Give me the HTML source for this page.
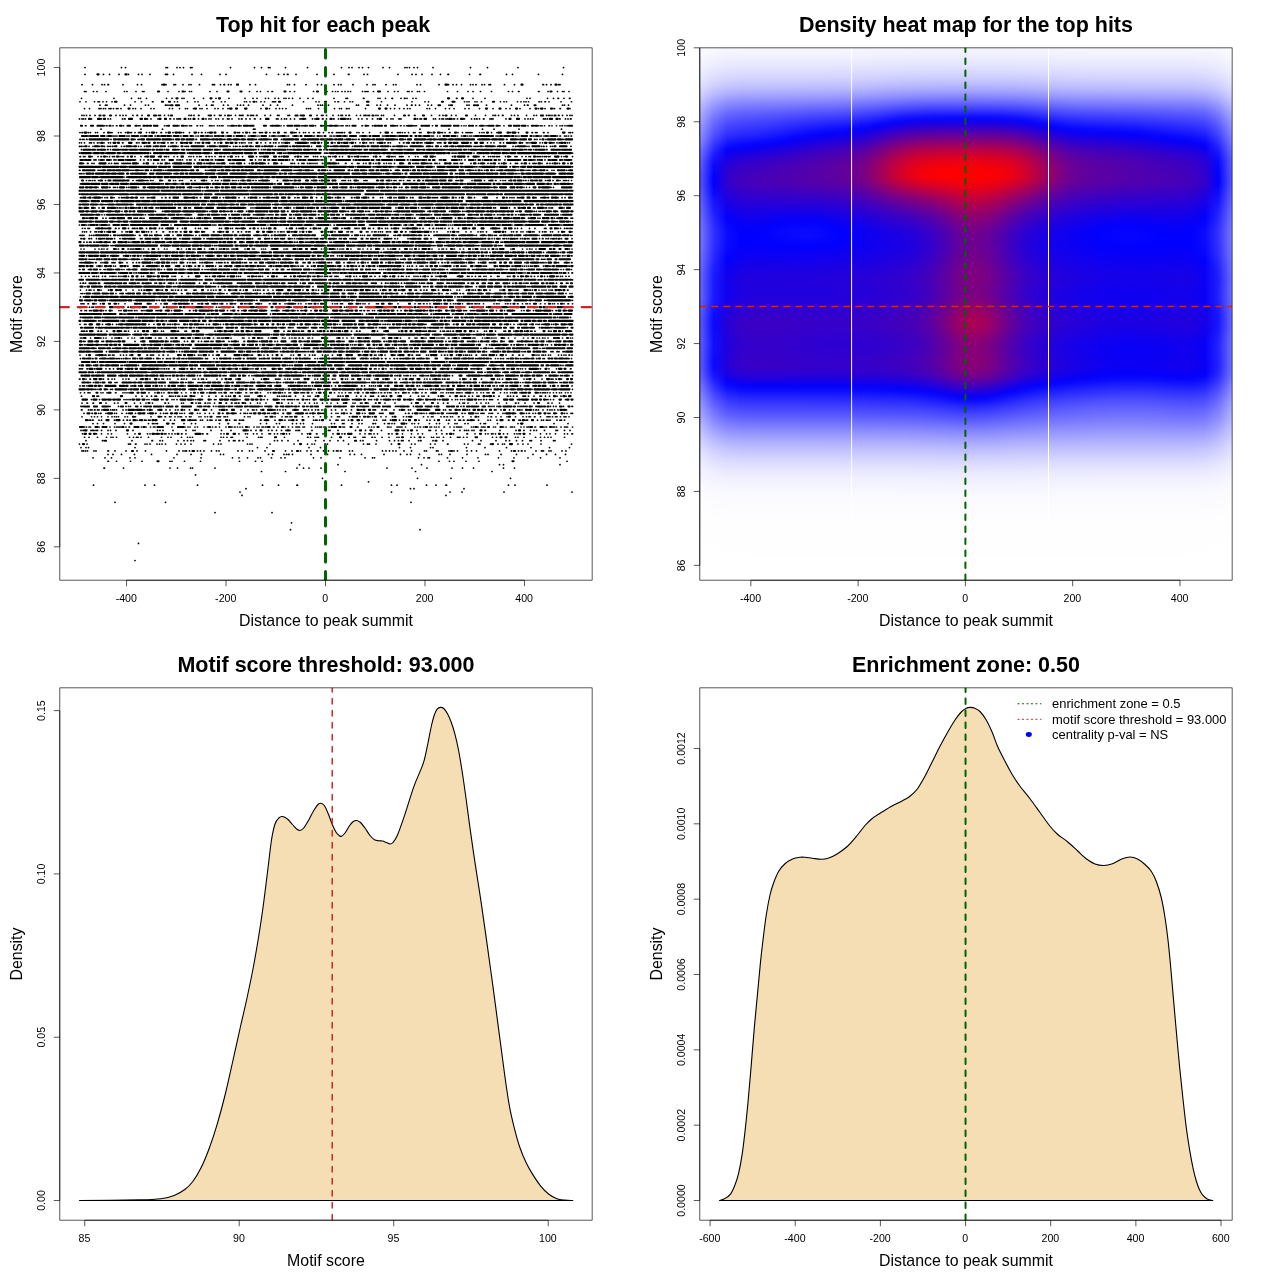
<!DOCTYPE html>
<html><head><meta charset="utf-8"><title>Motif enrichment plots</title>
<style>html,body{margin:0;padding:0;background:#fff}svg{display:block}</style></head>
<body><svg style="will-change:transform" width="1280" height="1280" viewBox="0 0 1280 1280">
<rect width="1280" height="1280" fill="#fff"/>
<clipPath id="c1"><rect x="59.76" y="47.81" width="532.43" height="532.43"/></clipPath>
<g fill="none" stroke="#000" stroke-width="1.7" stroke-linecap="round">
<path d="M239.95 492.05H572.1" stroke-dasharray=".1 151.4 .1 58.4 .1 11.9 .1 41.9 .1 67.9 .1 600"/>
<path d="M245.95 488.63H464.1" stroke-dasharray=".1 164.4 .1 3.4 .1 49.9 .1 600"/>
<path d="M93.45 485.2H547.1" stroke-dasharray=".1 51.4 .1 9.4 .1 42.9 .1 64.9 .1 15.9 .1 18.4 .6 43.9 .1 49.9 .1 5.4 .1 29.4 .1 9.4 .1 9.9 .6 61.9 .1 6.4 .1 31.9 .1 600"/>
<path d="M368.45 481.78H368.6" stroke-dasharray=".1 600"/>
<path d="M322.45 478.36H510.6" stroke-dasharray=".1 94.9 .1 33.4 .1 59.4 .1 600"/>
<path d="M195.45 474.93H195.6" stroke-dasharray=".1 600"/>
<path d="M261.45 471.51H492.1" stroke-dasharray=".1 23.9 .1 59.4 .1 70.4 .1 76.4 .1 600"/>
<path d="M103.95 468.09H514.6" stroke-dasharray=".6 18.9 .1 46.4 .1 7.4 .1 12.9 .1 1.9 .1 22.4 .1 81.9 .1 6.4 .1 5.4 .1 11.9 .1 65.9 .1 24.9 .1 14.9 .1 24.9 .1 10.4 .1 10.9 .1 29.9 .1 10.9 .1 600"/>
<path d="M299.45 464.66H560.1" stroke-dasharray=".1 38.4 .1 83.4 .1 77.9 .1 3.9 .1 56.4 .1 600"/>
<path d="M107.95 461.24H567.1" stroke-dasharray=".6 7.9 .1 13.9 .1 11.4 .1 27.9 .1 1.9 .1 12.4 .1 15.9 .1 38.9 .1 15.9 .1 6.4 .1 176.9 .1 10.4 .1 4.4 .1 11.9 .1 12.9 .1 87.9 .1 600"/>
<path d="M92.95 457.82H560.1" stroke-dasharray=".1 11.9 .1 6.4 .1 18.4 .1 4.9 .1 38.9 .1 26.9 .1 31.4 .1 6.4 .1 8.4 .1 10.4 .1 2.4 .1 10.9 .1 9.4 .1 3.9 .1 28.4 .1 7.4 .1 18.9 .1 24.9 .1 7.4 .1 1.9 .1 43.9 .1 5.4 .1 3.9 .1 1.4 .1 17.9 .1 14.9 .1 15.4 .1 20.4 .1 15.4 .1 13.9 .1 12.4 .1 19.4 .1 600"/>
<path d="M107.95 454.39H565.6" stroke-dasharray=".1 4.9 .1 8.4 .1 12.9 .1 16.9 .1 25.4 .1 13.9 .1 10.4 .1 18.9 .1 2.9 .1 44.9 .1 3.9 .1 11.4 .1 2.4 .1 1.9 .6 3.4 .1 18.4 .1 16.4 .1 22.4 .1 4.4 .1 6.9 .1 22.4 .1 16.4 .1 6.4 .1 3.4 .1 8.9 .1 19.4 .1 2.4 .1 8.4 .1 16.9 .1 18.4 .1 2.4 .1 12.9 .1 15.4 .1 16.4 .1 13.4 .1 8.9 .1 9.9 .1 600"/>
<path d="M81.95 450.97H566.1" stroke-dasharray=".1 1.4 .1 1.9 .1 1.9 .1 6.4 .1 1.9 .1 11.9 .6 6.4 .1 10.9 .1 10.9 .1 8.4 .1 20.9 .1 12.4 .1 3.9 .1 1.9 .1 1.4 .1 2.9 .1 7.9 .1 2.9 .1 3.4 .1 7.4 .1 4.9 .1 2.4 .1 18.9 .1 3.9 .1 7.4 .1 2.9 .1 12.4 .1 20.4 .1 6.4 .1 8.4 .1 6.4 .1 3.9 .1 6.4 .6 5.4 .1 4.9 .1 4.9 .1 2.9 .1 1.4 .1 2.4 .6 8.4 .1 2.9 .1 29.9 .1 3.4 .1 3.4 .1 3.4 .1 2.9 .1 7.9 .1 7.4 .1 12.9 .1 1.9 .1 9.9 .1 1.4 .1 10.9 .1 4.9 .1 3.4 .1 9.4 .1 4.4 .1 4.9 .1 22.9 .1 11.9 .1 6.9 .1 2.9 .6 2.9 .1 10.9 .1 5.4 .6 1.4 .1 5.4 .1 1.9 .1 10.9 .1 3.9 .1 600"/>
<path d="M80.95 447.55H569.6" stroke-dasharray=".1 4.9 .1 2.4 .1 46.4 .1 122.4 .1 9.4 .1 41.9 .1 11.4 .1 78.9 .1 10.9 .1 19.9 .1 2.4 .1 33.4 .1 18.4 .1 21.4 .1 24.4 .1 18.4 .1 19.9 .1 600"/>
<path d="M79.45 444.12H571.6" stroke-dasharray=".1 7.4 .1 41.4 .6 1.4 .1 4.9 .6 8.9 .1 1.9 .1 2.9 .1 6.9 .1 2.4 .1 2.4 .1 3.4 .1 10.9 .1 4.4 .1 3.9 .1 5.9 .1 22.4 .1 4.9 .1 2.4 .1 26.4 .1 2.4 .1 1.9 .1 17.9 .1 23.9 .1 13.4 .1 4.4 .1 2.4 .1 10.4 .6 1.9 .1 20.9 .1 14.9 .1 3.9 .6 1.4 .1 6.4 .1 15.4 .1 19.9 .1 3.4 .1 15.4 .1 4.4 .1 12.4 .6 16.4 .1 3.4 .1 10.4 .1 1.4 .1 10.4 .1 7.4 .1 4.4 .1 1.9 .1 13.4 .1 4.9 .1 4.9 .1 12.9 .1 30.4 .1 600"/>
<path d="M85.95 440.7H555.1" stroke-dasharray=".1 16.4 .6 28.9 .1 19.9 .6 7.4 .1 2.4 .1 15.4 .1 5.9 .1 3.4 .1 3.4 .1 2.4 .1 10.4 .1 1.4 .1 14.4 .1 8.9 .1 4.4 .1 1.4 .1 3.9 .6 3.4 .1 31.4 .1 2.9 .1 4.4 .1 5.9 .1 9.9 .1 17.4 .1 8.4 .1 5.9 .1 7.9 .1 5.4 .1 16.9 .1 2.4 .1 13.4 .1 12.9 .1 4.9 .1 3.9 .1 2.9 .1 1.4 .1 5.9 .1 9.4 .1 1.9 .6 11.9 .1 9.9 .1 29.4 .1 8.4 .1 14.9 .1 9.9 .1 3.4 .1 6.9 .1 5.9 .1 7.4 .1 1.4 .1 9.4 .1 12.4 .1 1.4 .1 600"/>
<path d="M84.45 437.27H564.6" stroke-dasharray=".1 4.4 .1 8.4 .1 8.9 .1 4.4 .1 1.9 .1 3.4 .1 12.9 .1 3.9 .1 2.9 .1 1.4 .1 2.9 .1 7.4 .1 12.9 .1 6.4 .1 2.9 .1 10.4 .1 5.9 .1 2.4 .1 2.4 .1 28.4 .1 2.4 .1 3.4 .1 3.9 .1 1.4 .1 14.4 .1 11.4 .1 1.9 .1 1.4 .1 22.4 .1 22.9 .6 2.4 .1 4.4 .1 1.9 .1 1.4 .1 12.9 .1 17.4 .1 4.9 .1 1.4 .1 7.4 .1 1.4 .6 6.9 .6 2.4 .1 6.9 .1 6.9 .1 7.9 .1 1.9 .1 11.9 .1 3.4 .1 9.4 .1 7.4 .1 1.9 .1 3.4 .1 1.9 .1 4.4 .1 6.9 .1 6.9 .6 1.4 .6 3.4 .1 3.4 .1 25.4 .1 3.9 .1 18.9 .1 2.4 .1 5.9 .1 11.4 .1 4.9 .1 3.9 .1 3.4 .1 2.9 .1 13.4 .1 600"/>
<path d="M82.45 433.85H572.6" stroke-dasharray=".1 13.9 .1 4.9 .1 6.4 .1 3.4 .1 15.9 .1 7.4 .1 12.4 .1 2.4 .1 5.4 .1 3.9 .1 4.9 .1 1.4 .1 2.9 .1 2.9 .1 2.9 .1 6.4 .6 3.9 .1 16.4 .6 3.9 .6 13.4 .1 2.9 .1 14.9 .1 6.4 .1 1.9 .1 5.9 .1 3.4 .1 4.9 .1 6.9 .1 1.4 .1 3.9 .1 2.9 .1 3.4 .1 5.4 .1 2.9 .1 12.4 .1 5.4 .1 8.9 .6 5.9 .1 9.9 .1 8.9 .1 2.4 .6 14.9 .1 4.9 .1 3.9 .6 1.4 .1 2.9 .1 3.4 .1 10.9 .6 2.9 .1 10.4 .1 8.9 .1 6.4 .1 4.4 .1 13.9 .1 5.4 .1 4.4 .6 6.4 .1 13.4 .6 7.4 .1 10.4 .1 2.4 .1 3.4 .1 1.4 .1 2.4 .1 7.9 .1 3.9 .1 6.9 .1 2.4 .1 1.9 .1 1.4 .1 9.4 .1 10.4 .1 5.9 .1 3.4 .1 5.4 .1 8.9 .1 2.9 .1 4.4 .6 600"/>
<path d="M80.95 430.43H570.1" stroke-dasharray=".1 1.9 .6 7.4 .1 1.4 .1 1.4 .1 1.9 .1 1.4 .1 3.9 .1 6.4 .1 2.4 .1 5.4 .1 16.9 .1 24.4 .1 2.4 .1 2.9 .1 9.9 .1 12.9 .1 6.9 .1 1.9 .1 15.9 .1 10.4 .1 9.4 .1 16.9 .1 2.9 .1 4.9 .1 12.4 .1 3.4 .1 4.4 .1 4.9 .1 4.4 .1 3.9 .1 5.9 .1 1.9 .1 1.4 .1 12.4 .1 12.9 .1 3.4 .1 1.4 .1 7.9 .1 17.4 .1 9.9 .1 15.9 .1 20.4 .1 1.4 .6 3.9 .1 8.9 .1 11.9 .1 1.4 .1 5.4 .1 5.4 .1 12.4 .1 5.9 .1 4.4 .1 1.9 .1 1.9 .1 3.4 .1 1.9 .1 10.9 .6 14.4 .1 15.9 .1 7.9 .1 6.4 .1 3.4 .1 2.4 .1 7.9 .1 11.4 .1 1.4 .1 6.9 .1 5.4 .1 600"/>
<path d="M84.45 427H572.6" stroke-dasharray=".1 1.9 .1 2.4 .1 1.4 .1 8.4 .1 10.9 .1 4.4 .1 1.9 .1 1.4 .1 1.4 .1 1.4 .1 4.9 .1 2.9 .6 11.9 .1 4.4 .1 4.4 .1 2.9 .1 1.4 .1 16.9 .1 12.9 .1 2.9 .1 1.9 .1 4.9 .1 2.4 .1 6.4 .1 3.4 .1 4.9 .1 2.9 .6 3.4 .1 6.4 .1 5.4 .6 2.4 .6 2.4 .1 2.4 .1 2.4 .1 6.4 .1 4.9 .1 2.9 .1 1.9 .1 2.9 .1 1.4 .1 1.9 .6 7.4 .6 3.9 .1 6.9 .1 3.4 .1 3.9 .1 3.4 .1 1.4 .6 1.4 .1 3.4 .1 1.4 .1 6.9 .1 3.9 .1 1.9 .1 1.9 .1 1.4 .6 2.4 .1 4.9 .1 13.9 .1 1.4 .1 12.9 .6 10.9 .1 2.4 .1 2.4 .1 13.4 .1 1.4 .1 1.9 .1 5.9 .1 1.4 .1 1.4 .1 1.4 .6 3.4 .1 9.4 .1 2.4 .1 2.4 .6 2.9 .1 6.4 .1 1.4 .1 2.9 .1 1.9 .1 2.4 .1 4.9 .6 5.4 .1 3.9 .1 2.4 .6 1.4 .1 1.4 .1 1.4 .1 9.9 .1 1.9 .1 4.4 .1 3.4 .6 1.4 .1 1.4 .1 8.4 .1 1.9 .1 7.9 .1 2.4 .1 4.4 .1 1.4 .6 1.9 .1 6.4 .1 2.9 .1 2.9 .1 1.4 .6 5.9 .6 8.4 .1 1.9 .6 5.9 .1 1.4 .6 1.9 .1 4.4 .1 3.4 .1 1.4 .1 1.4 .1 4.9 .1 600"/>
<path d="M92.95 423.58H568.1" stroke-dasharray=".1 4.4 .1 5.9 .1 11.4 .1 9.4 .1 23.9 .1 3.9 .1 1.4 .1 1.9 .1 1.4 .1 14.9 .1 1.4 .1 9.9 .1 7.4 .1 3.9 .1 23.9 .1 8.4 .6 10.4 .6 20.9 .1 5.9 .1 9.9 .1 2.9 .1 12.9 .1 3.9 .1 3.9 .1 2.9 .1 8.9 .1 18.9 .1 2.9 .1 7.9 .1 1.4 .1 7.9 .1 6.9 .1 2.9 .1 10.9 .6 1.9 .1 8.9 .1 3.4 .1 1.4 .1 2.4 .1 2.4 .1 11.9 .1 5.4 .1 2.4 .1 3.9 .1 10.9 .1 6.9 .1 2.9 .1 8.9 .1 6.4 .1 1.9 .1 7.9 .1 2.9 .1 12.4 .1 3.4 .1 1.4 .1 11.9 .1 20.4 .1 35.9 .1 13.9 .1 600"/>
<path d="M88.95 420.16H564.6" stroke-dasharray=".1 1.4 .1 1.9 .6 5.9 .1 2.4 .1 12.9 .1 8.9 .1 3.4 .6 2.4 .1 6.9 .1 2.4 .1 4.9 .1 1.4 .1 2.4 .1 1.4 .1 13.9 .1 6.4 .1 3.9 .1 13.4 .1 3.9 .6 1.4 .1 1.4 .6 4.4 .1 1.9 .1 4.9 .1 2.4 .6 1.4 .1 3.9 .1 2.9 .1 1.4 .1 8.9 .1 4.9 .1 1.4 .1 3.4 .6 1.9 .1 1.4 .1 16.9 .6 3.4 .1 3.9 .1 6.4 .1 7.4 .1 2.4 .1 3.9 .1 1.9 .1 5.4 .6 16.4 .1 1.9 .1 1.4 .1 2.4 .1 10.4 .1 5.9 .6 1.4 .1 3.9 .1 1.9 .1 4.4 .1 13.4 .1 11.9 .1 2.4 .1 6.4 .1 1.9 .6 4.9 .1 8.9 .1 3.9 .1 2.4 .1 12.9 .1 7.9 .1 2.9 .1 4.4 .1 11.9 .1 2.4 .6 5.4 .1 3.9 .1 1.4 .1 2.9 .6 3.4 .1 1.4 .1 4.4 .6 4.4 .1 9.4 .1 2.4 .1 6.4 .1 11.4 .6 9.9 .1 1.4 .1 5.4 .1 1.4 .1 9.9 .1 3.9 .1 1.9 .1 2.9 .1 1.4 .1 1.9 .1 6.9 .1 2.9 .1 1.4 .1 2.9 .1 600"/>
<path d="M81.95 416.73H569.1" stroke-dasharray=".1 9.4 .1 2.9 .1 2.9 .1 3.9 .1 6.4 .1 3.9 .1 2.4 .1 1.9 .1 1.9 .1 6.4 .1 2.4 .1 7.9 .1 15.4 .1 10.4 .1 3.4 .6 3.9 .1 1.4 .1 3.9 .1 2.9 .1 1.9 .1 1.4 .1 4.4 .1 3.4 .1 1.4 .1 7.9 .1 1.9 .1 3.9 .1 2.4 .1 9.4 .1 1.4 .1 1.4 .6 3.4 .1 1.4 .1 1.9 .1 16.9 .1 3.4 .1 1.9 .1 15.4 .1 1.4 .1 7.9 .1 6.9 .1 3.4 .6 1.4 .1 2.4 .6 1.4 .1 10.4 .1 5.9 .1 4.9 .1 6.9 .1 10.9 .1 5.9 .6 1.4 .1 9.9 .1 10.4 .1 9.9 .1 2.4 .1 8.4 .1 4.9 .1 6.4 .1 10.9 .1 2.9 .1 1.9 .1 14.9 .1 4.4 .1 3.4 .1 1.4 .1 7.9 .1 2.9 .6 2.4 .6 2.9 .1 1.9 .1 5.9 .6 3.9 .1 7.9 .1 7.4 .1 9.4 .1 2.9 .6 4.4 .1 4.9 .1 5.9 .1 8.4 .1 7.4 .1 3.4 .1 2.4 .1 1.4 .1 3.9 .6 5.4 .1 6.4 .1 1.4 .1 1.4 .1 2.4 .1 2.9 .1 1.4 .1 3.4 .1 3.4 .1 1.4 .6 2.9 .1 600"/>
<path d="M83.95 413.31H572.6" stroke-dasharray=".1 7.9 .6 5.9 .1 1.9 .6 4.9 .1 8.4 .1 1.9 .1 5.4 .1 4.4 .1 1.9 .1 6.9 .1 12.4 .1 7.4 .6 4.4 .1 2.9 .1 1.9 .1 1.4 .6 6.9 .1 5.4 .1 1.9 .1 2.4 .1 4.9 .1 7.9 .1 2.4 .1 4.9 .1 4.4 .1 3.9 .1 8.9 .6 6.9 .1 5.4 .6 4.4 .1 3.4 .1 1.4 .1 1.9 .1 2.4 .1 1.4 .1 10.9 .1 4.9 .1 1.4 .6 2.4 .1 5.9 .1 4.9 .6 11.9 .1 10.4 .1 1.4 .1 2.4 .6 4.4 .1 5.4 .1 1.4 .1 1.4 .6 7.4 .1 4.4 .1 1.9 .1 3.4 .6 4.9 .1 3.4 .6 11.4 .1 2.4 .1 14.4 .1 1.4 .1 1.4 .6 22.4 .1 2.9 .6 3.4 .1 7.4 .1 1.4 .6 1.9 .1 2.4 .1 2.9 .1 5.4 .6 1.9 .1 1.4 .1 7.9 .1 1.9 .1 1.4 .1 1.4 .1 1.4 .6 7.9 .6 2.4 .1 10.9 .1 1.9 .1 2.9 .1 1.4 .1 1.4 .1 4.9 .1 1.9 .1 1.4 .1 5.4 .1 4.9 .1 1.9 .1 10.4 .1 7.9 .6 2.4 .1 2.4 .6 3.4 .1 2.4 .1 12.4 .6 1.4 .1 6.4 .1 7.9 .1 2.4 .1 3.9 .1 1.4 .1 600"/>
<path d="M81.45 409.89H566.6" stroke-dasharray=".6 6.4 .1 1.9 .1 1.4 .1 2.4 .6 2.4 .1 1.4 .1 2.9 .1 8.4 .1 1.9 .6 1.4 .1 1.9 .1 6.4 .1 2.9 .1 9.4 .1 7.4 .1 1.4 .1 2.9 .1 4.4 .1 5.9 .1 7.9 .1 3.9 .1 5.4 .1 2.4 .1 6.4 .1 4.9 .1 8.9 .1 7.4 .6 4.9 .1 7.9 .6 6.4 .6 13.9 .1 6.9 .1 4.4 .1 1.4 .1 2.4 .1 4.4 .1 12.4 .1 1.4 .1 2.4 .1 2.4 .1 2.9 .1 2.4 .1 7.4 .1 4.4 .6 5.9 .6 1.4 .1 2.4 .1 3.4 .1 3.4 .1 2.4 .6 3.4 .1 2.4 .1 1.4 .1 5.4 .1 3.9 .1 6.4 .1 3.9 .1 5.4 .1 8.4 .1 1.4 .1 11.4 .6 1.4 .6 6.4 .6 2.4 .1 1.4 .1 7.4 .1 5.4 .1 4.9 .1 3.9 .1 1.9 .1 18.9 .1 13.9 .1 1.9 .1 3.9 .1 1.4 .1 6.9 .1 1.4 .6 7.4 .1 1.9 .1 15.9 .6 8.4 .1 1.4 .1 4.9 .1 8.4 .1 3.9 .1 3.9 .6 1.4 .6 1.9 .1 6.4 .1 4.9 .1 2.4 .6 1.9 .1 4.4 .1 4.4 .1 2.4 .1 1.9 .1 2.4 .1 3.4 .1 8.4 .1 600"/>
<path d="M80.95 406.46H572.6" stroke-dasharray=".1 1.4 .1 25.9 .1 1.4 .1 8.4 .1 7.4 .1 2.4 .1 1.9 .1 10.4 .1 2.9 .1 4.4 .1 14.9 .1 33.9 .1 6.4 .1 1.4 .6 7.4 .1 2.4 .1 10.4 .1 4.4 .1 1.4 .1 2.4 .1 12.4 .6 11.9 .1 1.9 .1 2.9 .1 1.4 .1 13.9 .1 10.4 .6 1.4 .1 5.4 .6 7.4 .1 1.4 .1 6.4 .1 15.9 .6 14.4 .6 7.9 .1 2.9 .6 1.4 .1 1.4 .6 5.4 .6 1.4 .1 16.9 .1 9.9 .1 1.4 .1 1.4 .6 14.4 .1 11.9 .1 8.9 .1 26.4 .1 2.4 .6 14.4 .1 9.9 .1 1.4 .1 1.9 .1 1.9 .1 2.9 .1 20.9 .1 1.9 .1 1.4 .6 1.4 .6 1.4 .1 1.4 .1 4.9 .1 3.9 .6 13.9 .1 2.9 .1 2.4 .1 7.4 .1 8.4 .6 600"/>
<path d="M81.95 403.04H559.6" stroke-dasharray=".1 4.9 .6 5.4 .6 12.4 .1 8.4 .1 3.4 .1 16.4 .1 5.9 .1 5.4 .1 6.4 .1 12.4 .6 2.9 .1 12.9 .1 1.9 .1 12.4 .1 2.4 .6 1.4 .1 4.4 .6 2.4 .1 1.9 .1 4.4 .1 11.4 .6 4.9 .6 2.9 .1 1.4 .1 1.9 .6 5.9 .6 4.9 .1 6.9 .1 2.4 .1 5.9 .1 15.4 .6 6.4 .1 3.4 .1 7.4 .1 5.4 .1 4.4 .1 4.9 .1 2.4 .1 5.4 .1 4.4 .1 3.9 .1 6.4 .1 5.9 .6 8.9 .1 1.9 .1 5.4 .1 1.4 .1 5.9 .1 7.4 .6 8.9 .1 9.9 .1 16.4 .1 12.4 .1 13.9 .1 5.4 .1 3.9 .6 11.4 .1 3.4 .1 1.4 .1 3.4 .1 8.4 .1 4.4 .1 4.9 .1 2.4 .1 10.4 .1 7.4 .1 8.9 .6 2.4 .1 6.4 .1 8.9 .1 13.9 .6 3.4 .1 7.4 .1 600"/>
<path d="M91.45 399.62H565.6" stroke-dasharray=".1 7.9 .1 12.4 .1 11.9 .1 1.9 .1 1.9 .1 1.9 .6 16.4 .1 1.9 .1 2.9 .1 9.4 .1 1.4 .1 8.9 .1 1.9 .1 2.9 .1 16.4 .1 1.9 .1 1.9 .1 4.9 .1 8.4 .1 3.4 .1 1.4 .1 14.4 .1 6.9 .6 1.9 .1 23.9 .1 3.4 .1 11.4 .1 2.9 .1 1.9 .6 2.9 .1 1.4 .1 1.4 .1 1.4 .6 1.9 .1 2.4 .1 1.4 .1 7.4 .1 1.4 .1 1.9 .1 6.4 .1 32.9 .1 3.4 .1 1.4 .6 6.9 .1 6.9 .6 1.9 .6 2.9 .1 6.4 .1 2.4 .1 6.9 .1 2.4 .6 1.9 .1 11.4 .6 5.4 .1 3.9 .1 5.9 .1 5.9 .1 1.4 .6 1.4 .1 4.9 .1 1.9 .6 11.9 .1 3.4 .1 1.9 .1 2.9 .1 1.9 .1 1.9 .1 13.9 .6 1.9 .1 2.4 .6 2.4 .1 2.9 .1 1.4 .1 1.4 .1 5.4 .1 19.4 .1 28.9 .1 1.4 .1 2.4 .1 2.9 .1 11.9 .1 600"/>
<path d="M81.45 396.19H566.1" stroke-dasharray=".1 15.4 .1 1.4 .1 37.4 .1 5.9 .1 4.9 .1 4.4 .1 3.4 .1 1.4 .1 5.4 .1 7.4 .1 1.4 .1 1.9 .1 2.4 .1 2.4 .1 1.4 .1 2.9 .1 2.4 .1 1.4 .1 6.4 .1 1.4 .1 7.4 .1 6.9 .1 6.9 .1 5.9 .6 3.4 .1 2.4 .1 1.9 .1 8.9 .6 4.9 .1 1.9 .1 1.9 .1 8.9 .1 3.9 .1 2.9 .1 12.4 .1 1.9 .1 2.4 .1 1.9 .6 1.9 .1 2.4 .1 1.4 .1 4.9 .1 7.9 .1 4.4 .1 1.9 .1 5.4 .1 8.9 .1 3.9 .1 9.4 .6 1.9 .1 2.4 .1 13.4 .1 4.4 .1 4.4 .1 4.9 .1 1.4 .1 1.4 .1 4.9 .1 3.4 .1 1.4 .6 2.4 .1 11.4 .1 12.4 .1 7.9 .1 3.4 .1 1.9 .1 4.4 .1 9.9 .1 4.9 .1 6.4 .1 10.4 .1 1.4 .1 2.4 .6 3.9 .1 3.4 .1 4.4 .1 1.4 .6 7.4 .1 1.4 .1 5.4 .6 4.9 .1 8.4 .6 2.4 .1 2.9 .1 3.4 .1 5.9 .6 1.4 .6 2.9 .1 5.4 .1 5.9 .1 1.4 .1 3.9 .1 3.9 .1 7.4 .1 3.9 .1 4.9 .1 600"/>
<path d="M80.45 392.77H571.1" stroke-dasharray=".1 3.9 .1 3.4 .6 1.4 .1 10.9 .1 1.9 .1 3.9 .1 8.4 .6 6.9 .1 1.9 .1 1.9 .1 1.9 .1 19.9 .1 5.9 .1 6.4 .1 2.4 .1 7.4 .6 9.4 .1 4.4 .1 4.9 .1 6.9 .1 8.9 .1 5.4 .1 6.4 .1 1.9 .6 8.9 .1 1.4 .6 2.9 .1 5.4 .1 4.9 .6 3.9 .1 1.4 .6 7.9 .1 7.4 .1 2.4 .1 5.9 .1 5.9 .1 2.4 .1 3.9 .1 1.4 .1 7.9 .1 2.4 .1 1.4 .6 1.4 .1 7.4 .1 4.4 .1 17.9 .1 4.4 .1 2.9 .1 3.4 .1 3.4 .1 1.4 .6 3.9 .1 7.9 .1 7.4 .1 5.4 .1 2.4 .1 2.4 .6 2.9 .6 2.4 .1 1.9 .1 1.4 .1 4.4 .6 2.4 .1 6.9 .6 2.4 .6 3.9 .1 4.9 .1 3.9 .1 3.4 .6 4.9 .1 9.9 .1 1.9 .1 3.4 .1 1.9 .1 1.9 .1 1.4 .1 1.4 .1 2.9 .1 1.4 .1 1.4 .6 1.9 .1 3.4 .1 7.4 .1 3.9 .1 3.9 .1 2.4 .1 3.4 .1 1.4 .6 11.4 .1 3.9 .1 2.4 .1 3.4 .1 1.9 .1 7.4 .1 18.4 .1 1.9 .1 1.9 .1 1.4 .1 1.4 .1 1.9 .1 2.4 .1 3.4 .1 2.9 .1 2.9 .1 1.9 .1 3.9 .1 2.4 .1 2.9 .1 600"/>
<path d="M93.45 389.35H572.6" stroke-dasharray=".6 1.4 .6 1.9 .1 9.4 .1 2.9 .1 1.4 .6 15.9 .6 15.9 .1 27.4 .1 16.4 .1 7.4 .1 7.9 .6 1.9 .1 1.9 .1 4.9 .6 16.4 .1 1.9 .1 19.4 .6 1.4 .1 2.9 .1 14.9 .1 1.4 .1 11.9 .1 27.4 .1 1.4 .1 5.4 .1 1.9 .1 1.9 .1 4.9 .1 37.4 .6 7.4 .6 22.4 .6 6.9 .1 13.4 .6 1.4 .1 1.4 .6 2.4 .1 1.9 .1 5.9 .1 8.4 .1 1.4 .6 46.9 .1 13.4 .1 4.4 .1 6.4 .1 8.4 .1 7.9 .1 18.9 .6 6.4 .6 13.9 .1 600"/>
<path d="M79.95 385.92H572.1" stroke-dasharray=".1 2.4 .1 1.4 .6 2.4 .1 14.9 .1 28.9 .1 1.4 .6 5.4 .6 13.9 .6 5.9 .1 1.9 .6 2.9 .1 12.9 .1 1.4 .1 5.4 .1 13.9 .1 5.9 .1 4.4 .1 13.4 .1 6.4 .1 2.4 .6 1.9 .1 7.4 .1 1.9 .6 4.4 .1 1.4 .1 1.4 .6 3.9 .1 8.9 .1 2.4 .6 6.4 .1 13.4 .6 11.9 .1 1.4 .1 1.9 .6 1.4 .1 1.9 .1 1.4 .1 2.4 .1 18.9 .1 3.9 .1 6.4 .1 1.4 .1 13.4 .1 4.4 .6 2.4 .1 4.9 .1 1.9 .1 1.9 .1 1.9 .1 2.4 .1 6.9 .6 13.9 .1 10.4 .1 6.9 .6 1.9 .1 3.4 .1 8.9 .1 1.9 .1 7.4 .1 1.4 .1 1.9 .1 17.4 .6 1.4 .1 2.9 .1 17.9 .1 1.9 .1 5.4 .1 1.4 .1 2.4 .1 2.9 .1 5.9 .1 1.4 .1 2.4 .6 9.9 .1 3.9 .1 1.4 .1 6.9 .6 16.9 .1 7.4 .1 6.4 .6 6.9 .1 600"/>
<path d="M89.95 382.5H561.6" stroke-dasharray=".6 2.9 .1 6.9 .1 14.4 .1 1.4 .6 15.4 .1 4.4 .1 6.9 .1 34.4 .1 6.9 .6 6.9 .1 4.9 .1 1.4 .1 1.4 .1 4.4 .6 18.4 .1 5.4 .1 15.9 .6 1.4 .6 12.4 .1 1.9 .1 7.4 .1 1.4 .1 1.9 .1 5.9 .6 2.9 .1 11.9 .1 37.9 .1 1.4 .1 31.9 .1 1.9 .6 15.9 .6 14.4 .6 1.4 .1 6.9 .6 61.9 .1 7.4 .1 8.9 .1 9.9 .1 1.4 .1 2.9 .1 1.4 .1 4.4 .1 11.4 .1 2.4 .1 7.9 .1 9.9 .6 13.4 .6 1.4 .1 2.9 .1 1.4 .1 600"/>
<path d="M79.45 379.08H561.6" stroke-dasharray=".6 5.9 .1 3.9 .6 12.4 .6 4.4 .6 3.4 .1 2.4 .1 8.4 .1 2.9 .1 2.4 .6 7.4 .1 3.9 .1 9.4 .1 8.9 .1 2.9 .1 1.4 .1 3.9 .1 2.4 .1 7.9 .1 3.4 .6 1.9 .1 2.4 .1 6.4 .1 1.9 .1 3.4 .1 2.9 .1 1.4 .6 2.9 .1 10.4 .1 4.9 .1 6.4 .1 7.4 .1 17.4 .1 7.9 .1 6.4 .6 6.9 .1 1.4 .1 1.4 .1 1.4 .1 4.9 .1 2.4 .1 1.9 .6 3.9 .1 1.9 .1 1.4 .1 1.4 .1 15.9 .1 2.4 .1 3.4 .1 4.9 .6 1.9 .1 3.9 .6 1.9 .1 10.4 .1 1.9 .1 4.4 .1 1.4 .1 10.9 .1 2.4 .1 1.9 .6 5.4 .1 7.9 .6 5.4 .1 5.9 .1 4.4 .1 3.4 .1 6.4 .1 14.9 .1 2.4 .1 2.9 .1 2.9 .1 4.9 .6 1.4 .1 2.4 .1 1.9 .6 2.4 .1 1.4 .1 10.9 .1 5.9 .1 4.4 .1 10.9 .1 15.9 .1 1.9 .1 2.9 .1 8.9 .1 1.9 .1 1.4 .6 1.4 .1 6.9 .1 2.4 .1 1.4 .1 6.4 .1 7.4 .1 8.9 .6 1.4 .1 2.9 .6 4.9 .1 600"/>
<path d="M118.95 375.65H572.6" stroke-dasharray=".1 24.9 .1 4.9 .1 16.4 .1 1.4 .1 1.9 .1 1.4 .1 8.4 .1 4.9 .6 2.4 .1 10.4 .1 2.4 .6 22.4 .1 1.4 .1 1.4 .1 19.4 .1 3.4 .1 2.9 .1 1.9 .6 10.9 .6 17.9 .6 18.4 .6 1.9 .1 2.9 .1 1.4 .1 2.4 .1 47.4 .1 1.9 .6 1.9 .6 8.4 .1 21.4 .1 1.9 .6 6.4 .1 1.9 .1 1.4 .6 2.4 .1 2.9 .1 1.9 .1 4.4 .6 4.4 .1 1.9 .1 1.4 .1 7.9 .6 5.9 .1 5.9 .6 2.9 .1 14.4 .1 13.9 .6 1.4 .1 1.4 .1 16.4 .1 1.4 .6 12.9 .1 1.4 .6 11.4 .6 11.4 .6 3.9 .1 11.9 .1 2.4 .6 1.4 .1 1.9 .1 4.4 .1 3.4 .1 600"/>
<path d="M95.45 372.23H555.1" stroke-dasharray=".1 27.9 .1 24.4 .6 1.4 .1 26.9 .6 24.4 .1 5.4 .6 20.4 .6 28.9 .6 1.4 .1 17.9 .1 14.9 .1 4.9 .1 1.9 .6 39.4 .1 6.4 .1 14.4 .1 24.4 .1 47.4 .1 41.4 .1 10.4 .1 14.9 .1 2.9 .1 7.9 .6 10.4 .6 1.4 .1 6.9 .6 22.9 .6 600"/>
<path d="M79.45 368.8H571.1" stroke-dasharray=".1 1.4 .1 1.4 .1 4.4 .6 6.9 .6 10.9 .1 3.4 .6 3.4 .1 11.9 .6 33.9 .1 1.9 .1 1.9 .6 1.9 .1 1.9 .6 4.9 .6 4.9 .1 7.4 .6 7.4 .1 3.4 .6 1.4 .1 2.9 .1 16.4 .1 6.9 .1 4.9 .1 1.9 .1 5.9 .1 8.9 .1 1.9 .1 1.9 .1 2.4 .1 5.9 .1 2.4 .1 1.4 .1 10.4 .1 5.9 .1 3.9 .6 4.4 .1 12.4 .1 6.9 .1 2.4 .1 15.4 .1 8.4 .1 5.9 .1 7.4 .1 23.9 .1 1.4 .1 2.9 .1 6.9 .1 4.4 .1 1.4 .1 2.4 .1 4.9 .1 7.4 .1 15.9 .1 1.4 .1 5.4 .1 10.4 .1 3.9 .1 1.4 .1 5.4 .1 2.9 .6 9.4 .1 6.4 .6 1.4 .1 1.4 .1 1.4 .1 4.9 .6 8.9 .1 6.4 .6 1.4 .1 1.9 .1 5.9 .6 1.4 .1 7.9 .1 1.4 .1 1.9 .1 1.9 .1 2.9 .1 12.9 .1 1.9 .1 8.4 .1 7.4 .1 13.9 .6 600"/>
<path d="M79.45 365.38H565.6" stroke-dasharray=".1 11.4 .1 2.4 .6 9.4 .6 6.4 .1 10.4 .1 1.4 .1 1.9 .6 13.4 .1 28.4 .6 59.9 .1 4.4 .1 5.9 .6 1.4 .1 5.4 .1 4.9 .6 14.4 .1 21.9 .1 1.9 .6 1.9 .6 12.9 .6 37.9 .1 4.4 .1 15.4 .1 20.4 .1 21.4 .1 15.4 .6 7.9 .6 12.4 .1 9.9 .1 1.9 .1 15.9 .6 14.4 .1 3.4 .1 5.9 .1 1.4 .1 1.9 .1 19.4 .6 30.9 .1 10.4 .6 1.9 .1 2.4 .1 600"/>
<path d="M97.45 361.96H568.1" stroke-dasharray=".1 29.9 .1 48.9 .1 11.9 .6 22.9 .1 1.4 .6 5.4 .1 63.4 .1 10.9 .1 1.9 .6 31.4 .1 16.4 .1 86.9 .1 14.9 .6 41.4 .1 79.4 .1 600"/>
<path d="M80.45 358.53H571.6" stroke-dasharray=".1 5.4 .6 5.9 .6 6.9 .6 6.4 .1 1.4 .1 7.4 .6 1.4 .1 1.4 .1 1.9 .1 1.9 .1 4.4 .1 1.9 .1 7.4 .1 7.4 .1 8.4 .1 6.4 .1 2.9 .1 3.4 .1 1.4 .1 1.9 .6 6.4 .1 4.9 .1 1.4 .6 1.9 .6 15.9 .1 2.9 .1 1.4 .6 6.4 .1 2.9 .1 16.4 .1 1.9 .1 1.4 .6 5.9 .6 15.4 .6 1.4 .6 3.9 .1 16.9 .6 9.9 .1 8.4 .6 6.9 .6 4.9 .1 2.4 .1 2.4 .6 10.9 .1 12.9 .6 4.4 .1 10.9 .1 7.4 .1 2.9 .6 4.4 .1 5.4 .6 3.4 .6 3.9 .1 3.9 .6 2.4 .6 2.4 .6 1.4 .1 1.4 .6 5.9 .1 6.9 .1 1.4 .1 4.9 .6 4.9 .1 19.9 .1 1.9 .6 10.4 .1 13.4 .6 1.4 .1 12.9 .6 4.4 .1 2.4 .1 2.4 .6 1.9 .6 3.4 .1 1.4 .1 9.4 .6 1.9 .6 1.9 .1 1.4 .1 3.9 .1 1.4 .1 6.4 .6 5.9 .1 1.4 .1 13.4 .1 6.4 .1 3.9 .6 2.4 .1 600"/>
<path d="M79.95 355.11H572.1" stroke-dasharray=".1 6.4 .1 9.4 .1 1.4 .1 6.4 .1 1.4 .6 2.4 .1 1.4 .1 2.4 .1 1.4 .1 6.4 .1 2.9 .1 2.9 .1 3.4 .1 16.9 .6 2.9 .1 1.4 .1 1.4 .1 5.4 .1 3.9 .6 4.4 .1 12.4 .6 13.4 .1 3.9 .6 1.9 .1 7.9 .1 3.9 .1 3.4 .1 8.4 .6 15.9 .1 7.4 .1 1.9 .1 1.4 .1 8.4 .1 2.9 .1 3.4 .6 4.4 .1 8.9 .6 8.9 .1 2.4 .1 11.4 .1 4.4 .1 2.9 .1 1.9 .6 7.4 .1 5.4 .1 4.4 .1 4.9 .6 23.9 .1 12.4 .1 1.4 .1 2.9 .1 5.9 .1 9.4 .6 2.9 .1 13.9 .6 3.9 .1 1.4 .1 1.4 .6 6.4 .1 1.9 .1 12.9 .1 2.9 .6 2.4 .1 8.9 .1 6.9 .1 1.9 .6 1.4 .1 1.9 .1 1.9 .1 4.4 .6 5.4 .1 1.4 .1 1.4 .1 1.4 .1 9.9 .1 9.4 .1 6.4 .6 5.9 .6 3.4 .1 11.9 .1 1.9 .1 1.9 .1 2.9 .1 1.4 .1 1.9 .1 2.9 .1 1.9 .1 7.9 .1 2.9 .1 2.4 .1 1.9 .1 2.9 .6 2.4 .1 600"/>
<path d="M91.95 351.69H565.1" stroke-dasharray=".1 1.4 .1 12.9 .1 13.4 .1 1.9 .6 6.9 .1 4.9 .1 1.4 .1 25.9 .1 4.9 .1 1.4 .1 7.9 .1 2.9 .1 2.4 .6 25.9 .1 8.4 .6 17.9 .1 8.9 .1 7.9 .1 1.4 .1 1.4 .1 19.9 .6 1.4 .1 2.9 .6 4.4 .1 4.4 .1 8.9 .1 1.4 .1 1.4 .6 1.4 .6 1.4 .1 1.9 .6 1.9 .6 20.4 .1 4.9 .1 7.4 .1 15.4 .1 2.9 .1 12.4 .6 2.4 .6 14.9 .1 16.4 .6 1.4 .1 4.4 .1 1.4 .1 23.4 .1 1.4 .6 1.9 .6 18.4 .6 15.4 .1 5.9 .1 4.4 .1 9.4 .1 9.9 .1 1.4 .1 9.9 .1 1.9 .1 1.4 .1 20.4 .1 4.9 .1 1.4 .6 3.9 .6 1.4 .1 3.9 .1 1.4 .6 600"/>
<path d="M90.45 348.26H544.6" stroke-dasharray=".1 4.9 .6 9.9 .1 6.4 .1 1.4 .6 7.9 .1 4.9 .1 36.9 .1 9.9 .1 18.4 .6 1.4 .1 27.4 .1 1.4 .1 1.4 .1 6.4 .1 29.4 .1 8.9 .1 1.4 .1 16.4 .1 12.9 .6 30.9 .1 32.9 .6 5.4 .1 1.9 .6 1.9 .6 7.9 .6 10.9 .1 5.9 .1 29.9 .6 15.4 .1 32.4 .1 2.4 .1 4.9 .6 1.9 .1 1.4 .1 2.9 .1 33.9 .1 10.4 .1 2.4 .1 1.4 .6 600"/>
<path d="M82.45 344.84H568.1" stroke-dasharray=".1 1.9 .1 1.4 .1 8.4 .1 4.9 .1 1.4 .6 1.4 .1 1.4 .1 8.4 .1 28.4 .6 4.9 .6 1.4 .1 3.9 .1 9.4 .1 10.4 .6 2.4 .6 8.9 .6 1.4 .1 42.4 .1 1.4 .6 15.4 .6 11.9 .1 6.4 .1 7.4 .1 6.4 .6 1.4 .6 1.4 .1 6.9 .6 8.9 .1 17.9 .1 1.4 .1 5.4 .1 1.9 .6 16.4 .1 5.4 .1 1.9 .1 1.9 .1 1.4 .1 6.9 .1 13.4 .6 12.4 .1 2.9 .1 5.9 .1 1.4 .1 1.4 .6 4.4 .6 2.4 .6 1.4 .6 24.4 .6 6.4 .1 5.4 .1 10.4 .1 16.9 .1 9.9 .1 2.9 .1 11.9 .1 6.4 .1 2.9 .6 2.4 .6 5.9 .6 1.4 .6 2.4 .1 14.4 .1 5.4 .1 1.9 .1 3.9 .1 9.9 .1 6.4 .1 600"/>
<path d="M83.45 341.42H567.6" stroke-dasharray=".1 1.4 .1 9.9 .1 6.9 .1 1.4 .1 8.9 .1 1.4 .1 1.4 .1 1.4 .1 17.9 .1 5.9 .1 18.4 .1 8.4 .1 2.9 .6 7.4 .1 5.4 .1 2.9 .1 10.9 .1 2.9 .1 2.9 .1 1.4 .6 1.4 .6 2.4 .6 1.4 .1 8.9 .1 1.4 .6 4.9 .1 2.4 .1 1.4 .1 4.9 .1 5.9 .6 10.9 .1 1.4 .1 2.4 .1 15.4 .1 2.4 .1 13.9 .1 10.4 .1 1.9 .6 1.4 .1 14.9 .1 15.4 .1 5.4 .6 1.4 .1 9.4 .1 2.4 .1 6.4 .6 17.4 .1 3.4 .6 1.9 .1 11.9 .6 14.9 .1 10.9 .1 20.9 .1 2.9 .1 1.4 .1 7.4 .1 1.9 .1 7.4 .1 1.4 .6 1.4 .1 4.9 .1 2.4 .1 5.4 .1 1.4 .1 6.4 .1 4.9 .1 6.9 .1 13.4 .6 1.4 .6 3.9 .6 3.9 .6 1.4 .1 1.4 .6 7.4 .1 6.9 .1 4.4 .1 1.9 .1 1.9 .1 11.4 .6 600"/>
<path d="M80.45 337.99H572.6" stroke-dasharray=".1 1.4 .1 8.4 .1 9.9 .6 2.4 .1 2.4 .1 5.9 .1 2.9 .1 1.4 .6 4.4 .1 6.4 .1 3.9 .1 2.4 .1 5.9 .1 4.9 .1 1.4 .1 8.4 .1 3.4 .6 1.4 .1 5.4 .1 4.4 .1 1.4 .6 11.9 .1 2.4 .1 5.4 .1 6.9 .1 2.4 .1 1.9 .6 8.4 .1 3.9 .6 1.4 .1 1.9 .1 1.4 .6 7.4 .1 11.4 .1 1.4 .1 4.9 .1 11.9 .1 1.4 .1 5.9 .1 2.4 .6 10.9 .6 1.9 .1 4.4 .1 2.4 .1 2.4 .1 1.4 .1 2.9 .6 2.9 .6 4.9 .1 1.4 .1 2.9 .1 11.9 .1 2.4 .6 9.4 .1 5.9 .1 3.9 .1 4.4 .1 1.9 .1 7.4 .6 1.9 .1 6.4 .1 12.4 .6 1.4 .1 9.9 .6 5.4 .1 8.4 .6 5.4 .1 1.4 .6 6.9 .1 1.9 .1 10.9 .1 1.9 .1 1.9 .1 1.4 .1 1.4 .1 4.4 .6 3.4 .6 5.9 .1 2.9 .1 10.9 .6 1.4 .1 7.4 .1 2.4 .1 4.4 .1 1.9 .6 1.9 .1 1.9 .1 8.4 .1 3.9 .1 6.4 .1 8.4 .1 4.4 .1 8.9 .1 2.4 .1 2.9 .6 1.9 .1 2.9 .1 14.4 .1 7.9 .1 1.9 .1 600"/>
<path d="M129.45 334.57H568.1" stroke-dasharray=".6 2.9 .1 10.4 .1 4.4 .1 2.4 .1 42.9 .6 11.9 .1 1.4 .1 24.4 .6 19.4 .6 18.9 .1 49.4 .6 29.9 .1 32.9 .6 1.9 .1 34.9 .1 1.4 .1 8.9 .6 7.4 .6 2.4 .1 13.9 .6 12.9 .1 1.9 .6 1.4 .1 20.4 .1 17.4 .6 47.4 .1 6.9 .1 600"/>
<path d="M81.45 331.15H571.6" stroke-dasharray=".1 1.4 .1 1.4 .1 1.9 .6 10.9 .6 2.4 .6 5.4 .1 14.4 .1 2.9 .1 1.4 .1 2.4 .1 6.4 .1 2.9 .1 19.4 .1 3.9 .1 1.9 .1 13.4 .1 1.4 .1 6.4 .1 1.4 .1 28.4 .1 2.4 .6 3.9 .1 5.9 .1 1.4 .1 6.9 .6 1.4 .1 10.9 .1 1.9 .6 31.9 .1 3.9 .6 1.4 .1 5.9 .6 1.9 .6 2.4 .6 1.4 .1 9.4 .6 3.9 .6 9.4 .6 6.4 .1 1.9 .1 5.9 .1 8.9 .1 4.9 .6 2.4 .6 17.4 .1 6.4 .1 14.9 .1 22.9 .1 1.4 .1 1.4 .1 1.4 .1 5.4 .1 1.4 .6 1.4 .1 4.9 .1 2.4 .1 1.4 .1 2.4 .1 1.4 .1 1.9 .1 2.4 .6 20.4 .1 3.4 .1 6.9 .1 1.9 .1 8.9 .1 8.4 .1 1.4 .1 8.4 .1 4.4 .1 5.9 .6 5.4 .1 1.4 .1 2.9 .1 13.4 .6 1.9 .1 11.4 .1 8.9 .1 600"/>
<path d="M95.95 327.72H567.6" stroke-dasharray=".6 6.9 .1 20.9 .6 5.9 .6 6.4 .1 13.4 .1 20.4 .6 5.9 .1 1.9 .1 4.4 .1 1.4 .6 6.9 .1 2.4 .1 6.4 .6 11.9 .1 6.9 .1 23.4 .6 23.4 .1 8.9 .1 5.9 .1 3.4 .6 1.4 .6 1.9 .1 4.4 .1 3.9 .1 6.4 .1 3.4 .1 8.4 .1 1.4 .1 1.4 .6 1.9 .1 1.9 .1 1.4 .1 2.4 .1 18.9 .6 14.9 .1 9.9 .6 2.9 .6 19.4 .6 21.4 .6 5.9 .1 12.9 .1 1.4 .1 38.4 .1 47.9 .1 10.4 .1 10.9 .1 1.4 .1 1.9 .1 11.4 .1 1.9 .1 600"/>
<path d="M79.95 324.3H567.1" stroke-dasharray=".1 4.4 .1 1.4 .1 16.4 .1 3.4 .6 5.9 .1 3.9 .1 1.9 .1 5.4 .6 24.4 .1 4.9 .1 13.4 .1 1.4 .1 1.4 .1 1.9 .1 4.4 .1 1.9 .1 7.9 .6 12.4 .1 1.4 .1 1.4 .6 2.9 .1 2.4 .6 8.9 .1 1.9 .1 2.9 .1 5.4 .1 5.9 .1 1.4 .6 14.9 .1 4.9 .1 23.4 .1 6.4 .1 10.4 .1 12.9 .1 2.4 .1 3.9 .6 1.9 .1 6.4 .1 11.4 .1 2.4 .1 31.9 .1 6.9 .1 1.4 .1 2.4 .1 1.9 .6 1.9 .6 1.9 .1 11.9 .1 1.4 .6 11.9 .1 8.4 .1 1.4 .1 5.4 .1 17.4 .1 4.4 .6 22.9 .6 26.9 .6 5.4 .1 3.4 .1 3.9 .1 4.9 .6 6.4 .1 5.9 .1 1.9 .1 1.4 .1 2.4 .1 1.4 .1 7.9 .1 1.9 .1 4.4 .1 8.4 .6 600"/>
<path d="M82.95 320.88H546.6" stroke-dasharray=".1 12.4 .6 2.4 .6 1.4 .1 20.4 .1 5.9 .1 26.9 .1 5.9 .1 3.9 .1 1.9 .6 2.4 .1 21.4 .6 5.4 .1 16.4 .1 1.4 .1 30.4 .1 1.4 .6 45.4 .1 71.9 .6 15.9 .1 1.4 .1 1.9 .1 1.4 .6 16.9 .1 7.9 .6 1.9 .1 1.9 .6 20.4 .6 10.4 .1 1.4 .1 18.4 .6 12.9 .1 20.4 .6 34.4 .1 9.4 .1 600"/>
<path d="M80.45 317.45H570.6" stroke-dasharray=".6 21.4 .6 14.4 .6 17.9 .6 57.9 .6 1.4 .6 14.4 .1 1.4 .1 18.9 .1 13.4 .6 24.9 .1 28.4 .1 14.9 .6 15.9 .1 1.4 .6 98.4 .1 12.9 .1 7.4 .1 12.4 .1 10.9 .1 22.4 .1 14.9 .6 43.9 .1 12.9 .1 600"/>
<path d="M122.95 314.03H554.1" stroke-dasharray=".1 1.4 .1 1.4 .1 42.4 .1 1.4 .1 1.4 .6 29.9 .1 5.4 .1 1.4 .6 12.9 .1 11.4 .1 3.9 .1 1.4 .1 30.9 .1 16.9 .1 13.4 .1 6.4 .1 19.9 .1 1.4 .1 1.4 .1 11.4 .6 1.4 .1 1.4 .1 1.4 .6 14.9 .1 3.9 .6 11.4 .1 34.4 .6 9.9 .1 1.4 .6 1.4 .6 3.4 .6 1.9 .6 18.4 .1 1.4 .1 11.4 .6 10.9 .6 1.4 .1 1.9 .1 8.4 .6 63.4 .6 600"/>
<path d="M80.95 310.61H566.6" stroke-dasharray=".6 3.4 .1 1.4 .1 2.9 .6 1.4 .1 7.4 .1 3.9 .6 2.4 .1 5.9 .1 6.9 .1 1.9 .1 7.4 .1 1.4 .1 1.4 .6 2.4 .6 1.9 .1 4.4 .1 1.4 .1 1.9 .1 10.9 .1 1.4 .1 1.4 .1 6.4 .1 5.9 .1 10.4 .1 7.4 .6 3.4 .1 19.9 .1 13.9 .1 3.4 .1 6.9 .6 3.4 .1 6.9 .6 16.9 .1 4.9 .1 1.4 .1 1.4 .1 4.4 .1 3.9 .1 1.4 .1 5.4 .1 4.9 .1 2.4 .6 2.9 .6 1.4 .1 7.9 .1 32.9 .1 15.9 .1 1.4 .1 2.4 .6 2.9 .1 1.4 .1 3.4 .1 1.9 .1 3.4 .1 19.4 .1 3.4 .1 6.4 .1 6.4 .1 11.9 .1 1.4 .1 5.4 .6 1.9 .1 1.4 .1 4.4 .1 7.4 .1 7.4 .1 6.9 .1 1.4 .1 1.4 .1 3.9 .1 1.4 .1 1.4 .1 1.4 .1 11.4 .6 9.4 .1 7.9 .1 9.9 .1 6.9 .1 2.4 .1 5.9 .1 3.4 .1 8.9 .1 9.9 .1 3.4 .6 9.9 .1 600"/>
<path d="M83.45 307.18H571.6" stroke-dasharray=".6 1.9 .1 3.4 .1 2.4 .1 1.4 .1 4.9 .6 3.4 .1 12.9 .6 11.9 .6 8.9 .1 8.9 .1 3.4 .6 1.4 .1 11.4 .6 12.9 .1 9.4 .1 2.9 .1 26.9 .1 2.4 .1 1.9 .1 11.9 .6 8.4 .1 1.9 .1 1.4 .1 2.4 .1 1.4 .1 5.4 .1 9.4 .1 1.4 .1 19.9 .6 4.4 .1 17.9 .1 1.4 .6 6.4 .6 1.4 .1 1.4 .1 7.9 .1 3.9 .1 1.4 .1 1.9 .1 7.9 .1 1.9 .1 6.9 .1 1.9 .1 4.4 .1 1.4 .6 3.9 .1 21.4 .1 3.4 .1 14.4 .6 5.4 .6 5.4 .1 3.9 .1 4.4 .6 1.4 .1 4.4 .1 5.4 .1 25.9 .1 5.4 .1 1.9 .1 4.4 .1 10.4 .6 20.9 .1 3.9 .6 1.4 .1 1.4 .1 12.4 .1 1.9 .6 1.9 .1 4.4 .1 11.9 .1 1.9 .6 2.4 .1 1.4 .1 12.4 .1 1.4 .1 1.4 .6 600"/>
<path d="M80.95 303.76H572.6" stroke-dasharray=".1 1.4 .1 1.4 .1 3.9 .6 7.4 .1 4.4 .1 17.9 .1 6.4 .1 25.9 .1 4.9 .1 4.9 .1 11.9 .1 15.9 .1 2.9 .6 5.4 .1 1.4 .1 5.9 .1 6.4 .6 4.4 .6 2.4 .1 6.9 .1 6.9 .1 1.4 .1 8.9 .1 1.4 .1 1.9 .1 3.9 .1 3.9 .6 4.9 .1 7.9 .6 9.4 .6 4.9 .1 1.9 .1 7.9 .6 2.9 .1 2.4 .1 4.9 .1 2.4 .1 1.4 .1 1.4 .1 6.4 .1 6.4 .1 1.4 .1 6.4 .1 2.4 .1 1.9 .6 2.9 .1 1.4 .6 9.9 .1 7.4 .6 2.4 .1 1.9 .1 3.9 .1 7.4 .1 1.4 .6 13.4 .1 5.9 .1 16.9 .1 3.4 .1 1.4 .6 2.9 .6 2.9 .1 2.9 .1 11.4 .1 8.9 .1 2.9 .1 1.9 .6 6.4 .1 8.4 .1 1.4 .1 2.4 .6 1.4 .1 1.9 .6 3.9 .1 10.4 .1 2.4 .6 1.9 .1 6.4 .1 1.9 .6 2.4 .1 6.9 .6 4.4 .1 3.4 .1 1.4 .1 2.4 .1 10.4 .1 4.4 .1 7.4 .1 1.9 .1 3.4 .1 5.9 .1 3.9 .6 3.9 .1 600"/>
<path d="M84.45 300.33H572.6" stroke-dasharray=".1 7.4 .6 14.9 .1 1.9 .1 24.4 .1 22.4 .6 1.9 .6 75.4 .6 18.4 .6 1.9 .6 29.9 .1 5.4 .6 14.4 .1 1.4 .6 11.9 .1 7.9 .1 24.4 .1 59.9 .1 16.9 .6 20.9 .6 44.4 .1 4.9 .6 24.9 .1 4.4 .1 1.4 .1 10.4 .6 1.4 .1 25.4 .6 600"/>
<path d="M80.45 296.91H569.1" stroke-dasharray=".1 2.9 .6 34.9 .1 37.4 .1 1.4 .6 15.4 .1 64.9 .1 64.4 .6 24.4 .1 19.4 .6 7.9 .1 31.9 .6 17.4 .1 13.4 .1 34.9 .1 2.4 .6 1.4 .1 1.9 .1 29.9 .6 9.9 .1 2.4 .1 1.4 .1 1.9 .6 5.4 .6 5.4 .1 13.9 .6 1.9 .1 31.9 .6 600"/>
<path d="M80.95 293.49H572.1" stroke-dasharray=".1 1.4 .1 1.9 .1 7.9 .6 15.4 .1 7.4 .1 3.9 .6 5.4 .6 20.4 .1 24.4 .1 4.4 .6 4.9 .6 7.9 .6 8.9 .1 14.4 .1 1.4 .1 1.9 .1 4.9 .1 1.4 .1 2.9 .1 4.4 .1 9.9 .6 1.4 .1 8.9 .6 1.4 .1 5.4 .6 3.4 .1 2.4 .6 3.9 .1 12.4 .1 12.9 .6 19.9 .1 1.4 .1 2.9 .1 33.9 .1 32.9 .1 4.9 .1 1.4 .1 6.9 .1 3.4 .1 9.9 .1 3.9 .6 1.9 .1 12.4 .1 1.4 .1 5.9 .1 4.4 .1 1.4 .1 3.4 .6 7.9 .6 2.4 .6 10.4 .6 1.4 .1 6.9 .1 7.9 .1 1.9 .1 9.4 .1 11.9 .1 6.4 .1 22.9 .6 10.4 .6 10.4 .1 3.9 .1 1.9 .1 600"/>
<path d="M80.45 290.06H568.1" stroke-dasharray=".1 5.9 .1 2.4 .6 1.4 .1 2.9 .1 6.9 .1 7.4 .1 9.9 .1 7.4 .1 6.9 .1 5.9 .1 2.4 .1 2.4 .6 6.9 .6 7.9 .1 1.9 .6 8.9 .1 1.4 .1 2.4 .1 2.4 .6 2.9 .1 3.4 .1 1.4 .1 7.4 .6 1.4 .1 11.9 .1 2.9 .1 2.4 .1 2.4 .1 8.9 .1 6.9 .1 1.9 .1 5.9 .6 2.9 .1 9.9 .1 1.9 .1 1.9 .6 1.9 .1 3.4 .6 3.9 .1 4.9 .1 3.4 .1 14.4 .1 11.9 .1 12.9 .1 2.4 .1 3.4 .1 3.4 .6 18.4 .1 2.4 .1 1.4 .1 1.4 .1 1.4 .6 5.9 .1 11.4 .6 2.9 .6 2.4 .6 3.9 .1 4.9 .6 12.4 .1 1.4 .1 14.9 .1 1.4 .1 3.9 .6 2.9 .1 2.4 .6 8.4 .1 2.9 .1 6.9 .1 4.9 .1 6.4 .1 2.4 .1 6.9 .1 5.4 .1 1.4 .1 1.9 .1 5.4 .1 5.4 .1 3.4 .1 9.9 .1 1.9 .1 9.9 .1 1.9 .1 1.9 .1 1.4 .6 10.9 .1 1.4 .1 1.9 .1 6.4 .1 2.9 .1 1.9 .1 1.9 .1 2.9 .1 1.9 .1 1.4 .1 8.9 .1 5.9 .6 600"/>
<path d="M84.95 286.64H530.1" stroke-dasharray=".1 16.9 .1 9.9 .6 4.4 .1 25.9 .1 21.4 .1 6.9 .1 1.9 .6 1.4 .6 35.9 .1 1.4 .6 1.4 .1 2.9 .1 2.9 .6 4.9 .6 11.4 .6 29.4 .6 17.9 .1 4.9 .1 11.9 .6 7.9 .1 21.9 .6 51.9 .1 13.9 .1 1.4 .1 20.4 .6 1.4 .1 1.9 .6 7.4 .1 26.9 .6 6.4 .6 1.4 .6 4.4 .1 33.9 .6 16.4 .6 1.4 .6 600"/>
<path d="M80.45 283.22H568.1" stroke-dasharray=".1 2.4 .6 1.9 .1 18.9 .1 24.9 .1 7.9 .1 1.4 .1 11.4 .6 3.9 .1 1.4 .1 7.4 .6 3.9 .1 4.9 .1 2.9 .1 5.9 .1 1.4 .1 15.4 .1 11.4 .1 2.4 .6 1.9 .1 21.4 .6 1.4 .1 21.4 .1 12.4 .1 5.9 .1 8.9 .1 1.4 .1 1.4 .1 1.4 .1 7.4 .1 11.9 .6 2.4 .1 11.4 .1 14.9 .6 15.4 .1 4.9 .1 8.4 .1 1.4 .6 7.9 .1 3.9 .6 1.9 .1 10.4 .1 2.9 .1 2.9 .1 9.9 .1 1.9 .1 2.9 .1 1.9 .1 1.4 .1 1.4 .1 18.4 .1 3.9 .6 1.4 .6 1.9 .1 1.9 .1 14.4 .6 19.9 .1 10.4 .1 10.4 .1 3.4 .1 10.9 .1 1.9 .6 1.4 .1 28.4 .1 9.9 .1 1.4 .1 600"/>
<path d="M99.95 279.79H572.6" stroke-dasharray=".1 10.4 .1 44.9 .6 7.9 .6 14.4 .1 18.9 .1 1.4 .6 1.4 .6 10.4 .1 7.9 .1 41.4 .1 42.9 .1 23.9 .1 12.9 .1 9.9 .6 8.4 .6 13.4 .6 34.4 .1 27.9 .6 50.4 .1 20.9 .6 27.4 .6 1.4 .1 1.4 .6 4.9 .1 25.4 .1 600"/>
<path d="M81.45 276.37H569.1" stroke-dasharray=".1 3.9 .1 3.4 .1 3.9 .1 1.4 .1 1.9 .1 1.9 .1 3.9 .1 2.4 .6 4.4 .1 1.9 .6 1.4 .1 1.9 .1 2.4 .6 1.9 .1 1.9 .6 4.9 .1 12.9 .1 1.9 .1 9.4 .6 1.4 .1 9.4 .6 6.9 .1 1.9 .1 1.4 .1 6.4 .1 6.4 .1 16.9 .1 1.4 .1 2.4 .1 2.9 .1 4.9 .6 3.9 .6 1.4 .6 2.9 .6 8.4 .1 1.9 .1 1.9 .1 7.4 .1 1.4 .1 5.4 .1 1.4 .1 1.9 .1 1.4 .6 1.9 .1 5.4 .1 8.4 .6 7.4 .1 1.4 .1 4.4 .6 6.4 .6 3.9 .1 1.4 .6 1.4 .1 4.4 .6 2.4 .1 1.4 .6 4.9 .1 1.9 .1 2.4 .1 1.4 .1 1.4 .1 2.4 .1 1.4 .1 3.4 .1 1.4 .1 1.4 .1 7.9 .1 1.4 .1 6.4 .1 2.4 .1 3.4 .1 9.9 .1 1.4 .1 3.4 .1 4.4 .1 3.4 .1 3.9 .1 2.9 .6 7.9 .1 2.9 .1 1.4 .1 3.4 .1 2.4 .1 4.9 .1 1.9 .1 1.9 .1 2.4 .1 2.4 .1 4.9 .1 3.4 .6 3.9 .1 1.9 .1 4.9 .1 14.4 .1 9.9 .1 1.4 .1 2.9 .1 3.4 .1 3.4 .1 1.4 .1 3.4 .1 1.9 .1 4.9 .1 6.4 .1 1.4 .1 8.4 .6 1.9 .1 7.9 .1 5.4 .1 4.9 .1 2.4 .6 2.9 .1 3.4 .1 6.4 .1 2.9 .1 8.9 .1 1.4 .1 2.4 .1 1.9 .1 3.4 .1 2.9 .1 600"/>
<path d="M97.95 272.95H572.6" stroke-dasharray=".1 17.9 .1 2.4 .6 14.9 .1 1.9 .6 1.9 .6 14.9 .1 4.4 .1 27.4 .1 25.4 .1 26.9 .1 9.9 .1 3.9 .1 7.9 .6 1.4 .6 6.9 .6 35.9 .1 2.4 .1 1.4 .1 1.4 .1 1.4 .6 18.9 .6 1.4 .6 1.4 .1 1.4 .1 9.4 .1 18.4 .1 20.4 .1 11.4 .1 4.4 .6 1.4 .1 9.9 .1 1.4 .1 1.4 .1 14.4 .6 1.9 .6 11.9 .1 10.9 .6 8.4 .1 48.9 .6 5.9 .1 1.9 .1 27.9 .1 1.4 .1 4.9 .6 1.4 .1 6.9 .1 3.4 .6 600"/>
<path d="M79.45 269.52H571.6" stroke-dasharray=".6 8.4 .1 11.4 .6 3.4 .1 1.4 .1 7.4 .6 1.9 .1 5.9 .6 1.9 .1 2.9 .1 3.9 .1 17.4 .6 12.4 .1 2.9 .1 13.4 .1 6.9 .1 2.4 .6 13.9 .6 2.4 .1 1.9 .1 1.4 .6 22.4 .6 14.4 .6 7.4 .6 1.4 .6 15.9 .1 14.4 .1 1.4 .6 21.9 .1 1.9 .6 1.4 .1 11.4 .1 14.9 .1 4.4 .6 1.4 .6 23.4 .1 1.4 .1 1.4 .1 3.9 .1 1.9 .1 1.9 .1 1.9 .1 14.9 .1 11.9 .1 1.9 .6 4.9 .1 1.9 .1 14.9 .6 6.9 .1 2.4 .6 3.4 .1 21.4 .6 1.4 .6 12.4 .6 15.4 .6 1.9 .1 1.4 .1 10.9 .1 5.9 .1 1.9 .6 14.4 .6 16.4 .1 2.4 .1 2.4 .1 7.9 .1 600"/>
<path d="M88.95 266.1H570.1" stroke-dasharray=".1 7.9 .1 4.9 .1 5.9 .6 4.9 .1 1.9 .1 11.9 .6 11.4 .1 3.4 .6 2.9 .1 12.4 .1 16.4 .1 7.9 .6 2.4 .1 4.9 .1 3.4 .6 7.4 .1 12.4 .1 3.9 .1 1.4 .6 2.9 .1 3.9 .1 6.4 .1 6.9 .6 1.4 .1 4.9 .1 6.4 .1 4.4 .6 1.4 .1 1.4 .1 1.4 .1 3.9 .1 4.4 .6 8.9 .1 11.4 .1 1.4 .1 1.9 .6 2.4 .1 1.4 .6 4.4 .6 3.4 .6 22.9 .6 1.9 .1 6.9 .1 10.4 .1 1.4 .1 2.4 .6 6.9 .1 5.4 .1 5.4 .1 25.9 .1 3.9 .1 1.9 .1 2.4 .6 3.9 .1 3.4 .1 1.4 .1 1.4 .1 2.9 .1 1.4 .1 12.4 .1 1.9 .1 1.4 .1 10.4 .1 6.9 .6 1.4 .1 1.4 .1 1.4 .1 8.9 .1 7.9 .1 1.4 .1 1.4 .6 10.4 .6 11.9 .1 2.4 .6 1.4 .1 8.4 .1 1.9 .1 1.9 .1 1.9 .1 1.9 .6 1.4 .1 5.4 .6 4.9 .1 5.9 .1 1.4 .1 16.9 .1 1.4 .6 600"/>
<path d="M79.95 262.68H572.1" stroke-dasharray=".1 1.4 .6 1.4 .1 7.9 .1 1.4 .1 2.4 .6 4.9 .1 1.9 .1 8.9 .1 1.4 .1 1.4 .1 6.9 .6 4.4 .1 5.9 .1 3.4 .1 2.4 .6 12.9 .1 2.4 .1 14.4 .1 2.4 .1 1.9 .6 1.9 .1 6.9 .1 3.9 .1 2.4 .1 2.4 .1 1.4 .1 1.4 .1 4.4 .1 1.9 .6 1.9 .1 4.4 .6 1.4 .1 1.4 .1 3.9 .1 1.9 .1 1.4 .1 1.4 .6 2.4 .6 2.4 .6 6.9 .1 7.4 .1 1.9 .1 1.4 .6 3.4 .1 1.4 .1 3.4 .1 1.4 .1 9.4 .1 10.4 .1 1.9 .1 8.9 .1 4.9 .6 9.9 .6 1.4 .1 8.4 .6 2.4 .6 10.9 .1 1.4 .1 1.9 .1 12.4 .1 3.4 .1 4.4 .1 1.9 .6 3.4 .6 6.9 .1 2.4 .1 17.9 .1 6.4 .6 8.9 .1 1.4 .1 2.4 .1 7.9 .1 1.4 .1 11.4 .6 10.9 .1 3.4 .6 2.4 .1 6.4 .1 1.4 .1 11.4 .1 1.9 .1 7.4 .1 4.4 .1 1.9 .6 8.4 .6 1.4 .6 32.9 .1 5.4 .1 9.4 .6 1.4 .6 1.4 .1 1.9 .1 11.9 .6 5.9 .1 3.9 .6 2.4 .6 600"/>
<path d="M88.95 259.25H545.1" stroke-dasharray=".6 1.4 .1 1.4 .1 1.4 .6 32.9 .6 1.9 .1 9.4 .1 2.4 .1 14.9 .6 22.9 .1 4.4 .6 1.9 .1 9.9 .1 44.9 .1 2.4 .6 16.9 .1 6.4 .1 5.4 .1 1.4 .1 6.4 .1 7.9 .1 1.4 .1 16.4 .1 51.4 .1 37.4 .6 2.4 .1 1.4 .6 9.9 .6 25.4 .6 5.4 .1 18.9 .1 1.9 .1 10.4 .1 13.9 .6 3.9 .1 17.9 .6 28.4 .1 1.4 .1 1.4 .6 600"/>
<path d="M79.45 255.83H572.1" stroke-dasharray=".1 6.9 .1 20.9 .6 2.4 .1 7.9 .1 4.9 .6 6.4 .1 1.9 .1 7.9 .6 2.4 .1 1.4 .1 17.9 .1 6.4 .1 14.4 .1 4.9 .6 10.4 .6 2.4 .1 2.9 .1 7.9 .1 6.9 .6 6.9 .1 6.4 .1 21.9 .1 1.9 .6 20.4 .1 5.9 .1 6.4 .1 1.4 .1 20.9 .1 5.4 .6 9.4 .1 1.4 .1 1.4 .1 3.9 .1 1.9 .1 24.4 .6 1.4 .6 5.4 .6 1.9 .1 1.4 .6 8.4 .6 1.4 .6 8.4 .1 1.4 .1 1.4 .1 1.4 .1 1.4 .1 8.9 .1 5.9 .1 12.4 .6 1.9 .1 7.4 .1 18.9 .1 6.4 .1 1.4 .1 4.9 .1 6.9 .6 6.9 .6 1.9 .1 24.9 .1 11.4 .1 4.4 .1 7.4 .6 4.4 .1 1.4 .1 16.4 .1 2.4 .6 1.9 .1 6.4 .6 600"/>
<path d="M127.45 252.41H568.1" stroke-dasharray=".1 21.9 .1 6.9 .1 38.4 .1 12.4 .1 40.9 .1 9.9 .6 7.4 .1 1.4 .1 43.9 .1 15.4 .6 1.4 .6 50.9 .6 1.9 .1 16.4 .1 12.4 .1 46.4 .6 6.4 .1 1.4 .1 16.9 .1 5.4 .1 20.4 .6 15.4 .1 16.9 .1 3.4 .1 10.9 .6 1.9 .1 6.9 .6 600"/>
<path d="M80.95 248.98H572.1" stroke-dasharray=".1 2.9 .1 10.9 .1 3.9 .1 2.4 .6 1.9 .1 2.9 .6 8.9 .1 1.9 .1 9.4 .6 1.9 .1 1.4 .1 1.4 .6 6.9 .1 2.4 .1 4.9 .1 9.9 .1 5.9 .1 2.4 .1 14.4 .1 4.9 .1 6.4 .6 1.4 .1 2.4 .1 6.9 .1 4.9 .1 6.9 .1 2.9 .1 1.4 .6 4.9 .1 1.4 .6 3.4 .1 1.4 .1 1.4 .1 9.9 .1 7.4 .6 1.4 .1 6.9 .1 1.9 .1 1.9 .1 5.9 .1 12.4 .1 1.9 .1 1.4 .1 9.9 .1 23.9 .1 5.4 .1 7.9 .1 2.4 .1 2.4 .1 1.9 .1 1.4 .1 7.4 .1 6.9 .6 1.4 .1 2.9 .1 4.4 .1 3.4 .1 8.4 .1 3.9 .1 4.4 .1 2.4 .6 8.4 .1 10.4 .1 1.9 .1 6.9 .1 12.9 .1 6.9 .1 2.9 .1 1.4 .1 2.9 .1 7.4 .6 5.4 .1 3.4 .1 9.4 .1 7.9 .1 1.9 .1 1.9 .6 2.9 .6 6.9 .1 1.4 .1 13.4 .1 11.4 .1 4.4 .1 2.4 .6 1.9 .1 3.9 .1 32.9 .6 2.4 .1 600"/>
<path d="M84.95 245.56H562.1" stroke-dasharray=".6 14.4 .6 7.9 .1 2.4 .1 1.4 .1 1.4 .1 56.4 .1 32.4 .1 9.4 .1 1.9 .6 1.4 .6 21.9 .1 14.9 .6 57.9 .6 11.9 .1 30.9 .6 16.9 .6 57.9 .1 1.4 .1 1.4 .1 9.4 .1 1.4 .6 17.4 .6 10.9 .1 1.4 .1 1.4 .6 19.4 .1 1.4 .6 1.4 .1 49.4 .6 8.4 .1 1.4 .1 600"/>
<path d="M83.95 242.14H566.6" stroke-dasharray=".1 2.9 .1 2.4 .1 1.4 .1 2.9 .6 1.9 .6 1.4 .1 4.4 .1 4.9 .1 1.4 .6 13.4 .1 4.9 .6 1.9 .1 14.4 .1 7.4 .6 13.4 .1 1.4 .1 20.4 .1 1.4 .6 1.4 .1 29.4 .1 21.9 .1 37.4 .1 1.4 .1 4.9 .1 4.4 .1 1.9 .6 1.9 .6 5.9 .1 1.9 .6 1.4 .6 1.4 .1 5.4 .1 11.9 .1 2.9 .1 1.4 .1 1.9 .1 16.9 .1 1.9 .6 1.4 .1 1.4 .1 1.4 .1 21.9 .6 16.4 .6 13.4 .1 16.9 .1 5.4 .6 8.4 .6 1.4 .6 5.4 .6 5.9 .1 3.9 .6 5.9 .6 11.4 .1 1.9 .1 11.9 .6 7.4 .1 1.4 .1 50.9 .1 12.4 .6 600"/>
<path d="M80.95 238.71H572.1" stroke-dasharray=".6 7.4 .6 1.9 .1 4.9 .1 5.9 .1 1.4 .6 9.9 .1 5.4 .1 2.4 .1 4.4 .6 12.9 .1 1.4 .1 10.4 .1 9.4 .1 17.9 .1 12.4 .6 10.9 .1 2.9 .1 1.4 .1 5.9 .1 9.9 .6 10.9 .1 3.9 .1 1.4 .1 10.9 .1 14.9 .1 1.4 .6 2.4 .1 5.4 .6 2.4 .1 3.9 .1 7.4 .1 2.4 .1 2.4 .1 6.9 .1 1.9 .1 1.4 .6 1.9 .1 1.4 .6 1.9 .6 5.9 .1 5.9 .1 9.4 .1 3.4 .6 1.4 .1 8.4 .1 1.4 .1 1.4 .6 12.9 .1 1.4 .1 6.9 .1 1.4 .1 2.4 .6 9.9 .1 1.4 .6 3.4 .1 2.4 .1 10.4 .1 1.9 .6 6.4 .1 13.9 .1 11.4 .6 1.4 .6 1.9 .1 1.9 .1 2.9 .1 1.4 .1 8.9 .1 1.4 .1 4.4 .6 14.9 .1 1.4 .1 6.4 .1 2.4 .1 5.4 .1 2.9 .1 1.4 .1 1.9 .1 1.9 .1 7.4 .1 1.4 .1 2.9 .1 1.9 .1 4.9 .1 1.4 .1 10.4 .1 2.9 .6 2.9 .1 1.9 .6 2.4 .1 4.9 .6 4.9 .1 10.4 .1 600"/>
<path d="M79.95 235.29H572.1" stroke-dasharray=".6 1.4 .6 1.4 .1 5.4 .1 1.9 .1 1.9 .6 16.4 .1 6.9 .6 1.4 .6 14.9 .1 4.4 .6 9.4 .6 1.4 .6 6.9 .1 1.4 .6 3.9 .1 7.9 .1 18.4 .1 1.4 .1 2.9 .1 3.4 .1 21.4 .1 18.4 .1 1.4 .1 12.9 .6 4.9 .6 1.9 .1 6.4 .1 2.9 .6 4.9 .6 11.4 .1 8.4 .6 12.9 .1 10.9 .1 7.4 .1 22.4 .1 8.4 .1 1.9 .1 1.9 .1 2.9 .6 1.4 .6 17.4 .6 5.9 .1 1.4 .1 1.9 .1 18.9 .6 4.4 .1 2.9 .1 1.4 .1 2.4 .6 4.9 .6 21.4 .1 2.9 .6 14.4 .1 1.9 .6 3.9 .1 5.4 .1 5.9 .6 1.9 .6 1.4 .1 3.4 .1 1.4 .1 5.4 .6 6.9 .6 8.9 .1 14.9 .1 2.9 .6 19.9 .1 7.9 .1 1.4 .1 600"/>
<path d="M82.45 231.86H572.1" stroke-dasharray=".1 1.9 .1 1.9 .1 3.9 .1 4.4 .1 1.4 .1 1.9 .6 5.4 .1 2.4 .1 14.9 .1 3.9 .1 1.4 .1 11.4 .1 7.4 .1 1.9 .1 2.9 .1 4.9 .1 6.4 .6 5.9 .6 2.4 .6 2.4 .1 1.4 .1 3.4 .6 17.9 .1 5.4 .1 8.9 .6 3.9 .1 4.9 .6 9.4 .1 4.9 .6 2.9 .1 4.4 .6 1.9 .1 1.4 .1 16.9 .1 5.4 .1 2.4 .1 2.9 .1 2.4 .1 1.4 .1 1.9 .1 7.4 .1 1.4 .1 6.9 .1 6.4 .1 4.9 .1 13.4 .1 2.9 .6 6.4 .1 11.9 .1 1.4 .1 2.4 .1 1.4 .1 13.9 .1 1.4 .1 3.9 .1 2.4 .1 1.4 .1 2.4 .1 1.9 .1 1.9 .1 3.9 .1 1.4 .1 1.9 .6 14.9 .6 3.9 .1 12.4 .6 7.9 .1 2.9 .1 2.9 .1 10.9 .1 2.4 .1 6.4 .1 1.4 .1 7.4 .1 4.9 .1 6.9 .1 2.4 .6 1.9 .1 3.4 .1 7.4 .1 11.4 .1 5.9 .1 1.9 .1 2.9 .6 3.9 .1 1.9 .1 3.9 .1 5.4 .1 1.4 .1 5.4 .1 2.9 .1 1.9 .1 1.4 .1 4.4 .1 1.9 .1 5.9 .1 5.9 .1 7.4 .1 600"/>
<path d="M82.45 228.44H572.1" stroke-dasharray=".1 2.4 .1 2.9 .1 1.4 .1 6.4 .6 7.4 .6 1.4 .1 1.4 .1 7.9 .6 2.9 .1 9.4 .1 3.9 .6 1.4 .6 1.9 .6 4.9 .1 3.9 .1 6.4 .1 6.4 .1 2.4 .6 3.4 .1 11.4 .1 4.9 .1 12.9 .1 2.9 .1 1.9 .1 4.4 .6 1.4 .6 11.9 .1 1.9 .1 8.9 .1 1.9 .1 3.4 .6 1.4 .1 1.9 .1 4.9 .1 4.9 .6 7.4 .1 3.4 .1 2.4 .1 2.4 .1 19.9 .1 2.9 .1 6.9 .1 2.4 .1 1.4 .1 5.4 .1 4.4 .1 5.9 .1 1.9 .1 1.4 .6 12.9 .1 8.4 .1 2.4 .6 1.4 .1 8.4 .1 1.4 .6 1.9 .1 9.4 .1 1.4 .1 3.4 .1 8.4 .1 3.4 .1 1.9 .1 3.9 .1 1.9 .1 4.4 .6 4.4 .1 1.9 .1 4.4 .1 1.4 .1 6.4 .1 2.4 .1 2.9 .1 6.4 .1 3.4 .6 2.9 .1 1.9 .1 1.9 .1 1.4 .6 2.4 .1 3.9 .1 3.4 .1 5.9 .1 10.4 .6 21.4 .1 6.4 .1 1.4 .6 15.4 .1 2.4 .1 3.9 .1 7.9 .1 5.4 .1 9.4 .1 1.4 .1 11.4 .6 2.4 .1 3.9 .1 1.9 .1 1.4 .1 1.9 .6 1.4 .1 600"/>
<path d="M79.45 225.02H562.1" stroke-dasharray=".1 6.4 .6 1.9 .6 10.4 .6 7.4 .1 1.4 .6 18.9 .1 42.4 .1 28.9 .1 12.4 .1 1.4 .6 1.4 .1 5.9 .6 23.9 .1 21.4 .1 34.9 .1 9.9 .6 2.9 .1 13.9 .1 3.4 .6 34.9 .1 23.4 .1 7.9 .1 2.9 .1 4.9 .1 15.4 .1 7.4 .6 13.9 .1 1.9 .1 1.9 .1 1.9 .1 22.4 .6 24.9 .1 11.4 .1 2.4 .1 9.4 .1 20.9 .6 14.9 .1 1.4 .1 600"/>
<path d="M92.95 221.59H572.6" stroke-dasharray=".6 20.9 .6 1.4 .1 4.9 .6 7.9 .1 99.9 .6 1.9 .6 6.9 .6 16.9 .1 20.9 .6 85.4 .1 53.9 .1 13.9 .6 93.4 .6 22.4 .1 5.9 .6 1.4 .1 12.4 .6 1.9 .1 600"/>
<path d="M85.95 218.17H572.6" stroke-dasharray=".6 1.4 .1 14.9 .1 2.9 .1 3.4 .1 1.4 .6 3.9 .1 18.4 .1 1.4 .1 1.4 .6 2.4 .6 1.4 .1 1.9 .1 18.4 .6 4.9 .1 3.4 .6 12.4 .6 1.9 .1 1.4 .1 1.9 .1 1.4 .1 2.4 .1 2.4 .6 4.9 .1 5.9 .6 1.4 .1 21.9 .6 8.4 .1 2.9 .6 2.4 .1 1.4 .1 3.9 .6 1.4 .6 1.4 .6 1.9 .1 4.4 .1 1.9 .1 11.4 .1 1.4 .1 10.4 .1 1.4 .6 2.4 .6 9.4 .6 1.9 .1 5.9 .1 3.4 .1 11.9 .1 1.4 .1 2.4 .1 6.9 .6 1.9 .6 8.9 .6 2.4 .1 7.4 .1 8.9 .1 1.4 .6 1.4 .1 11.4 .1 1.9 .6 6.9 .1 3.9 .1 13.4 .1 1.9 .6 4.4 .6 6.9 .1 1.4 .6 1.4 .1 6.4 .1 2.4 .1 1.9 .1 13.9 .1 6.4 .1 2.4 .6 8.9 .6 1.4 .1 1.9 .1 1.9 .6 7.4 .1 6.9 .6 1.4 .1 13.9 .6 12.9 .1 3.9 .6 8.9 .1 1.9 .1 14.4 .1 2.4 .6 9.9 .1 3.4 .1 1.4 .1 600"/>
<path d="M94.45 214.75H561.1" stroke-dasharray=".6 6.9 .1 2.4 .1 26.9 .1 11.9 .1 1.9 .1 2.9 .1 6.4 .1 11.9 .1 12.9 .6 1.4 .1 1.9 .6 6.9 .1 13.4 .6 13.9 .1 1.9 .6 1.4 .1 5.4 .1 12.4 .1 11.9 .6 1.4 .1 10.4 .1 1.9 .1 1.4 .6 1.4 .1 1.4 .1 5.4 .1 14.9 .1 14.4 .6 9.9 .6 2.9 .1 1.9 .1 18.4 .6 23.9 .1 25.4 .6 7.9 .1 1.9 .6 9.4 .1 3.4 .6 1.4 .6 11.9 .6 18.4 .6 1.4 .6 20.4 .1 1.4 .6 9.4 .1 9.4 .6 2.9 .6 1.9 .1 1.4 .1 4.4 .1 9.4 .6 2.4 .1 7.4 .1 1.4 .6 12.4 .1 20.4 .1 600"/>
<path d="M84.95 211.32H570.1" stroke-dasharray=".1 4.9 .1 7.9 .1 6.9 .1 1.4 .1 5.9 .1 1.4 .1 7.9 .1 9.9 .1 23.4 .1 6.9 .6 18.9 .1 24.9 .6 2.4 .1 15.9 .1 1.4 .1 1.4 .1 5.9 .1 2.4 .1 8.9 .1 40.9 .6 10.9 .1 14.4 .1 1.4 .6 29.9 .6 1.9 .6 2.9 .1 5.9 .1 7.9 .6 1.9 .1 1.4 .1 3.9 .1 4.9 .6 4.4 .1 5.4 .6 1.4 .6 2.4 .1 1.4 .1 28.9 .1 3.4 .1 4.4 .1 6.9 .1 9.9 .1 10.4 .1 2.4 .6 1.9 .1 20.9 .1 29.9 .1 1.4 .1 16.4 .6 1.9 .1 2.4 .1 1.4 .1 1.9 .1 1.4 .6 6.9 .1 5.9 .1 12.4 .1 600"/>
<path d="M81.95 207.9H564.1" stroke-dasharray=".1 6.4 .1 6.4 .1 3.9 .1 17.9 .6 1.9 .1 1.4 .1 1.9 .1 5.4 .1 6.4 .1 1.4 .6 5.4 .1 6.4 .6 6.4 .6 1.4 .6 19.9 .6 1.4 .1 7.9 .1 1.4 .6 12.4 .1 1.9 .1 21.9 .1 1.4 .1 16.9 .1 5.4 .1 1.9 .1 1.9 .1 18.4 .1 4.9 .1 1.4 .1 1.4 .1 2.9 .6 5.4 .1 3.4 .1 11.4 .1 8.4 .6 6.9 .6 5.4 .1 1.9 .6 8.4 .1 16.9 .1 4.4 .1 35.9 .1 12.4 .1 9.9 .1 2.9 .1 1.4 .1 1.4 .1 7.9 .1 1.9 .1 1.9 .1 12.4 .6 16.9 .1 1.4 .1 5.9 .1 1.4 .1 5.4 .1 3.9 .6 7.9 .1 1.4 .6 13.9 .1 4.9 .6 5.9 .6 11.9 .1 1.4 .1 9.9 .1 1.4 .1 2.4 .1 1.9 .1 1.4 .1 11.4 .1 600"/>
<path d="M98.95 204.48H544.6" stroke-dasharray=".1 4.4 .1 1.4 .6 1.4 .6 7.4 .1 17.9 .1 82.9 .6 11.9 .6 5.4 .6 11.4 .1 8.4 .1 17.4 .6 6.9 .6 30.4 .1 26.4 .1 13.4 .1 1.9 .1 30.9 .6 2.4 .1 12.4 .1 11.4 .1 1.9 .1 20.9 .1 34.4 .6 12.4 .1 46.9 .1 15.9 .1 600"/>
<path d="M79.45 201.05H417.6" stroke-dasharray=".1 8.9 .6 25.4 .6 4.4 .1 31.4 .6 56.4 .6 70.9 .1 8.9 .1 54.9 .1 1.9 .1 71.4 .6 600"/>
<path d="M80.45 197.63H572.1" stroke-dasharray=".1 1.4 .1 5.9 .1 4.9 .1 8.9 .1 2.9 .1 1.9 .6 6.4 .1 4.9 .1 2.4 .1 1.4 .1 1.4 .6 4.9 .1 3.9 .1 6.9 .1 1.9 .6 3.9 .1 1.4 .1 1.9 .6 10.4 .1 3.4 .6 3.4 .6 18.4 .1 1.4 .1 1.4 .1 4.9 .6 3.4 .1 11.4 .1 7.9 .1 3.4 .1 6.9 .1 8.4 .1 5.4 .1 3.9 .1 4.9 .1 6.4 .1 3.4 .1 1.4 .1 5.9 .1 1.4 .6 1.4 .6 19.9 .1 2.4 .1 1.4 .1 7.9 .6 8.9 .1 4.9 .1 3.4 .1 7.4 .1 2.9 .1 4.4 .6 2.9 .6 7.4 .6 2.4 .1 7.4 .1 6.4 .1 4.4 .6 6.9 .1 1.9 .1 5.4 .1 5.9 .1 1.9 .1 10.9 .1 3.4 .1 1.9 .6 10.4 .1 1.4 .6 4.9 .1 1.9 .1 1.4 .1 1.4 .1 1.4 .6 3.4 .6 7.4 .1 6.9 .1 3.4 .1 11.9 .1 2.9 .1 8.4 .1 13.9 .1 9.4 .6 2.9 .1 1.9 .1 1.9 .1 3.4 .1 1.4 .1 1.4 .1 14.9 .6 4.9 .1 1.4 .1 4.4 .1 1.4 .1 9.4 .1 3.9 .1 2.9 .1 6.9 .1 600"/>
<path d="M79.45 194.21H564.1" stroke-dasharray=".6 18.4 .1 1.4 .6 14.9 .6 1.4 .6 11.9 .1 1.4 .6 1.4 .6 17.4 .1 15.9 .1 82.9 .1 32.9 .1 10.9 .6 18.9 .6 15.9 .6 218.9 .1 13.9 .1 600"/>
<path d="M202.45 190.78H396.6" stroke-dasharray=".6 1.9 .6 43.4 .1 1.4 .1 64.4 .1 80.9 .6 600"/>
<path d="M93.45 187.36H553.6" stroke-dasharray=".1 4.4 .1 11.4 .6 3.4 .6 1.4 .1 1.9 .1 8.9 .1 1.9 .6 9.4 .1 8.9 .1 39.9 .1 6.4 .1 1.9 .6 1.4 .1 4.4 .1 1.9 .1 6.4 .1 1.4 .1 6.4 .6 9.9 .1 8.4 .6 4.9 .1 1.4 .6 24.9 .1 25.4 .1 2.4 .1 4.9 .1 10.9 .6 14.9 .1 9.9 .1 13.4 .1 1.9 .1 20.9 .6 7.4 .1 5.4 .1 1.4 .1 4.9 .1 2.9 .1 1.9 .6 6.4 .1 10.9 .1 7.9 .1 1.4 .1 33.9 .6 26.9 .1 1.4 .1 4.4 .6 26.9 .1 2.4 .1 2.9 .1 20.9 .6 2.4 .1 600"/>
<path d="M80.45 183.94H572.6" stroke-dasharray=".1 28.9 .1 18.9 .1 32.4 .6 1.4 .6 5.9 .1 1.4 .1 1.4 .1 5.4 .1 1.9 .1 30.4 .1 27.4 .1 9.9 .6 25.9 .6 2.4 .1 13.4 .1 87.4 .1 6.4 .1 4.4 .1 1.4 .1 27.9 .1 7.4 .6 23.9 .6 7.4 .1 4.9 .1 1.4 .1 11.9 .1 18.9 .1 4.4 .1 22.4 .1 1.4 .6 20.4 .1 3.9 .1 1.4 .1 5.4 .6 1.4 .1 11.4 .1 1.4 .6 600"/>
<path d="M86.45 180.51H571.6" stroke-dasharray=".1 2.4 .1 1.4 .1 1.9 .1 1.9 .6 3.4 .6 6.4 .1 27.4 .1 3.4 .6 7.4 .1 1.4 .1 1.4 .6 2.4 .6 1.9 .1 9.4 .1 10.9 .1 1.9 .1 3.9 .6 1.9 .6 8.4 .6 3.4 .1 6.4 .1 4.9 .1 5.4 .1 3.4 .1 1.9 .6 3.4 .1 10.9 .1 1.4 .1 1.9 .1 2.4 .1 2.4 .1 3.9 .1 7.9 .6 2.4 .1 2.9 .1 1.4 .1 8.4 .1 8.4 .1 12.4 .6 1.4 .1 4.9 .1 14.4 .6 7.4 .1 22.4 .1 1.4 .1 1.4 .6 2.9 .1 1.9 .1 7.4 .1 5.9 .1 1.4 .1 1.4 .1 13.4 .1 5.9 .1 4.9 .1 2.4 .6 1.4 .1 3.4 .1 1.4 .1 2.4 .1 3.9 .6 1.4 .6 3.9 .6 8.4 .6 32.4 .6 1.4 .6 13.4 .1 12.4 .1 4.4 .6 5.9 .6 4.4 .1 2.4 .1 1.9 .6 3.4 .1 14.4 .1 1.9 .6 2.4 .1 5.4 .6 10.9 .1 1.9 .1 5.4 .1 6.9 .1 3.4 .1 1.4 .1 1.4 .1 1.9 .1 2.9 .1 600"/>
<path d="M98.95 177.09H521.6" stroke-dasharray=".6 24.4 .1 2.4 .1 82.9 .1 11.9 .1 24.9 .1 17.9 .1 6.4 .1 45.4 .1 25.9 .1 63.9 .6 23.4 .1 23.9 .1 66.4 .6 600"/>
<path d="M79.45 173.67H555.6" stroke-dasharray=".6 1.4 .6 1.9 .1 26.4 .1 6.4 .6 12.9 .1 15.9 .1 24.9 .1 2.4 .6 3.9 .1 24.9 .1 13.4 .1 30.9 .1 13.9 .1 14.9 .1 4.9 .6 5.9 .6 3.9 .6 1.4 .6 22.4 .1 7.9 .1 34.9 .1 7.4 .6 11.9 .6 1.9 .1 1.9 .1 5.4 .1 11.4 .1 52.9 .6 1.4 .1 9.4 .6 39.9 .1 7.4 .6 1.4 .1 1.9 .1 5.9 .1 19.9 .1 10.4 .1 600"/>
<path d="M79.45 170.24H568.6" stroke-dasharray=".6 17.9 .6 1.4 .1 1.4 .1 28.4 .6 1.4 .1 1.4 .6 5.4 .1 1.4 .1 1.4 .6 7.9 .6 11.9 .1 1.9 .6 21.4 .1 1.4 .1 16.4 .6 1.9 .1 1.4 .1 8.4 .1 1.4 .1 11.4 .1 4.9 .1 24.9 .1 1.4 .1 18.9 .1 12.4 .1 1.4 .1 1.4 .6 5.9 .6 6.9 .1 1.4 .6 14.4 .1 2.4 .6 21.4 .6 13.4 .6 23.9 .6 4.4 .1 3.9 .1 10.9 .1 16.9 .1 1.4 .1 1.4 .1 1.9 .6 1.9 .6 9.4 .1 1.4 .1 1.4 .1 17.9 .1 5.9 .1 1.4 .1 1.9 .6 5.4 .6 2.4 .1 9.4 .6 2.4 .1 1.4 .1 5.9 .1 12.4 .1 1.4 .1 6.4 .1 1.9 .1 1.4 .1 1.4 .1 2.4 .1 4.4 .1 1.9 .1 7.9 .6 4.4 .1 1.9 .1 12.4 .1 1.9 .1 600"/>
<path d="M127.45 166.82H572.6" stroke-dasharray=".6 95.4 .1 102.9 .6 20.4 .1 7.9 .1 17.4 .6 1.4 .6 16.9 .1 1.4 .1 1.9 .1 17.4 .6 10.9 .1 8.9 .1 11.9 .1 17.4 .1 10.9 .6 1.4 .6 1.9 .1 1.4 .1 15.4 .1 1.4 .1 12.4 .6 5.9 .6 1.4 .1 1.9 .1 51.4 .6 600"/>
<path d="M83.45 163.39H568.1" stroke-dasharray=".1 3.9 .6 3.9 .1 1.9 .1 14.9 .1 2.4 .1 2.9 .6 1.4 .1 1.4 .1 3.9 .1 1.4 .6 1.4 .1 1.4 .6 1.4 .1 1.4 .1 7.4 .1 5.4 .6 9.4 .1 4.4 .1 2.4 .1 1.4 .1 6.9 .6 3.4 .1 10.4 .1 1.4 .1 8.9 .1 9.9 .6 1.9 .1 1.4 .6 3.9 .1 1.4 .6 2.4 .1 1.4 .1 1.4 .1 9.9 .1 1.9 .1 1.4 .6 2.4 .1 7.9 .1 4.9 .1 8.4 .1 6.4 .6 3.4 .1 8.9 .1 3.9 .1 9.4 .1 1.4 .1 1.9 .1 3.9 .1 3.4 .1 1.4 .6 3.4 .1 1.9 .1 1.4 .1 1.9 .1 1.9 .1 1.9 .1 5.4 .1 1.9 .1 11.9 .1 1.9 .1 6.9 .6 5.9 .1 5.4 .1 1.4 .1 4.4 .1 2.4 .1 7.4 .1 2.4 .1 7.9 .1 2.4 .1 2.4 .1 1.9 .1 3.4 .1 8.9 .1 9.4 .1 1.9 .1 1.4 .6 1.4 .1 7.9 .1 1.4 .1 1.9 .1 1.4 .1 3.4 .6 1.4 .1 2.4 .1 7.9 .6 5.9 .6 1.4 .1 1.4 .1 2.9 .6 1.4 .1 8.4 .1 7.4 .1 1.9 .1 3.9 .1 3.4 .1 2.4 .1 1.4 .1 6.9 .1 2.4 .1 4.4 .1 4.4 .1 4.9 .6 1.4 .1 3.9 .6 7.4 .1 3.4 .1 1.4 .1 1.4 .1 5.9 .1 4.9 .6 2.4 .1 2.4 .1 4.4 .6 1.9 .1 8.4 .1 600"/>
<path d="M93.95 159.97H571.6" stroke-dasharray=".1 1.4 .6 2.9 .1 4.9 .1 6.9 .1 2.9 .6 1.4 .1 9.4 .6 9.4 .1 4.9 .1 3.4 .1 3.9 .6 2.4 .1 10.9 .6 1.9 .1 12.4 .1 1.9 .1 1.4 .1 1.9 .1 4.4 .1 2.4 .1 1.4 .1 3.9 .1 4.4 .1 5.9 .1 5.4 .1 1.4 .1 2.9 .6 16.4 .1 22.9 .1 3.4 .1 1.9 .1 6.9 .1 1.4 .1 19.9 .1 2.9 .6 3.9 .6 19.9 .1 1.4 .1 1.9 .1 1.4 .1 8.4 .1 22.4 .1 22.9 .1 17.9 .1 12.9 .6 2.4 .1 9.9 .6 4.9 .6 12.9 .1 1.4 .6 17.4 .6 1.9 .1 3.4 .1 10.4 .1 6.9 .1 15.9 .1 1.4 .1 4.9 .1 15.4 .1 12.9 .1 1.4 .1 2.4 .1 1.4 .6 5.4 .1 17.4 .1 1.9 .1 6.9 .1 600"/>
<path d="M79.95 156.55H572.6" stroke-dasharray=".6 2.9 .1 1.4 .1 6.9 .1 5.9 .1 2.9 .6 5.4 .1 2.4 .1 2.9 .1 1.4 .6 5.4 .1 1.9 .1 1.4 .1 3.9 .6 6.9 .1 5.9 .1 3.9 .6 12.9 .1 5.9 .1 1.4 .6 1.9 .1 5.4 .1 3.4 .1 11.4 .1 1.9 .1 2.4 .1 3.4 .1 2.4 .1 1.4 .1 4.9 .6 2.4 .6 2.4 .1 2.9 .1 4.4 .6 1.4 .1 2.4 .6 3.4 .1 7.9 .1 2.4 .1 3.9 .1 13.9 .1 3.4 .1 1.9 .1 16.9 .6 1.9 .1 13.4 .6 4.9 .6 3.9 .1 1.4 .1 1.4 .1 5.4 .1 1.9 .1 1.9 .1 3.4 .1 2.4 .1 4.9 .6 1.4 .1 2.4 .1 6.4 .1 2.9 .1 9.4 .1 2.4 .1 1.4 .1 4.9 .1 1.9 .1 1.4 .1 1.4 .1 1.9 .1 5.4 .1 6.4 .6 6.4 .1 4.4 .1 1.4 .1 1.9 .1 4.4 .1 1.4 .6 1.4 .1 5.9 .1 6.4 .1 2.4 .1 5.9 .1 10.9 .1 17.4 .1 15.4 .6 9.9 .6 4.4 .6 4.4 .1 1.9 .1 1.9 .1 1.4 .6 1.9 .1 1.4 .1 1.4 .1 5.9 .1 4.9 .1 4.4 .1 1.4 .6 4.9 .1 3.9 .1 2.9 .1 1.4 .1 6.4 .6 1.4 .1 1.4 .1 1.9 .1 1.9 .1 1.4 .6 1.9 .1 1.4 .1 11.4 .1 2.4 .1 8.4 .1 600"/>
<path d="M79.45 153.12H572.6" stroke-dasharray=".6 11.9 .1 12.9 .6 16.4 .6 27.9 .1 36.9 .6 13.9 .6 8.4 .6 19.4 .1 46.4 .1 5.9 .1 1.4 .6 1.4 .1 37.4 .1 1.4 .6 1.4 .1 53.4 .1 64.9 .1 5.4 .6 1.4 .1 1.4 .1 1.4 .1 16.9 .1 15.9 .1 18.4 .6 63.4 .1 600"/>
<path d="M81.45 149.7H547.1" stroke-dasharray=".1 25.9 .6 2.4 .1 9.9 .6 7.9 .1 8.9 .1 12.4 .1 13.9 .1 12.9 .1 1.4 .1 2.4 .1 4.9 .1 3.9 .6 21.4 .1 7.4 .1 17.4 .1 4.9 .6 12.4 .6 2.4 .1 2.9 .1 1.9 .6 1.4 .1 6.9 .1 14.9 .6 1.9 .6 1.4 .1 18.4 .6 1.4 .6 10.9 .1 5.4 .1 19.4 .6 7.4 .6 3.9 .1 5.9 .1 19.4 .1 6.9 .1 1.9 .1 1.4 .1 6.4 .6 1.4 .1 7.4 .1 6.9 .1 1.4 .1 22.4 .1 1.4 .1 1.4 .1 18.9 .1 1.9 .6 8.4 .1 1.4 .6 14.4 .6 6.9 .1 15.9 .1 6.4 .6 1.4 .6 1.9 .1 4.9 .1 12.9 .6 600"/>
<path d="M79.45 146.28H571.1" stroke-dasharray=".6 1.4 .6 1.9 .1 4.9 .1 3.9 .1 6.4 .1 4.4 .6 2.9 .1 1.4 .1 1.4 .1 1.9 .6 8.4 .1 2.4 .6 8.4 .1 5.4 .1 2.4 .1 3.4 .1 8.9 .6 14.4 .1 1.9 .6 6.9 .1 6.9 .1 1.4 .6 1.4 .1 18.9 .1 9.4 .1 12.9 .1 3.4 .1 1.9 .1 1.4 .1 2.4 .6 2.4 .1 1.4 .1 8.9 .1 8.9 .6 4.9 .1 7.9 .1 2.9 .1 1.4 .6 9.4 .6 20.9 .1 18.9 .1 1.4 .1 6.9 .1 13.4 .1 12.9 .1 24.9 .1 2.4 .6 1.4 .1 9.4 .6 1.9 .1 15.4 .6 3.4 .1 5.4 .6 8.4 .1 2.9 .1 5.9 .1 5.4 .6 15.4 .1 2.4 .1 1.4 .6 1.4 .1 1.4 .1 3.9 .1 11.9 .1 2.4 .1 15.4 .1 2.4 .6 10.9 .1 1.9 .1 12.4 .1 1.9 .6 2.4 .1 3.9 .1 1.9 .1 18.4 .1 600"/>
<path d="M79.45 142.85H569.6" stroke-dasharray=".1 1.9 .1 2.9 .1 4.9 .1 1.4 .6 2.4 .1 3.4 .6 1.9 .1 3.9 .1 4.4 .1 1.9 .1 11.9 .6 13.4 .6 1.9 .1 7.4 .1 10.9 .1 1.4 .1 1.9 .6 6.4 .1 2.9 .6 1.4 .1 3.4 .1 7.4 .6 10.9 .1 1.9 .1 1.4 .6 6.4 .6 7.9 .6 2.9 .1 10.4 .1 10.9 .1 1.9 .1 1.4 .1 1.9 .1 3.9 .1 1.9 .6 9.4 .1 4.4 .1 4.4 .6 2.9 .1 1.9 .6 2.9 .1 2.9 .1 1.9 .1 4.9 .6 5.9 .6 11.9 .1 2.9 .1 1.4 .1 8.9 .1 13.4 .1 6.4 .6 7.9 .1 5.4 .1 4.4 .1 5.9 .6 3.4 .1 1.4 .1 1.9 .1 3.9 .6 6.4 .6 2.9 .6 1.9 .1 8.9 .1 3.9 .6 2.4 .1 5.4 .1 7.9 .6 1.4 .1 2.9 .1 7.4 .6 4.4 .1 1.4 .1 1.4 .6 29.4 .6 16.4 .1 3.4 .1 2.9 .1 5.9 .6 2.9 .1 12.9 .1 5.4 .6 3.9 .1 1.4 .1 1.9 .1 9.9 .1 2.4 .1 9.9 .1 1.4 .1 2.9 .1 1.9 .6 7.9 .1 1.9 .1 600"/>
<path d="M79.95 139.43H564.1" stroke-dasharray=".6 1.9 .1 1.4 .1 2.4 .6 23.9 .1 23.4 .6 2.9 .1 1.4 .6 32.9 .6 22.4 .6 12.9 .6 1.4 .1 11.4 .1 1.4 .6 6.9 .1 7.4 .6 5.4 .1 8.9 .6 1.4 .1 2.4 .1 9.9 .6 1.4 .1 10.4 .1 19.9 .1 32.4 .1 10.9 .1 7.4 .1 1.4 .1 1.9 .1 2.4 .6 11.4 .6 24.4 .6 1.4 .1 7.4 .6 21.4 .1 1.4 .1 7.9 .1 1.4 .6 9.4 .1 29.9 .1 12.9 .1 15.4 .6 10.4 .1 1.4 .1 15.4 .6 1.9 .1 2.9 .1 5.9 .1 16.4 .1 1.4 .1 600"/>
<path d="M88.45 136.01H571.6" stroke-dasharray=".1 18.4 .1 5.4 .1 1.4 .1 1.4 .1 1.4 .1 9.4 .1 1.4 .1 1.4 .1 10.9 .6 1.4 .6 5.4 .1 6.4 .6 4.4 .1 11.4 .1 8.9 .6 12.4 .1 2.4 .1 1.9 .6 6.9 .1 3.9 .1 1.4 .1 1.4 .1 7.9 .1 5.4 .1 7.4 .6 10.4 .6 3.4 .1 1.4 .1 6.9 .1 1.9 .1 10.4 .1 1.9 .1 3.9 .6 1.9 .6 1.4 .6 5.4 .1 1.9 .6 4.4 .1 4.9 .1 14.9 .1 1.4 .1 5.4 .6 1.4 .1 7.9 .1 1.4 .1 1.9 .1 1.4 .1 6.9 .6 4.4 .1 12.9 .6 6.4 .1 15.4 .1 1.4 .6 11.9 .1 1.4 .1 23.9 .1 9.4 .6 1.4 .1 3.9 .1 2.4 .1 17.4 .1 3.9 .6 5.4 .1 1.9 .1 1.4 .6 1.9 .6 21.9 .1 1.4 .1 1.4 .1 3.9 .1 7.4 .1 4.9 .1 1.4 .1 1.9 .1 14.4 .1 1.4 .1 4.4 .1 1.4 .6 2.4 .6 3.9 .6 7.9 .6 2.4 .6 3.9 .1 1.4 .6 1.9 .1 2.4 .6 600"/>
<path d="M79.95 132.58H572.6" stroke-dasharray=".1 1.9 .6 5.9 .1 1.9 .1 4.9 .1 1.9 .1 6.4 .1 6.4 .1 1.4 .1 6.4 .1 2.4 .1 4.4 .1 4.4 .1 1.4 .1 3.4 .1 3.4 .1 7.9 .1 2.9 .1 6.9 .1 4.4 .6 4.4 .1 6.9 .1 8.4 .1 1.9 .1 5.9 .1 8.9 .1 2.9 .6 3.4 .1 2.4 .1 18.9 .6 9.9 .1 1.4 .6 3.4 .1 6.4 .1 3.9 .1 1.4 .6 3.9 .1 1.4 .1 1.4 .1 7.4 .1 3.4 .1 1.4 .1 9.4 .1 1.4 .1 7.9 .6 1.4 .1 3.4 .1 3.9 .1 1.9 .1 3.4 .1 4.4 .6 3.9 .1 1.4 .1 3.9 .1 5.4 .1 2.9 .6 3.9 .1 1.4 .1 1.4 .1 1.4 .1 1.4 .1 1.9 .1 12.4 .1 1.9 .1 3.9 .1 6.4 .1 10.9 .1 11.4 .1 5.4 .1 1.4 .1 1.4 .1 1.9 .1 2.4 .1 3.4 .1 4.9 .1 1.4 .1 4.4 .1 1.4 .1 9.9 .1 9.9 .1 1.4 .1 2.4 .1 4.4 .6 7.9 .1 4.4 .1 3.4 .1 1.4 .1 1.4 .1 1.4 .1 1.4 .1 7.4 .1 2.4 .1 1.9 .1 7.4 .1 5.4 .1 13.4 .1 7.9 .1 13.4 .6 2.9 .1 1.4 .1 6.4 .6 3.9 .1 20.9 .1 1.4 .1 1.9 .1 600"/>
<path d="M100.95 129.16H561.6" stroke-dasharray=".1 39.9 .1 21.4 .1 90.9 .1 1.4 .1 41.9 .1 122.9 .1 28.9 .1 33.4 .1 11.4 .1 24.9 .1 42.4 .1 600"/>
<path d="M85.45 125.74H567.6" stroke-dasharray=".6 18.4 .1 1.9 .6 5.9 .1 3.4 .6 6.4 .1 14.4 .1 1.4 .6 24.4 .1 1.9 .1 12.4 .1 5.9 .6 1.4 .1 2.4 .1 1.4 .6 5.4 .6 2.9 .1 1.9 .1 6.9 .6 1.4 .6 1.9 .1 3.4 .1 1.9 .1 1.9 .1 1.4 .1 4.9 .1 1.9 .1 4.9 .1 1.4 .1 4.4 .1 29.4 .1 10.4 .1 2.9 .1 17.4 .1 1.4 .6 3.9 .1 7.9 .1 7.9 .1 3.9 .6 5.4 .1 5.4 .1 1.9 .1 1.4 .6 2.9 .1 1.4 .1 1.9 .1 12.4 .6 5.9 .1 3.9 .1 22.9 .6 1.4 .1 2.9 .6 2.9 .1 2.4 .1 6.9 .1 1.4 .1 1.4 .1 15.9 .1 28.9 .1 2.4 .1 1.9 .1 9.9 .6 2.9 .1 5.4 .1 1.9 .6 11.9 .6 3.9 .1 23.9 .1 10.4 .1 1.9 .1 1.4 .1 2.4 .1 4.4 .6 2.4 .1 4.4 .1 3.4 .1 1.9 .6 2.4 .1 1.9 .6 600"/>
<path d="M79.45 118.89H571.1" stroke-dasharray=".1 2.4 .1 1.4 .1 1.9 .1 5.9 .1 9.9 .1 6.4 .1 2.4 .1 11.9 .1 1.9 .6 22.4 .1 3.4 .1 6.9 .1 11.9 .6 3.4 .1 2.9 .1 1.4 .6 1.4 .1 7.9 .1 1.9 .1 7.9 .1 7.4 .1 2.9 .1 1.9 .1 4.9 .1 2.4 .1 4.4 .1 4.4 .1 1.4 .1 2.9 .1 6.9 .1 2.4 .6 3.9 .1 3.9 .1 4.4 .6 5.4 .1 15.9 .1 1.4 .1 3.4 .1 2.9 .1 1.9 .1 3.9 .1 3.9 .1 5.4 .1 1.4 .1 3.9 .1 6.9 .1 2.4 .1 7.4 .6 3.4 .1 6.9 .6 4.4 .1 8.4 .1 1.4 .1 1.9 .1 7.9 .1 3.4 .1 4.9 .1 5.4 .1 4.9 .1 9.4 .1 3.9 .1 1.9 .1 5.9 .6 1.4 .1 16.4 .1 2.4 .1 1.4 .1 11.9 .1 1.9 .1 3.9 .1 2.4 .1 1.4 .1 2.4 .1 1.4 .6 4.9 .1 1.4 .1 2.9 .1 6.9 .1 6.9 .1 2.9 .1 1.9 .6 2.4 .1 3.9 .6 5.9 .1 1.4 .1 1.4 .1 12.9 .1 18.9 .1 2.9 .1 2.4 .1 2.4 .1 10.4 .1 1.4 .6 1.9 .1 11.9 .6 5.4 .1 2.4 .1 2.4 .6 600"/>
<path d="M81.95 115.47H572.1" stroke-dasharray=".1 1.9 .1 2.4 .1 3.4 .1 4.9 .1 20.9 .1 3.9 .1 2.9 .1 2.9 .1 6.9 .1 3.9 .6 4.4 .1 16.4 .1 1.4 .6 3.9 .1 3.9 .1 20.4 .1 1.9 .6 2.4 .1 4.4 .6 9.4 .1 5.9 .1 4.9 .1 1.4 .1 3.9 .1 5.9 .1 4.4 .1 3.9 .1 1.4 .1 1.4 .6 4.4 .6 2.4 .1 1.4 .1 1.4 .1 2.9 .6 7.9 .1 5.4 .1 6.9 .1 1.4 .1 8.9 .1 1.4 .1 10.9 .1 16.4 .1 4.4 .1 1.4 .1 3.4 .1 6.4 .1 5.4 .1 2.4 .1 1.4 .1 3.4 .1 2.9 .6 6.9 .1 3.9 .1 3.4 .1 1.4 .6 1.9 .1 1.4 .1 6.4 .1 1.9 .1 3.4 .1 1.9 .1 10.9 .1 13.9 .6 5.4 .6 16.4 .1 7.9 .1 3.4 .1 8.4 .1 4.4 .1 19.4 .1 9.9 .1 7.4 .1 1.9 .6 2.9 .1 3.9 .6 8.4 .1 2.9 .1 3.4 .1 8.4 .1 7.4 .1 2.4 .1 9.9 .1 1.9 .1 1.4 .1 1.9 .1 6.4 .6 3.4 .1 4.4 .1 2.9 .1 1.9 .1 600"/>
<path d="M84.45 108.62H570.1" stroke-dasharray=".1 4.9 .1 9.4 .6 1.4 .1 2.4 .1 1.9 .1 3.4 .1 1.4 .6 2.4 .1 2.9 .1 1.4 .1 2.9 .1 11.9 .1 2.4 .1 5.4 .1 9.9 .1 2.9 .1 15.4 .1 2.9 .1 6.9 .1 5.9 .1 1.9 .1 5.9 .1 6.4 .1 1.9 .1 4.9 .1 7.9 .1 2.9 .1 4.9 .1 4.9 .1 32.9 .1 8.4 .1 6.4 .1 3.4 .1 2.9 .1 3.4 .1 20.4 .1 1.9 .1 1.9 .1 7.9 .1 5.9 .1 9.9 .1 4.9 .1 1.9 .1 4.9 .6 1.9 .1 16.4 .1 24.9 .1 3.9 .1 4.9 .1 4.4 .1 3.4 .1 2.4 .1 16.9 .1 2.4 .1 5.9 .1 9.9 .1 3.9 .1 4.4 .1 10.9 .1 3.9 .1 10.4 .1 13.4 .1 12.9 .1 3.9 .1 9.9 .1 9.9 .1 8.4 .1 6.4 .1 8.9 .6 5.4 .6 9.4 .1 600"/>
<path d="M99.95 105.2H568.6" stroke-dasharray=".1 5.4 .1 1.4 .1 17.4 .1 5.9 .1 14.9 .1 2.9 .1 16.9 .1 1.4 .1 1.9 .1 29.9 .1 7.4 .1 4.9 .1 1.4 .1 10.4 .1 4.4 .1 9.4 .1 2.9 .1 2.9 .1 4.9 .1 14.4 .1 7.4 .1 6.9 .1 14.9 .1 25.4 .1 2.4 .1 1.9 .1 5.9 .1 27.9 .1 1.9 .1 8.4 .1 1.4 .1 8.4 .1 3.4 .1 6.9 .1 7.4 .1 11.9 .1 4.4 .6 3.4 .1 3.9 .1 8.4 .1 3.4 .1 17.4 .1 17.9 .1 1.9 .1 17.4 .1 24.9 .1 12.9 .1 2.9 .6 34.4 .1 1.9 .1 3.9 .1 600"/>
<path d="M79.95 101.77H571.6" stroke-dasharray=".1 5.9 .1 8.4 .1 3.4 .1 1.4 .1 3.4 .1 3.4 .1 5.4 .1 22.9 .1 6.4 .1 10.9 .6 21.4 .1 2.9 .1 9.9 .1 7.4 .1 2.9 .1 14.9 .6 7.9 .1 3.4 .1 19.4 .1 1.9 .1 3.4 .1 6.4 .1 4.4 .1 3.4 .1 7.9 .1 1.4 .1 1.4 .1 27.9 .1 12.4 .1 2.9 .1 15.9 .1 2.9 .6 5.9 .1 5.4 .1 2.4 .1 28.9 .1 30.4 .1 12.9 .1 3.4 .1 35.9 .1 2.4 .1 1.9 .1 5.9 .1 1.9 .1 4.4 .1 18.9 .1 3.4 .1 2.4 .1 10.9 .1 3.4 .1 2.9 .1 1.9 .1 2.4 .1 10.4 .6 1.9 .1 3.4 .6 3.4 .1 11.9 .1 10.4 .1 600"/>
<path d="M81.45 98.35H570.1" stroke-dasharray=".1 32.4 .1 17.4 .1 6.9 .1 1.9 .1 5.9 .1 19.9 .1 5.4 .1 9.9 .1 1.9 .1 9.9 .1 9.4 .1 12.4 .1 12.9 .1 15.9 .1 7.9 .1 3.9 .1 8.4 .1 2.9 .1 6.4 .1 3.4 .1 5.4 .1 1.9 .1 2.9 .1 3.4 .1 7.4 .1 7.9 .1 4.9 .1 20.9 .1 11.9 .1 1.4 .1 15.9 .6 13.9 .1 1.9 .1 5.4 .1 6.4 .6 8.4 .1 3.4 .6 1.9 .1 5.9 .1 2.9 .1 40.4 .6 15.9 .1 11.9 .1 41.9 .1 2.9 .1 17.4 .1 5.9 .1 4.4 .6 5.4 .1 5.4 .6 600"/>
<path d="M84.45 91.5H569.1" stroke-dasharray=".1 1.4 .1 7.4 .1 3.4 .1 8.9 .1 18.4 .1 2.4 .1 8.9 .1 6.4 .1 1.4 .1 23.9 .1 10.9 .1 5.9 .1 4.4 .1 1.9 .1 18.4 .1 6.9 .1 32.4 .1 7.4 .1 3.4 .1 7.4 .1 3.9 .6 17.4 .1 4.4 .1 18.9 .1 13.4 .1 5.4 .1 2.9 .1 2.4 .1 3.9 .1 2.9 .1 2.9 .1 2.4 .1 11.9 .1 2.4 .1 1.4 .1 1.4 .1 5.4 .1 14.4 .1 6.4 .1 3.4 .1 9.4 .1 1.4 .1 2.9 .1 5.4 .1 1.9 .1 4.9 .1 22.9 .1 9.9 .1 10.4 .1 4.9 .1 7.4 .1 10.9 .1 16.9 .1 3.9 .1 5.9 .6 19.4 .6 8.9 .1 9.4 .1 4.9 .1 1.4 .1 4.9 .1 600"/>
<path d="M81.95 84.65H560.1" stroke-dasharray=".1 10.4 .1 9.4 .1 2.4 .1 3.4 .6 14.4 .1 14.4 .1 3.9 .1 20.4 .1 3.9 .1 7.9 .1 1.4 .1 7.4 .1 5.9 .1 1.9 .1 8.4 .1 12.9 .1 1.4 .6 5.9 .1 3.4 .6 3.9 .1 2.4 .1 18.9 .1 5.4 .1 31.9 .1 1.9 .1 4.9 .1 11.4 .1 11.4 .1 3.9 .1 12.4 .1 4.4 .1 2.4 .1 11.9 .1 13.9 .1 5.9 .1 1.9 .1 10.9 .1 7.4 .1 2.4 .1 20.9 .1 3.4 .1 18.4 .1 9.4 .1 4.4 .1 3.4 .1 4.9 .1 8.9 .1 2.4 .1 2.9 .1 5.9 .1 2.4 .1 4.4 .1 1.4 .1 13.9 .1 9.9 .1 28.4 .6 2.9 .1 4.4 .1 7.4 .1 1.4 .1 600"/>
<path d="M84.95 74.38H562.6" stroke-dasharray=".1 18.4 .1 5.9 .1 9.4 .1 9.4 .1 9.9 .1 3.4 .1 7.9 .1 15.4 .6 1.4 .1 5.9 .1 18.4 .1 9.4 .1 18.4 .1 5.9 .1 40.4 .1 11.9 .1 5.4 .1 3.4 .6 7.9 .1 20.9 .1 16.9 .1 14.4 .6 14.9 .1 3.4 .1 30.4 .1 13.9 .1 3.9 .1 5.9 .1 9.9 .1 8.4 .1 7.4 .6 20.9 .1 10.4 .6 25.9 .1 5.9 .1 25.9 .1 23.9 .1 600"/>
<path d="M84.95 67.54H563.6" stroke-dasharray=".1 36.4 .1 3.9 .1 40.4 .1 1.4 .1 9.4 .1 2.9 .1 3.4 .1 6.9 .1 1.4 .1 38.4 .1 23.9 .1 6.9 .1 6.9 .1 1.4 .1 15.4 .1 21.9 .1 33.9 .1 7.4 .1 2.9 .1 6.9 .1 3.4 .1 5.9 .1 14.4 .1 6.4 .1 15.4 .1 1.9 .1 2.4 .1 4.4 .1 3.4 .1 15.4 .1 37.4 .1 16.9 .1 30.4 .1 45.4 .1 600"/>
<path d="M134.95 560.52H135.1" stroke-dasharray=".1 600"/>
<path d="M138.45 543.4H138.6" stroke-dasharray=".1 600"/>
<path d="M290.45 529.71H420.1" stroke-dasharray=".1 129.4 .1 600"/>
<path d="M291.45 522.86H291.6" stroke-dasharray=".1 600"/>
<path d="M214.95 512.59H272.1" stroke-dasharray=".1 56.9 .1 600"/>
<path d="M114.95 502.32H411.1" stroke-dasharray=".1 50.4 .1 245.4 .1 600"/>
<path d="M241.95 495.47H446.1" stroke-dasharray=".1 203.9 .1 600"/>
</g>
<g fill="none" stroke="#000" stroke-width="2.15" stroke-linecap="round">
<path d="M157.45 461.24H513.6" stroke-dasharray="1.1 353.9 1.1 600"/>
<path d="M131.95 450.97H515.1" stroke-dasharray="1.1 59.4 1.6 78.9 1.1 22.9 1.1 152.9 1.1 61.9 1.1 600"/>
<path d="M82.95 444.12H512.1" stroke-dasharray="1.1 215.9 1.1 97.4 1.1 92.4 1.1 16.9 2.1 600"/>
<path d="M104.95 440.7H436.6" stroke-dasharray="1.1 248.9 1.1 79.4 1.1 600"/>
<path d="M274.95 437.27H506.6" stroke-dasharray="1.1 63.9 1.1 60.9 1.1 16.4 1.1 54.9 1.6 23.4 1.1 3.9 1.1 600"/>
<path d="M84.45 433.85H524.6" stroke-dasharray="1.6 3.4 1.1 3.4 1.1 43.9 1.1 12.4 1.6 2.9 1.1 3.4 1.1 14.9 1.1 16.9 5.1 26.4 1.1 5.4 1.6 47.9 1.1 25.4 1.1 26.9 1.6 8.9 1.1 1.4 1.1 44.9 1.1 52.4 1.6 28.4 1.1 17.9 1.1 23.4 1.1 600"/>
<path d="M84.95 430.43H520.1" stroke-dasharray="1.6 40.4 1.1 115.4 3.1 13.9 1.1 25.9 1.1 71.4 1.1 9.4 1.1 23.9 3.1 12.4 1.1 68.4 1.1 37.4 1.1 600"/>
<path d="M79.95 427H551.1" stroke-dasharray="3.1 12.4 2.1 4.9 1.1 1.4 1.6 15.9 1.1 10.9 1.1 1.4 1.6 4.9 1.1 12.9 2.6 1.4 1.6 14.9 1.1 1.4 3.1 25.4 1.1 18.9 1.1 15.9 1.1 20.9 1.6 12.4 1.1 48.4 1.1 1.9 1.6 3.4 1.1 9.9 1.1 25.9 1.1 46.9 1.6 48.4 1.1 11.4 1.1 11.4 1.6 28.4 1.6 8.4 2.1 7.4 1.1 600"/>
<path d="M130.45 423.58H522.6" stroke-dasharray="1.1 35.4 1.6 232.9 3.1 116.4 1.6 600"/>
<path d="M85.95 420.16H533.1" stroke-dasharray="1.1 19.4 2.1 7.9 3.1 13.9 1.6 5.9 1.1 10.4 1.1 1.9 1.1 25.4 2.6 4.9 1.1 35.4 1.1 38.9 1.1 12.4 1.6 11.4 1.1 8.9 1.1 18.4 1.1 28.4 1.1 4.9 1.6 33.4 3.6 12.9 1.1 4.9 1.1 21.9 1.1 31.9 1.1 28.4 2.1 10.4 1.1 8.9 1.1 7.9 1.1 600"/>
<path d="M132.95 416.73H510.1" stroke-dasharray="1.1 24.4 1.6 50.4 1.1 58.9 2.1 22.4 1.6 28.9 1.1 25.9 1.6 1.9 1.1 6.9 1.1 2.4 1.1 6.4 1.1 18.4 1.1 14.4 1.6 63.9 1.1 32.4 1.1 600"/>
<path d="M87.45 413.31H562.6" stroke-dasharray="2.1 5.4 1.1 11.9 4.1 17.9 2.1 6.4 2.6 1.9 1.6 5.4 3.1 17.9 1.1 3.9 1.1 13.9 1.6 25.9 1.1 7.4 1.1 3.9 2.1 19.9 1.6 2.9 2.1 3.4 1.1 8.9 1.6 11.9 3.1 6.4 1.6 1.4 3.1 9.4 1.1 4.4 1.1 24.4 1.1 12.4 2.6 9.9 1.6 1.4 1.6 15.9 1.1 1.4 1.1 21.4 2.6 13.4 2.6 7.9 1.6 12.4 1.6 11.9 4.6 32.9 4.1 1.9 1.6 6.4 1.6 16.4 2.1 3.9 1.1 8.4 1.1 6.4 1.1 600"/>
<path d="M103.95 409.89H565.1" stroke-dasharray="1.6 1.4 1.1 20.4 1.1 1.4 3.1 2.9 4.6 7.9 1.1 8.9 2.1 19.9 1.1 12.4 1.6 6.9 1.1 17.4 2.6 7.4 2.1 28.4 1.1 4.4 4.1 22.4 1.6 61.4 1.1 4.9 1.1 4.4 1.1 31.4 1.6 14.4 4.1 1.9 4.6 7.9 3.6 15.9 1.1 6.4 2.6 7.9 1.6 2.9 1.1 2.4 1.1 7.4 1.1 12.9 1.1 20.9 1.1 2.9 1.1 29.4 1.6 1.9 1.1 600"/>
<path d="M83.95 406.46H569.6" stroke-dasharray="2.1 1.4 1.6 4.9 3.1 5.4 4.6 13.9 2.1 12.9 1.6 7.9 1.6 2.9 1.1 2.9 4.1 1.4 2.1 4.9 3.6 1.4 1.1 3.4 1.6 4.4 1.6 1.4 2.1 1.4 2.6 7.9 2.6 6.4 1.6 8.9 2.6 1.4 2.1 3.9 1.1 6.9 1.1 1.4 3.1 2.9 1.1 3.9 3.1 1.4 1.1 1.4 1.6 9.4 3.6 4.4 1.6 4.4 1.6 2.4 3.6 5.4 1.6 6.4 1.1 6.4 2.1 3.4 2.1 7.9 3.1 4.9 2.1 1.9 3.1 1.9 1.1 7.4 1.1 9.9 2.6 7.4 2.6 1.9 2.6 3.4 1.1 2.9 3.1 10.4 4.6 1.9 1.6 7.4 2.1 1.4 2.6 4.9 2.1 1.4 1.1 4.9 2.1 8.4 2.6 1.9 2.6 2.9 1.1 8.9 2.6 1.9 3.1 1.4 1.1 5.4 2.6 13.9 1.6 2.9 8.1 2.4 1.1 14.4 1.1 7.4 1.6 1.4 1.1 1.9 1.1 2.4 1.1 11.4 1.6 6.9 1.1 600"/>
<path d="M99.95 403.04H539.1" stroke-dasharray="1.1 24.4 1.1 21.9 1.1 41.9 1.1 26.9 1.6 21.4 1.1 33.4 2.1 66.4 1.1 18.9 1.1 12.4 1.1 35.9 2.1 13.9 1.1 104.9 1.1 600"/>
<path d="M82.45 399.62H572.6" stroke-dasharray="4.6 6.4 3.1 5.9 3.6 1.9 2.6 2.9 1.6 1.9 3.1 12.4 1.6 2.4 3.1 2.9 2.1 9.4 1.1 1.4 1.6 8.4 1.1 12.9 2.6 1.4 1.1 2.4 1.1 1.4 1.6 6.9 2.1 7.4 1.1 10.4 2.6 1.9 3.6 3.9 1.1 1.4 1.6 9.4 3.1 2.9 2.1 2.4 1.6 2.9 1.1 11.9 1.6 1.4 1.1 24.9 1.1 9.9 1.1 5.9 2.6 1.9 3.6 2.9 2.6 1.4 1.1 1.4 1.1 2.9 1.1 1.4 3.1 8.4 1.6 1.4 1.1 3.9 1.1 11.4 1.1 7.4 1.6 1.4 1.1 8.9 2.1 3.9 1.1 3.9 2.1 7.4 2.6 4.9 1.6 6.4 1.1 7.4 2.1 1.4 2.1 19.4 2.6 1.4 1.1 2.4 1.1 27.9 3.6 2.4 3.1 5.9 1.1 1.9 2.1 1.4 2.6 3.9 1.1 1.9 2.1 2.9 1.1 2.9 1.1 14.4 1.6 5.9 1.6 2.9 1.1 600"/>
<path d="M92.95 396.19H570.6" stroke-dasharray="1.1 26.9 1.1 68.4 1.1 42.4 1.1 24.4 1.1 56.9 1.1 27.4 2.1 42.4 1.1 7.9 1.6 39.9 1.1 13.4 1.6 26.4 1.1 4.9 1.6 62.9 1.1 8.4 1.1 4.4 1.6 600"/>
<path d="M96.45 392.77H537.1" stroke-dasharray="1.1 10.9 2.1 19.9 2.6 4.4 1.1 2.9 1.1 1.4 1.1 12.4 1.6 9.4 1.1 4.9 3.1 16.4 1.1 5.9 2.6 5.9 1.6 2.9 1.6 8.9 1.6 11.4 2.1 15.9 2.1 15.9 1.6 3.4 2.1 13.9 2.6 10.4 1.1 10.4 1.6 3.4 1.1 4.9 1.1 26.4 1.1 7.9 1.6 3.9 2.1 28.9 1.1 11.4 1.1 15.9 3.6 30.9 3.6 22.4 1.1 20.4 2.1 4.9 1.6 1.9 1.1 2.4 1.6 5.4 1.6 600"/>
<path d="M79.45 389.35H569.6" stroke-dasharray="5.6 1.9 2.1 1.9 1.1 7.9 1.1 3.4 1.6 9.4 2.1 1.4 5.1 1.4 1.1 3.9 1.1 1.9 4.6 2.9 2.1 3.4 9.1 1.4 1.6 1.9 1.1 1.4 2.6 1.4 1.1 1.9 1.1 2.9 3.6 1.9 1.1 1.9 2.6 5.4 4.6 3.9 3.1 8.9 1.1 3.9 1.1 1.4 4.1 2.4 4.1 5.9 1.1 3.4 3.6 2.4 1.1 3.4 1.1 7.9 3.6 1.9 4.1 1.4 1.1 4.4 2.1 1.9 1.1 1.4 1.6 4.9 1.1 2.4 3.6 1.9 3.1 1.9 2.6 1.4 5.1 6.4 1.1 6.9 2.1 4.4 4.6 1.9 1.6 1.9 3.6 1.4 6.6 2.4 2.1 1.9 1.1 2.9 1.1 3.4 1.6 1.4 1.6 6.4 8.1 2.9 5.6 3.4 4.1 3.9 3.1 2.4 2.1 14.9 1.1 3.9 1.1 1.9 1.6 6.4 6.6 3.9 4.1 1.9 1.6 1.4 1.1 1.9 2.6 2.9 2.6 1.4 10.1 5.9 1.6 1.4 1.1 1.9 1.1 4.4 1.1 3.9 3.1 3.4 5.1 2.9 1.6 1.9 1.6 3.9 1.6 1.4 3.6 1.4 2.1 1.4 3.1 3.9 3.6 3.4 9.6 600"/>
<path d="M88.95 385.92H568.1" stroke-dasharray="3.6 2.4 1.1 2.4 1.6 5.4 3.1 1.4 1.1 1.4 3.1 4.4 1.1 1.4 2.1 1.9 1.1 6.9 1.1 4.9 1.6 3.4 2.1 1.4 1.1 5.4 1.6 11.4 1.1 2.4 3.1 5.9 2.1 5.4 2.6 1.4 1.1 1.9 2.1 3.4 1.1 4.9 1.1 3.9 5.1 1.4 3.1 3.9 2.6 7.9 3.6 6.4 1.1 10.9 6.1 5.9 1.1 5.4 1.1 1.4 1.6 9.9 1.1 1.9 1.6 1.9 2.6 15.4 6.1 2.9 2.6 1.4 1.1 9.9 1.1 4.9 4.6 1.9 4.1 23.9 1.6 6.4 1.1 6.4 2.6 3.4 1.6 3.9 1.6 3.4 2.1 11.4 5.6 4.9 2.6 9.4 1.1 4.4 1.1 3.9 3.1 9.4 1.1 2.9 4.6 2.9 1.1 5.9 1.1 11.9 1.1 8.9 5.6 9.9 1.1 6.4 1.1 2.4 1.6 2.4 3.1 7.4 1.6 6.9 1.6 3.4 1.6 600"/>
<path d="M82.45 382.5H572.6" stroke-dasharray="2.6 1.9 1.6 6.9 3.1 3.9 2.1 4.4 2.1 11.4 4.6 1.4 2.6 2.9 1.6 2.9 3.1 3.9 5.1 1.4 2.1 1.4 1.1 2.4 6.1 4.9 4.6 1.4 1.1 3.9 2.1 5.4 3.1 11.4 1.1 3.9 2.6 2.4 2.6 1.9 2.6 6.4 2.1 3.4 1.1 3.9 7.6 5.9 4.1 2.9 2.1 5.4 4.1 7.4 1.6 7.4 2.6 1.9 3.1 4.9 3.1 1.9 3.1 5.9 1.1 2.4 3.6 1.9 3.6 1.4 1.1 1.4 1.6 6.4 1.6 3.9 3.1 1.4 3.6 1.9 1.1 1.9 3.6 1.4 5.6 6.4 3.1 2.4 1.1 1.9 3.6 3.9 1.6 1.4 1.1 2.9 1.6 7.4 1.1 1.4 1.1 4.9 1.6 2.4 1.6 1.9 1.1 2.4 2.1 1.9 4.1 1.4 8.6 4.9 1.1 1.4 1.1 1.9 2.1 1.9 1.1 2.4 1.1 2.9 1.1 1.4 4.6 2.9 2.6 6.4 4.6 2.9 2.6 2.9 1.1 9.4 1.1 3.4 1.6 2.4 3.6 7.4 1.6 1.4 1.1 3.4 3.1 1.4 2.1 3.9 2.1 2.9 1.1 1.4 2.6 9.9 1.1 1.4 1.1 2.4 3.1 600"/>
<path d="M82.95 379.08H572.1" stroke-dasharray="1.1 9.9 2.6 2.9 1.6 40.9 1.1 2.4 2.1 7.4 1.6 68.9 1.1 3.4 1.1 6.9 2.1 23.9 2.6 37.9 1.1 1.9 1.1 14.4 1.1 17.4 1.1 15.4 2.6 16.4 1.1 7.4 2.1 17.9 1.1 4.4 2.1 4.4 2.1 15.4 1.6 26.4 1.6 9.4 2.1 15.4 2.6 12.4 3.6 19.4 1.1 16.4 2.1 9.9 1.1 6.9 1.1 2.9 1.1 600"/>
<path d="M81.45 375.65H567.6" stroke-dasharray="1.1 1.9 5.1 2.4 2.1 1.9 4.1 1.9 1.6 4.4 3.1 1.4 3.1 4.9 2.6 1.9 2.1 2.9 5.1 1.9 2.6 1.4 1.6 3.4 1.6 2.9 4.1 1.9 1.1 2.9 3.1 9.4 1.1 2.4 1.1 3.4 1.1 6.4 1.6 1.4 3.1 9.9 2.6 1.4 1.1 1.9 5.6 2.4 1.1 9.9 5.1 3.4 1.1 2.9 1.1 11.9 2.6 1.4 1.1 1.4 1.6 3.4 8.1 3.9 2.1 4.4 3.6 1.9 1.1 1.4 7.6 12.9 5.6 3.4 3.1 1.4 1.1 4.4 2.1 4.4 3.6 1.9 2.6 3.9 1.1 1.9 3.6 8.4 3.6 4.9 12.6 2.4 1.6 7.4 1.1 21.4 1.1 7.9 4.1 3.4 2.1 3.9 2.6 12.4 2.1 6.9 1.6 1.9 4.6 1.4 1.6 6.4 2.1 1.9 2.1 3.4 4.1 6.4 8.6 6.4 1.6 2.4 3.1 4.4 2.1 2.4 3.1 9.4 1.6 1.9 3.6 9.4 1.6 600"/>
<path d="M79.45 372.23H572.6" stroke-dasharray="2.1 1.4 3.1 2.4 1.6 1.9 1.1 4.4 2.1 1.9 8.1 1.4 1.1 1.4 8.6 2.9 8.6 1.9 11.1 5.4 11.1 1.4 11.1 3.4 1.6 1.4 3.1 1.4 4.6 1.4 8.1 3.4 2.1 3.9 3.1 1.9 6.6 1.9 3.1 4.4 16.6 1.9 2.1 1.4 1.1 1.4 1.1 5.4 1.6 1.4 11.6 2.9 3.6 1.9 3.6 1.9 1.1 2.9 2.1 6.4 2.6 1.9 7.6 1.9 7.1 1.4 6.1 1.4 4.6 3.9 3.6 2.9 7.6 1.9 1.6 3.4 4.6 2.9 5.1 1.9 1.6 1.9 3.6 2.9 8.1 1.4 7.6 1.4 3.1 1.9 1.6 1.4 3.6 1.4 4.1 1.4 3.1 1.4 3.1 3.9 1.1 1.9 17.6 1.4 15.6 4.9 1.1 1.9 1.1 5.4 4.1 1.9 5.1 5.9 3.6 4.9 3.1 1.4 2.1 6.4 3.6 4.4 2.1 1.4 3.1 1.4 4.1 1.4 1.6 2.9 1.1 5.4 1.1 1.9 11.1 600"/>
<path d="M89.45 368.8H565.6" stroke-dasharray="3.1 4.4 4.6 15.9 1.1 1.9 1.6 5.4 2.1 1.9 1.1 2.9 1.6 3.4 5.6 1.9 3.1 1.4 2.1 1.9 1.6 22.9 3.6 6.4 1.6 14.9 9.6 5.4 2.1 3.9 2.1 5.4 1.1 5.4 5.1 9.4 1.1 14.4 2.1 3.9 2.1 7.4 1.6 3.4 3.1 1.9 4.1 2.9 1.6 1.4 1.1 5.4 1.6 1.9 3.1 1.9 3.1 4.9 2.6 4.9 3.1 4.4 3.1 3.4 1.1 1.9 3.1 1.9 2.6 1.9 1.6 3.4 1.1 11.4 1.1 12.9 1.6 2.9 1.1 1.4 2.1 4.9 2.6 2.9 2.1 1.4 1.6 5.9 1.1 4.9 2.6 6.4 1.1 4.4 1.1 7.9 3.6 1.4 1.1 3.4 1.1 10.4 1.6 8.4 1.6 3.9 2.6 7.4 1.1 7.4 2.6 15.4 1.6 1.4 4.6 8.4 1.1 12.4 2.6 2.9 1.1 600"/>
<path d="M81.45 365.38H572.6" stroke-dasharray="1.6 3.4 3.1 5.9 2.1 2.9 1.6 3.9 3.1 2.9 6.1 8.4 10.1 5.9 4.6 1.9 3.6 1.4 7.1 1.4 3.1 3.9 4.1 1.4 2.1 1.9 8.1 2.4 3.1 1.9 2.6 3.9 5.6 1.4 3.1 1.4 1.6 2.9 2.1 1.9 1.1 1.4 2.6 2.9 1.1 3.4 2.6 5.9 1.6 4.4 1.1 3.4 3.6 1.4 4.1 1.4 1.1 2.9 12.6 2.9 3.1 9.4 1.1 1.4 4.6 5.9 2.6 1.4 3.1 1.9 2.6 2.4 3.1 2.4 4.1 3.4 5.1 1.4 1.1 7.4 4.1 1.4 2.1 1.4 2.6 3.9 2.1 3.4 2.6 1.9 1.1 2.4 4.1 2.9 2.6 2.4 1.6 1.9 9.6 3.9 4.6 1.4 2.1 1.9 1.6 4.9 4.1 3.4 3.6 1.9 2.6 4.4 1.6 1.4 2.6 7.9 10.6 4.4 3.6 1.4 6.1 6.9 3.1 6.9 2.1 3.9 7.1 1.4 1.6 3.4 6.1 1.4 10.1 3.4 1.6 3.4 1.6 3.4 7.1 8.4 5.6 600"/>
<path d="M81.95 361.96H572.6" stroke-dasharray="7.6 2.4 3.6 4.4 4.1 1.9 11.6 1.4 6.6 3.9 6.6 1.4 5.6 1.4 11.1 2.4 4.1 2.4 4.6 1.4 4.1 3.9 1.6 1.9 1.1 1.4 2.6 3.9 4.6 1.9 1.1 1.9 6.6 1.9 1.6 5.4 2.1 3.4 13.6 1.4 1.1 1.4 5.1 1.4 1.1 1.4 4.6 1.4 8.6 1.4 17.6 2.9 2.6 1.4 1.6 1.4 1.1 5.9 4.6 1.4 8.6 1.4 1.1 2.9 8.1 2.9 6.6 1.4 5.6 3.4 2.6 1.4 9.6 1.4 6.6 1.4 2.6 1.4 11.1 2.9 17.1 1.4 1.1 1.4 7.6 1.4 5.6 1.4 4.6 3.9 4.6 1.4 5.6 4.9 1.6 1.4 4.1 1.4 25.1 1.4 2.6 3.9 2.1 1.9 6.6 1.9 3.1 1.4 2.1 1.9 1.6 2.4 5.1 2.4 6.6 1.4 2.1 1.9 5.1 1.4 3.6 1.4 10.1 1.9 5.1 1.4 1.1 3.4 2.6 600"/>
<path d="M82.95 358.53H567.1" stroke-dasharray="1.6 3.4 2.6 4.9 1.1 5.4 3.6 4.4 1.1 1.4 1.6 11.4 1.1 6.4 2.6 4.4 2.6 3.9 4.6 5.9 1.1 15.4 1.1 3.9 1.1 8.9 1.6 1.4 2.6 1.4 1.6 1.4 2.6 18.9 1.6 1.9 3.6 1.9 1.6 8.4 1.6 6.9 1.1 1.9 1.6 1.4 2.1 7.9 1.1 3.4 1.1 3.4 1.1 1.9 1.6 1.9 1.1 4.9 2.6 1.9 1.1 5.4 1.1 2.4 1.1 3.4 1.1 1.4 1.6 13.9 1.1 4.9 1.6 3.4 1.1 1.4 1.6 1.9 3.6 4.4 1.1 3.4 3.6 6.9 1.6 1.9 1.1 6.9 1.1 2.9 1.1 26.9 3.1 3.9 1.6 5.9 2.1 4.4 1.1 7.9 1.6 8.4 2.1 6.4 2.6 1.4 1.6 3.9 3.1 1.9 1.6 1.9 1.1 5.9 2.6 1.9 1.1 1.9 2.1 21.9 2.6 2.4 1.1 9.4 1.1 4.9 1.6 5.4 1.1 8.4 1.1 1.9 1.1 2.4 1.6 2.9 3.6 2.9 1.1 600"/>
<path d="M88.95 355.11H533.6" stroke-dasharray="1.1 8.9 1.1 1.4 1.1 28.9 1.1 5.9 1.6 37.9 1.1 4.9 1.1 2.9 4.6 10.9 2.6 11.9 1.1 15.4 5.1 3.9 1.1 1.4 1.6 10.9 1.1 16.9 1.1 20.9 1.6 39.4 1.6 5.4 2.6 1.9 1.1 6.4 1.6 3.9 3.6 2.9 1.1 9.4 1.1 9.4 1.6 6.4 1.6 1.4 1.1 4.9 1.1 21.4 1.1 1.4 3.1 13.9 1.6 6.4 2.6 28.4 1.6 1.4 1.6 6.4 2.6 29.4 1.1 600"/>
<path d="M79.45 351.69H572.1" stroke-dasharray="2.6 1.4 1.1 1.9 3.6 4.9 2.1 1.4 3.6 7.4 9.1 5.4 3.6 3.4 2.1 4.4 2.6 1.9 9.1 1.9 1.6 1.9 1.1 1.4 1.1 3.4 1.1 5.4 4.1 10.4 4.1 1.9 3.1 1.4 1.6 2.9 1.1 1.4 2.1 1.9 1.1 2.9 3.1 8.4 3.1 1.4 8.1 4.9 3.6 4.4 3.6 6.9 1.6 2.4 1.1 1.9 3.1 1.9 4.6 8.9 1.1 2.9 1.6 2.9 1.6 2.4 2.1 14.9 1.1 3.9 3.6 2.4 2.6 1.4 2.6 3.4 1.6 3.9 3.6 3.9 1.1 1.9 5.1 1.9 1.6 6.9 1.1 1.4 1.1 2.9 2.1 6.9 3.6 1.4 1.6 3.4 1.6 2.9 1.6 2.4 2.1 3.4 3.6 5.4 1.1 6.4 4.6 4.4 1.1 1.9 3.1 2.9 1.1 8.4 1.1 1.4 1.6 2.9 1.6 2.4 3.1 5.9 1.1 1.4 4.6 2.4 1.1 3.9 1.6 8.4 1.6 1.4 2.6 4.4 2.1 2.4 1.6 4.4 3.6 1.4 1.1 8.4 2.1 3.4 1.1 1.9 4.1 2.4 1.6 21.9 2.1 1.4 2.1 600"/>
<path d="M79.95 348.26H572.1" stroke-dasharray="9.1 2.9 2.1 4.9 2.1 1.4 2.1 2.9 2.6 5.9 2.1 1.4 1.1 3.4 2.1 3.4 2.1 1.4 3.1 1.9 1.1 1.4 1.6 2.4 1.6 2.4 3.6 1.4 4.6 3.4 1.1 3.4 3.6 1.4 2.1 2.9 5.6 1.4 6.1 7.4 1.6 1.4 1.1 1.4 3.6 1.4 1.6 1.4 1.6 2.4 6.6 6.9 3.1 3.9 6.6 1.4 1.1 1.4 6.6 1.4 2.6 1.9 1.1 4.4 5.6 5.4 6.1 2.9 1.1 1.4 1.1 3.4 4.1 1.9 3.1 4.9 1.1 1.4 3.1 3.9 1.6 1.4 1.6 2.4 2.6 1.4 1.1 1.4 4.1 3.9 9.1 2.4 2.1 2.9 7.1 1.4 4.1 4.9 1.6 7.9 1.1 1.4 2.1 4.4 1.1 1.4 4.1 5.9 1.1 2.9 3.6 2.9 1.6 2.9 3.1 3.4 1.6 1.9 6.1 3.4 12.1 4.9 1.1 2.9 6.6 1.4 2.6 1.4 5.6 1.4 3.6 6.9 1.6 10.4 3.1 1.4 2.6 2.4 3.6 2.9 1.6 1.9 7.1 1.4 3.1 5.4 1.1 1.4 1.6 8.9 14.1 1.4 2.6 2.9 4.6 600"/>
<path d="M79.95 344.84H572.6" stroke-dasharray="1.1 6.4 1.6 1.4 2.6 2.9 2.1 7.9 1.6 2.4 1.6 2.9 2.1 2.4 1.1 3.9 1.1 1.4 6.1 1.4 4.6 4.9 1.6 5.4 1.1 2.9 6.1 3.9 6.6 6.9 1.6 2.4 1.6 5.4 2.1 4.4 3.1 1.4 8.1 1.9 11.6 2.4 3.6 5.9 2.1 1.4 2.1 3.4 2.1 4.9 1.1 1.4 1.1 2.9 1.1 5.4 2.1 3.4 4.1 4.4 2.6 6.9 4.1 3.4 3.6 7.4 4.1 1.4 5.1 1.4 1.1 4.9 1.1 7.4 1.1 1.9 1.1 1.9 2.6 1.9 2.1 2.9 1.6 10.4 2.6 6.4 2.1 3.9 1.1 4.9 2.1 3.9 2.6 6.4 2.1 7.4 1.1 8.4 2.1 1.9 2.6 2.4 10.6 6.9 2.1 3.9 1.6 3.9 1.1 1.9 2.1 4.4 13.1 4.4 1.6 11.4 3.6 1.4 3.6 2.9 3.6 10.4 2.1 9.4 1.6 1.9 2.6 1.4 2.1 3.4 1.6 11.9 1.6 1.9 1.6 2.9 2.6 5.4 1.6 600"/>
<path d="M79.95 341.42H572.1" stroke-dasharray="1.6 6.9 4.1 3.9 1.6 8.4 1.6 1.9 1.1 7.4 1.6 2.4 2.1 17.9 2.1 5.4 5.1 1.4 1.6 2.9 2.1 2.4 1.1 6.9 1.1 1.4 1.6 14.4 1.6 22.9 3.6 14.4 1.6 11.9 2.1 1.9 2.1 7.4 3.1 1.4 1.6 2.4 1.6 9.9 4.1 7.4 3.1 3.4 1.1 6.9 1.6 2.9 7.6 4.9 1.1 1.4 1.1 1.9 4.1 3.9 2.1 9.4 2.6 6.4 2.6 3.4 1.1 1.9 1.6 3.4 2.1 1.4 3.1 9.4 2.6 2.4 3.1 4.4 4.1 5.9 1.6 2.9 4.6 1.9 1.6 4.9 4.1 1.9 1.6 1.4 1.6 1.9 1.6 10.4 3.6 4.9 1.6 9.4 1.6 6.9 1.1 4.9 1.6 4.9 1.6 5.9 1.1 7.4 3.1 8.9 1.1 3.4 1.1 8.4 2.1 3.9 2.1 5.4 1.1 6.9 1.1 1.4 1.1 3.4 1.6 3.4 3.1 600"/>
<path d="M83.95 337.99H568.1" stroke-dasharray="1.6 9.4 1.1 1.4 1.6 19.4 1.1 22.4 1.1 5.4 2.6 24.4 1.1 4.9 2.1 5.4 1.1 5.4 3.1 8.9 2.1 15.9 3.1 24.4 1.6 3.4 1.1 13.9 3.6 45.4 1.1 15.4 1.1 18.4 1.6 5.9 2.6 20.9 2.6 4.9 1.1 23.9 1.1 7.9 4.1 19.9 2.1 6.9 3.1 1.4 2.6 16.4 1.1 13.4 1.6 29.4 1.1 20.4 1.1 1.9 2.1 7.9 1.1 600"/>
<path d="M79.95 334.57H572.6" stroke-dasharray="2.1 1.4 8.6 1.4 1.6 1.9 4.6 1.4 3.6 2.9 1.6 1.9 3.6 1.4 10.1 6.4 4.1 1.4 1.6 3.4 1.6 5.4 9.6 1.4 15.6 1.4 4.1 1.4 6.1 3.9 8.1 5.4 4.1 1.9 1.1 1.4 13.1 3.4 7.1 1.4 2.6 1.9 3.6 3.4 7.1 1.4 7.1 3.9 5.1 2.4 3.1 2.4 3.1 1.9 4.6 1.4 3.6 1.4 8.1 1.9 1.6 1.4 4.1 3.4 6.6 1.4 16.6 1.4 1.1 4.4 5.6 1.4 3.1 1.4 3.1 1.9 1.1 1.4 1.1 1.4 7.1 5.4 8.1 1.4 3.1 1.4 1.6 1.4 1.6 1.4 2.6 1.4 2.6 1.9 1.1 1.4 1.1 4.4 4.1 5.4 2.1 1.4 1.1 5.9 6.6 1.4 3.1 3.9 4.6 1.9 3.1 6.9 1.1 1.4 2.6 1.9 1.1 2.4 1.1 1.4 1.1 1.4 2.1 4.4 4.6 1.4 7.1 3.4 7.1 1.9 4.6 1.9 2.1 1.4 8.1 1.4 1.1 1.4 5.1 1.4 7.1 2.9 4.1 3.4 2.6 600"/>
<path d="M89.95 331.15H570.1" stroke-dasharray="2.6 20.9 1.1 2.9 2.6 22.9 1.6 2.4 1.1 5.9 1.6 15.9 3.6 17.4 1.6 2.4 2.1 20.9 1.1 3.9 1.6 4.9 1.6 8.9 1.6 3.4 1.6 7.4 1.6 1.9 1.6 13.9 4.1 14.4 1.1 14.4 1.6 9.9 1.1 2.4 1.1 6.4 1.6 5.9 1.6 4.9 2.6 24.9 2.1 10.9 2.6 13.4 1.1 2.9 1.1 3.9 1.1 4.4 1.6 1.9 1.1 8.4 1.1 26.4 1.6 1.4 1.6 3.4 1.1 4.4 1.6 18.4 2.1 16.9 1.1 5.9 1.1 3.4 1.6 4.9 1.1 15.4 1.1 9.4 2.1 2.9 1.1 5.9 1.1 1.9 1.1 600"/>
<path d="M80.95 327.72H572.6" stroke-dasharray="1.1 2.4 8.6 5.4 1.1 1.4 1.1 2.9 2.6 1.4 3.6 1.4 5.1 1.9 2.1 3.4 2.6 4.4 3.1 2.9 2.6 1.4 3.6 1.4 1.6 2.9 2.6 2.4 1.1 1.4 1.1 1.9 7.1 3.4 2.1 5.9 1.1 6.4 2.1 6.9 3.1 3.4 2.1 1.9 4.6 3.4 4.1 5.4 2.6 1.9 2.1 2.4 1.6 4.4 2.1 4.4 1.1 1.9 2.1 1.9 3.1 1.4 1.1 1.4 3.6 1.9 1.1 2.9 1.6 1.9 1.6 4.4 2.6 15.4 1.1 2.9 3.1 6.9 3.6 16.9 3.1 1.9 2.1 1.4 3.1 2.4 1.6 3.9 4.1 3.4 4.1 3.4 5.6 8.4 1.1 1.4 1.1 3.9 5.6 1.9 1.1 4.4 2.1 1.4 3.1 1.9 5.6 1.9 1.6 3.9 1.6 4.4 1.1 1.9 1.1 1.4 3.1 6.9 9.6 1.9 1.6 1.9 1.1 1.4 3.6 1.4 1.6 1.4 8.6 2.9 6.1 2.4 1.6 1.9 3.1 1.4 2.1 2.9 2.1 4.4 3.1 4.4 1.1 2.9 5.6 2.9 3.6 7.4 1.6 1.9 4.1 6.4 5.1 1.4 2.1 7.4 1.1 600"/>
<path d="M89.45 324.3H572.1" stroke-dasharray="2.6 4.9 2.6 8.4 2.1 9.9 2.6 3.4 7.6 1.4 2.6 1.4 1.1 1.9 3.6 11.9 2.6 2.9 1.6 9.9 1.1 8.4 1.1 4.9 2.1 2.4 1.1 1.4 1.1 15.4 3.6 8.9 1.6 3.4 2.6 4.9 1.1 1.9 4.6 1.4 3.1 3.9 1.1 5.4 2.1 3.9 1.1 4.4 1.1 3.9 1.1 4.4 1.1 5.4 5.1 5.9 1.6 3.4 3.6 5.4 1.1 7.4 1.6 2.9 1.1 1.4 1.1 2.4 2.1 7.9 1.6 1.4 2.6 1.4 1.6 2.4 1.6 2.9 1.1 1.4 2.1 4.9 1.6 3.4 4.1 15.4 1.1 2.4 1.1 1.4 1.6 4.9 1.1 2.4 1.6 2.4 1.6 3.4 5.1 9.9 10.1 2.4 2.1 8.9 1.6 3.9 1.1 3.9 1.1 1.4 1.1 2.4 1.6 4.4 2.1 1.4 1.6 1.4 1.1 1.4 1.1 3.9 2.1 4.9 1.6 4.9 1.6 11.9 1.1 3.9 1.6 5.4 1.1 11.9 4.1 6.4 1.1 4.9 1.1 1.4 1.1 3.9 3.1 600"/>
<path d="M79.45 320.88H572.6" stroke-dasharray="1.1 3.9 4.1 1.4 1.1 1.4 1.6 8.4 3.1 1.4 11.6 3.9 2.1 3.9 4.6 1.4 5.6 2.4 5.1 1.9 3.1 3.9 1.6 3.4 1.1 7.9 2.6 1.4 2.1 3.4 8.6 4.4 2.1 3.4 1.1 3.4 2.6 3.9 1.6 4.9 1.1 1.9 1.1 1.4 5.6 1.9 1.6 1.4 1.1 1.4 1.6 1.4 5.6 5.4 3.1 2.4 2.6 2.4 1.1 1.4 1.6 1.4 2.6 1.9 1.1 2.4 12.1 1.4 4.6 3.4 1.1 1.4 5.1 1.9 1.6 1.4 3.6 1.4 5.1 1.4 1.6 2.4 9.1 1.9 2.6 1.4 1.6 3.9 4.1 1.4 1.1 1.4 1.1 1.4 1.6 4.9 3.6 3.4 2.6 1.9 7.6 9.4 3.6 1.4 6.1 1.4 1.1 3.9 4.6 8.4 2.1 1.4 7.1 1.4 4.6 5.4 1.6 2.4 1.6 6.4 4.6 1.4 1.6 1.9 3.6 4.9 1.6 2.9 5.1 2.9 4.1 1.4 1.1 1.9 2.6 1.9 4.6 3.4 2.6 1.9 1.6 1.4 1.6 1.9 2.6 3.9 1.1 2.4 1.1 1.4 3.1 2.4 2.1 3.4 3.1 2.4 1.1 3.9 11.1 1.4 11.1 600"/>
<path d="M82.95 317.45H568.1" stroke-dasharray="3.6 1.4 4.1 2.4 6.1 4.4 5.6 1.4 1.6 1.4 1.1 3.4 4.1 1.4 1.6 1.4 2.1 1.4 2.1 4.9 6.1 1.4 3.1 1.4 4.1 2.4 1.6 1.4 10.6 1.4 4.6 1.4 1.6 1.4 12.1 5.4 4.6 2.4 1.6 1.4 1.6 4.9 2.1 1.9 3.6 1.4 6.1 3.9 2.6 1.4 6.1 3.4 7.1 1.4 4.6 1.4 3.6 1.4 2.1 3.4 3.1 1.4 2.1 1.9 2.6 1.4 3.6 1.9 3.6 1.4 2.1 3.4 4.6 1.4 6.1 3.9 7.1 1.9 2.1 6.4 6.1 1.4 7.6 1.4 18.6 1.4 2.1 2.9 1.1 1.4 8.6 1.4 1.6 1.4 6.6 1.4 4.1 1.4 9.6 1.9 3.1 1.9 8.6 3.4 1.1 1.9 2.6 2.4 1.1 4.4 3.1 4.9 3.1 3.4 1.1 3.4 1.6 1.9 4.1 3.4 3.6 1.4 14.6 2.9 3.6 2.4 6.1 3.4 6.6 1.4 11.6 1.4 4.1 1.4 1.1 1.4 7.6 2.4 1.6 3.9 8.6 600"/>
<path d="M79.95 314.03H571.6" stroke-dasharray="7.6 1.4 1.1 1.4 9.6 2.4 2.6 1.4 5.1 1.4 1.6 4.4 1.6 6.4 14.6 1.9 5.1 1.9 2.6 1.4 7.1 1.4 2.6 6.9 2.1 1.4 5.6 2.9 1.6 1.4 4.6 1.4 6.1 2.9 1.1 6.9 2.6 1.9 2.1 5.9 8.1 3.4 1.1 4.9 9.6 1.4 14.1 6.4 2.6 1.9 8.6 2.9 8.1 1.4 1.1 2.9 3.1 3.4 5.1 1.9 10.1 5.9 1.1 1.4 5.6 9.4 1.6 1.9 7.6 8.4 3.1 1.4 3.1 3.4 2.6 1.4 1.6 1.9 1.6 1.4 4.6 2.4 4.1 1.4 2.6 2.4 1.1 1.4 1.1 3.4 2.1 1.9 3.1 13.4 13.6 6.9 4.1 1.4 1.6 4.9 1.6 1.4 1.6 1.9 1.1 6.9 2.1 1.4 1.6 3.9 1.1 1.4 2.1 1.4 5.1 2.4 2.1 5.4 4.6 1.4 2.1 1.4 5.1 1.4 5.1 1.4 12.6 2.4 1.1 4.4 3.6 1.4 1.1 2.9 7.1 600"/>
<path d="M93.45 310.61H572.1" stroke-dasharray="4.1 2.9 1.1 7.9 1.1 13.4 2.6 20.4 5.1 8.4 1.1 5.4 2.1 5.4 5.6 15.4 1.1 2.9 4.6 1.4 1.1 1.4 1.1 1.9 1.1 3.4 2.1 2.4 1.6 1.4 1.1 8.9 1.6 9.4 2.1 4.9 1.1 1.9 3.1 2.4 3.1 1.4 1.1 10.9 1.6 8.4 2.6 3.4 1.6 11.4 1.6 8.4 2.1 2.9 1.6 2.4 3.1 5.9 2.1 1.4 1.1 2.4 2.1 3.9 3.1 1.9 1.6 2.9 1.6 22.4 2.1 2.4 1.1 1.9 2.1 2.4 2.1 11.4 1.1 3.4 2.6 3.9 2.6 1.4 1.6 1.9 1.1 5.4 1.6 6.9 1.6 5.9 1.1 4.4 3.1 3.4 3.1 15.9 2.6 1.4 3.6 5.4 3.1 7.4 1.6 5.4 3.1 1.4 1.1 13.9 1.6 7.4 2.6 1.4 1.1 2.9 3.6 1.4 1.6 7.9 2.1 2.9 1.6 3.4 3.6 600"/>
<path d="M79.45 307.18H566.1" stroke-dasharray="1.6 28.9 3.1 4.4 2.1 2.9 1.1 7.4 3.6 4.4 1.1 2.4 2.6 9.4 2.1 9.9 8.1 5.4 1.1 2.4 1.6 6.9 2.6 1.4 1.1 1.4 3.1 1.4 1.1 4.4 1.6 12.4 2.6 2.9 1.1 9.4 1.1 11.4 2.6 3.4 1.6 1.4 3.1 8.4 1.1 3.9 3.6 2.9 1.1 3.9 1.6 5.9 2.6 1.9 2.1 2.9 1.6 5.9 3.6 7.4 3.6 3.4 1.1 8.4 1.1 7.9 2.6 16.4 3.6 1.9 5.6 1.4 5.6 7.4 2.6 2.9 1.6 8.4 1.1 4.4 1.1 3.4 1.1 9.4 1.1 4.9 1.1 3.4 2.1 1.4 1.6 4.9 3.1 2.9 5.1 11.9 1.6 5.4 3.1 5.4 4.6 2.9 1.6 1.4 2.6 1.4 3.6 10.4 1.1 2.4 1.1 1.4 1.6 9.4 1.1 4.4 1.6 2.4 4.1 9.9 1.1 1.4 2.1 1.9 2.1 600"/>
<path d="M92.95 303.76H562.1" stroke-dasharray="1.1 8.9 1.1 4.9 1.1 4.4 1.6 18.9 2.6 1.9 1.6 6.4 2.1 14.9 2.6 7.9 1.1 2.4 3.1 1.9 1.6 1.4 1.1 13.9 1.1 4.4 1.1 5.9 1.1 6.4 1.1 7.9 1.6 8.9 1.1 7.4 1.1 7.4 1.6 13.9 2.6 12.4 5.1 20.9 1.1 5.4 2.1 25.9 2.1 5.4 1.6 23.9 1.6 5.4 1.6 18.4 1.1 23.9 5.6 4.9 2.6 10.9 2.1 7.4 1.6 44.4 1.1 19.4 2.1 12.9 1.1 10.9 1.1 600"/>
<path d="M79.95 300.33H570.1" stroke-dasharray="2.1 3.9 2.1 1.4 1.1 3.9 2.1 2.4 6.6 5.4 1.1 1.4 7.1 1.4 4.6 1.9 3.1 4.4 10.1 1.4 2.6 1.4 3.1 7.4 1.1 1.4 1.1 2.4 4.1 1.9 1.1 1.4 1.6 1.9 5.6 1.4 1.1 2.4 5.1 1.4 10.6 1.9 16.6 1.4 5.6 4.4 7.1 1.4 3.1 1.4 2.1 7.9 8.6 1.9 6.1 1.4 7.1 3.4 1.1 4.4 11.6 5.4 5.1 1.4 2.1 3.4 4.6 2.9 1.1 1.4 7.6 1.9 3.6 1.4 1.6 1.9 1.1 3.9 4.1 1.4 1.1 1.4 16.1 1.4 11.1 1.4 3.1 1.9 1.1 1.4 3.1 1.4 6.1 2.9 1.1 1.4 3.6 1.4 6.6 3.4 1.6 1.9 4.6 2.9 1.1 2.4 3.6 6.4 6.1 1.4 5.6 1.4 1.1 1.4 7.1 1.4 4.6 1.4 2.1 1.4 3.1 3.4 2.1 3.4 6.1 3.9 9.6 1.4 1.1 3.4 1.1 4.4 2.6 1.4 1.6 6.9 1.6 1.4 12.1 1.4 5.6 600"/>
<path d="M85.45 296.91H572.6" stroke-dasharray="3.6 2.4 1.6 1.4 3.1 1.4 5.1 1.9 2.1 1.9 3.1 1.4 3.1 3.4 7.6 1.9 16.6 1.4 6.6 4.9 1.1 1.9 1.6 1.4 1.1 2.4 3.1 3.4 16.1 1.9 11.1 2.4 1.6 1.4 3.1 2.9 1.6 1.4 1.1 1.4 1.6 1.4 5.1 1.4 5.6 3.9 2.1 2.4 8.6 1.4 1.6 1.4 2.1 1.4 3.6 1.4 4.1 2.9 1.1 1.4 3.6 1.9 1.6 1.9 7.6 1.4 1.1 1.4 5.1 3.4 2.1 1.4 1.6 1.4 15.1 3.4 6.1 1.4 1.1 2.4 4.1 4.9 1.1 1.4 2.1 4.4 1.6 1.4 2.6 1.4 3.1 1.4 3.1 1.9 5.1 2.4 3.1 4.4 2.6 1.4 3.1 1.4 5.6 2.9 6.1 1.9 2.1 3.4 10.1 1.4 2.1 1.4 7.1 1.9 6.6 11.4 7.1 1.9 1.1 1.4 4.1 2.4 1.1 1.4 1.6 1.4 2.6 3.9 7.1 9.4 2.6 4.4 1.6 3.9 1.6 1.4 3.1 1.4 1.1 6.9 6.1 1.9 13.6 1.4 1.1 1.4 1.6 5.4 2.1 600"/>
<path d="M86.45 293.49H563.1" stroke-dasharray="3.6 4.4 5.1 2.9 2.1 1.4 1.1 3.4 2.6 8.9 1.1 4.9 2.6 1.9 1.6 2.9 3.1 3.4 1.6 3.9 1.6 2.9 2.1 1.9 5.1 1.4 1.1 1.9 3.1 2.9 1.6 12.4 1.6 4.4 1.6 1.4 2.1 2.9 3.6 1.4 6.6 6.4 2.1 11.9 2.1 1.9 2.6 5.4 3.1 1.4 1.6 4.9 1.6 10.9 1.1 3.4 1.1 2.9 3.6 4.4 3.6 2.4 4.1 3.4 7.6 1.9 1.1 2.4 4.1 7.4 5.6 2.4 4.1 1.4 2.1 3.9 2.1 3.9 1.1 1.4 2.1 6.9 5.1 1.4 1.6 1.4 4.1 1.4 3.6 3.4 1.1 2.4 1.6 2.9 2.1 4.4 1.1 10.4 2.6 1.4 1.1 3.9 1.1 5.4 5.6 1.4 2.1 5.9 1.1 14.4 3.1 10.9 4.6 5.4 3.6 4.9 3.1 5.4 6.1 2.9 1.6 2.9 1.6 1.4 1.1 3.4 2.6 3.9 3.6 2.4 1.6 1.4 1.6 3.4 1.1 1.4 3.1 3.9 7.6 4.9 1.1 1.4 2.1 600"/>
<path d="M97.95 290.06H564.6" stroke-dasharray="1.1 11.4 1.6 3.9 1.1 2.9 1.1 25.4 3.6 6.4 1.6 7.9 1.1 34.9 1.1 16.4 1.1 8.4 1.1 5.4 1.1 9.4 1.1 30.9 2.1 1.4 1.1 5.4 1.6 5.4 1.1 1.9 2.1 6.9 1.1 4.4 1.1 13.9 1.1 5.4 1.6 1.9 1.6 1.4 1.1 12.4 2.6 3.9 2.6 2.9 2.1 14.9 1.1 5.4 1.1 3.9 1.6 5.9 2.6 4.9 1.6 20.9 2.1 8.9 1.1 2.9 1.1 20.4 1.1 8.9 1.1 4.4 1.1 18.4 1.1 4.4 1.6 13.9 2.6 7.9 1.1 19.4 1.1 1.9 1.6 3.4 1.1 600"/>
<path d="M80.45 286.64H572.6" stroke-dasharray="2.1 4.9 1.6 2.9 5.1 1.9 1.6 4.4 1.6 1.9 2.1 3.4 1.1 3.4 2.6 1.4 7.6 1.4 1.6 1.9 6.1 3.4 11.1 1.4 2.6 1.4 2.1 3.4 3.6 7.9 2.6 1.9 3.1 1.4 1.6 1.4 1.6 1.4 1.1 1.9 7.1 2.4 1.6 1.4 2.1 12.9 1.6 3.9 4.6 1.9 1.6 3.9 2.1 1.4 6.1 1.4 2.1 2.4 2.1 1.4 1.1 1.4 5.1 3.4 10.1 1.4 3.6 2.9 2.1 2.9 9.1 3.4 3.1 8.4 2.1 1.4 1.6 1.4 1.1 1.4 3.1 2.4 1.1 3.4 11.6 1.4 9.6 1.4 2.1 1.9 1.1 1.9 1.6 1.4 4.1 1.9 5.1 2.4 1.6 2.9 1.6 1.4 2.6 1.4 1.1 1.4 1.1 6.4 7.1 1.4 2.6 1.9 1.1 10.9 1.6 4.4 2.1 1.4 2.1 2.4 1.6 2.4 1.1 1.4 5.1 1.4 3.1 4.4 2.6 11.4 5.6 2.9 4.6 2.4 6.1 3.4 1.1 2.4 1.1 3.4 1.1 1.9 10.1 6.4 5.1 1.4 1.1 1.4 2.1 1.4 1.1 2.4 2.1 2.4 1.1 1.4 1.6 3.9 2.6 1.4 1.6 3.4 3.1 600"/>
<path d="M89.45 283.22H572.1" stroke-dasharray="2.6 1.4 2.6 2.4 1.1 6.4 7.6 1.9 2.6 1.4 2.1 2.4 2.1 4.9 4.6 6.9 1.1 1.9 3.6 10.4 2.1 8.4 1.6 7.9 1.1 4.9 1.6 1.4 2.6 1.4 2.1 9.4 2.6 11.4 1.6 1.4 3.1 1.9 2.1 1.4 2.1 9.4 1.6 1.4 2.1 1.9 3.6 4.4 3.1 4.4 1.1 2.4 2.1 1.4 1.1 3.4 2.6 4.4 2.6 10.4 1.1 6.9 2.1 3.9 2.1 5.9 1.1 1.4 1.1 1.4 3.1 4.4 1.1 2.9 1.1 1.9 2.1 7.9 4.1 2.4 3.1 3.4 1.6 3.9 2.1 7.9 1.1 14.4 3.1 1.9 1.1 9.9 2.1 1.4 3.1 14.4 1.1 1.9 1.6 5.4 1.6 1.4 1.1 13.4 1.6 1.9 5.6 7.4 2.1 3.4 1.1 4.4 2.6 4.9 2.1 3.9 1.6 5.9 1.1 1.4 1.6 7.9 1.1 2.9 2.1 9.4 1.1 1.9 4.1 3.9 1.6 2.9 1.1 2.4 3.6 7.4 1.1 8.9 1.1 600"/>
<path d="M79.45 279.79H571.1" stroke-dasharray="3.6 3.4 12.1 3.4 1.6 1.4 1.6 1.4 1.1 2.9 1.6 1.4 2.1 1.9 2.1 1.4 3.1 1.4 1.1 2.9 2.6 2.4 11.6 2.4 4.1 3.9 4.6 3.9 1.1 1.9 3.6 1.4 1.6 4.9 1.6 1.4 2.6 1.4 2.6 1.4 4.6 8.9 5.6 4.4 3.6 2.9 12.6 1.4 1.1 1.4 1.1 1.4 4.6 2.4 5.1 1.4 2.6 1.4 2.1 3.4 24.6 1.4 8.6 2.4 2.6 2.9 2.6 3.4 4.1 1.4 8.1 4.4 2.6 1.4 2.6 1.4 2.1 2.9 7.1 3.9 1.6 1.4 2.1 3.4 7.6 1.9 1.1 3.4 9.6 1.4 6.6 1.4 3.1 1.4 1.6 1.4 4.6 3.9 4.1 1.4 2.1 1.4 6.1 3.4 5.6 4.4 4.1 1.9 1.1 1.4 11.1 1.9 9.1 1.9 2.1 1.4 3.1 1.9 1.1 1.4 2.6 3.9 1.1 1.4 2.6 1.9 6.1 1.4 3.6 3.4 6.6 1.4 2.1 2.4 1.6 1.9 2.1 1.4 4.1 8.9 1.1 2.9 5.1 1.9 2.1 1.9 8.6 1.9 1.1 600"/>
<path d="M124.95 276.37H554.1" stroke-dasharray="1.1 5.9 1.1 3.4 1.1 9.9 1.1 1.4 1.1 6.4 1.6 2.9 1.1 3.4 1.6 27.9 3.6 14.4 1.1 4.4 1.1 9.9 1.1 1.4 1.1 17.9 1.1 18.9 2.1 19.9 1.1 4.4 1.1 6.9 1.1 8.9 1.1 30.9 1.1 12.4 1.6 1.4 1.1 17.4 1.1 7.4 1.6 29.9 1.1 14.4 1.1 3.4 1.6 12.9 1.1 1.4 1.1 50.9 1.1 6.4 1.1 3.9 1.1 13.9 1.1 7.9 4.1 600"/>
<path d="M79.45 272.95H565.6" stroke-dasharray="2.1 1.4 1.6 1.4 3.6 2.4 2.1 1.4 1.1 3.9 2.1 1.9 1.6 1.4 1.6 1.4 4.1 5.9 7.1 2.4 1.6 8.9 1.1 1.4 5.1 2.4 1.6 8.4 6.1 1.4 2.6 1.4 4.6 2.4 5.1 3.9 1.1 1.4 1.6 2.4 3.6 2.4 4.1 1.4 4.1 2.9 5.6 1.4 1.1 2.4 2.1 1.9 9.1 3.4 1.6 2.9 2.6 2.9 1.1 2.9 1.1 1.4 2.1 5.9 1.1 1.4 1.6 3.9 2.1 1.4 3.6 1.4 1.1 1.4 10.1 1.4 1.1 1.9 1.1 2.4 3.6 10.9 12.1 1.4 1.1 9.9 1.6 1.9 2.1 3.4 2.1 1.9 1.1 1.4 4.1 1.4 3.6 3.4 1.6 1.9 1.6 1.9 4.6 3.9 1.6 2.9 1.6 1.4 1.1 1.4 3.1 2.9 1.6 5.4 6.6 5.9 3.1 1.4 2.1 1.4 3.1 6.9 1.1 2.4 1.1 1.4 2.1 3.9 3.1 1.4 3.1 4.4 1.1 1.4 1.6 3.4 2.1 1.4 1.1 1.9 3.6 1.4 2.6 1.4 1.1 1.9 4.6 1.9 2.1 1.4 2.1 2.4 4.1 1.9 1.6 1.4 1.1 1.4 1.1 3.9 3.1 5.9 2.1 2.4 2.6 1.4 2.6 2.4 10.6 4.4 1.6 5.9 2.1 600"/>
<path d="M82.95 269.52H569.6" stroke-dasharray="1.1 5.9 1.1 2.4 1.1 1.4 1.1 10.4 4.1 5.4 2.6 8.9 1.1 3.4 3.6 4.9 5.6 3.4 1.6 1.9 1.1 2.4 2.1 7.9 4.6 2.9 1.6 2.9 4.1 5.9 2.1 1.9 2.6 1.4 1.6 11.9 3.1 1.4 1.1 2.4 3.1 1.4 2.1 1.4 2.1 4.9 1.1 1.4 1.1 2.9 4.1 3.9 2.1 1.4 1.1 5.9 1.1 1.4 1.6 2.9 2.6 7.9 1.1 3.9 2.1 8.4 6.1 1.4 1.6 2.9 5.6 7.4 4.6 1.4 1.6 5.4 5.6 1.9 2.6 3.4 1.1 6.4 2.6 2.4 1.1 3.9 1.6 3.4 1.1 1.9 1.1 17.4 3.1 2.4 6.1 2.9 1.6 3.4 1.1 1.9 1.1 5.4 1.1 5.9 2.1 1.4 2.1 2.9 3.6 3.4 1.6 1.4 1.1 9.4 2.6 1.4 5.6 1.4 2.1 2.4 1.1 7.4 2.6 1.9 5.1 3.4 1.1 1.4 2.1 2.4 1.6 1.9 2.1 8.4 6.1 3.9 2.1 5.9 1.1 1.4 3.1 2.9 3.1 3.9 2.6 1.4 2.6 1.9 1.1 1.4 2.1 9.4 3.1 600"/>
<path d="M79.45 266.1H572.6" stroke-dasharray="2.1 1.4 1.1 2.4 1.1 2.9 2.1 6.4 1.1 4.9 1.6 3.4 1.1 9.4 2.1 1.9 1.1 7.9 1.6 1.4 1.6 9.9 1.6 1.4 3.6 1.4 1.1 4.9 1.1 2.9 3.6 7.4 2.6 8.9 1.6 8.4 1.1 6.9 1.1 1.4 1.1 1.9 1.1 12.9 1.1 2.9 1.6 4.9 3.6 5.9 1.6 2.9 3.6 3.4 1.1 11.9 1.1 4.4 1.1 1.4 2.6 3.4 1.6 1.4 1.1 2.4 2.1 20.9 1.1 2.9 1.1 1.9 2.1 3.4 2.1 1.4 1.1 1.4 1.1 5.4 1.6 6.9 1.1 2.4 2.1 9.4 1.1 4.9 1.6 3.4 1.1 4.9 7.1 1.4 1.1 1.9 1.1 1.9 1.1 1.9 3.6 29.9 1.6 2.9 2.1 7.9 2.6 1.9 1.1 5.9 1.6 12.9 1.6 3.9 4.6 13.4 1.1 4.4 1.6 1.4 1.1 1.9 2.1 7.4 2.1 1.4 1.6 13.9 2.1 8.9 2.6 4.9 1.1 2.4 6.6 1.4 2.1 4.9 1.1 600"/>
<path d="M84.95 262.68H567.1" stroke-dasharray="5.1 14.9 2.6 11.9 1.1 21.9 5.6 1.4 1.1 6.4 2.6 2.4 2.6 2.4 1.1 12.4 1.6 23.9 1.6 24.4 1.6 2.9 1.1 1.9 1.1 19.4 3.1 4.9 3.1 1.9 1.6 6.4 2.1 1.9 1.1 2.9 2.1 4.9 1.6 10.9 1.6 8.9 6.6 10.9 3.1 9.4 1.1 11.4 2.1 8.4 1.1 1.4 3.6 2.9 1.1 6.4 2.1 4.9 1.6 1.4 1.6 7.4 1.1 1.4 1.1 6.4 3.6 1.4 2.6 5.4 5.1 11.9 1.1 5.9 4.1 1.9 2.6 5.9 3.1 10.4 3.1 8.4 1.6 4.4 1.1 3.4 1.6 3.9 1.6 3.4 3.6 1.4 1.1 5.9 1.1 3.9 2.6 1.4 2.1 10.4 2.6 3.4 1.6 9.9 1.1 600"/>
<path d="M79.45 259.25H570.1" stroke-dasharray="4.1 1.9 1.1 9.9 1.1 1.4 2.6 2.9 5.1 2.4 4.6 2.4 2.1 1.9 3.1 5.9 3.1 1.9 1.1 6.4 1.1 1.4 2.1 1.9 4.1 5.9 3.6 1.9 5.1 1.9 4.6 3.9 1.6 5.4 2.1 1.9 2.6 3.9 6.1 1.9 5.1 1.4 1.1 1.4 1.6 1.9 5.1 1.9 2.6 1.4 1.1 1.4 2.1 2.4 3.1 7.4 3.6 1.4 2.1 1.4 3.1 4.4 3.1 3.9 1.6 4.4 2.6 3.9 5.1 6.4 3.1 1.9 2.6 2.9 1.1 3.4 5.6 1.9 1.1 1.9 2.6 2.9 1.1 1.4 1.1 1.4 6.6 1.4 7.6 2.9 8.1 3.4 6.1 1.4 2.1 2.9 3.6 2.9 1.6 1.4 3.6 1.4 2.1 1.4 3.6 8.4 1.1 3.4 2.1 4.4 4.6 1.9 3.1 2.4 5.1 2.4 2.6 3.4 2.1 3.4 15.6 5.4 4.6 1.9 1.1 3.9 4.6 1.4 1.6 1.4 1.1 3.4 1.1 3.4 7.6 1.9 2.6 5.9 2.1 1.4 6.6 1.4 7.6 2.9 2.1 8.9 3.6 4.4 1.1 2.9 10.6 600"/>
<path d="M80.95 255.83H569.6" stroke-dasharray="3.1 4.9 3.6 1.4 4.1 2.4 5.1 6.4 2.6 1.4 1.1 8.4 3.1 5.4 1.1 2.4 1.1 7.9 2.1 1.4 7.6 1.9 1.1 4.9 2.1 4.4 1.6 1.4 3.1 1.9 2.6 3.9 1.1 3.9 3.6 1.9 1.6 8.9 5.1 4.9 2.1 4.9 2.1 4.4 2.6 3.9 1.6 1.9 1.1 1.9 4.1 1.9 5.1 5.9 8.1 1.4 1.1 2.4 4.1 3.4 1.6 4.4 3.1 4.9 2.1 1.4 5.6 1.4 3.6 2.9 1.1 4.4 1.1 4.4 4.6 13.4 1.1 2.9 3.6 1.9 1.1 1.4 1.1 1.9 2.6 1.9 1.6 5.9 2.1 7.9 1.1 1.9 1.6 5.9 2.1 1.4 2.1 10.4 4.1 4.4 1.1 4.4 2.6 1.4 2.1 1.9 1.1 5.4 3.1 4.9 1.1 4.4 2.6 1.4 5.1 3.9 3.1 5.4 1.6 3.4 2.6 5.4 2.1 6.9 4.6 1.9 1.1 1.9 2.1 3.4 2.1 1.4 3.1 2.9 1.1 2.9 4.6 2.9 1.1 3.9 3.1 4.4 1.1 5.4 2.6 2.9 4.6 1.4 1.6 8.9 2.1 600"/>
<path d="M79.45 252.41H572.1" stroke-dasharray="5.1 1.9 1.1 1.4 6.6 1.4 1.6 2.4 2.6 1.4 3.6 1.4 9.1 1.9 2.1 1.9 1.1 2.9 1.1 1.4 11.1 1.4 4.1 3.4 3.6 2.9 6.1 1.4 5.1 1.9 2.1 1.9 1.1 2.4 4.1 2.4 4.1 1.4 1.6 4.4 8.1 2.9 3.6 1.9 10.1 1.4 3.1 1.4 4.1 1.9 7.1 1.4 2.1 2.9 1.6 1.4 4.1 4.9 3.1 4.4 1.6 2.9 4.6 1.4 1.6 1.4 1.6 1.4 13.1 1.4 10.1 3.4 7.6 1.4 2.6 6.4 1.1 1.4 2.1 1.4 8.1 1.4 2.1 1.4 1.1 1.4 5.6 2.4 10.6 1.4 2.1 1.4 1.6 6.4 7.6 1.9 4.1 2.9 1.1 1.4 3.1 1.4 2.6 2.9 10.6 2.4 2.6 1.4 5.1 1.9 15.6 1.4 2.1 4.9 2.1 4.9 1.6 1.4 2.6 1.9 2.6 2.4 1.1 3.4 1.1 5.9 3.1 1.9 5.6 1.9 3.1 4.4 2.6 1.9 2.1 1.9 2.1 5.4 2.6 1.9 7.6 7.4 1.1 1.4 5.1 6.4 2.1 4.9 2.6 600"/>
<path d="M113.95 248.98H567.6" stroke-dasharray="1.1 7.4 1.1 12.4 1.1 1.4 1.1 12.9 1.6 23.4 1.1 10.4 1.1 8.9 2.1 10.4 2.1 9.9 1.1 11.9 1.1 9.9 1.6 23.9 1.6 1.4 1.6 15.9 2.1 3.9 2.1 4.4 1.1 4.4 2.6 1.4 1.1 7.9 1.1 3.9 1.6 1.4 1.1 13.4 1.1 27.9 2.1 14.9 2.6 9.4 2.1 7.9 1.1 6.4 3.6 2.4 1.1 21.4 1.1 16.9 1.1 5.4 2.1 14.9 1.1 6.4 1.1 1.4 1.1 9.4 1.1 25.4 5.6 4.9 1.1 2.4 1.1 4.9 1.1 4.9 2.1 600"/>
<path d="M79.95 245.56H571.6" stroke-dasharray="3.6 3.4 1.1 1.9 1.6 1.4 5.6 3.4 2.6 1.4 1.1 8.4 18.6 1.4 9.6 1.4 10.6 3.9 1.1 1.9 5.1 3.4 6.1 1.9 9.6 2.4 6.1 1.9 1.1 2.9 2.6 1.4 2.1 8.4 4.6 1.4 3.1 1.4 3.1 2.9 2.1 2.9 1.1 1.4 4.1 2.4 2.6 3.9 2.6 1.4 7.6 2.9 15.6 1.4 1.1 1.4 2.1 1.4 1.6 1.9 14.1 3.4 5.1 1.4 2.6 3.9 2.6 1.4 6.6 1.4 4.6 2.9 5.1 1.4 1.1 3.4 1.1 1.4 5.1 2.4 3.6 3.9 4.1 1.4 2.6 1.4 6.1 1.4 15.6 1.4 3.6 2.4 1.1 1.9 2.1 1.4 3.6 1.4 3.6 6.9 4.6 5.9 4.1 1.4 1.1 1.9 6.1 3.4 4.6 1.4 2.1 7.4 4.1 1.4 5.1 2.4 2.1 8.9 1.6 1.4 9.1 1.9 3.1 1.4 10.6 1.4 2.1 1.4 10.6 3.4 5.6 4.9 7.6 600"/>
<path d="M79.45 242.14H572.6" stroke-dasharray="1.1 19.4 1.6 3.4 1.6 6.9 1.6 3.4 3.6 2.9 1.6 6.4 2.6 1.4 2.1 2.4 2.1 3.4 3.6 4.9 2.1 1.4 1.1 1.9 2.6 5.4 1.6 2.4 2.6 1.4 1.1 1.9 2.6 1.4 2.1 6.9 4.1 1.9 1.1 1.4 1.1 1.4 2.6 1.4 8.1 2.4 1.1 2.9 2.1 2.4 1.1 1.4 1.6 2.4 1.1 4.4 2.6 4.4 6.6 2.4 2.1 2.4 2.1 1.9 5.6 1.4 8.6 4.4 2.1 2.9 1.6 8.9 2.1 8.9 2.6 2.9 2.6 1.4 5.1 9.4 4.1 1.4 4.1 1.9 2.1 10.4 1.1 1.4 9.1 1.9 5.6 4.9 6.6 2.9 2.1 3.9 1.6 2.4 3.1 1.4 1.6 3.4 1.6 2.4 10.1 2.9 2.6 4.9 4.1 5.9 2.1 3.4 3.1 2.9 1.1 4.4 2.1 3.4 8.6 4.9 9.1 4.4 2.1 6.4 4.6 1.4 3.1 1.4 5.1 1.9 2.6 2.4 2.6 1.4 7.6 3.4 6.1 1.4 2.6 2.9 9.6 3.9 4.1 600"/>
<path d="M83.45 238.71H567.6" stroke-dasharray="1.1 14.4 2.1 5.4 2.1 1.9 1.6 11.9 1.6 3.4 2.6 1.4 1.6 10.9 5.1 3.4 4.6 6.9 2.6 1.4 1.6 2.4 2.1 6.9 1.1 1.4 4.6 4.9 6.1 9.4 3.1 2.9 6.6 4.4 1.6 2.4 1.1 5.4 1.1 4.4 1.1 2.4 4.1 7.9 1.6 4.9 1.1 8.9 1.1 5.9 1.1 5.4 1.6 8.9 3.6 13.4 1.6 4.4 1.1 5.9 2.1 1.9 1.6 9.4 2.1 8.9 1.1 5.4 1.1 8.4 2.1 11.4 3.6 23.9 3.6 2.9 2.1 3.9 3.1 11.4 2.1 14.9 1.1 2.4 1.1 4.9 1.6 3.4 2.6 1.4 1.6 1.4 1.1 1.4 2.6 5.9 1.1 7.4 1.6 11.9 1.1 1.4 1.6 9.9 1.1 6.9 4.1 16.4 1.1 4.4 1.1 5.9 2.1 600"/>
<path d="M95.95 235.29H568.6" stroke-dasharray="4.1 1.4 2.6 1.4 2.6 5.9 1.6 5.9 1.1 1.4 3.6 1.4 4.1 11.4 2.6 7.9 2.6 9.4 2.1 8.4 3.6 2.9 3.6 1.4 1.1 11.9 6.6 2.9 7.6 4.4 6.1 1.4 1.1 2.4 2.1 5.9 2.1 1.9 3.6 5.9 2.1 5.9 2.6 7.9 1.1 3.4 2.1 1.4 3.1 7.4 3.1 3.4 3.1 1.9 2.1 1.4 1.6 2.9 2.6 8.9 3.6 4.4 6.1 1.4 1.1 1.4 2.1 1.4 3.1 6.4 3.1 15.4 7.1 1.4 3.6 13.4 1.6 2.9 1.6 1.9 2.1 1.9 4.1 3.9 1.1 15.9 5.6 1.4 2.6 1.4 2.6 2.4 2.1 6.9 4.6 1.9 5.1 9.4 2.6 3.9 2.1 12.9 2.1 3.4 3.6 3.9 4.1 4.9 1.6 1.9 8.1 6.9 7.6 2.4 6.6 3.4 1.6 1.9 1.1 600"/>
<path d="M100.95 231.86H570.6" stroke-dasharray="1.1 6.4 2.1 2.4 2.1 14.4 2.6 4.4 1.1 4.4 2.6 39.9 2.1 3.4 1.6 3.9 2.1 4.4 1.1 16.4 1.6 5.4 1.6 28.9 1.6 4.4 1.1 4.4 2.6 16.4 2.1 4.9 2.1 5.9 1.1 5.4 1.1 11.4 1.1 7.9 2.1 6.4 3.1 18.4 1.1 32.9 2.6 3.9 1.1 9.9 1.1 1.4 1.1 1.9 3.6 3.4 4.1 24.4 1.6 40.9 1.1 1.9 1.6 2.4 1.1 25.4 1.6 31.4 1.1 6.4 1.1 600"/>
<path d="M97.95 228.44H556.1" stroke-dasharray="1.6 1.9 1.1 6.4 1.6 12.4 2.6 14.4 1.1 8.9 1.1 3.4 1.1 11.9 1.1 1.4 3.1 11.9 1.1 39.4 2.6 13.9 1.6 9.9 1.1 14.4 1.6 3.9 1.1 15.4 1.1 9.9 1.6 9.9 1.6 10.9 1.1 7.9 2.6 10.4 1.6 12.9 2.6 13.4 1.1 15.4 1.1 10.9 1.1 4.4 3.6 46.9 3.6 6.4 2.1 6.4 2.1 8.9 3.6 8.4 1.6 2.9 2.6 38.9 1.1 3.4 1.1 600"/>
<path d="M81.95 225.02H572.6" stroke-dasharray="2.6 5.9 4.1 1.9 1.1 3.9 4.6 7.4 2.1 1.4 2.1 2.4 5.6 3.9 5.1 1.4 10.6 1.4 1.6 1.9 4.6 3.9 6.6 6.9 3.6 1.4 1.1 1.9 3.1 1.9 1.1 1.9 2.6 1.4 3.6 2.9 1.1 1.4 6.6 8.4 1.6 3.4 3.6 1.4 1.6 1.4 2.6 1.4 1.1 1.4 1.1 1.9 3.1 3.4 10.6 1.9 5.1 4.9 2.6 1.4 1.1 1.4 1.1 1.9 1.6 1.9 2.6 1.4 1.1 2.4 2.1 1.4 1.1 1.9 4.1 3.4 6.6 6.4 1.1 1.4 1.1 1.4 5.6 8.4 9.6 1.4 3.1 1.4 4.1 2.4 5.1 6.9 16.6 2.9 1.1 2.9 2.1 1.4 1.6 5.9 1.1 4.4 2.1 4.4 4.1 4.4 3.6 5.9 2.6 1.9 5.1 9.4 3.1 1.4 1.6 1.9 3.1 1.9 4.6 5.9 5.6 1.9 6.6 1.4 1.1 2.4 2.1 3.4 1.1 1.4 1.6 1.4 2.6 5.4 6.1 3.9 1.1 1.4 1.6 1.4 4.1 1.4 6.1 5.9 10.1 4.9 3.1 1.4 1.6 1.4 1.1 600"/>
<path d="M79.45 221.59H568.6" stroke-dasharray="1.6 1.4 1.6 1.4 1.6 1.9 2.6 3.9 1.6 1.4 9.1 2.4 3.1 4.9 2.1 3.4 4.1 3.9 1.1 1.4 6.6 1.9 4.6 1.4 4.6 1.4 4.6 1.9 15.6 3.9 7.6 2.4 3.1 1.4 13.1 1.9 4.1 1.4 8.1 1.9 3.1 5.9 1.6 1.4 1.1 3.4 9.1 1.4 1.6 4.9 3.1 1.4 7.1 1.4 2.1 1.4 1.1 3.9 5.1 2.4 3.6 1.9 10.6 2.4 37.1 1.4 5.6 1.4 3.6 2.9 4.6 3.9 9.6 2.4 7.1 1.4 8.1 1.4 11.1 1.4 1.1 1.4 5.1 2.9 2.1 1.9 2.6 1.9 2.6 3.4 3.6 2.4 1.1 1.4 3.6 1.4 1.1 1.4 1.1 2.4 4.1 1.4 6.1 1.9 2.6 1.9 2.6 1.4 1.6 1.9 7.6 1.4 18.1 1.4 1.1 1.9 1.1 1.9 5.1 1.4 4.6 3.9 5.1 1.4 3.6 2.9 6.1 3.4 2.6 5.9 4.6 1.9 2.1 600"/>
<path d="M82.95 218.17H566.1" stroke-dasharray="1.1 5.9 3.1 2.4 1.6 15.9 1.1 3.4 1.1 1.4 1.6 1.4 1.1 4.4 2.6 18.9 1.1 1.4 1.1 1.4 2.1 1.4 2.6 3.9 1.1 7.4 5.1 1.4 3.1 15.9 1.6 3.9 2.6 6.9 2.6 1.4 1.6 1.4 4.1 4.4 1.1 3.9 1.6 1.9 2.1 10.4 1.1 9.9 1.1 4.9 1.1 2.4 1.6 2.4 1.1 4.9 1.1 1.9 1.1 12.9 3.6 7.9 1.6 7.4 2.1 1.4 1.1 1.9 1.6 7.4 3.1 6.4 1.6 10.4 4.1 3.4 1.1 1.9 1.6 8.4 1.1 1.9 4.6 8.4 1.6 2.9 1.1 3.4 3.6 2.4 3.6 10.9 3.1 7.4 2.1 8.9 6.1 1.4 1.1 6.9 1.6 7.4 5.1 9.4 1.1 2.4 1.1 2.9 3.1 6.4 1.6 3.4 2.6 1.4 1.1 4.4 2.6 1.4 2.1 2.4 1.1 7.9 4.1 7.9 1.6 1.9 2.1 2.9 1.1 6.4 3.6 2.4 1.1 600"/>
<path d="M80.95 214.75H571.6" stroke-dasharray="6.6 1.4 4.1 3.4 3.1 7.4 1.1 1.4 1.1 1.4 2.1 1.4 3.1 1.4 3.6 1.9 2.1 1.4 1.1 2.9 6.1 1.4 1.6 7.9 3.6 2.9 8.6 3.4 6.1 2.4 1.6 7.4 4.1 8.4 4.6 4.4 2.1 2.4 6.1 6.9 1.1 5.9 1.1 1.4 4.6 4.4 2.1 1.9 2.1 7.4 7.1 11.9 1.1 4.4 4.6 3.9 1.1 4.4 5.1 2.9 3.1 3.4 5.6 10.4 2.6 2.4 3.6 2.4 2.1 6.9 2.6 1.9 8.1 1.4 1.6 1.9 1.1 4.4 5.6 2.4 2.6 1.9 1.1 1.4 6.6 4.4 3.6 6.9 2.1 1.4 2.1 9.4 2.6 1.4 2.1 1.4 1.1 5.9 3.1 1.4 1.1 2.4 2.1 1.4 2.1 5.4 4.1 1.4 1.1 1.9 1.6 4.4 3.1 4.9 1.6 2.9 1.1 3.9 5.6 11.4 1.1 3.9 1.1 2.4 1.1 7.9 4.1 5.4 1.1 2.4 5.6 5.9 2.1 1.4 5.6 1.4 2.6 4.9 5.6 1.4 1.6 600"/>
<path d="M79.45 211.32H572.6" stroke-dasharray="4.1 2.9 1.6 3.4 2.6 1.4 1.1 3.4 3.6 4.4 3.1 4.4 1.1 1.4 1.6 5.4 2.1 2.4 1.1 2.9 1.1 3.4 5.1 1.4 1.1 1.4 6.6 11.4 4.6 1.9 2.1 1.4 1.1 1.4 2.6 3.4 5.6 1.4 1.1 1.4 1.1 1.9 2.1 1.4 1.1 1.4 3.1 6.9 2.1 1.4 1.6 2.9 1.6 1.9 1.1 6.4 1.1 6.9 3.6 5.9 4.6 2.4 6.6 1.4 1.1 1.4 1.6 2.4 2.6 1.9 4.1 2.9 3.1 7.4 2.6 1.9 1.1 3.4 7.6 1.4 1.6 6.9 3.6 1.9 6.1 1.9 5.1 2.9 4.1 8.9 1.6 4.4 4.1 12.4 1.6 3.9 1.1 3.4 2.1 9.4 3.1 1.4 3.6 1.4 3.1 2.4 5.6 1.4 4.1 6.4 1.1 3.4 4.1 2.9 1.1 1.4 1.6 6.4 4.6 1.4 1.1 8.4 3.1 1.9 1.6 1.9 8.6 3.4 1.1 1.9 3.1 1.9 1.6 1.9 1.1 1.4 3.6 1.9 2.1 1.9 2.1 6.4 1.6 4.4 6.6 14.4 3.6 3.9 2.1 5.4 1.1 1.4 4.6 2.9 1.1 600"/>
<path d="M79.45 207.9H570.1" stroke-dasharray="1.1 3.9 2.6 4.9 1.6 8.9 1.6 3.9 1.1 1.9 4.1 10.4 1.1 3.9 3.1 5.4 1.1 4.9 1.6 4.4 1.6 7.9 1.6 1.4 3.1 1.9 1.6 1.4 1.1 1.4 1.1 9.4 1.6 8.9 4.1 1.4 1.1 4.9 1.6 1.4 3.6 4.4 2.1 1.9 4.1 4.4 1.6 1.9 2.1 1.4 3.6 1.4 2.1 12.4 3.1 1.4 6.1 1.4 1.6 4.9 1.1 10.4 2.1 7.9 4.6 1.4 1.1 3.9 1.1 1.9 2.1 4.4 1.1 5.9 1.6 5.9 5.6 5.4 1.6 2.4 7.6 3.4 1.1 3.4 5.1 2.4 1.6 1.4 1.1 1.4 1.1 1.4 1.6 2.4 3.1 1.9 4.1 7.9 4.6 2.9 1.1 3.4 3.1 1.4 1.1 9.9 1.1 1.4 1.6 7.9 3.1 1.9 1.1 2.4 1.1 3.9 2.6 1.4 1.6 2.4 4.1 6.4 2.6 4.9 1.6 3.4 1.1 3.4 1.1 1.9 1.1 9.9 2.6 1.4 2.1 11.4 1.1 3.4 2.1 2.9 2.1 7.9 5.1 16.4 2.6 4.9 3.1 600"/>
<path d="M79.45 204.48H572.6" stroke-dasharray="1.1 1.9 6.1 2.4 3.1 1.4 1.6 3.9 1.1 6.9 1.6 1.4 1.6 2.9 4.1 1.4 6.1 1.9 1.6 5.4 1.1 1.4 7.1 1.4 1.1 1.9 1.1 1.4 2.6 1.4 1.1 1.4 2.6 1.4 1.1 1.4 3.6 1.4 1.1 2.4 1.1 1.9 12.6 1.4 4.1 1.4 1.6 2.9 3.1 2.9 2.1 1.4 2.6 4.4 4.6 1.4 2.6 3.4 2.6 3.9 1.1 2.9 4.1 3.4 5.1 2.9 4.1 1.4 8.1 4.9 3.1 3.9 4.6 1.4 4.6 1.4 2.1 1.4 1.6 1.9 1.6 1.4 5.6 3.4 3.6 1.4 1.1 1.4 4.1 1.9 4.6 1.4 3.1 3.4 2.6 1.4 1.1 1.4 1.6 1.4 1.1 4.9 9.6 1.4 2.1 1.4 7.1 1.4 5.1 5.9 2.6 1.4 1.1 1.4 2.6 3.4 5.6 1.4 1.1 5.4 2.1 2.4 1.1 1.4 11.1 3.4 7.1 1.9 13.6 2.4 5.6 4.4 2.6 1.4 1.1 1.4 2.6 3.4 1.6 1.4 4.6 1.4 3.6 1.9 4.1 1.4 3.1 1.4 1.1 1.4 13.1 1.9 1.6 2.9 3.1 3.9 1.6 2.4 2.1 2.9 7.1 1.4 3.1 1.9 1.6 2.4 5.6 1.4 2.1 600"/>
<path d="M80.95 201.05H572.6" stroke-dasharray="6.1 4.4 4.6 1.4 1.6 2.9 2.1 1.4 7.1 3.9 1.6 2.9 13.1 1.9 4.1 1.9 7.6 3.4 2.6 1.9 7.1 1.4 1.1 1.4 1.6 1.4 4.1 1.4 2.6 1.4 2.1 1.4 6.6 1.4 3.6 1.4 2.6 1.4 5.1 3.9 4.6 1.4 5.6 1.9 2.6 1.4 7.6 1.9 12.1 1.4 2.1 1.4 3.1 1.4 2.6 1.4 9.6 1.4 3.6 3.4 6.1 2.9 23.6 2.4 6.1 1.9 1.1 1.4 2.6 1.4 11.1 5.4 1.1 1.4 6.6 1.4 9.1 1.4 12.6 1.9 5.1 1.4 2.6 1.9 11.6 1.4 9.1 3.4 10.6 1.4 4.6 1.9 15.6 1.4 1.6 1.9 4.1 4.4 1.1 1.4 4.6 1.4 4.6 1.4 10.1 1.9 13.6 1.4 2.6 1.9 8.1 3.9 3.6 1.4 17.6 1.4 4.1 1.4 3.6 1.4 8.6 1.4 3.6 600"/>
<path d="M83.45 197.63H570.6" stroke-dasharray="2.1 3.9 1.1 3.9 5.6 10.9 1.1 14.4 1.6 3.4 1.1 3.4 1.1 15.9 1.6 18.9 2.1 1.4 1.1 6.4 2.6 5.9 1.6 10.4 1.6 1.4 1.1 4.4 3.6 8.9 3.1 2.9 3.6 14.9 1.6 2.9 1.6 10.4 2.1 7.4 1.6 3.9 3.1 3.4 1.1 13.4 2.6 5.4 1.1 15.9 2.6 6.9 1.1 17.9 2.6 4.4 3.1 23.4 1.1 7.9 1.1 1.4 3.1 14.9 2.1 5.9 1.6 13.9 1.1 1.4 1.6 5.4 1.1 8.4 1.1 5.4 1.6 14.4 2.6 15.9 1.1 17.9 1.6 3.9 2.1 3.4 1.1 9.9 1.1 6.9 1.1 1.9 1.6 12.4 1.6 600"/>
<path d="M81.45 194.21H572.1" stroke-dasharray="3.1 1.4 2.1 1.9 7.1 4.9 3.1 1.4 1.1 1.4 5.1 5.4 8.6 7.4 14.6 2.9 8.6 1.4 3.1 2.9 7.6 1.9 2.1 2.4 9.1 1.9 5.1 1.4 1.6 2.4 2.1 1.4 3.6 3.9 4.1 1.4 7.6 1.4 4.1 1.9 7.6 1.4 3.6 3.4 20.1 2.4 2.6 2.4 2.6 3.4 1.1 1.9 4.6 3.4 2.6 1.9 11.1 4.4 3.6 1.9 7.1 3.9 4.1 1.4 6.6 1.4 13.6 5.4 9.6 1.4 3.6 1.4 1.6 2.4 11.1 1.4 6.6 1.4 3.6 1.4 2.6 1.4 8.6 1.9 1.1 1.4 4.1 1.4 3.6 1.4 25.6 2.9 2.6 1.4 3.6 1.9 9.1 2.4 6.6 1.9 2.1 1.9 1.6 2.9 12.1 1.4 6.6 1.9 6.1 1.9 9.1 1.4 3.1 2.9 7.1 1.4 2.6 2.9 6.6 600"/>
<path d="M79.45 190.78H572.6" stroke-dasharray="1.6 1.4 9.1 1.4 2.1 1.4 7.1 1.4 6.6 1.4 11.6 1.9 21.6 1.4 6.6 1.4 1.6 2.4 9.6 1.9 16.6 1.4 9.6 6.4 11.6 2.4 3.1 1.4 7.6 1.4 10.1 1.4 1.1 4.9 18.6 1.4 23.1 1.4 17.1 2.9 11.6 1.9 2.6 1.4 12.1 1.4 15.6 3.9 8.6 1.4 1.6 2.4 2.1 1.4 1.6 1.4 3.6 1.9 1.6 3.9 5.6 1.4 3.1 1.4 15.1 1.4 17.1 1.4 11.1 1.4 13.6 1.4 1.1 1.4 17.6 1.4 4.1 1.9 13.1 1.4 2.6 1.4 2.6 1.4 17.1 1.4 27.1 1.9 2.6 600"/>
<path d="M79.95 187.36H571.6" stroke-dasharray="1.1 1.4 1.1 2.4 1.6 1.9 2.6 2.9 1.6 5.4 2.6 1.4 1.6 12.4 4.1 6.9 5.6 6.9 1.6 3.9 6.1 1.9 2.6 1.4 4.1 1.9 1.1 2.4 3.6 2.4 1.1 1.9 1.6 1.9 1.1 4.9 2.6 7.9 1.1 5.9 1.6 7.4 2.1 4.4 1.1 2.4 2.6 3.9 3.6 4.4 1.1 6.4 1.6 2.9 1.1 1.9 2.1 1.4 1.1 1.4 2.1 1.4 4.1 4.9 6.6 1.4 1.6 1.4 3.6 1.4 4.1 7.4 1.1 3.9 6.1 5.4 1.6 1.9 5.1 6.9 1.6 1.4 1.6 3.9 2.1 1.4 1.6 3.9 1.1 5.9 2.6 1.9 1.6 1.4 1.1 1.9 3.1 1.4 1.1 5.4 1.1 1.4 1.6 3.9 1.1 5.9 1.1 10.9 1.1 4.4 1.6 1.4 3.1 3.4 4.6 7.4 1.1 1.4 4.1 2.9 1.6 1.4 1.1 1.4 5.6 1.4 2.1 1.4 1.6 4.9 4.1 1.4 1.1 1.9 8.6 1.4 2.1 1.4 2.1 4.9 1.1 4.9 6.1 4.4 4.1 2.4 1.1 1.9 2.1 11.4 2.1 3.4 1.1 1.9 7.1 12.9 2.6 1.4 1.1 1.4 3.1 600"/>
<path d="M81.95 183.94H569.1" stroke-dasharray="7.6 1.9 1.1 1.4 3.1 1.4 1.1 2.4 1.1 1.4 3.1 3.4 2.6 1.9 3.1 2.4 3.1 1.4 1.6 3.4 2.1 1.4 4.6 1.4 5.1 1.4 3.1 1.9 8.1 6.4 2.1 5.9 2.1 5.9 1.6 2.4 3.1 2.4 8.1 1.4 8.1 3.9 1.1 1.9 4.6 2.4 2.6 1.4 1.1 2.4 6.1 2.9 1.6 1.9 3.6 3.4 2.1 1.9 3.1 1.4 5.6 1.4 4.1 1.4 1.6 6.4 2.1 3.9 1.6 1.4 1.1 3.9 2.6 1.4 3.6 1.9 6.1 1.4 2.1 1.4 4.6 1.4 4.1 2.4 7.1 1.9 2.1 2.9 3.1 1.4 4.1 1.4 2.1 1.9 1.1 1.4 5.1 1.4 1.6 1.4 5.1 1.4 2.1 1.4 1.1 2.9 3.6 2.9 1.6 4.4 2.1 1.9 3.1 3.9 3.6 1.9 4.1 1.4 3.1 2.9 4.1 3.9 5.6 1.4 2.6 2.4 2.1 1.9 5.1 3.4 4.6 2.9 2.1 4.9 8.1 3.4 4.1 1.4 6.1 2.9 1.1 3.4 1.6 3.4 1.1 1.4 4.1 1.4 1.6 2.4 7.1 4.9 4.1 1.4 1.6 3.4 6.6 3.4 1.1 5.9 1.1 5.4 4.6 1.9 1.6 600"/>
<path d="M81.95 180.51H558.1" stroke-dasharray="1.1 17.4 1.6 6.4 2.1 2.9 4.6 1.4 1.6 1.4 2.6 1.9 1.6 9.9 1.1 1.4 2.1 16.9 1.1 7.9 1.1 32.9 1.6 19.4 5.6 12.9 1.1 3.9 3.1 11.4 1.6 1.4 2.6 15.9 4.6 6.4 1.1 3.4 1.1 5.9 2.1 5.4 3.1 4.9 1.1 1.9 1.6 1.4 1.6 3.4 3.1 18.9 2.1 20.4 1.1 3.9 1.1 4.9 1.6 28.4 1.6 6.4 2.1 1.4 1.1 1.4 1.1 1.9 2.6 2.4 5.6 3.4 2.6 8.9 2.1 11.9 1.1 1.4 4.1 9.9 1.6 17.9 1.1 2.4 1.6 2.4 3.6 9.4 1.6 3.4 1.1 2.4 2.1 7.4 1.1 6.9 1.1 600"/>
<path d="M79.95 177.09H572.6" stroke-dasharray="10.1 1.9 5.6 3.4 21.6 5.4 9.6 1.4 2.6 1.4 4.1 1.4 2.6 1.9 2.6 1.9 4.6 2.4 4.1 1.9 5.1 1.4 3.6 1.4 8.1 1.4 4.1 1.4 10.6 3.4 5.1 2.9 1.1 2.9 2.6 1.4 6.6 1.4 10.1 2.9 10.1 1.9 3.1 2.9 3.1 3.4 2.1 1.9 11.1 1.4 2.1 1.4 9.1 1.4 4.6 1.4 2.1 1.4 2.6 3.4 7.1 1.4 9.6 1.4 3.1 2.9 7.1 1.4 5.1 1.4 18.6 1.4 19.6 1.4 5.1 3.4 10.6 1.4 4.1 1.4 3.1 2.9 5.6 1.4 8.1 1.4 4.6 2.9 1.6 1.9 2.1 1.4 22.6 1.4 16.6 1.4 7.6 1.9 1.1 1.4 2.6 3.9 2.6 1.9 3.6 1.9 6.6 1.4 1.1 1.4 6.6 2.4 14.1 1.4 4.1 600"/>
<path d="M86.45 173.67H572.6" stroke-dasharray="4.1 1.9 1.1 2.4 8.1 1.9 3.1 2.9 3.6 3.4 4.6 3.4 1.1 3.9 1.1 1.9 4.1 1.4 2.1 1.4 1.1 4.9 1.1 1.4 1.1 2.9 2.1 1.4 1.1 1.4 2.1 1.4 1.6 1.4 1.1 5.9 1.1 3.4 3.1 2.4 1.6 2.4 2.1 1.4 3.6 1.4 3.6 3.4 9.1 3.9 8.6 3.4 7.6 1.4 6.6 3.9 3.6 1.4 2.1 1.9 1.6 2.9 1.6 1.4 9.1 3.9 1.1 3.9 1.6 4.4 1.1 5.4 4.6 1.4 2.6 1.4 9.6 2.9 5.1 2.9 3.6 1.4 11.6 1.4 3.6 3.4 1.1 1.4 1.1 1.4 2.1 2.9 4.1 3.9 1.6 1.4 3.6 1.4 1.1 7.4 2.1 3.9 7.6 4.9 1.1 3.9 4.1 1.4 5.1 2.4 5.1 1.9 1.1 1.4 5.1 1.4 7.6 3.4 1.6 7.4 5.1 4.9 11.1 1.4 2.6 1.9 3.6 1.4 1.6 1.9 2.6 2.9 1.1 1.4 2.6 3.4 1.1 1.4 1.6 8.4 2.1 2.9 4.1 1.9 1.1 1.4 8.1 3.4 7.6 5.4 6.1 1.9 2.6 1.4 1.1 600"/>
<path d="M82.95 170.24H572.1" stroke-dasharray="1.6 1.4 2.1 1.4 1.1 1.4 2.6 8.4 2.1 2.4 3.6 1.9 1.6 1.9 4.1 1.9 6.1 7.4 2.1 7.4 2.6 5.9 1.1 1.9 4.6 6.4 3.6 1.4 6.6 1.9 1.6 1.9 1.1 4.9 2.6 3.4 1.1 12.9 1.1 1.4 2.1 5.9 2.1 2.4 3.6 3.4 1.6 2.9 1.6 2.4 2.1 1.9 1.6 1.4 1.6 1.4 1.6 4.9 1.6 4.9 1.1 1.4 11.6 4.4 1.1 1.4 3.6 1.4 1.1 7.4 2.6 3.9 3.6 9.4 1.1 2.4 3.6 8.9 6.6 1.4 1.6 4.4 1.1 5.4 3.6 2.4 1.1 1.4 1.1 4.9 1.6 1.4 1.1 2.9 2.1 2.4 7.1 8.9 1.1 4.9 1.1 1.9 2.6 4.4 2.1 2.9 1.6 2.4 1.1 1.9 1.1 11.9 5.6 6.4 3.1 1.4 1.1 3.9 1.1 1.4 1.1 4.9 2.6 7.9 1.1 6.9 1.6 2.9 1.1 7.9 2.6 3.4 4.1 1.4 3.6 5.4 2.6 10.9 1.6 4.9 1.1 1.9 1.1 13.4 1.1 1.9 1.1 1.4 1.1 5.4 2.1 600"/>
<path d="M79.45 166.82H570.6" stroke-dasharray="14.1 1.4 5.6 1.9 6.1 1.4 1.1 1.4 6.1 1.9 5.6 3.4 13.6 1.4 12.1 2.4 3.1 1.4 3.1 1.9 1.6 3.4 17.6 3.4 4.1 1.9 1.1 1.4 3.1 1.9 3.1 1.9 9.1 2.9 5.1 1.9 4.6 1.4 5.1 1.9 7.6 1.4 4.1 1.9 1.1 1.4 1.1 1.4 2.1 1.4 17.6 1.4 1.1 1.9 1.6 1.9 2.6 1.4 1.6 1.9 23.6 3.9 2.1 1.4 5.1 1.4 1.6 1.4 4.1 2.9 1.1 1.4 2.1 3.9 7.6 1.4 1.1 1.4 1.6 6.4 4.1 1.9 4.1 1.9 2.1 6.9 10.6 1.9 1.6 4.9 6.6 2.9 5.6 5.4 4.6 1.4 1.1 2.9 11.1 2.4 1.1 2.9 8.1 8.9 5.6 1.4 5.6 4.9 7.1 6.4 2.1 6.9 3.1 2.4 4.1 1.9 2.6 1.4 7.6 1.4 9.1 1.4 13.6 600"/>
<path d="M79.95 163.39H572.1" stroke-dasharray="2.1 17.4 2.1 1.4 2.6 27.4 3.6 9.9 1.6 17.4 1.6 7.4 3.6 1.4 2.1 5.4 1.1 1.4 1.6 6.4 1.6 1.4 1.1 8.4 1.1 10.9 2.6 13.4 3.1 10.9 1.1 2.4 1.1 2.9 3.6 10.9 2.1 49.9 1.1 1.4 2.1 1.4 3.1 34.4 1.1 7.9 1.1 20.4 2.1 6.9 1.1 11.4 3.6 19.9 1.1 3.4 1.1 23.4 1.6 6.4 1.1 10.9 1.1 8.4 1.1 19.9 1.6 12.4 1.6 14.4 1.1 7.4 1.6 6.4 1.1 600"/>
<path d="M80.45 159.97H570.1" stroke-dasharray="2.6 1.9 2.1 1.4 2.1 10.4 1.6 4.4 2.6 8.9 5.1 3.9 3.6 1.9 1.1 19.9 2.1 1.4 1.1 10.9 3.6 28.9 1.6 3.4 1.6 9.4 5.6 4.9 2.1 3.4 1.6 1.4 3.6 1.9 2.1 5.9 1.6 11.9 1.1 7.4 1.1 1.4 1.1 2.4 5.1 1.9 2.1 11.9 1.6 1.9 2.6 2.9 4.6 1.4 1.6 8.4 1.6 10.4 1.1 1.4 6.1 1.4 3.6 5.4 1.1 1.9 2.1 1.9 2.1 1.4 3.1 2.4 2.1 4.4 1.6 2.4 10.1 4.4 8.1 7.9 6.6 3.4 2.1 4.4 1.1 2.9 1.6 8.9 2.1 6.4 5.1 11.9 4.6 4.9 1.6 4.4 4.1 1.9 1.1 2.9 1.6 11.9 1.6 1.4 1.6 1.4 5.1 4.9 2.6 2.4 3.1 8.9 1.1 6.4 1.6 1.9 4.6 3.4 1.1 4.9 1.1 1.4 1.6 600"/>
<path d="M88.95 156.55H567.1" stroke-dasharray="1.6 13.4 1.1 11.9 1.1 12.9 1.1 14.9 1.1 2.4 3.6 5.9 1.1 20.4 1.6 47.4 1.6 16.9 4.1 10.9 1.6 1.4 1.1 5.9 2.1 7.4 1.6 1.4 1.6 9.4 1.1 36.4 1.1 12.4 1.1 7.9 1.1 16.9 1.1 11.9 1.1 35.9 1.6 3.4 2.6 21.4 1.1 2.4 4.1 1.4 1.1 8.9 3.6 30.9 1.1 24.9 1.1 19.9 1.1 1.4 1.1 7.4 1.1 600"/>
<path d="M81.45 153.12H571.1" stroke-dasharray="9.1 3.4 5.1 1.9 2.6 3.4 8.1 2.4 2.6 3.9 2.1 1.4 15.6 1.4 1.1 1.4 1.6 5.4 1.6 1.4 1.1 1.4 4.6 1.4 7.1 1.4 4.1 1.9 4.6 4.9 4.6 1.4 5.1 3.4 5.1 5.9 2.6 1.9 3.1 1.4 3.1 1.4 1.1 2.9 7.1 1.4 1.6 2.4 7.1 2.4 1.6 3.4 4.1 1.9 2.1 1.4 1.6 1.9 1.6 4.9 2.6 6.9 3.1 1.4 2.6 1.4 1.6 1.9 20.1 9.4 4.1 1.9 11.6 1.4 8.1 1.4 4.1 1.4 2.1 1.4 4.1 1.9 6.6 2.9 2.1 1.4 4.6 1.9 9.6 1.9 4.1 1.4 8.1 1.4 4.1 1.4 9.6 1.9 5.1 1.4 2.1 2.9 1.6 9.4 1.1 1.4 3.6 1.4 5.1 5.9 4.1 1.4 1.1 1.4 3.1 2.9 1.1 1.4 6.1 2.4 2.1 1.4 1.1 3.4 5.1 2.4 12.1 1.4 4.6 1.4 2.1 1.4 4.6 1.4 3.1 1.4 5.1 2.4 12.1 600"/>
<path d="M83.45 149.7H571.1" stroke-dasharray="7.1 1.9 2.6 2.4 1.1 1.9 4.6 7.9 3.1 1.4 1.6 3.4 1.1 1.9 1.6 3.4 6.1 3.4 9.1 3.4 1.6 2.4 1.1 1.9 3.1 3.9 2.1 4.4 3.1 6.9 1.1 3.9 1.1 3.4 8.1 2.9 3.1 1.4 3.1 3.9 3.1 5.4 7.6 1.4 3.6 2.9 2.1 3.4 1.6 1.4 6.6 13.4 3.1 3.4 1.6 1.9 5.1 1.4 1.6 7.9 2.1 1.4 4.6 2.4 2.1 1.4 1.6 5.9 1.1 3.4 1.6 5.4 1.1 3.4 8.1 1.9 2.6 1.9 2.1 3.4 4.6 3.4 1.1 4.4 1.6 3.9 5.1 1.4 2.6 1.9 4.6 5.9 1.1 6.4 3.1 5.4 4.6 4.9 2.1 4.4 1.1 2.4 4.1 1.9 4.6 1.4 4.1 5.9 2.6 1.4 1.1 1.4 1.1 1.9 3.1 2.4 1.1 5.9 5.1 4.9 1.6 1.4 5.1 1.4 2.1 3.4 4.1 2.9 1.6 1.4 1.1 1.4 1.1 2.4 4.1 2.9 3.6 7.4 1.1 4.4 1.1 1.9 6.1 6.9 3.6 1.4 3.6 1.9 5.6 1.4 2.1 600"/>
<path d="M85.45 146.28H566.6" stroke-dasharray="1.1 8.4 3.1 3.4 1.1 12.4 1.6 9.9 4.6 3.4 1.6 10.4 1.1 1.4 1.6 4.9 2.6 2.4 1.6 1.9 1.1 7.4 1.1 1.4 1.1 5.4 1.1 8.9 7.6 1.4 3.1 5.9 5.6 4.4 2.1 1.4 4.6 18.4 1.6 2.4 1.1 4.9 3.6 4.9 1.6 2.9 1.1 1.4 1.1 9.4 1.6 1.4 2.6 5.4 1.6 1.9 1.6 1.4 1.6 1.9 2.1 1.9 2.1 7.9 1.1 1.4 1.1 3.9 4.1 4.9 4.1 2.9 5.1 1.4 1.6 5.9 5.1 1.9 2.6 3.4 1.1 2.9 4.1 1.4 1.6 2.4 2.1 1.4 1.1 1.4 1.6 8.4 5.6 7.9 6.1 1.4 3.1 6.9 2.1 5.9 2.1 7.4 2.1 3.9 2.1 4.4 2.6 1.4 1.6 1.9 4.6 10.4 1.1 3.9 5.6 1.4 1.1 5.4 2.1 1.9 2.6 12.4 1.1 1.4 1.1 1.4 2.1 7.4 3.1 1.4 2.6 14.9 1.1 4.4 6.6 600"/>
<path d="M101.45 142.85H565.6" stroke-dasharray="1.1 10.9 2.1 2.4 1.1 9.9 2.6 10.9 2.6 3.4 1.1 4.4 1.1 7.9 1.6 16.4 1.6 3.4 1.6 2.4 1.6 10.9 1.1 4.4 1.6 10.9 1.1 4.4 1.1 3.4 2.1 2.9 1.1 19.9 1.1 27.9 2.1 9.9 9.1 7.4 1.6 2.4 1.1 7.9 1.1 3.4 1.1 5.4 1.6 4.4 1.1 1.4 1.1 3.9 1.6 9.9 1.1 15.4 3.1 25.4 1.1 4.4 1.1 2.4 1.1 8.4 1.1 1.4 2.1 13.4 1.1 3.4 2.1 2.4 1.6 1.4 1.1 4.4 2.6 1.4 2.1 6.9 2.1 3.4 2.6 23.9 1.1 1.4 1.6 1.9 2.1 4.4 1.1 11.4 4.1 8.9 1.6 2.9 1.6 9.9 1.6 1.9 1.1 600"/>
<path d="M89.45 139.43H572.1" stroke-dasharray="2.1 1.4 2.6 1.4 8.1 1.4 2.1 5.4 2.1 1.9 10.6 2.9 1.6 8.4 2.6 2.9 2.6 1.4 2.1 1.4 5.6 2.4 1.6 1.4 5.6 4.9 3.1 2.4 2.6 2.4 1.6 1.4 4.1 7.4 1.1 1.4 4.6 4.9 1.1 1.9 1.6 1.9 2.1 5.9 3.1 3.4 4.1 3.9 2.1 3.9 2.1 1.4 1.6 7.4 1.6 1.4 4.1 6.4 3.1 6.4 1.1 1.4 7.6 1.9 2.6 4.9 2.6 1.9 11.1 2.4 2.6 3.4 1.1 1.4 2.6 3.4 1.1 1.9 4.1 4.4 3.6 11.4 3.1 1.9 2.1 3.9 1.1 2.4 1.6 1.4 1.1 1.4 1.6 2.4 8.1 5.9 3.1 4.9 3.1 3.9 4.6 1.4 4.1 4.9 1.6 1.9 1.6 4.9 6.1 3.4 3.6 1.9 15.1 1.4 2.6 5.4 9.6 3.4 4.6 1.9 4.6 7.4 5.1 4.4 1.1 1.4 3.1 2.9 2.1 11.4 1.1 4.4 1.1 1.4 2.6 1.4 1.1 2.4 3.1 4.9 6.1 600"/>
<path d="M81.95 136.01H555.6" stroke-dasharray="1.6 1.4 2.1 2.9 1.1 1.4 2.1 1.4 2.1 2.9 3.6 3.9 2.6 8.4 5.1 7.4 2.6 1.4 2.1 6.4 2.1 3.4 2.1 5.4 1.1 2.9 4.1 1.9 2.6 3.9 2.1 1.4 1.1 4.9 4.1 2.9 1.6 8.9 2.6 3.4 1.1 6.9 1.1 1.9 1.1 2.9 1.6 4.4 3.1 5.4 6.1 8.9 3.6 6.4 1.6 1.4 1.6 6.9 1.1 7.9 2.6 9.9 2.1 3.9 1.1 3.4 2.6 1.4 2.6 5.9 1.1 5.9 1.1 11.4 3.6 3.4 1.6 4.4 3.6 1.4 1.1 5.9 3.6 3.9 1.1 2.4 3.1 1.4 1.6 6.9 2.6 1.9 2.1 1.4 1.1 4.4 5.1 1.4 1.6 2.9 1.1 3.9 1.1 2.4 1.6 3.4 1.6 1.4 2.6 13.9 1.1 1.9 2.6 2.4 4.1 8.4 1.6 9.9 3.1 1.9 5.6 1.4 2.1 1.4 2.1 7.4 1.1 2.9 4.6 2.9 1.6 7.9 2.1 1.4 2.1 3.4 1.1 4.9 1.6 7.9 1.1 3.9 4.6 600"/>
<path d="M84.45 132.58H564.6" stroke-dasharray="2.1 21.4 1.1 18.4 1.1 11.4 1.1 10.9 2.1 14.4 1.6 5.4 1.6 1.9 1.1 14.4 1.6 13.9 2.1 2.4 1.1 6.4 1.1 11.4 1.1 10.4 1.1 18.4 1.1 11.4 1.1 11.9 1.6 56.9 1.1 34.9 2.6 39.9 1.1 4.4 1.1 3.4 1.6 15.4 1.1 30.9 1.1 10.4 2.6 6.4 1.6 3.4 3.1 10.9 1.1 35.4 1.6 600"/>
<path d="M80.95 125.74H572.1" stroke-dasharray="1.1 8.9 2.1 4.4 5.6 6.4 1.1 9.4 1.6 5.9 2.6 5.4 1.1 6.9 1.1 1.9 1.6 1.9 1.1 2.9 1.1 1.4 1.1 10.4 1.1 4.4 1.6 1.4 1.1 4.4 1.6 47.9 2.1 4.9 1.1 4.4 4.1 1.9 3.6 10.4 2.1 5.9 1.1 1.9 4.1 8.4 1.1 1.4 2.1 2.4 5.1 5.4 1.1 3.9 3.6 7.4 1.1 7.4 2.6 2.9 2.1 15.4 3.1 9.9 1.6 7.4 1.6 1.9 1.6 1.4 1.1 2.9 1.1 4.9 3.1 13.9 1.1 1.4 1.6 9.4 1.6 1.9 1.6 1.4 1.1 6.9 1.1 4.4 1.6 1.4 1.6 1.4 3.1 3.4 1.1 1.9 1.6 10.4 1.1 1.9 1.1 7.9 2.1 5.9 1.1 1.4 2.1 2.9 1.6 10.9 2.1 2.9 1.1 1.4 3.1 2.4 3.6 6.4 1.6 1.9 1.6 31.9 3.1 600"/>
<path d="M88.95 118.89H557.6" stroke-dasharray="1.1 7.9 2.1 3.9 1.1 23.9 3.1 8.4 1.6 2.9 1.1 13.4 1.1 4.4 1.1 18.4 1.1 7.9 1.1 7.9 1.1 62.4 2.6 34.4 1.1 12.4 2.1 11.9 1.1 9.4 4.1 34.4 1.6 33.4 1.1 8.9 1.6 23.4 1.6 9.9 2.1 46.4 1.1 6.4 2.1 30.9 2.1 4.4 1.1 600"/>
<path d="M99.45 115.47H555.6" stroke-dasharray="1.1 2.9 1.1 5.4 1.1 36.9 1.1 4.9 2.1 14.9 1.1 37.9 1.1 16.9 1.1 66.4 2.1 4.4 2.1 5.9 1.1 61.4 1.1 30.4 1.1 17.9 1.1 21.4 1.1 19.4 1.1 73.9 2.1 11.4 1.1 600"/>
<path d="M128.45 108.62H568.6" stroke-dasharray="1.1 65.4 1.1 33.9 1.6 4.4 1.1 7.9 1.6 19.4 1.1 111.9 1.1 5.4 1.1 99.4 1.1 12.4 1.1 15.4 1.1 18.4 1.1 4.4 1.6 8.4 1.1 15.4 1.1 600"/>
<path d="M170.95 105.2H535.6" stroke-dasharray="1.6 3.4 3.1 259.4 1.6 10.9 1.1 21.9 1.1 1.9 1.1 56.4 1.1 600"/>
<path d="M114.95 101.77H494.1" stroke-dasharray="1.6 45.4 1.1 5.9 1.1 83.4 1.1 24.4 1.1 44.9 1.1 40.9 1.6 73.4 1.1 9.4 2.1 38.4 1.1 600"/>
<path d="M176.45 98.35H463.1" stroke-dasharray="1.1 32.9 1.1 7.4 1.1 227.9 1.1 12.9 1.1 600"/>
<path d="M157.95 91.5H551.6" stroke-dasharray="1.1 23.4 1.1 43.9 1.1 11.9 1.1 42.9 1.1 31.4 1.1 59.9 2.1 170.4 1.1 600"/>
<path d="M163.45 84.65H556.6" stroke-dasharray="1.1 72.4 1.1 207.4 1.6 74.4 1.1 32.9 1.1 600"/>
<path d="M97.45 74.38H126.6" stroke-dasharray="1.1 26.9 1.1 600"/>
</g>
<path d="M325.5 580.24L325.5 47.81" stroke="#006400" stroke-width="3" stroke-dasharray="8.6 9.4" stroke-dashoffset="-.2" stroke-linecap="round" fill="none" clip-path="url(#c1)"/>
<path d="M59.76 307.18L592.19 307.18" stroke="#cd2626" stroke-width="2.25" stroke-dasharray="9 9" stroke-dashoffset="-0" stroke-linecap="round" fill="none" clip-path="url(#c1)"/>
<rect x="59.76" y="47.81" width="532.43" height="532.43" fill="none" stroke="#000" stroke-width=".66" stroke-linejoin="round"/>
<path d="M126.54 580.24H524.46M126.54 580.24v6M226.02 580.24v6M325.5 580.24v6M424.98 580.24v6M524.46 580.24v6M59.76 67.54V546.83M59.76 546.83h-6M59.76 478.36h-6M59.76 409.89h-6M59.76 341.42h-6M59.76 272.95h-6M59.76 204.48h-6M59.76 136.01h-6M59.76 67.54h-6" fill="none" stroke="#000" stroke-width=".66"/>
<g font-family="'Liberation Sans',sans-serif" font-size="10.6" text-anchor="middle" fill="#000">
<text x="126.24" y="601.94">-400</text>
<text x="225.72" y="601.94">-200</text>
<text x="325.2" y="601.94">0</text>
<text x="424.68" y="601.94">200</text>
<text x="524.16" y="601.94">400</text>
<text transform="translate(44.86 546.83) rotate(-90)">86</text>
<text transform="translate(44.86 478.36) rotate(-90)">88</text>
<text transform="translate(44.86 409.89) rotate(-90)">90</text>
<text transform="translate(44.86 341.42) rotate(-90)">92</text>
<text transform="translate(44.86 272.95) rotate(-90)">94</text>
<text transform="translate(44.86 204.48) rotate(-90)">96</text>
<text transform="translate(44.86 136.01) rotate(-90)">98</text>
<text transform="translate(44.86 67.54) rotate(-90)">100</text>
</g>
<text x="323.08" y="31.8" font-family="'Liberation Sans',sans-serif" font-size="21.47" font-weight="bold" text-anchor="middle">Top hit for each peak</text>
<text x="325.98" y="625.94" font-family="'Liberation Sans',sans-serif" font-size="15.9" text-anchor="middle">Distance to peak summit</text>
<text transform="translate(21.86 314.02) rotate(-90)" font-family="'Liberation Sans',sans-serif" font-size="15.9" text-anchor="middle">Motif score</text>
<clipPath id="c2"><rect x="699.76" y="47.81" width="532.43" height="532.43"/></clipPath>
<defs><linearGradient id="h0"><stop offset="0" stop-color="#fafaff"/><stop offset=".026" stop-color="#f8f8ff"/><stop offset=".051" stop-color="#f6f6ff"/><stop offset=".282" stop-color="#f6f6ff"/><stop offset=".308" stop-color="#f5f5ff"/><stop offset=".667" stop-color="#f5f5ff"/><stop offset=".692" stop-color="#f6f6ff"/><stop offset=".949" stop-color="#f6f6ff"/><stop offset=".974" stop-color="#f8f8ff"/><stop offset="1" stop-color="#fafaff"/></linearGradient><linearGradient id="h1"><stop offset="0" stop-color="#fafaff"/><stop offset=".026" stop-color="#f8f8ff"/><stop offset=".051" stop-color="#f6f6ff"/><stop offset=".282" stop-color="#f6f6ff"/><stop offset=".308" stop-color="#f5f5ff"/><stop offset=".667" stop-color="#f5f5ff"/><stop offset=".692" stop-color="#f6f6ff"/><stop offset=".949" stop-color="#f6f6ff"/><stop offset=".974" stop-color="#f8f8ff"/><stop offset="1" stop-color="#fafaff"/></linearGradient><linearGradient id="h2"><stop offset="0" stop-color="#fafaff"/><stop offset=".026" stop-color="#f8f8ff"/><stop offset=".051" stop-color="#f6f6ff"/><stop offset=".282" stop-color="#f6f6ff"/><stop offset=".308" stop-color="#f5f5ff"/><stop offset=".667" stop-color="#f5f5ff"/><stop offset=".692" stop-color="#f6f6ff"/><stop offset=".949" stop-color="#f6f6ff"/><stop offset=".974" stop-color="#f8f8ff"/><stop offset="1" stop-color="#fafaff"/></linearGradient><linearGradient id="h3"><stop offset="0" stop-color="#f9f9ff"/><stop offset=".026" stop-color="#f5f5ff"/><stop offset=".051" stop-color="#f3f3ff"/><stop offset=".256" stop-color="#f3f3ff"/><stop offset=".282" stop-color="#f2f2ff"/><stop offset=".385" stop-color="#f2f2ff"/><stop offset=".41" stop-color="#f1f1ff"/><stop offset=".59" stop-color="#f1f1ff"/><stop offset=".615" stop-color="#f2f2ff"/><stop offset=".718" stop-color="#f2f2ff"/><stop offset=".744" stop-color="#f3f3ff"/><stop offset=".949" stop-color="#f3f3ff"/><stop offset=".974" stop-color="#f5f5ff"/><stop offset="1" stop-color="#f9f9ff"/></linearGradient><linearGradient id="h4"><stop offset="0" stop-color="#f7f7ff"/><stop offset=".026" stop-color="#f2f2ff"/><stop offset=".051" stop-color="#f0f0ff"/><stop offset=".077" stop-color="#efefff"/><stop offset=".308" stop-color="#efefff"/><stop offset=".333" stop-color="#eeeeff"/><stop offset=".359" stop-color="#eeeeff"/><stop offset=".385" stop-color="#ededff"/><stop offset=".59" stop-color="#ededff"/><stop offset=".615" stop-color="#eeeeff"/><stop offset=".667" stop-color="#eeeeff"/><stop offset=".692" stop-color="#efefff"/><stop offset=".923" stop-color="#efefff"/><stop offset=".949" stop-color="#f0f0ff"/><stop offset=".974" stop-color="#f2f2ff"/><stop offset="1" stop-color="#f7f7ff"/></linearGradient><linearGradient id="h5"><stop offset="0" stop-color="#f5f5ff"/><stop offset=".026" stop-color="#efefff"/><stop offset=".051" stop-color="#ececff"/><stop offset=".077" stop-color="#ebebff"/><stop offset=".282" stop-color="#ebebff"/><stop offset=".308" stop-color="#eaeaff"/><stop offset=".333" stop-color="#eaeaff"/><stop offset=".359" stop-color="#e9e9ff"/><stop offset=".385" stop-color="#e9e9ff"/><stop offset=".41" stop-color="#e8e8ff"/><stop offset=".564" stop-color="#e8e8ff"/><stop offset=".59" stop-color="#e9e9ff"/><stop offset=".641" stop-color="#e9e9ff"/><stop offset=".667" stop-color="#eaeaff"/><stop offset=".692" stop-color="#eaeaff"/><stop offset=".718" stop-color="#ebebff"/><stop offset=".923" stop-color="#ebebff"/><stop offset=".949" stop-color="#ececff"/><stop offset=".974" stop-color="#efefff"/><stop offset="1" stop-color="#f5f5ff"/></linearGradient><linearGradient id="h6"><stop offset="0" stop-color="#f2f2ff"/><stop offset=".026" stop-color="#ebebff"/><stop offset=".051" stop-color="#e8e8ff"/><stop offset=".077" stop-color="#e7e7ff"/><stop offset=".103" stop-color="#e6e6ff"/><stop offset=".282" stop-color="#e6e6ff"/><stop offset=".308" stop-color="#e5e5ff"/><stop offset=".333" stop-color="#e5e5ff"/><stop offset=".359" stop-color="#e4e4ff"/><stop offset=".385" stop-color="#e3e3ff"/><stop offset=".59" stop-color="#e3e3ff"/><stop offset=".615" stop-color="#e4e4ff"/><stop offset=".641" stop-color="#e4e4ff"/><stop offset=".667" stop-color="#e5e5ff"/><stop offset=".692" stop-color="#e6e6ff"/><stop offset=".897" stop-color="#e6e6ff"/><stop offset=".923" stop-color="#e7e7ff"/><stop offset=".949" stop-color="#e8e8ff"/><stop offset=".974" stop-color="#ebebff"/><stop offset="1" stop-color="#f2f2ff"/></linearGradient><linearGradient id="h7"><stop offset="0" stop-color="#efefff"/><stop offset=".026" stop-color="#e7e7ff"/><stop offset=".051" stop-color="#e3e3ff"/><stop offset=".077" stop-color="#e1e1ff"/><stop offset=".231" stop-color="#e1e1ff"/><stop offset=".256" stop-color="#e0e0ff"/><stop offset=".308" stop-color="#e0e0ff"/><stop offset=".333" stop-color="#dfdfff"/><stop offset=".359" stop-color="#dedeff"/><stop offset=".385" stop-color="#ddddff"/><stop offset=".436" stop-color="#ddddff"/><stop offset=".462" stop-color="#dcdcff"/><stop offset=".513" stop-color="#dcdcff"/><stop offset=".538" stop-color="#ddddff"/><stop offset=".59" stop-color="#ddddff"/><stop offset=".615" stop-color="#dedeff"/><stop offset=".641" stop-color="#dfdfff"/><stop offset=".667" stop-color="#dfdfff"/><stop offset=".692" stop-color="#e0e0ff"/><stop offset=".718" stop-color="#e0e0ff"/><stop offset=".744" stop-color="#e1e1ff"/><stop offset=".923" stop-color="#e1e1ff"/><stop offset=".949" stop-color="#e3e3ff"/><stop offset=".974" stop-color="#e7e7ff"/><stop offset="1" stop-color="#f0f0ff"/></linearGradient><linearGradient id="h8"><stop offset="0" stop-color="#ececff"/><stop offset=".026" stop-color="#e2e2ff"/><stop offset=".051" stop-color="#ddddff"/><stop offset=".077" stop-color="#dbdbff"/><stop offset=".205" stop-color="#dbdbff"/><stop offset=".231" stop-color="#dadaff"/><stop offset=".282" stop-color="#dadaff"/><stop offset=".308" stop-color="#d9d9ff"/><stop offset=".333" stop-color="#d8d8ff"/><stop offset=".359" stop-color="#d7d7ff"/><stop offset=".385" stop-color="#d6d6ff"/><stop offset=".41" stop-color="#d6d6ff"/><stop offset=".436" stop-color="#d5d5ff"/><stop offset=".564" stop-color="#d5d5ff"/><stop offset=".59" stop-color="#d6d6ff"/><stop offset=".615" stop-color="#d7d7ff"/><stop offset=".641" stop-color="#d8d8ff"/><stop offset=".667" stop-color="#d9d9ff"/><stop offset=".692" stop-color="#dadaff"/><stop offset=".769" stop-color="#dadaff"/><stop offset=".795" stop-color="#dbdbff"/><stop offset=".923" stop-color="#dbdbff"/><stop offset=".949" stop-color="#ddddff"/><stop offset=".974" stop-color="#e3e3ff"/><stop offset="1" stop-color="#ececff"/></linearGradient><linearGradient id="h9"><stop offset="0" stop-color="#e9e9ff"/><stop offset=".026" stop-color="#ddddff"/><stop offset=".051" stop-color="#d6d6ff"/><stop offset=".077" stop-color="#d4d4ff"/><stop offset=".179" stop-color="#d4d4ff"/><stop offset=".205" stop-color="#d3d3ff"/><stop offset=".282" stop-color="#d3d3ff"/><stop offset=".308" stop-color="#d2d2ff"/><stop offset=".333" stop-color="#d1d1ff"/><stop offset=".359" stop-color="#cfcfff"/><stop offset=".385" stop-color="#ceceff"/><stop offset=".41" stop-color="#cdcdff"/><stop offset=".59" stop-color="#cdcdff"/><stop offset=".615" stop-color="#ceceff"/><stop offset=".641" stop-color="#d0d0ff"/><stop offset=".667" stop-color="#d1d1ff"/><stop offset=".692" stop-color="#d2d2ff"/><stop offset=".718" stop-color="#d3d3ff"/><stop offset=".795" stop-color="#d3d3ff"/><stop offset=".821" stop-color="#d4d4ff"/><stop offset=".923" stop-color="#d4d4ff"/><stop offset=".949" stop-color="#d6d6ff"/><stop offset=".974" stop-color="#ddddff"/><stop offset="1" stop-color="#e9e9ff"/></linearGradient><linearGradient id="h10"><stop offset="0" stop-color="#e4e4ff"/><stop offset=".026" stop-color="#d6d6ff"/><stop offset=".051" stop-color="#cfcfff"/><stop offset=".077" stop-color="#ccccff"/><stop offset=".128" stop-color="#ccccff"/><stop offset=".154" stop-color="#cbcbff"/><stop offset=".231" stop-color="#cbcbff"/><stop offset=".256" stop-color="#cacaff"/><stop offset=".282" stop-color="#cacaff"/><stop offset=".308" stop-color="#c9c9ff"/><stop offset=".333" stop-color="#c7c7ff"/><stop offset=".359" stop-color="#c6c6ff"/><stop offset=".385" stop-color="#c4c4ff"/><stop offset=".41" stop-color="#c3c3ff"/><stop offset=".436" stop-color="#c3c3ff"/><stop offset=".462" stop-color="#c2c2ff"/><stop offset=".538" stop-color="#c2c2ff"/><stop offset=".564" stop-color="#c3c3ff"/><stop offset=".59" stop-color="#c3c3ff"/><stop offset=".615" stop-color="#c5c5ff"/><stop offset=".641" stop-color="#c6c6ff"/><stop offset=".667" stop-color="#c8c8ff"/><stop offset=".692" stop-color="#cacaff"/><stop offset=".718" stop-color="#cacaff"/><stop offset=".744" stop-color="#cbcbff"/><stop offset=".846" stop-color="#cbcbff"/><stop offset=".872" stop-color="#ccccff"/><stop offset=".923" stop-color="#ccccff"/><stop offset=".949" stop-color="#cfcfff"/><stop offset=".974" stop-color="#d6d6ff"/><stop offset="1" stop-color="#e4e4ff"/></linearGradient><linearGradient id="h11"><stop offset="0" stop-color="#dfdfff"/><stop offset=".026" stop-color="#cfcfff"/><stop offset=".051" stop-color="#c6c6ff"/><stop offset=".077" stop-color="#c3c3ff"/><stop offset=".103" stop-color="#c2c2ff"/><stop offset=".154" stop-color="#c2c2ff"/><stop offset=".179" stop-color="#c1c1ff"/><stop offset=".231" stop-color="#c1c1ff"/><stop offset=".256" stop-color="#c0c0ff"/><stop offset=".282" stop-color="#c0c0ff"/><stop offset=".308" stop-color="#bebeff"/><stop offset=".333" stop-color="#bcbcff"/><stop offset=".359" stop-color="#babaff"/><stop offset=".385" stop-color="#b8b8ff"/><stop offset=".41" stop-color="#b7b7ff"/><stop offset=".436" stop-color="#b6b6ff"/><stop offset=".538" stop-color="#b6b6ff"/><stop offset=".564" stop-color="#b7b7ff"/><stop offset=".59" stop-color="#b7b7ff"/><stop offset=".615" stop-color="#b9b9ff"/><stop offset=".641" stop-color="#bbbbff"/><stop offset=".667" stop-color="#bebeff"/><stop offset=".692" stop-color="#bfbfff"/><stop offset=".718" stop-color="#c0c0ff"/><stop offset=".744" stop-color="#c0c0ff"/><stop offset=".769" stop-color="#c1c1ff"/><stop offset=".846" stop-color="#c1c1ff"/><stop offset=".872" stop-color="#c2c2ff"/><stop offset=".897" stop-color="#c2c2ff"/><stop offset=".923" stop-color="#c3c3ff"/><stop offset=".949" stop-color="#c5c5ff"/><stop offset=".974" stop-color="#cfcfff"/><stop offset="1" stop-color="#dfdfff"/></linearGradient><linearGradient id="h12"><stop offset="0" stop-color="#dadaff"/><stop offset=".026" stop-color="#c6c6ff"/><stop offset=".051" stop-color="#bbbbff"/><stop offset=".077" stop-color="#b7b7ff"/><stop offset=".103" stop-color="#b7b7ff"/><stop offset=".128" stop-color="#b6b6ff"/><stop offset=".154" stop-color="#b6b6ff"/><stop offset=".179" stop-color="#b5b5ff"/><stop offset=".231" stop-color="#b5b5ff"/><stop offset=".256" stop-color="#b4b4ff"/><stop offset=".282" stop-color="#b3b3ff"/><stop offset=".308" stop-color="#b2b2ff"/><stop offset=".333" stop-color="#afafff"/><stop offset=".359" stop-color="#acacff"/><stop offset=".385" stop-color="#aaaaff"/><stop offset=".41" stop-color="#a8a8ff"/><stop offset=".436" stop-color="#a8a8ff"/><stop offset=".462" stop-color="#a7a7ff"/><stop offset=".538" stop-color="#a7a7ff"/><stop offset=".564" stop-color="#a8a8ff"/><stop offset=".59" stop-color="#a9a9ff"/><stop offset=".615" stop-color="#ababff"/><stop offset=".641" stop-color="#aeaeff"/><stop offset=".667" stop-color="#b1b1ff"/><stop offset=".692" stop-color="#b3b3ff"/><stop offset=".718" stop-color="#b4b4ff"/><stop offset=".744" stop-color="#b4b4ff"/><stop offset=".769" stop-color="#b5b5ff"/><stop offset=".821" stop-color="#b5b5ff"/><stop offset=".846" stop-color="#b6b6ff"/><stop offset=".897" stop-color="#b6b6ff"/><stop offset=".923" stop-color="#b7b7ff"/><stop offset=".949" stop-color="#bbbbff"/><stop offset=".974" stop-color="#c6c6ff"/><stop offset="1" stop-color="#d9d9ff"/></linearGradient><linearGradient id="h13"><stop offset="0" stop-color="#d3d3ff"/><stop offset=".026" stop-color="#bbbbff"/><stop offset=".051" stop-color="#afafff"/><stop offset=".077" stop-color="#aaaaff"/><stop offset=".103" stop-color="#aaaaff"/><stop offset=".128" stop-color="#a9a9ff"/><stop offset=".154" stop-color="#a8a8ff"/><stop offset=".179" stop-color="#a8a8ff"/><stop offset=".205" stop-color="#a7a7ff"/><stop offset=".231" stop-color="#a7a7ff"/><stop offset=".256" stop-color="#a6a6ff"/><stop offset=".282" stop-color="#a5a5ff"/><stop offset=".308" stop-color="#a3a3ff"/><stop offset=".333" stop-color="#a0a0ff"/><stop offset=".359" stop-color="#9c9cff"/><stop offset=".385" stop-color="#9999ff"/><stop offset=".41" stop-color="#9797ff"/><stop offset=".436" stop-color="#9696ff"/><stop offset=".538" stop-color="#9696ff"/><stop offset=".564" stop-color="#9797ff"/><stop offset=".59" stop-color="#9898ff"/><stop offset=".615" stop-color="#9a9aff"/><stop offset=".641" stop-color="#9e9eff"/><stop offset=".667" stop-color="#a2a2ff"/><stop offset=".692" stop-color="#a4a4ff"/><stop offset=".718" stop-color="#a5a5ff"/><stop offset=".744" stop-color="#a6a6ff"/><stop offset=".769" stop-color="#a6a6ff"/><stop offset=".795" stop-color="#a7a7ff"/><stop offset=".821" stop-color="#a7a7ff"/><stop offset=".846" stop-color="#a8a8ff"/><stop offset=".872" stop-color="#a8a8ff"/><stop offset=".897" stop-color="#a9a9ff"/><stop offset=".923" stop-color="#aaaaff"/><stop offset=".949" stop-color="#aeaeff"/><stop offset=".974" stop-color="#bbbbff"/><stop offset="1" stop-color="#d2d2ff"/></linearGradient><linearGradient id="h14"><stop offset="0" stop-color="#cbcbff"/><stop offset=".026" stop-color="#b0b0ff"/><stop offset=".051" stop-color="#a1a1ff"/><stop offset=".077" stop-color="#9c9cff"/><stop offset=".103" stop-color="#9b9bff"/><stop offset=".128" stop-color="#9a9aff"/><stop offset=".154" stop-color="#9999ff"/><stop offset=".179" stop-color="#9898ff"/><stop offset=".205" stop-color="#9797ff"/><stop offset=".231" stop-color="#9797ff"/><stop offset=".256" stop-color="#9696ff"/><stop offset=".282" stop-color="#9494ff"/><stop offset=".308" stop-color="#9292ff"/><stop offset=".333" stop-color="#8e8eff"/><stop offset=".359" stop-color="#8a8aff"/><stop offset=".385" stop-color="#8686ff"/><stop offset=".41" stop-color="#8383ff"/><stop offset=".436" stop-color="#8282ff"/><stop offset=".538" stop-color="#8282ff"/><stop offset=".564" stop-color="#8383ff"/><stop offset=".59" stop-color="#8484ff"/><stop offset=".615" stop-color="#8787ff"/><stop offset=".641" stop-color="#8c8cff"/><stop offset=".667" stop-color="#9090ff"/><stop offset=".692" stop-color="#9393ff"/><stop offset=".718" stop-color="#9595ff"/><stop offset=".744" stop-color="#9696ff"/><stop offset=".769" stop-color="#9696ff"/><stop offset=".795" stop-color="#9797ff"/><stop offset=".821" stop-color="#9797ff"/><stop offset=".846" stop-color="#9898ff"/><stop offset=".872" stop-color="#9999ff"/><stop offset=".897" stop-color="#9999ff"/><stop offset=".923" stop-color="#9b9bff"/><stop offset=".949" stop-color="#a0a0ff"/><stop offset=".974" stop-color="#afafff"/><stop offset="1" stop-color="#cbcbff"/></linearGradient><linearGradient id="h15"><stop offset="0" stop-color="#c3c3ff"/><stop offset=".026" stop-color="#a3a3ff"/><stop offset=".051" stop-color="#9292ff"/><stop offset=".077" stop-color="#8c8cff"/><stop offset=".103" stop-color="#8b8bff"/><stop offset=".128" stop-color="#8a8aff"/><stop offset=".154" stop-color="#8989ff"/><stop offset=".179" stop-color="#8787ff"/><stop offset=".205" stop-color="#8686ff"/><stop offset=".231" stop-color="#8585ff"/><stop offset=".256" stop-color="#8484ff"/><stop offset=".282" stop-color="#8282ff"/><stop offset=".308" stop-color="#7f7fff"/><stop offset=".333" stop-color="#7a7aff"/><stop offset=".359" stop-color="#7575ff"/><stop offset=".385" stop-color="#7070ff"/><stop offset=".41" stop-color="#6d6dff"/><stop offset=".436" stop-color="#6c6cff"/><stop offset=".462" stop-color="#6b6bff"/><stop offset=".538" stop-color="#6b6bff"/><stop offset=".564" stop-color="#6c6cff"/><stop offset=".59" stop-color="#6e6eff"/><stop offset=".615" stop-color="#7272ff"/><stop offset=".641" stop-color="#7777ff"/><stop offset=".667" stop-color="#7d7dff"/><stop offset=".692" stop-color="#8181ff"/><stop offset=".718" stop-color="#8383ff"/><stop offset=".744" stop-color="#8484ff"/><stop offset=".769" stop-color="#8484ff"/><stop offset=".795" stop-color="#8585ff"/><stop offset=".821" stop-color="#8686ff"/><stop offset=".846" stop-color="#8787ff"/><stop offset=".872" stop-color="#8888ff"/><stop offset=".897" stop-color="#8989ff"/><stop offset=".923" stop-color="#8a8aff"/><stop offset=".949" stop-color="#9090ff"/><stop offset=".974" stop-color="#a2a2ff"/><stop offset="1" stop-color="#c2c2ff"/></linearGradient><linearGradient id="h16"><stop offset="0" stop-color="#bbbbff"/><stop offset=".026" stop-color="#9797ff"/><stop offset=".051" stop-color="#8383ff"/><stop offset=".077" stop-color="#7d7dff"/><stop offset=".103" stop-color="#7b7bff"/><stop offset=".128" stop-color="#7a7aff"/><stop offset=".154" stop-color="#7878ff"/><stop offset=".179" stop-color="#7676ff"/><stop offset=".205" stop-color="#7474ff"/><stop offset=".231" stop-color="#7373ff"/><stop offset=".256" stop-color="#7171ff"/><stop offset=".282" stop-color="#6f6fff"/><stop offset=".308" stop-color="#6b6bff"/><stop offset=".333" stop-color="#6565ff"/><stop offset=".359" stop-color="#5f5fff"/><stop offset=".385" stop-color="#5959ff"/><stop offset=".41" stop-color="#5555ff"/><stop offset=".436" stop-color="#5353ff"/><stop offset=".538" stop-color="#5353ff"/><stop offset=".564" stop-color="#5454ff"/><stop offset=".59" stop-color="#5757ff"/><stop offset=".615" stop-color="#5b5bff"/><stop offset=".641" stop-color="#6262ff"/><stop offset=".667" stop-color="#6868ff"/><stop offset=".692" stop-color="#6d6dff"/><stop offset=".718" stop-color="#7070ff"/><stop offset=".744" stop-color="#7171ff"/><stop offset=".769" stop-color="#7272ff"/><stop offset=".795" stop-color="#7272ff"/><stop offset=".821" stop-color="#7474ff"/><stop offset=".846" stop-color="#7575ff"/><stop offset=".872" stop-color="#7676ff"/><stop offset=".897" stop-color="#7878ff"/><stop offset=".923" stop-color="#7979ff"/><stop offset=".949" stop-color="#8080ff"/><stop offset=".974" stop-color="#9494ff"/><stop offset="1" stop-color="#b9b9ff"/></linearGradient><linearGradient id="h17"><stop offset="0" stop-color="#b4b4ff"/><stop offset=".026" stop-color="#8b8bff"/><stop offset=".051" stop-color="#7575ff"/><stop offset=".077" stop-color="#6e6eff"/><stop offset=".103" stop-color="#6c6cff"/><stop offset=".128" stop-color="#6a6aff"/><stop offset=".154" stop-color="#6868ff"/><stop offset=".179" stop-color="#6565ff"/><stop offset=".205" stop-color="#6262ff"/><stop offset=".231" stop-color="#6060ff"/><stop offset=".256" stop-color="#5e5eff"/><stop offset=".282" stop-color="#5c5cff"/><stop offset=".308" stop-color="#5757ff"/><stop offset=".333" stop-color="#5050ff"/><stop offset=".359" stop-color="#4848ff"/><stop offset=".385" stop-color="#4141ff"/><stop offset=".41" stop-color="#3d3dff"/><stop offset=".436" stop-color="#3a3aff"/><stop offset=".538" stop-color="#3a3aff"/><stop offset=".564" stop-color="#3b3bff"/><stop offset=".59" stop-color="#3e3eff"/><stop offset=".615" stop-color="#4444ff"/><stop offset=".641" stop-color="#4c4cff"/><stop offset=".667" stop-color="#5454ff"/><stop offset=".692" stop-color="#5959ff"/><stop offset=".718" stop-color="#5c5cff"/><stop offset=".744" stop-color="#5e5eff"/><stop offset=".769" stop-color="#5f5fff"/><stop offset=".795" stop-color="#6060ff"/><stop offset=".821" stop-color="#6161ff"/><stop offset=".846" stop-color="#6363ff"/><stop offset=".872" stop-color="#6565ff"/><stop offset=".897" stop-color="#6767ff"/><stop offset=".923" stop-color="#6969ff"/><stop offset=".949" stop-color="#7070ff"/><stop offset=".974" stop-color="#8787ff"/><stop offset="1" stop-color="#b0b0ff"/></linearGradient><linearGradient id="h18"><stop offset="0" stop-color="#adadff"/><stop offset=".026" stop-color="#8080ff"/><stop offset=".051" stop-color="#6868ff"/><stop offset=".077" stop-color="#6060ff"/><stop offset=".103" stop-color="#5e5eff"/><stop offset=".128" stop-color="#5c5cff"/><stop offset=".154" stop-color="#5858ff"/><stop offset=".179" stop-color="#5555ff"/><stop offset=".205" stop-color="#5151ff"/><stop offset=".231" stop-color="#4e4eff"/><stop offset=".256" stop-color="#4c4cff"/><stop offset=".282" stop-color="#4949ff"/><stop offset=".308" stop-color="#4343ff"/><stop offset=".333" stop-color="#3b3bff"/><stop offset=".359" stop-color="#3131ff"/><stop offset=".385" stop-color="#2929ff"/><stop offset=".41" stop-color="#2424ff"/><stop offset=".436" stop-color="#2121ff"/><stop offset=".462" stop-color="#2020ff"/><stop offset=".538" stop-color="#2020ff"/><stop offset=".564" stop-color="#2222ff"/><stop offset=".59" stop-color="#2626ff"/><stop offset=".615" stop-color="#2c2cff"/><stop offset=".641" stop-color="#3636ff"/><stop offset=".667" stop-color="#3f3fff"/><stop offset=".692" stop-color="#4646ff"/><stop offset=".718" stop-color="#4949ff"/><stop offset=".744" stop-color="#4b4bff"/><stop offset=".769" stop-color="#4c4cff"/><stop offset=".795" stop-color="#4e4eff"/><stop offset=".821" stop-color="#4f4fff"/><stop offset=".846" stop-color="#5252ff"/><stop offset=".872" stop-color="#5454ff"/><stop offset=".897" stop-color="#5757ff"/><stop offset=".923" stop-color="#5959ff"/><stop offset=".949" stop-color="#6161ff"/><stop offset=".974" stop-color="#7a7aff"/><stop offset="1" stop-color="#a8a8ff"/></linearGradient><linearGradient id="h19"><stop offset="0" stop-color="#a7a7ff"/><stop offset=".026" stop-color="#7676ff"/><stop offset=".051" stop-color="#5c5cff"/><stop offset=".077" stop-color="#5454ff"/><stop offset=".103" stop-color="#5151ff"/><stop offset=".128" stop-color="#4e4eff"/><stop offset=".154" stop-color="#4a4aff"/><stop offset=".179" stop-color="#4545ff"/><stop offset=".205" stop-color="#4141ff"/><stop offset=".231" stop-color="#3d3dff"/><stop offset=".256" stop-color="#3a3aff"/><stop offset=".282" stop-color="#3636ff"/><stop offset=".308" stop-color="#3030ff"/><stop offset=".333" stop-color="#2626ff"/><stop offset=".359" stop-color="#1a1aff"/><stop offset=".385" stop-color="#1111ff"/><stop offset=".41" stop-color="#0b0bff"/><stop offset=".436" stop-color="#0808ff"/><stop offset=".462" stop-color="#0707ff"/><stop offset=".538" stop-color="#0707ff"/><stop offset=".564" stop-color="#0909ff"/><stop offset=".59" stop-color="#0d0dff"/><stop offset=".615" stop-color="#1515ff"/><stop offset=".641" stop-color="#2020ff"/><stop offset=".667" stop-color="#2b2bff"/><stop offset=".692" stop-color="#3333ff"/><stop offset=".718" stop-color="#3737ff"/><stop offset=".744" stop-color="#3939ff"/><stop offset=".769" stop-color="#3a3aff"/><stop offset=".795" stop-color="#3c3cff"/><stop offset=".821" stop-color="#3e3eff"/><stop offset=".846" stop-color="#4141ff"/><stop offset=".872" stop-color="#4545ff"/><stop offset=".897" stop-color="#4848ff"/><stop offset=".923" stop-color="#4b4bff"/><stop offset=".949" stop-color="#5353ff"/><stop offset=".974" stop-color="#6e6eff"/><stop offset="1" stop-color="#a0a0ff"/></linearGradient><linearGradient id="h20"><stop offset="0" stop-color="#a1a1ff"/><stop offset=".026" stop-color="#6d6dff"/><stop offset=".051" stop-color="#5151ff"/><stop offset=".077" stop-color="#4949ff"/><stop offset=".103" stop-color="#4646ff"/><stop offset=".128" stop-color="#4242ff"/><stop offset=".154" stop-color="#3d3dff"/><stop offset=".179" stop-color="#3737ff"/><stop offset=".205" stop-color="#3131ff"/><stop offset=".231" stop-color="#2d2dff"/><stop offset=".256" stop-color="#2929ff"/><stop offset=".282" stop-color="#2424ff"/><stop offset=".308" stop-color="#1d1dff"/><stop offset=".333" stop-color="#1212ff"/><stop offset=".359" stop-color="#0404ff"/><stop offset=".385" stop-color="#0700f8"/><stop offset=".41" stop-color="#0e00f1"/><stop offset=".436" stop-color="#1100ee"/><stop offset=".462" stop-color="#1200ed"/><stop offset=".538" stop-color="#1200ed"/><stop offset=".564" stop-color="#1000ef"/><stop offset=".59" stop-color="#0b00f4"/><stop offset=".615" stop-color="#0200fd"/><stop offset=".641" stop-color="#0b0bff"/><stop offset=".667" stop-color="#1717ff"/><stop offset=".692" stop-color="#2020ff"/><stop offset=".718" stop-color="#2525ff"/><stop offset=".744" stop-color="#2727ff"/><stop offset=".769" stop-color="#2929ff"/><stop offset=".795" stop-color="#2b2bff"/><stop offset=".821" stop-color="#2e2eff"/><stop offset=".846" stop-color="#3232ff"/><stop offset=".872" stop-color="#3636ff"/><stop offset=".897" stop-color="#3939ff"/><stop offset=".923" stop-color="#3d3dff"/><stop offset=".949" stop-color="#4646ff"/><stop offset=".974" stop-color="#6363ff"/><stop offset="1" stop-color="#9999ff"/></linearGradient><linearGradient id="h21"><stop offset="0" stop-color="#9c9cff"/><stop offset=".026" stop-color="#6464ff"/><stop offset=".051" stop-color="#4747ff"/><stop offset=".077" stop-color="#3e3eff"/><stop offset=".103" stop-color="#3b3bff"/><stop offset=".128" stop-color="#3737ff"/><stop offset=".154" stop-color="#3030ff"/><stop offset=".179" stop-color="#2929ff"/><stop offset=".205" stop-color="#2323ff"/><stop offset=".231" stop-color="#1d1dff"/><stop offset=".256" stop-color="#1919ff"/><stop offset=".282" stop-color="#1313ff"/><stop offset=".308" stop-color="#0b0bff"/><stop offset=".333" stop-color="#0200fd"/><stop offset=".359" stop-color="#1100ee"/><stop offset=".385" stop-color="#1e00e1"/><stop offset=".41" stop-color="#2600d9"/><stop offset=".436" stop-color="#2900d6"/><stop offset=".462" stop-color="#2b00d4"/><stop offset=".513" stop-color="#2b00d4"/><stop offset=".538" stop-color="#2a00d5"/><stop offset=".564" stop-color="#2800d7"/><stop offset=".59" stop-color="#2200dd"/><stop offset=".615" stop-color="#1800e7"/><stop offset=".641" stop-color="#0a00f5"/><stop offset=".667" stop-color="#0404ff"/><stop offset=".692" stop-color="#0f0fff"/><stop offset=".718" stop-color="#1414ff"/><stop offset=".744" stop-color="#1717ff"/><stop offset=".769" stop-color="#1919ff"/><stop offset=".795" stop-color="#1b1bff"/><stop offset=".821" stop-color="#1e1eff"/><stop offset=".846" stop-color="#2323ff"/><stop offset=".872" stop-color="#2828ff"/><stop offset=".897" stop-color="#2c2cff"/><stop offset=".923" stop-color="#3030ff"/><stop offset=".949" stop-color="#3a3aff"/><stop offset=".974" stop-color="#5858ff"/><stop offset="1" stop-color="#9292ff"/></linearGradient><linearGradient id="h22"><stop offset="0" stop-color="#9797ff"/><stop offset=".026" stop-color="#5c5cff"/><stop offset=".051" stop-color="#3d3dff"/><stop offset=".077" stop-color="#3434ff"/><stop offset=".103" stop-color="#3131ff"/><stop offset=".128" stop-color="#2c2cff"/><stop offset=".154" stop-color="#2424ff"/><stop offset=".179" stop-color="#1c1cff"/><stop offset=".205" stop-color="#1515ff"/><stop offset=".231" stop-color="#0e0eff"/><stop offset=".256" stop-color="#0909ff"/><stop offset=".282" stop-color="#0303ff"/><stop offset=".308" stop-color="#0600f9"/><stop offset=".333" stop-color="#1500ea"/><stop offset=".359" stop-color="#2600d9"/><stop offset=".385" stop-color="#3400cb"/><stop offset=".41" stop-color="#3d00c2"/><stop offset=".436" stop-color="#4100be"/><stop offset=".462" stop-color="#4300bc"/><stop offset=".513" stop-color="#4300bc"/><stop offset=".538" stop-color="#4200bd"/><stop offset=".564" stop-color="#4000bf"/><stop offset=".59" stop-color="#3a00c5"/><stop offset=".615" stop-color="#2e00d1"/><stop offset=".641" stop-color="#1e00e1"/><stop offset=".667" stop-color="#0e00f1"/><stop offset=".692" stop-color="#0200fd"/><stop offset=".718" stop-color="#0404ff"/><stop offset=".744" stop-color="#0707ff"/><stop offset=".769" stop-color="#0909ff"/><stop offset=".795" stop-color="#0c0cff"/><stop offset=".821" stop-color="#0f0fff"/><stop offset=".846" stop-color="#1414ff"/><stop offset=".872" stop-color="#1a1aff"/><stop offset=".897" stop-color="#1f1fff"/><stop offset=".923" stop-color="#2323ff"/><stop offset=".949" stop-color="#2e2eff"/><stop offset=".974" stop-color="#4e4eff"/><stop offset="1" stop-color="#8b8bff"/></linearGradient><linearGradient id="h23"><stop offset="0" stop-color="#9292ff"/><stop offset=".026" stop-color="#5454ff"/><stop offset=".051" stop-color="#3333ff"/><stop offset=".077" stop-color="#2a2aff"/><stop offset=".103" stop-color="#2626ff"/><stop offset=".128" stop-color="#2020ff"/><stop offset=".154" stop-color="#1818ff"/><stop offset=".179" stop-color="#0f0fff"/><stop offset=".205" stop-color="#0707ff"/><stop offset=".231" stop-color="#0000ff"/><stop offset=".256" stop-color="#0600f9"/><stop offset=".282" stop-color="#0d00f2"/><stop offset=".308" stop-color="#1700e8"/><stop offset=".333" stop-color="#2800d7"/><stop offset=".359" stop-color="#3b00c4"/><stop offset=".385" stop-color="#4a00b5"/><stop offset=".41" stop-color="#5400ab"/><stop offset=".436" stop-color="#5900a6"/><stop offset=".462" stop-color="#5b00a4"/><stop offset=".513" stop-color="#5b00a4"/><stop offset=".538" stop-color="#5a00a5"/><stop offset=".564" stop-color="#5800a7"/><stop offset=".59" stop-color="#5000af"/><stop offset=".615" stop-color="#4400bb"/><stop offset=".641" stop-color="#3200cd"/><stop offset=".667" stop-color="#2000df"/><stop offset=".692" stop-color="#1300ec"/><stop offset=".718" stop-color="#0c00f3"/><stop offset=".744" stop-color="#0900f6"/><stop offset=".769" stop-color="#0600f9"/><stop offset=".795" stop-color="#0300fc"/><stop offset=".821" stop-color="#0101ff"/><stop offset=".846" stop-color="#0707ff"/><stop offset=".872" stop-color="#0d0dff"/><stop offset=".897" stop-color="#1212ff"/><stop offset=".923" stop-color="#1717ff"/><stop offset=".949" stop-color="#2222ff"/><stop offset=".974" stop-color="#4444ff"/><stop offset="1" stop-color="#8585ff"/></linearGradient><linearGradient id="h24"><stop offset="0" stop-color="#8c8cff"/><stop offset=".026" stop-color="#4a4aff"/><stop offset=".051" stop-color="#2828ff"/><stop offset=".077" stop-color="#1e1eff"/><stop offset=".103" stop-color="#1a1aff"/><stop offset=".128" stop-color="#1414ff"/><stop offset=".154" stop-color="#0b0bff"/><stop offset=".179" stop-color="#0202ff"/><stop offset=".205" stop-color="#0700f8"/><stop offset=".231" stop-color="#0f00f0"/><stop offset=".256" stop-color="#1500ea"/><stop offset=".282" stop-color="#1c00e3"/><stop offset=".308" stop-color="#2800d7"/><stop offset=".333" stop-color="#3a00c5"/><stop offset=".359" stop-color="#4f00b0"/><stop offset=".385" stop-color="#61009e"/><stop offset=".41" stop-color="#6c0093"/><stop offset=".436" stop-color="#71008e"/><stop offset=".462" stop-color="#73008c"/><stop offset=".513" stop-color="#73008c"/><stop offset=".538" stop-color="#72008d"/><stop offset=".564" stop-color="#6f0090"/><stop offset=".59" stop-color="#670098"/><stop offset=".615" stop-color="#5900a6"/><stop offset=".641" stop-color="#4500ba"/><stop offset=".667" stop-color="#3100ce"/><stop offset=".692" stop-color="#2300dc"/><stop offset=".718" stop-color="#1b00e4"/><stop offset=".744" stop-color="#1800e7"/><stop offset=".769" stop-color="#1500ea"/><stop offset=".795" stop-color="#1200ed"/><stop offset=".821" stop-color="#0d00f2"/><stop offset=".846" stop-color="#0700f8"/><stop offset=".872" stop-color="#0100fe"/><stop offset=".897" stop-color="#0505ff"/><stop offset=".923" stop-color="#0a0aff"/><stop offset=".949" stop-color="#1616ff"/><stop offset=".974" stop-color="#3a3aff"/><stop offset="1" stop-color="#7e7eff"/></linearGradient><linearGradient id="h25"><stop offset="0" stop-color="#8585ff"/><stop offset=".026" stop-color="#4040ff"/><stop offset=".051" stop-color="#1b1bff"/><stop offset=".077" stop-color="#1111ff"/><stop offset=".103" stop-color="#0c0cff"/><stop offset=".128" stop-color="#0606ff"/><stop offset=".154" stop-color="#0300fc"/><stop offset=".179" stop-color="#0c00f3"/><stop offset=".205" stop-color="#1500ea"/><stop offset=".231" stop-color="#1d00e2"/><stop offset=".256" stop-color="#2400db"/><stop offset=".282" stop-color="#2b00d4"/><stop offset=".308" stop-color="#3800c7"/><stop offset=".333" stop-color="#4c00b3"/><stop offset=".359" stop-color="#63009c"/><stop offset=".385" stop-color="#770088"/><stop offset=".41" stop-color="#83007c"/><stop offset=".436" stop-color="#890076"/><stop offset=".462" stop-color="#8b0074"/><stop offset=".513" stop-color="#8b0074"/><stop offset=".538" stop-color="#8a0075"/><stop offset=".564" stop-color="#870078"/><stop offset=".59" stop-color="#7e0081"/><stop offset=".615" stop-color="#6e0091"/><stop offset=".641" stop-color="#5800a7"/><stop offset=".667" stop-color="#4200bd"/><stop offset=".692" stop-color="#3300cc"/><stop offset=".718" stop-color="#2a00d5"/><stop offset=".744" stop-color="#2600d9"/><stop offset=".769" stop-color="#2300dc"/><stop offset=".795" stop-color="#2000df"/><stop offset=".821" stop-color="#1b00e4"/><stop offset=".846" stop-color="#1500ea"/><stop offset=".872" stop-color="#0e00f1"/><stop offset=".897" stop-color="#0800f7"/><stop offset=".923" stop-color="#0300fc"/><stop offset=".949" stop-color="#0909ff"/><stop offset=".974" stop-color="#3030ff"/><stop offset="1" stop-color="#7878ff"/></linearGradient><linearGradient id="h26"><stop offset="0" stop-color="#7e7eff"/><stop offset=".026" stop-color="#3535ff"/><stop offset=".051" stop-color="#0e0eff"/><stop offset=".077" stop-color="#0303ff"/><stop offset=".103" stop-color="#0200fd"/><stop offset=".128" stop-color="#0800f7"/><stop offset=".154" stop-color="#1100ee"/><stop offset=".179" stop-color="#1a00e5"/><stop offset=".205" stop-color="#2300dc"/><stop offset=".231" stop-color="#2b00d4"/><stop offset=".256" stop-color="#3200cd"/><stop offset=".282" stop-color="#3a00c5"/><stop offset=".308" stop-color="#4800b7"/><stop offset=".333" stop-color="#5e00a1"/><stop offset=".359" stop-color="#770088"/><stop offset=".385" stop-color="#8c0073"/><stop offset=".41" stop-color="#990066"/><stop offset=".436" stop-color="#a0005f"/><stop offset=".462" stop-color="#a2005d"/><stop offset=".513" stop-color="#a2005d"/><stop offset=".538" stop-color="#a1005e"/><stop offset=".564" stop-color="#9d0062"/><stop offset=".59" stop-color="#94006b"/><stop offset=".615" stop-color="#83007c"/><stop offset=".641" stop-color="#6b0094"/><stop offset=".667" stop-color="#5300ac"/><stop offset=".692" stop-color="#4100be"/><stop offset=".718" stop-color="#3800c7"/><stop offset=".744" stop-color="#3400cb"/><stop offset=".769" stop-color="#3100ce"/><stop offset=".795" stop-color="#2d00d2"/><stop offset=".821" stop-color="#2800d7"/><stop offset=".846" stop-color="#2200dd"/><stop offset=".872" stop-color="#1b00e4"/><stop offset=".897" stop-color="#1500ea"/><stop offset=".923" stop-color="#1000ef"/><stop offset=".949" stop-color="#0300fc"/><stop offset=".974" stop-color="#2626ff"/><stop offset="1" stop-color="#7171ff"/></linearGradient><linearGradient id="h27"><stop offset="0" stop-color="#7676ff"/><stop offset=".026" stop-color="#2a2aff"/><stop offset=".051" stop-color="#0101ff"/><stop offset=".077" stop-color="#0c00f3"/><stop offset=".103" stop-color="#1000ef"/><stop offset=".128" stop-color="#1600e9"/><stop offset=".154" stop-color="#1f00e0"/><stop offset=".179" stop-color="#2800d7"/><stop offset=".205" stop-color="#3000cf"/><stop offset=".231" stop-color="#3800c7"/><stop offset=".256" stop-color="#3f00c0"/><stop offset=".282" stop-color="#4700b8"/><stop offset=".308" stop-color="#5600a9"/><stop offset=".333" stop-color="#6e0091"/><stop offset=".359" stop-color="#890076"/><stop offset=".385" stop-color="#a0005f"/><stop offset=".41" stop-color="#ae0051"/><stop offset=".436" stop-color="#b5004a"/><stop offset=".462" stop-color="#b80047"/><stop offset=".513" stop-color="#b80047"/><stop offset=".538" stop-color="#b70048"/><stop offset=".564" stop-color="#b3004c"/><stop offset=".59" stop-color="#a90056"/><stop offset=".615" stop-color="#960069"/><stop offset=".641" stop-color="#7c0083"/><stop offset=".667" stop-color="#62009d"/><stop offset=".692" stop-color="#4f00b0"/><stop offset=".718" stop-color="#4500ba"/><stop offset=".744" stop-color="#4000bf"/><stop offset=".769" stop-color="#3d00c2"/><stop offset=".795" stop-color="#3900c6"/><stop offset=".821" stop-color="#3400cb"/><stop offset=".846" stop-color="#2e00d1"/><stop offset=".872" stop-color="#2800d7"/><stop offset=".897" stop-color="#2200dd"/><stop offset=".923" stop-color="#1d00e2"/><stop offset=".949" stop-color="#0f00f0"/><stop offset=".974" stop-color="#1c1cff"/><stop offset="1" stop-color="#6b6bff"/></linearGradient><linearGradient id="h28"><stop offset="0" stop-color="#6f6fff"/><stop offset=".026" stop-color="#1f1fff"/><stop offset=".051" stop-color="#0c00f3"/><stop offset=".077" stop-color="#1900e6"/><stop offset=".103" stop-color="#1e00e1"/><stop offset=".128" stop-color="#2400db"/><stop offset=".154" stop-color="#2b00d4"/><stop offset=".179" stop-color="#3400cb"/><stop offset=".205" stop-color="#3c00c3"/><stop offset=".231" stop-color="#4300bc"/><stop offset=".256" stop-color="#4a00b5"/><stop offset=".282" stop-color="#5200ad"/><stop offset=".308" stop-color="#62009d"/><stop offset=".333" stop-color="#7b0084"/><stop offset=".359" stop-color="#990066"/><stop offset=".385" stop-color="#b2004d"/><stop offset=".41" stop-color="#c1003e"/><stop offset=".436" stop-color="#c90036"/><stop offset=".462" stop-color="#cc0033"/><stop offset=".513" stop-color="#cc0033"/><stop offset=".538" stop-color="#cb0034"/><stop offset=".564" stop-color="#c60039"/><stop offset=".59" stop-color="#bb0044"/><stop offset=".615" stop-color="#a70058"/><stop offset=".641" stop-color="#8b0074"/><stop offset=".667" stop-color="#6f0090"/><stop offset=".692" stop-color="#5a00a5"/><stop offset=".718" stop-color="#5000af"/><stop offset=".744" stop-color="#4b00b4"/><stop offset=".769" stop-color="#4700b8"/><stop offset=".795" stop-color="#4300bc"/><stop offset=".821" stop-color="#3f00c0"/><stop offset=".846" stop-color="#3900c6"/><stop offset=".872" stop-color="#3300cc"/><stop offset=".897" stop-color="#2d00d2"/><stop offset=".923" stop-color="#2800d7"/><stop offset=".949" stop-color="#1900e6"/><stop offset=".974" stop-color="#1313ff"/><stop offset="1" stop-color="#6565ff"/></linearGradient><linearGradient id="h29"><stop offset="0" stop-color="#6969ff"/><stop offset=".026" stop-color="#1616ff"/><stop offset=".051" stop-color="#1700e8"/><stop offset=".077" stop-color="#2500da"/><stop offset=".103" stop-color="#2a00d5"/><stop offset=".128" stop-color="#2f00d0"/><stop offset=".154" stop-color="#3600c9"/><stop offset=".179" stop-color="#3e00c1"/><stop offset=".205" stop-color="#4500ba"/><stop offset=".231" stop-color="#4c00b3"/><stop offset=".256" stop-color="#5200ad"/><stop offset=".282" stop-color="#5b00a4"/><stop offset=".308" stop-color="#6c0093"/><stop offset=".333" stop-color="#870078"/><stop offset=".359" stop-color="#a60059"/><stop offset=".385" stop-color="#c1003e"/><stop offset=".41" stop-color="#d2002d"/><stop offset=".436" stop-color="#da0025"/><stop offset=".462" stop-color="#dc0023"/><stop offset=".487" stop-color="#dd0022"/><stop offset=".513" stop-color="#dd0022"/><stop offset=".538" stop-color="#dc0023"/><stop offset=".564" stop-color="#d70028"/><stop offset=".59" stop-color="#cb0034"/><stop offset=".615" stop-color="#b5004a"/><stop offset=".641" stop-color="#970068"/><stop offset=".667" stop-color="#790086"/><stop offset=".692" stop-color="#63009c"/><stop offset=".718" stop-color="#5800a7"/><stop offset=".744" stop-color="#5300ac"/><stop offset=".769" stop-color="#4f00b0"/><stop offset=".795" stop-color="#4b00b4"/><stop offset=".821" stop-color="#4700b8"/><stop offset=".846" stop-color="#4100be"/><stop offset=".872" stop-color="#3c00c3"/><stop offset=".897" stop-color="#3700c8"/><stop offset=".923" stop-color="#3100ce"/><stop offset=".949" stop-color="#2200dd"/><stop offset=".974" stop-color="#0c0cff"/><stop offset="1" stop-color="#6060ff"/></linearGradient><linearGradient id="h30"><stop offset="0" stop-color="#6363ff"/><stop offset=".026" stop-color="#0f0fff"/><stop offset=".051" stop-color="#2000df"/><stop offset=".077" stop-color="#2f00d0"/><stop offset=".103" stop-color="#3400cb"/><stop offset=".128" stop-color="#3900c6"/><stop offset=".154" stop-color="#3f00c0"/><stop offset=".179" stop-color="#4600b9"/><stop offset=".205" stop-color="#4c00b3"/><stop offset=".231" stop-color="#5200ad"/><stop offset=".256" stop-color="#5800a7"/><stop offset=".282" stop-color="#61009e"/><stop offset=".308" stop-color="#73008c"/><stop offset=".333" stop-color="#8f0070"/><stop offset=".359" stop-color="#b1004e"/><stop offset=".385" stop-color="#cd0032"/><stop offset=".41" stop-color="#de0021"/><stop offset=".436" stop-color="#e70018"/><stop offset=".462" stop-color="#ea0015"/><stop offset=".487" stop-color="#eb0014"/><stop offset=".513" stop-color="#eb0014"/><stop offset=".538" stop-color="#e90016"/><stop offset=".564" stop-color="#e4001b"/><stop offset=".59" stop-color="#d70028"/><stop offset=".615" stop-color="#c0003f"/><stop offset=".641" stop-color="#a1005e"/><stop offset=".667" stop-color="#81007e"/><stop offset=".692" stop-color="#6a0095"/><stop offset=".718" stop-color="#5e00a1"/><stop offset=".744" stop-color="#5800a7"/><stop offset=".769" stop-color="#5400ab"/><stop offset=".795" stop-color="#5100ae"/><stop offset=".821" stop-color="#4c00b3"/><stop offset=".846" stop-color="#4700b8"/><stop offset=".872" stop-color="#4200bd"/><stop offset=".897" stop-color="#3e00c1"/><stop offset=".923" stop-color="#3800c7"/><stop offset=".949" stop-color="#2800d7"/><stop offset=".974" stop-color="#0707ff"/><stop offset="1" stop-color="#5d5dff"/></linearGradient><linearGradient id="h31"><stop offset="0" stop-color="#6060ff"/><stop offset=".026" stop-color="#0909ff"/><stop offset=".051" stop-color="#2600d9"/><stop offset=".077" stop-color="#3600c9"/><stop offset=".103" stop-color="#3b00c4"/><stop offset=".128" stop-color="#3f00c0"/><stop offset=".154" stop-color="#4500ba"/><stop offset=".179" stop-color="#4a00b5"/><stop offset=".205" stop-color="#5000af"/><stop offset=".231" stop-color="#5600a9"/><stop offset=".256" stop-color="#5c00a3"/><stop offset=".282" stop-color="#65009a"/><stop offset=".308" stop-color="#770088"/><stop offset=".333" stop-color="#95006a"/><stop offset=".359" stop-color="#b80047"/><stop offset=".385" stop-color="#d5002a"/><stop offset=".41" stop-color="#e80017"/><stop offset=".436" stop-color="#f1000e"/><stop offset=".462" stop-color="#f4000b"/><stop offset=".487" stop-color="#f5000a"/><stop offset=".513" stop-color="#f5000a"/><stop offset=".538" stop-color="#f3000c"/><stop offset=".564" stop-color="#ee0011"/><stop offset=".59" stop-color="#e0001f"/><stop offset=".615" stop-color="#c80037"/><stop offset=".641" stop-color="#a70058"/><stop offset=".667" stop-color="#860079"/><stop offset=".692" stop-color="#6d0092"/><stop offset=".718" stop-color="#61009e"/><stop offset=".744" stop-color="#5b00a4"/><stop offset=".769" stop-color="#5700a8"/><stop offset=".795" stop-color="#5300ac"/><stop offset=".821" stop-color="#4f00b0"/><stop offset=".846" stop-color="#4b00b4"/><stop offset=".872" stop-color="#4600b9"/><stop offset=".897" stop-color="#4200bd"/><stop offset=".923" stop-color="#3c00c3"/><stop offset=".949" stop-color="#2c00d3"/><stop offset=".974" stop-color="#0404ff"/><stop offset="1" stop-color="#5b5bff"/></linearGradient><linearGradient id="h32"><stop offset="0" stop-color="#5e5eff"/><stop offset=".026" stop-color="#0707ff"/><stop offset=".051" stop-color="#2900d6"/><stop offset=".077" stop-color="#3900c6"/><stop offset=".103" stop-color="#3e00c1"/><stop offset=".128" stop-color="#4300bc"/><stop offset=".154" stop-color="#4700b8"/><stop offset=".179" stop-color="#4d00b2"/><stop offset=".205" stop-color="#5200ad"/><stop offset=".231" stop-color="#5700a8"/><stop offset=".256" stop-color="#5c00a3"/><stop offset=".282" stop-color="#660099"/><stop offset=".308" stop-color="#790086"/><stop offset=".333" stop-color="#980067"/><stop offset=".359" stop-color="#bc0043"/><stop offset=".385" stop-color="#db0024"/><stop offset=".41" stop-color="#ee0011"/><stop offset=".436" stop-color="#f80007"/><stop offset=".462" stop-color="#fb0004"/><stop offset=".487" stop-color="#fc0003"/><stop offset=".513" stop-color="#fb0004"/><stop offset=".538" stop-color="#fa0005"/><stop offset=".564" stop-color="#f4000b"/><stop offset=".59" stop-color="#e60019"/><stop offset=".615" stop-color="#cd0032"/><stop offset=".641" stop-color="#ab0054"/><stop offset=".667" stop-color="#880077"/><stop offset=".692" stop-color="#6e0091"/><stop offset=".718" stop-color="#61009e"/><stop offset=".744" stop-color="#5b00a4"/><stop offset=".769" stop-color="#5700a8"/><stop offset=".795" stop-color="#5300ac"/><stop offset=".821" stop-color="#4f00b0"/><stop offset=".846" stop-color="#4b00b4"/><stop offset=".872" stop-color="#4700b8"/><stop offset=".897" stop-color="#4300bc"/><stop offset=".923" stop-color="#3e00c1"/><stop offset=".949" stop-color="#2e00d1"/><stop offset=".974" stop-color="#0303ff"/><stop offset="1" stop-color="#5b5bff"/></linearGradient><linearGradient id="h33"><stop offset="0" stop-color="#5b5bff"/><stop offset=".026" stop-color="#0303ff"/><stop offset=".051" stop-color="#2e00d1"/><stop offset=".077" stop-color="#3e00c1"/><stop offset=".103" stop-color="#4300bc"/><stop offset=".128" stop-color="#4700b8"/><stop offset=".154" stop-color="#4b00b4"/><stop offset=".179" stop-color="#5000af"/><stop offset=".205" stop-color="#5400ab"/><stop offset=".231" stop-color="#5900a6"/><stop offset=".256" stop-color="#5e00a1"/><stop offset=".282" stop-color="#670098"/><stop offset=".308" stop-color="#7a0085"/><stop offset=".333" stop-color="#9a0065"/><stop offset=".359" stop-color="#be0041"/><stop offset=".385" stop-color="#dd0022"/><stop offset=".41" stop-color="#f1000e"/><stop offset=".436" stop-color="#fb0004"/><stop offset=".462" stop-color="#fe0001"/><stop offset=".487" stop-color="#ff0000"/><stop offset=".513" stop-color="#ff0000"/><stop offset=".538" stop-color="#fd0002"/><stop offset=".564" stop-color="#f70008"/><stop offset=".59" stop-color="#e90016"/><stop offset=".615" stop-color="#d0002f"/><stop offset=".641" stop-color="#ad0052"/><stop offset=".667" stop-color="#8a0075"/><stop offset=".692" stop-color="#70008f"/><stop offset=".718" stop-color="#63009c"/><stop offset=".744" stop-color="#5d00a2"/><stop offset=".769" stop-color="#5900a6"/><stop offset=".795" stop-color="#5500aa"/><stop offset=".821" stop-color="#5100ae"/><stop offset=".846" stop-color="#4d00b2"/><stop offset=".872" stop-color="#4a00b5"/><stop offset=".897" stop-color="#4600b9"/><stop offset=".923" stop-color="#4100be"/><stop offset=".949" stop-color="#3000cf"/><stop offset=".974" stop-color="#0101ff"/><stop offset="1" stop-color="#5959ff"/></linearGradient><linearGradient id="h34"><stop offset="0" stop-color="#5959ff"/><stop offset=".026" stop-color="#0000ff"/><stop offset=".051" stop-color="#3100ce"/><stop offset=".077" stop-color="#4200bd"/><stop offset=".103" stop-color="#4700b8"/><stop offset=".128" stop-color="#4a00b5"/><stop offset=".154" stop-color="#4e00b1"/><stop offset=".179" stop-color="#5200ad"/><stop offset=".205" stop-color="#5600a9"/><stop offset=".231" stop-color="#5a00a5"/><stop offset=".256" stop-color="#5f00a0"/><stop offset=".282" stop-color="#680097"/><stop offset=".308" stop-color="#7b0084"/><stop offset=".333" stop-color="#990066"/><stop offset=".359" stop-color="#bd0042"/><stop offset=".385" stop-color="#db0024"/><stop offset=".41" stop-color="#ef0010"/><stop offset=".436" stop-color="#f80007"/><stop offset=".462" stop-color="#fc0003"/><stop offset=".487" stop-color="#fe0001"/><stop offset=".513" stop-color="#fe0001"/><stop offset=".538" stop-color="#fc0003"/><stop offset=".564" stop-color="#f60009"/><stop offset=".59" stop-color="#e80017"/><stop offset=".615" stop-color="#ce0031"/><stop offset=".641" stop-color="#ac0053"/><stop offset=".667" stop-color="#890076"/><stop offset=".692" stop-color="#70008f"/><stop offset=".718" stop-color="#63009c"/><stop offset=".744" stop-color="#5d00a2"/><stop offset=".769" stop-color="#5a00a5"/><stop offset=".795" stop-color="#5600a9"/><stop offset=".821" stop-color="#5200ad"/><stop offset=".846" stop-color="#4f00b0"/><stop offset=".872" stop-color="#4c00b3"/><stop offset=".897" stop-color="#4800b7"/><stop offset=".923" stop-color="#4300bc"/><stop offset=".949" stop-color="#3300cc"/><stop offset=".974" stop-color="#0100fe"/><stop offset="1" stop-color="#5858ff"/></linearGradient><linearGradient id="h35"><stop offset="0" stop-color="#5959ff"/><stop offset=".026" stop-color="#0000ff"/><stop offset=".051" stop-color="#3100ce"/><stop offset=".077" stop-color="#4200bd"/><stop offset=".103" stop-color="#4600b9"/><stop offset=".128" stop-color="#4900b6"/><stop offset=".154" stop-color="#4c00b3"/><stop offset=".179" stop-color="#5000af"/><stop offset=".205" stop-color="#5300ac"/><stop offset=".231" stop-color="#5700a8"/><stop offset=".256" stop-color="#5b00a4"/><stop offset=".282" stop-color="#63009c"/><stop offset=".308" stop-color="#74008b"/><stop offset=".333" stop-color="#90006f"/><stop offset=".359" stop-color="#b0004f"/><stop offset=".385" stop-color="#cc0033"/><stop offset=".41" stop-color="#de0021"/><stop offset=".436" stop-color="#e90016"/><stop offset=".462" stop-color="#f0000f"/><stop offset=".487" stop-color="#f5000a"/><stop offset=".513" stop-color="#f70008"/><stop offset=".538" stop-color="#f5000a"/><stop offset=".564" stop-color="#ec0013"/><stop offset=".59" stop-color="#db0024"/><stop offset=".615" stop-color="#c2003d"/><stop offset=".641" stop-color="#a2005d"/><stop offset=".667" stop-color="#82007d"/><stop offset=".692" stop-color="#6c0093"/><stop offset=".718" stop-color="#60009f"/><stop offset=".744" stop-color="#5a00a5"/><stop offset=".769" stop-color="#5600a9"/><stop offset=".795" stop-color="#5300ac"/><stop offset=".821" stop-color="#5000af"/><stop offset=".846" stop-color="#4d00b2"/><stop offset=".872" stop-color="#4a00b5"/><stop offset=".897" stop-color="#4700b8"/><stop offset=".923" stop-color="#4200bd"/><stop offset=".949" stop-color="#3200cd"/><stop offset=".974" stop-color="#0000ff"/><stop offset="1" stop-color="#5858ff"/></linearGradient><linearGradient id="h36"><stop offset="0" stop-color="#5a5aff"/><stop offset=".026" stop-color="#0202ff"/><stop offset=".051" stop-color="#2e00d1"/><stop offset=".077" stop-color="#3f00c0"/><stop offset=".103" stop-color="#4300bc"/><stop offset=".128" stop-color="#4500ba"/><stop offset=".154" stop-color="#4800b7"/><stop offset=".179" stop-color="#4b00b4"/><stop offset=".205" stop-color="#4e00b1"/><stop offset=".231" stop-color="#5100ae"/><stop offset=".256" stop-color="#5500aa"/><stop offset=".282" stop-color="#5c00a3"/><stop offset=".308" stop-color="#6b0094"/><stop offset=".333" stop-color="#84007b"/><stop offset=".359" stop-color="#a0005f"/><stop offset=".385" stop-color="#b90046"/><stop offset=".41" stop-color="#cb0034"/><stop offset=".436" stop-color="#d70028"/><stop offset=".462" stop-color="#e1001e"/><stop offset=".487" stop-color="#e90016"/><stop offset=".513" stop-color="#ed0012"/><stop offset=".538" stop-color="#ea0015"/><stop offset=".564" stop-color="#de0021"/><stop offset=".59" stop-color="#cc0033"/><stop offset=".615" stop-color="#b3004c"/><stop offset=".641" stop-color="#95006a"/><stop offset=".667" stop-color="#790086"/><stop offset=".692" stop-color="#64009b"/><stop offset=".718" stop-color="#5900a6"/><stop offset=".744" stop-color="#5400ab"/><stop offset=".769" stop-color="#5100ae"/><stop offset=".795" stop-color="#4d00b2"/><stop offset=".821" stop-color="#4b00b4"/><stop offset=".846" stop-color="#4800b7"/><stop offset=".872" stop-color="#4500ba"/><stop offset=".897" stop-color="#4300bc"/><stop offset=".923" stop-color="#3f00c0"/><stop offset=".949" stop-color="#2f00d0"/><stop offset=".974" stop-color="#0202ff"/><stop offset="1" stop-color="#5a5aff"/></linearGradient><linearGradient id="h37"><stop offset="0" stop-color="#5c5cff"/><stop offset=".026" stop-color="#0606ff"/><stop offset=".051" stop-color="#2a00d5"/><stop offset=".077" stop-color="#3900c6"/><stop offset=".103" stop-color="#3d00c2"/><stop offset=".128" stop-color="#3f00c0"/><stop offset=".154" stop-color="#4100be"/><stop offset=".179" stop-color="#4400bb"/><stop offset=".205" stop-color="#4600b9"/><stop offset=".231" stop-color="#4900b6"/><stop offset=".256" stop-color="#4d00b2"/><stop offset=".282" stop-color="#5300ac"/><stop offset=".308" stop-color="#61009e"/><stop offset=".333" stop-color="#760089"/><stop offset=".359" stop-color="#8f0070"/><stop offset=".385" stop-color="#a5005a"/><stop offset=".41" stop-color="#b60049"/><stop offset=".436" stop-color="#c3003c"/><stop offset=".462" stop-color="#cf0030"/><stop offset=".487" stop-color="#db0024"/><stop offset=".513" stop-color="#e1001e"/><stop offset=".538" stop-color="#dd0022"/><stop offset=".564" stop-color="#cf0030"/><stop offset=".59" stop-color="#ba0045"/><stop offset=".615" stop-color="#a2005d"/><stop offset=".641" stop-color="#870078"/><stop offset=".667" stop-color="#6e0091"/><stop offset=".692" stop-color="#5b00a4"/><stop offset=".718" stop-color="#5200ad"/><stop offset=".744" stop-color="#4c00b3"/><stop offset=".769" stop-color="#4900b6"/><stop offset=".795" stop-color="#4600b9"/><stop offset=".821" stop-color="#4400bb"/><stop offset=".846" stop-color="#4100be"/><stop offset=".872" stop-color="#3f00c0"/><stop offset=".897" stop-color="#3d00c2"/><stop offset=".923" stop-color="#3900c6"/><stop offset=".949" stop-color="#2900d6"/><stop offset=".974" stop-color="#0707ff"/><stop offset="1" stop-color="#5d5dff"/></linearGradient><linearGradient id="h38"><stop offset="0" stop-color="#6060ff"/><stop offset=".026" stop-color="#0b0bff"/><stop offset=".051" stop-color="#2400db"/><stop offset=".077" stop-color="#3300cc"/><stop offset=".103" stop-color="#3700c8"/><stop offset=".128" stop-color="#3800c7"/><stop offset=".154" stop-color="#3a00c5"/><stop offset=".179" stop-color="#3c00c3"/><stop offset=".205" stop-color="#3e00c1"/><stop offset=".231" stop-color="#4100be"/><stop offset=".256" stop-color="#4400bb"/><stop offset=".282" stop-color="#4a00b5"/><stop offset=".308" stop-color="#5500aa"/><stop offset=".333" stop-color="#680097"/><stop offset=".359" stop-color="#7d0082"/><stop offset=".385" stop-color="#91006e"/><stop offset=".41" stop-color="#a0005f"/><stop offset=".436" stop-color="#ae0051"/><stop offset=".462" stop-color="#bd0042"/><stop offset=".487" stop-color="#cc0033"/><stop offset=".513" stop-color="#d4002b"/><stop offset=".538" stop-color="#cf0030"/><stop offset=".564" stop-color="#be0041"/><stop offset=".59" stop-color="#a80057"/><stop offset=".615" stop-color="#90006f"/><stop offset=".641" stop-color="#780087"/><stop offset=".667" stop-color="#62009d"/><stop offset=".692" stop-color="#5200ad"/><stop offset=".718" stop-color="#4900b6"/><stop offset=".744" stop-color="#4400bb"/><stop offset=".769" stop-color="#4100be"/><stop offset=".795" stop-color="#3e00c1"/><stop offset=".821" stop-color="#3c00c3"/><stop offset=".846" stop-color="#3a00c5"/><stop offset=".872" stop-color="#3800c7"/><stop offset=".897" stop-color="#3600c9"/><stop offset=".923" stop-color="#3300cc"/><stop offset=".949" stop-color="#2300dc"/><stop offset=".974" stop-color="#0c0cff"/><stop offset="1" stop-color="#6060ff"/></linearGradient><linearGradient id="h39"><stop offset="0" stop-color="#6363ff"/><stop offset=".026" stop-color="#1010ff"/><stop offset=".051" stop-color="#1d00e2"/><stop offset=".077" stop-color="#2c00d3"/><stop offset=".103" stop-color="#3000cf"/><stop offset=".128" stop-color="#3100ce"/><stop offset=".154" stop-color="#3200cd"/><stop offset=".179" stop-color="#3400cb"/><stop offset=".205" stop-color="#3500ca"/><stop offset=".231" stop-color="#3800c7"/><stop offset=".256" stop-color="#3b00c4"/><stop offset=".282" stop-color="#4000bf"/><stop offset=".308" stop-color="#4b00b4"/><stop offset=".333" stop-color="#5b00a4"/><stop offset=".359" stop-color="#6d0092"/><stop offset=".385" stop-color="#7f0080"/><stop offset=".41" stop-color="#8d0072"/><stop offset=".436" stop-color="#9c0063"/><stop offset=".462" stop-color="#ad0052"/><stop offset=".487" stop-color="#bd0042"/><stop offset=".513" stop-color="#c60039"/><stop offset=".538" stop-color="#c1003e"/><stop offset=".564" stop-color="#af0050"/><stop offset=".59" stop-color="#980067"/><stop offset=".615" stop-color="#81007e"/><stop offset=".641" stop-color="#6a0095"/><stop offset=".667" stop-color="#5600a9"/><stop offset=".692" stop-color="#4800b7"/><stop offset=".718" stop-color="#4000bf"/><stop offset=".744" stop-color="#3c00c3"/><stop offset=".769" stop-color="#3900c6"/><stop offset=".795" stop-color="#3600c9"/><stop offset=".821" stop-color="#3400cb"/><stop offset=".846" stop-color="#3200cd"/><stop offset=".872" stop-color="#3100ce"/><stop offset=".897" stop-color="#2f00d0"/><stop offset=".923" stop-color="#2c00d3"/><stop offset=".949" stop-color="#1d00e2"/><stop offset=".974" stop-color="#1111ff"/><stop offset="1" stop-color="#6363ff"/></linearGradient><linearGradient id="h40"><stop offset="0" stop-color="#6666ff"/><stop offset=".026" stop-color="#1515ff"/><stop offset=".051" stop-color="#1800e7"/><stop offset=".077" stop-color="#2600d9"/><stop offset=".103" stop-color="#2900d6"/><stop offset=".128" stop-color="#2a00d5"/><stop offset=".154" stop-color="#2b00d4"/><stop offset=".179" stop-color="#2c00d3"/><stop offset=".205" stop-color="#2d00d2"/><stop offset=".231" stop-color="#3000cf"/><stop offset=".256" stop-color="#3300cc"/><stop offset=".282" stop-color="#3800c7"/><stop offset=".308" stop-color="#4100be"/><stop offset=".333" stop-color="#4f00b0"/><stop offset=".359" stop-color="#60009f"/><stop offset=".385" stop-color="#6f0090"/><stop offset=".41" stop-color="#7d0082"/><stop offset=".436" stop-color="#8c0073"/><stop offset=".462" stop-color="#9e0061"/><stop offset=".487" stop-color="#b0004f"/><stop offset=".513" stop-color="#ba0045"/><stop offset=".538" stop-color="#b4004b"/><stop offset=".564" stop-color="#a1005e"/><stop offset=".59" stop-color="#890076"/><stop offset=".615" stop-color="#73008c"/><stop offset=".641" stop-color="#5e00a1"/><stop offset=".667" stop-color="#4c00b3"/><stop offset=".692" stop-color="#4000bf"/><stop offset=".718" stop-color="#3800c7"/><stop offset=".744" stop-color="#3400cb"/><stop offset=".769" stop-color="#3100ce"/><stop offset=".795" stop-color="#2e00d1"/><stop offset=".821" stop-color="#2d00d2"/><stop offset=".846" stop-color="#2b00d4"/><stop offset=".872" stop-color="#2a00d5"/><stop offset=".897" stop-color="#2900d6"/><stop offset=".923" stop-color="#2600d9"/><stop offset=".949" stop-color="#1700e8"/><stop offset=".974" stop-color="#1515ff"/><stop offset="1" stop-color="#6666ff"/></linearGradient><linearGradient id="h41"><stop offset="0" stop-color="#6969ff"/><stop offset=".026" stop-color="#1919ff"/><stop offset=".051" stop-color="#1200ed"/><stop offset=".077" stop-color="#2000df"/><stop offset=".103" stop-color="#2300dc"/><stop offset=".154" stop-color="#2300dc"/><stop offset=".179" stop-color="#2400db"/><stop offset=".205" stop-color="#2500da"/><stop offset=".231" stop-color="#2700d8"/><stop offset=".256" stop-color="#2a00d5"/><stop offset=".282" stop-color="#3000cf"/><stop offset=".308" stop-color="#3800c7"/><stop offset=".333" stop-color="#4500ba"/><stop offset=".359" stop-color="#5300ac"/><stop offset=".385" stop-color="#61009e"/><stop offset=".41" stop-color="#6e0091"/><stop offset=".436" stop-color="#7c0083"/><stop offset=".462" stop-color="#90006f"/><stop offset=".487" stop-color="#a3005c"/><stop offset=".513" stop-color="#ae0051"/><stop offset=".538" stop-color="#a70058"/><stop offset=".564" stop-color="#94006b"/><stop offset=".59" stop-color="#7c0083"/><stop offset=".615" stop-color="#660099"/><stop offset=".641" stop-color="#5300ac"/><stop offset=".667" stop-color="#4300bc"/><stop offset=".692" stop-color="#3800c7"/><stop offset=".718" stop-color="#3100ce"/><stop offset=".744" stop-color="#2c00d3"/><stop offset=".769" stop-color="#2900d6"/><stop offset=".795" stop-color="#2700d8"/><stop offset=".821" stop-color="#2500da"/><stop offset=".846" stop-color="#2400db"/><stop offset=".872" stop-color="#2400db"/><stop offset=".897" stop-color="#2300dc"/><stop offset=".923" stop-color="#2000df"/><stop offset=".949" stop-color="#1200ed"/><stop offset=".974" stop-color="#1a1aff"/><stop offset="1" stop-color="#6969ff"/></linearGradient><linearGradient id="h42"><stop offset="0" stop-color="#6c6cff"/><stop offset=".026" stop-color="#1e1eff"/><stop offset=".051" stop-color="#0d00f2"/><stop offset=".077" stop-color="#1a00e5"/><stop offset=".103" stop-color="#1c00e3"/><stop offset=".128" stop-color="#1c00e3"/><stop offset=".154" stop-color="#1b00e4"/><stop offset=".179" stop-color="#1b00e4"/><stop offset=".205" stop-color="#1c00e3"/><stop offset=".231" stop-color="#1e00e1"/><stop offset=".256" stop-color="#2200dd"/><stop offset=".282" stop-color="#2700d8"/><stop offset=".308" stop-color="#2f00d0"/><stop offset=".333" stop-color="#3a00c5"/><stop offset=".359" stop-color="#4700b8"/><stop offset=".385" stop-color="#5300ac"/><stop offset=".41" stop-color="#5f00a0"/><stop offset=".436" stop-color="#6e0091"/><stop offset=".462" stop-color="#82007d"/><stop offset=".487" stop-color="#970068"/><stop offset=".513" stop-color="#a2005d"/><stop offset=".538" stop-color="#9c0063"/><stop offset=".564" stop-color="#870078"/><stop offset=".59" stop-color="#6f0090"/><stop offset=".615" stop-color="#5900a6"/><stop offset=".641" stop-color="#4800b7"/><stop offset=".667" stop-color="#3a00c5"/><stop offset=".692" stop-color="#3000cf"/><stop offset=".718" stop-color="#2900d6"/><stop offset=".744" stop-color="#2500da"/><stop offset=".769" stop-color="#2100de"/><stop offset=".795" stop-color="#1f00e0"/><stop offset=".821" stop-color="#1e00e1"/><stop offset=".846" stop-color="#1d00e2"/><stop offset=".897" stop-color="#1d00e2"/><stop offset=".923" stop-color="#1a00e5"/><stop offset=".949" stop-color="#0c00f3"/><stop offset=".974" stop-color="#1e1eff"/><stop offset="1" stop-color="#6c6cff"/></linearGradient><linearGradient id="h43"><stop offset="0" stop-color="#6e6eff"/><stop offset=".026" stop-color="#2222ff"/><stop offset=".051" stop-color="#0700f8"/><stop offset=".077" stop-color="#1400eb"/><stop offset=".103" stop-color="#1600e9"/><stop offset=".128" stop-color="#1500ea"/><stop offset=".154" stop-color="#1300ec"/><stop offset=".179" stop-color="#1200ed"/><stop offset=".205" stop-color="#1200ed"/><stop offset=".231" stop-color="#1500ea"/><stop offset=".256" stop-color="#1900e6"/><stop offset=".282" stop-color="#1f00e0"/><stop offset=".308" stop-color="#2700d8"/><stop offset=".333" stop-color="#3000cf"/><stop offset=".359" stop-color="#3b00c4"/><stop offset=".385" stop-color="#4600b9"/><stop offset=".41" stop-color="#5100ae"/><stop offset=".436" stop-color="#60009f"/><stop offset=".462" stop-color="#75008a"/><stop offset=".487" stop-color="#8b0074"/><stop offset=".513" stop-color="#970068"/><stop offset=".538" stop-color="#90006f"/><stop offset=".564" stop-color="#7b0084"/><stop offset=".59" stop-color="#62009d"/><stop offset=".615" stop-color="#4d00b2"/><stop offset=".641" stop-color="#3d00c2"/><stop offset=".667" stop-color="#3100ce"/><stop offset=".692" stop-color="#2800d7"/><stop offset=".718" stop-color="#2100de"/><stop offset=".744" stop-color="#1d00e2"/><stop offset=".769" stop-color="#1900e6"/><stop offset=".795" stop-color="#1700e8"/><stop offset=".821" stop-color="#1600e9"/><stop offset=".846" stop-color="#1600e9"/><stop offset=".872" stop-color="#1700e8"/><stop offset=".897" stop-color="#1700e8"/><stop offset=".923" stop-color="#1400eb"/><stop offset=".949" stop-color="#0700f8"/><stop offset=".974" stop-color="#2323ff"/><stop offset="1" stop-color="#6f6fff"/></linearGradient><linearGradient id="h44"><stop offset="0" stop-color="#7171ff"/><stop offset=".026" stop-color="#2626ff"/><stop offset=".051" stop-color="#0200fd"/><stop offset=".077" stop-color="#0f00f0"/><stop offset=".103" stop-color="#1000ef"/><stop offset=".128" stop-color="#0e00f1"/><stop offset=".154" stop-color="#0b00f4"/><stop offset=".179" stop-color="#0900f6"/><stop offset=".205" stop-color="#0900f6"/><stop offset=".231" stop-color="#0c00f3"/><stop offset=".256" stop-color="#1100ee"/><stop offset=".282" stop-color="#1800e7"/><stop offset=".308" stop-color="#1f00e0"/><stop offset=".333" stop-color="#2800d7"/><stop offset=".359" stop-color="#3200cd"/><stop offset=".385" stop-color="#3c00c3"/><stop offset=".41" stop-color="#4700b8"/><stop offset=".436" stop-color="#5600a9"/><stop offset=".462" stop-color="#6b0094"/><stop offset=".487" stop-color="#82007d"/><stop offset=".513" stop-color="#8e0071"/><stop offset=".538" stop-color="#870078"/><stop offset=".564" stop-color="#71008e"/><stop offset=".59" stop-color="#5900a6"/><stop offset=".615" stop-color="#4400bb"/><stop offset=".641" stop-color="#3500ca"/><stop offset=".667" stop-color="#2900d6"/><stop offset=".692" stop-color="#2100de"/><stop offset=".718" stop-color="#1a00e5"/><stop offset=".744" stop-color="#1500ea"/><stop offset=".769" stop-color="#1100ee"/><stop offset=".795" stop-color="#0f00f0"/><stop offset=".846" stop-color="#0f00f0"/><stop offset=".872" stop-color="#1000ef"/><stop offset=".897" stop-color="#1100ee"/><stop offset=".923" stop-color="#0f00f0"/><stop offset=".949" stop-color="#0200fd"/><stop offset=".974" stop-color="#2727ff"/><stop offset="1" stop-color="#7272ff"/></linearGradient><linearGradient id="h45"><stop offset="0" stop-color="#7474ff"/><stop offset=".026" stop-color="#2a2aff"/><stop offset=".051" stop-color="#0202ff"/><stop offset=".077" stop-color="#0900f6"/><stop offset=".103" stop-color="#0a00f5"/><stop offset=".128" stop-color="#0800f7"/><stop offset=".154" stop-color="#0400fb"/><stop offset=".179" stop-color="#0100fe"/><stop offset=".205" stop-color="#0100fe"/><stop offset=".231" stop-color="#0400fb"/><stop offset=".256" stop-color="#0a00f5"/><stop offset=".282" stop-color="#1100ee"/><stop offset=".308" stop-color="#1800e7"/><stop offset=".333" stop-color="#2100de"/><stop offset=".359" stop-color="#2a00d5"/><stop offset=".385" stop-color="#3300cc"/><stop offset=".41" stop-color="#3d00c2"/><stop offset=".436" stop-color="#4d00b2"/><stop offset=".462" stop-color="#62009d"/><stop offset=".487" stop-color="#790086"/><stop offset=".513" stop-color="#85007a"/><stop offset=".538" stop-color="#7e0081"/><stop offset=".564" stop-color="#680097"/><stop offset=".59" stop-color="#5000af"/><stop offset=".615" stop-color="#3c00c3"/><stop offset=".641" stop-color="#2d00d2"/><stop offset=".667" stop-color="#2300dc"/><stop offset=".692" stop-color="#1a00e5"/><stop offset=".718" stop-color="#1400eb"/><stop offset=".744" stop-color="#0e00f1"/><stop offset=".769" stop-color="#0a00f5"/><stop offset=".795" stop-color="#0800f7"/><stop offset=".821" stop-color="#0800f7"/><stop offset=".846" stop-color="#0900f6"/><stop offset=".872" stop-color="#0b00f4"/><stop offset=".897" stop-color="#0b00f4"/><stop offset=".923" stop-color="#0a00f5"/><stop offset=".949" stop-color="#0303ff"/><stop offset=".974" stop-color="#2b2bff"/><stop offset="1" stop-color="#7474ff"/></linearGradient><linearGradient id="h46"><stop offset="0" stop-color="#7676ff"/><stop offset=".026" stop-color="#2e2eff"/><stop offset=".051" stop-color="#0707ff"/><stop offset=".077" stop-color="#0500fa"/><stop offset=".103" stop-color="#0500fa"/><stop offset=".128" stop-color="#0200fd"/><stop offset=".154" stop-color="#0202ff"/><stop offset=".179" stop-color="#0505ff"/><stop offset=".205" stop-color="#0606ff"/><stop offset=".231" stop-color="#0303ff"/><stop offset=".256" stop-color="#0300fc"/><stop offset=".282" stop-color="#0b00f4"/><stop offset=".308" stop-color="#1200ed"/><stop offset=".333" stop-color="#1a00e5"/><stop offset=".359" stop-color="#2300dc"/><stop offset=".385" stop-color="#2b00d4"/><stop offset=".41" stop-color="#3500ca"/><stop offset=".436" stop-color="#4400bb"/><stop offset=".462" stop-color="#5a00a5"/><stop offset=".487" stop-color="#71008e"/><stop offset=".513" stop-color="#7d0082"/><stop offset=".538" stop-color="#760089"/><stop offset=".564" stop-color="#60009f"/><stop offset=".59" stop-color="#4800b7"/><stop offset=".615" stop-color="#3400cb"/><stop offset=".641" stop-color="#2600d9"/><stop offset=".667" stop-color="#1c00e3"/><stop offset=".692" stop-color="#1500ea"/><stop offset=".718" stop-color="#0e00f1"/><stop offset=".744" stop-color="#0800f7"/><stop offset=".769" stop-color="#0400fb"/><stop offset=".795" stop-color="#0200fd"/><stop offset=".821" stop-color="#0200fd"/><stop offset=".846" stop-color="#0300fc"/><stop offset=".872" stop-color="#0500fa"/><stop offset=".897" stop-color="#0700f8"/><stop offset=".923" stop-color="#0500fa"/><stop offset=".949" stop-color="#0707ff"/><stop offset=".974" stop-color="#2e2eff"/><stop offset="1" stop-color="#7777ff"/></linearGradient><linearGradient id="h47"><stop offset="0" stop-color="#7878ff"/><stop offset=".026" stop-color="#3030ff"/><stop offset=".051" stop-color="#0a0aff"/><stop offset=".077" stop-color="#0200fd"/><stop offset=".103" stop-color="#0200fd"/><stop offset=".128" stop-color="#0101ff"/><stop offset=".154" stop-color="#0606ff"/><stop offset=".179" stop-color="#0909ff"/><stop offset=".205" stop-color="#0a0aff"/><stop offset=".231" stop-color="#0707ff"/><stop offset=".256" stop-color="#0101ff"/><stop offset=".282" stop-color="#0700f8"/><stop offset=".308" stop-color="#0e00f1"/><stop offset=".333" stop-color="#1500ea"/><stop offset=".359" stop-color="#1d00e2"/><stop offset=".385" stop-color="#2400db"/><stop offset=".41" stop-color="#2e00d1"/><stop offset=".436" stop-color="#3d00c2"/><stop offset=".462" stop-color="#5300ac"/><stop offset=".487" stop-color="#6b0094"/><stop offset=".513" stop-color="#770088"/><stop offset=".538" stop-color="#70008f"/><stop offset=".564" stop-color="#5a00a5"/><stop offset=".59" stop-color="#4100be"/><stop offset=".615" stop-color="#2e00d1"/><stop offset=".641" stop-color="#2100de"/><stop offset=".667" stop-color="#1800e7"/><stop offset=".692" stop-color="#1000ef"/><stop offset=".718" stop-color="#0a00f5"/><stop offset=".744" stop-color="#0400fb"/><stop offset=".769" stop-color="#0101ff"/><stop offset=".795" stop-color="#0303ff"/><stop offset=".821" stop-color="#0202ff"/><stop offset=".846" stop-color="#0101ff"/><stop offset=".872" stop-color="#0200fd"/><stop offset=".897" stop-color="#0300fc"/><stop offset=".923" stop-color="#0200fd"/><stop offset=".949" stop-color="#0a0aff"/><stop offset=".974" stop-color="#3131ff"/><stop offset="1" stop-color="#7878ff"/></linearGradient><linearGradient id="h48"><stop offset="0" stop-color="#7878ff"/><stop offset=".026" stop-color="#3232ff"/><stop offset=".051" stop-color="#0b0bff"/><stop offset=".077" stop-color="#0000ff"/><stop offset=".103" stop-color="#0100fe"/><stop offset=".128" stop-color="#0202ff"/><stop offset=".154" stop-color="#0707ff"/><stop offset=".179" stop-color="#0a0aff"/><stop offset=".205" stop-color="#0b0bff"/><stop offset=".231" stop-color="#0808ff"/><stop offset=".256" stop-color="#0202ff"/><stop offset=".282" stop-color="#0500fa"/><stop offset=".308" stop-color="#0c00f3"/><stop offset=".333" stop-color="#1200ed"/><stop offset=".359" stop-color="#1900e6"/><stop offset=".385" stop-color="#2000df"/><stop offset=".41" stop-color="#2900d6"/><stop offset=".436" stop-color="#3800c7"/><stop offset=".462" stop-color="#4f00b0"/><stop offset=".487" stop-color="#660099"/><stop offset=".513" stop-color="#73008c"/><stop offset=".538" stop-color="#6c0093"/><stop offset=".564" stop-color="#5500aa"/><stop offset=".59" stop-color="#3d00c2"/><stop offset=".615" stop-color="#2a00d5"/><stop offset=".641" stop-color="#1d00e2"/><stop offset=".667" stop-color="#1400eb"/><stop offset=".692" stop-color="#0e00f1"/><stop offset=".718" stop-color="#0700f8"/><stop offset=".744" stop-color="#0200fd"/><stop offset=".769" stop-color="#0303ff"/><stop offset=".795" stop-color="#0505ff"/><stop offset=".821" stop-color="#0404ff"/><stop offset=".846" stop-color="#0202ff"/><stop offset=".872" stop-color="#0000ff"/><stop offset=".897" stop-color="#0100fe"/><stop offset=".923" stop-color="#0000ff"/><stop offset=".949" stop-color="#0c0cff"/><stop offset=".974" stop-color="#3232ff"/><stop offset="1" stop-color="#7979ff"/></linearGradient><linearGradient id="h49"><stop offset="0" stop-color="#7878ff"/><stop offset=".026" stop-color="#3232ff"/><stop offset=".051" stop-color="#0b0bff"/><stop offset=".077" stop-color="#0000ff"/><stop offset=".103" stop-color="#0100fe"/><stop offset=".128" stop-color="#0202ff"/><stop offset=".154" stop-color="#0505ff"/><stop offset=".179" stop-color="#0808ff"/><stop offset=".205" stop-color="#0909ff"/><stop offset=".231" stop-color="#0606ff"/><stop offset=".256" stop-color="#0101ff"/><stop offset=".282" stop-color="#0500fa"/><stop offset=".308" stop-color="#0b00f4"/><stop offset=".333" stop-color="#1100ee"/><stop offset=".359" stop-color="#1700e8"/><stop offset=".385" stop-color="#1e00e1"/><stop offset=".41" stop-color="#2700d8"/><stop offset=".436" stop-color="#3600c9"/><stop offset=".462" stop-color="#4c00b3"/><stop offset=".487" stop-color="#64009b"/><stop offset=".513" stop-color="#70008f"/><stop offset=".538" stop-color="#690096"/><stop offset=".564" stop-color="#5300ac"/><stop offset=".59" stop-color="#3a00c5"/><stop offset=".615" stop-color="#2700d8"/><stop offset=".641" stop-color="#1b00e4"/><stop offset=".667" stop-color="#1300ec"/><stop offset=".692" stop-color="#0d00f2"/><stop offset=".718" stop-color="#0700f8"/><stop offset=".744" stop-color="#0200fd"/><stop offset=".769" stop-color="#0202ff"/><stop offset=".795" stop-color="#0404ff"/><stop offset=".821" stop-color="#0404ff"/><stop offset=".846" stop-color="#0202ff"/><stop offset=".872" stop-color="#0000ff"/><stop offset=".897" stop-color="#0100fe"/><stop offset=".923" stop-color="#0000ff"/><stop offset=".949" stop-color="#0c0cff"/><stop offset=".974" stop-color="#3333ff"/><stop offset="1" stop-color="#7979ff"/></linearGradient><linearGradient id="h50"><stop offset="0" stop-color="#7878ff"/><stop offset=".026" stop-color="#3131ff"/><stop offset=".051" stop-color="#0a0aff"/><stop offset=".077" stop-color="#0100fe"/><stop offset=".103" stop-color="#0200fd"/><stop offset=".128" stop-color="#0000ff"/><stop offset=".154" stop-color="#0202ff"/><stop offset=".179" stop-color="#0404ff"/><stop offset=".205" stop-color="#0505ff"/><stop offset=".231" stop-color="#0303ff"/><stop offset=".256" stop-color="#0200fd"/><stop offset=".282" stop-color="#0700f8"/><stop offset=".308" stop-color="#0c00f3"/><stop offset=".333" stop-color="#1100ee"/><stop offset=".359" stop-color="#1600e9"/><stop offset=".385" stop-color="#1c00e3"/><stop offset=".41" stop-color="#2500da"/><stop offset=".436" stop-color="#3400cb"/><stop offset=".462" stop-color="#4b00b4"/><stop offset=".487" stop-color="#63009c"/><stop offset=".513" stop-color="#6f0090"/><stop offset=".538" stop-color="#680097"/><stop offset=".564" stop-color="#5200ad"/><stop offset=".59" stop-color="#3900c6"/><stop offset=".615" stop-color="#2600d9"/><stop offset=".641" stop-color="#1a00e5"/><stop offset=".667" stop-color="#1300ec"/><stop offset=".692" stop-color="#0d00f2"/><stop offset=".718" stop-color="#0700f8"/><stop offset=".744" stop-color="#0300fc"/><stop offset=".769" stop-color="#0101ff"/><stop offset=".795" stop-color="#0303ff"/><stop offset=".821" stop-color="#0303ff"/><stop offset=".846" stop-color="#0101ff"/><stop offset=".872" stop-color="#0000ff"/><stop offset=".897" stop-color="#0200fd"/><stop offset=".923" stop-color="#0000ff"/><stop offset=".949" stop-color="#0b0bff"/><stop offset=".974" stop-color="#3232ff"/><stop offset="1" stop-color="#7979ff"/></linearGradient><linearGradient id="h51"><stop offset="0" stop-color="#7777ff"/><stop offset=".026" stop-color="#3030ff"/><stop offset=".051" stop-color="#0909ff"/><stop offset=".077" stop-color="#0300fc"/><stop offset=".103" stop-color="#0400fb"/><stop offset=".128" stop-color="#0300fc"/><stop offset=".154" stop-color="#0100fe"/><stop offset=".179" stop-color="#0000ff"/><stop offset=".205" stop-color="#0000ff"/><stop offset=".231" stop-color="#0200fd"/><stop offset=".256" stop-color="#0500fa"/><stop offset=".282" stop-color="#0900f6"/><stop offset=".308" stop-color="#0d00f2"/><stop offset=".333" stop-color="#1200ed"/><stop offset=".359" stop-color="#1700e8"/><stop offset=".385" stop-color="#1c00e3"/><stop offset=".41" stop-color="#2500da"/><stop offset=".436" stop-color="#3400cb"/><stop offset=".462" stop-color="#4b00b4"/><stop offset=".487" stop-color="#63009c"/><stop offset=".513" stop-color="#70008f"/><stop offset=".538" stop-color="#680097"/><stop offset=".564" stop-color="#5200ad"/><stop offset=".59" stop-color="#3900c6"/><stop offset=".615" stop-color="#2600d9"/><stop offset=".641" stop-color="#1b00e4"/><stop offset=".667" stop-color="#1300ec"/><stop offset=".692" stop-color="#0e00f1"/><stop offset=".718" stop-color="#0900f6"/><stop offset=".744" stop-color="#0500fa"/><stop offset=".769" stop-color="#0200fd"/><stop offset=".795" stop-color="#0000ff"/><stop offset=".821" stop-color="#0000ff"/><stop offset=".846" stop-color="#0100fe"/><stop offset=".872" stop-color="#0200fd"/><stop offset=".897" stop-color="#0300fc"/><stop offset=".923" stop-color="#0200fd"/><stop offset=".949" stop-color="#0a0aff"/><stop offset=".974" stop-color="#3131ff"/><stop offset="1" stop-color="#7878ff"/></linearGradient><linearGradient id="h52"><stop offset="0" stop-color="#7676ff"/><stop offset=".026" stop-color="#2e2eff"/><stop offset=".051" stop-color="#0606ff"/><stop offset=".077" stop-color="#0500fa"/><stop offset=".103" stop-color="#0700f8"/><stop offset=".128" stop-color="#0600f9"/><stop offset=".154" stop-color="#0500fa"/><stop offset=".205" stop-color="#0500fa"/><stop offset=".231" stop-color="#0600f9"/><stop offset=".256" stop-color="#0900f6"/><stop offset=".282" stop-color="#0c00f3"/><stop offset=".308" stop-color="#1000ef"/><stop offset=".333" stop-color="#1300ec"/><stop offset=".359" stop-color="#1800e7"/><stop offset=".385" stop-color="#1d00e2"/><stop offset=".41" stop-color="#2600d9"/><stop offset=".436" stop-color="#3500ca"/><stop offset=".462" stop-color="#4b00b4"/><stop offset=".487" stop-color="#64009b"/><stop offset=".513" stop-color="#71008e"/><stop offset=".538" stop-color="#690096"/><stop offset=".564" stop-color="#5200ad"/><stop offset=".59" stop-color="#3900c6"/><stop offset=".615" stop-color="#2700d8"/><stop offset=".641" stop-color="#1b00e4"/><stop offset=".667" stop-color="#1400eb"/><stop offset=".692" stop-color="#0f00f0"/><stop offset=".718" stop-color="#0b00f4"/><stop offset=".744" stop-color="#0700f8"/><stop offset=".769" stop-color="#0400fb"/><stop offset=".795" stop-color="#0300fc"/><stop offset=".846" stop-color="#0300fc"/><stop offset=".872" stop-color="#0400fb"/><stop offset=".897" stop-color="#0500fa"/><stop offset=".923" stop-color="#0400fb"/><stop offset=".949" stop-color="#0808ff"/><stop offset=".974" stop-color="#2f2fff"/><stop offset="1" stop-color="#7777ff"/></linearGradient><linearGradient id="h53"><stop offset="0" stop-color="#7474ff"/><stop offset=".026" stop-color="#2b2bff"/><stop offset=".051" stop-color="#0404ff"/><stop offset=".077" stop-color="#0900f6"/><stop offset=".103" stop-color="#0a00f5"/><stop offset=".154" stop-color="#0a00f5"/><stop offset=".179" stop-color="#0900f6"/><stop offset=".205" stop-color="#0a00f5"/><stop offset=".231" stop-color="#0b00f4"/><stop offset=".256" stop-color="#0d00f2"/><stop offset=".282" stop-color="#1000ef"/><stop offset=".308" stop-color="#1300ec"/><stop offset=".333" stop-color="#1600e9"/><stop offset=".359" stop-color="#1a00e5"/><stop offset=".385" stop-color="#1f00e0"/><stop offset=".41" stop-color="#2800d7"/><stop offset=".436" stop-color="#3700c8"/><stop offset=".462" stop-color="#4d00b2"/><stop offset=".487" stop-color="#660099"/><stop offset=".513" stop-color="#73008c"/><stop offset=".538" stop-color="#6b0094"/><stop offset=".564" stop-color="#5400ab"/><stop offset=".59" stop-color="#3b00c4"/><stop offset=".615" stop-color="#2800d7"/><stop offset=".641" stop-color="#1d00e2"/><stop offset=".667" stop-color="#1600e9"/><stop offset=".692" stop-color="#1100ee"/><stop offset=".718" stop-color="#0d00f2"/><stop offset=".744" stop-color="#0a00f5"/><stop offset=".769" stop-color="#0700f8"/><stop offset=".795" stop-color="#0600f9"/><stop offset=".846" stop-color="#0600f9"/><stop offset=".872" stop-color="#0700f8"/><stop offset=".897" stop-color="#0700f8"/><stop offset=".923" stop-color="#0600f9"/><stop offset=".949" stop-color="#0606ff"/><stop offset=".974" stop-color="#2d2dff"/><stop offset="1" stop-color="#7676ff"/></linearGradient><linearGradient id="h54"><stop offset="0" stop-color="#7272ff"/><stop offset=".026" stop-color="#2929ff"/><stop offset=".051" stop-color="#0000ff"/><stop offset=".077" stop-color="#0c00f3"/><stop offset=".103" stop-color="#0e00f1"/><stop offset=".179" stop-color="#0e00f1"/><stop offset=".205" stop-color="#0f00f0"/><stop offset=".231" stop-color="#1000ef"/><stop offset=".256" stop-color="#1100ee"/><stop offset=".282" stop-color="#1400eb"/><stop offset=".308" stop-color="#1600e9"/><stop offset=".333" stop-color="#1900e6"/><stop offset=".359" stop-color="#1d00e2"/><stop offset=".385" stop-color="#2200dd"/><stop offset=".41" stop-color="#2b00d4"/><stop offset=".436" stop-color="#3a00c5"/><stop offset=".462" stop-color="#5000af"/><stop offset=".487" stop-color="#680097"/><stop offset=".513" stop-color="#75008a"/><stop offset=".538" stop-color="#6e0091"/><stop offset=".564" stop-color="#5700a8"/><stop offset=".59" stop-color="#3e00c1"/><stop offset=".615" stop-color="#2b00d4"/><stop offset=".641" stop-color="#2000df"/><stop offset=".667" stop-color="#1900e6"/><stop offset=".692" stop-color="#1400eb"/><stop offset=".718" stop-color="#1000ef"/><stop offset=".744" stop-color="#0d00f2"/><stop offset=".769" stop-color="#0a00f5"/><stop offset=".795" stop-color="#0900f6"/><stop offset=".846" stop-color="#0900f6"/><stop offset=".872" stop-color="#0a00f5"/><stop offset=".897" stop-color="#0a00f5"/><stop offset=".923" stop-color="#0900f6"/><stop offset=".949" stop-color="#0303ff"/><stop offset=".974" stop-color="#2b2bff"/><stop offset="1" stop-color="#7474ff"/></linearGradient><linearGradient id="h55"><stop offset="0" stop-color="#7070ff"/><stop offset=".026" stop-color="#2626ff"/><stop offset=".051" stop-color="#0300fc"/><stop offset=".077" stop-color="#1000ef"/><stop offset=".103" stop-color="#1200ed"/><stop offset=".154" stop-color="#1200ed"/><stop offset=".179" stop-color="#1300ec"/><stop offset=".205" stop-color="#1300ec"/><stop offset=".231" stop-color="#1400eb"/><stop offset=".256" stop-color="#1600e9"/><stop offset=".282" stop-color="#1800e7"/><stop offset=".308" stop-color="#1a00e5"/><stop offset=".333" stop-color="#1d00e2"/><stop offset=".359" stop-color="#2100de"/><stop offset=".385" stop-color="#2600d9"/><stop offset=".41" stop-color="#2e00d1"/><stop offset=".436" stop-color="#3d00c2"/><stop offset=".462" stop-color="#5400ab"/><stop offset=".487" stop-color="#6b0094"/><stop offset=".513" stop-color="#780087"/><stop offset=".538" stop-color="#71008e"/><stop offset=".564" stop-color="#5a00a5"/><stop offset=".59" stop-color="#4100be"/><stop offset=".615" stop-color="#2e00d1"/><stop offset=".641" stop-color="#2300dc"/><stop offset=".667" stop-color="#1c00e3"/><stop offset=".692" stop-color="#1700e8"/><stop offset=".718" stop-color="#1300ec"/><stop offset=".744" stop-color="#1000ef"/><stop offset=".769" stop-color="#0e00f1"/><stop offset=".795" stop-color="#0c00f3"/><stop offset=".846" stop-color="#0c00f3"/><stop offset=".872" stop-color="#0d00f2"/><stop offset=".897" stop-color="#0e00f1"/><stop offset=".923" stop-color="#0c00f3"/><stop offset=".949" stop-color="#0000ff"/><stop offset=".974" stop-color="#2828ff"/><stop offset="1" stop-color="#7272ff"/></linearGradient><linearGradient id="h56"><stop offset="0" stop-color="#6e6eff"/><stop offset=".026" stop-color="#2222ff"/><stop offset=".051" stop-color="#0700f8"/><stop offset=".077" stop-color="#1400eb"/><stop offset=".103" stop-color="#1600e9"/><stop offset=".128" stop-color="#1700e8"/><stop offset=".179" stop-color="#1700e8"/><stop offset=".205" stop-color="#1800e7"/><stop offset=".231" stop-color="#1900e6"/><stop offset=".256" stop-color="#1a00e5"/><stop offset=".282" stop-color="#1c00e3"/><stop offset=".308" stop-color="#1e00e1"/><stop offset=".333" stop-color="#2100de"/><stop offset=".359" stop-color="#2500da"/><stop offset=".385" stop-color="#2a00d5"/><stop offset=".41" stop-color="#3200cd"/><stop offset=".436" stop-color="#4100be"/><stop offset=".462" stop-color="#5700a8"/><stop offset=".487" stop-color="#6f0090"/><stop offset=".513" stop-color="#7b0084"/><stop offset=".538" stop-color="#74008b"/><stop offset=".564" stop-color="#5d00a2"/><stop offset=".59" stop-color="#4400bb"/><stop offset=".615" stop-color="#3100ce"/><stop offset=".641" stop-color="#2600d9"/><stop offset=".667" stop-color="#1f00e0"/><stop offset=".692" stop-color="#1a00e5"/><stop offset=".718" stop-color="#1600e9"/><stop offset=".744" stop-color="#1300ec"/><stop offset=".769" stop-color="#1000ef"/><stop offset=".795" stop-color="#0f00f0"/><stop offset=".846" stop-color="#0f00f0"/><stop offset=".872" stop-color="#1000ef"/><stop offset=".897" stop-color="#1100ee"/><stop offset=".923" stop-color="#1000ef"/><stop offset=".949" stop-color="#0400fb"/><stop offset=".974" stop-color="#2525ff"/><stop offset="1" stop-color="#7070ff"/></linearGradient><linearGradient id="h57"><stop offset="0" stop-color="#6c6cff"/><stop offset=".026" stop-color="#1f1fff"/><stop offset=".051" stop-color="#0b00f4"/><stop offset=".077" stop-color="#1800e7"/><stop offset=".103" stop-color="#1a00e5"/><stop offset=".128" stop-color="#1b00e4"/><stop offset=".179" stop-color="#1b00e4"/><stop offset=".205" stop-color="#1c00e3"/><stop offset=".231" stop-color="#1d00e2"/><stop offset=".256" stop-color="#1e00e1"/><stop offset=".282" stop-color="#2000df"/><stop offset=".308" stop-color="#2200dd"/><stop offset=".333" stop-color="#2500da"/><stop offset=".359" stop-color="#2900d6"/><stop offset=".385" stop-color="#2e00d1"/><stop offset=".41" stop-color="#3600c9"/><stop offset=".436" stop-color="#4400bb"/><stop offset=".462" stop-color="#5a00a5"/><stop offset=".487" stop-color="#72008d"/><stop offset=".513" stop-color="#7e0081"/><stop offset=".538" stop-color="#770088"/><stop offset=".564" stop-color="#60009f"/><stop offset=".59" stop-color="#4700b8"/><stop offset=".615" stop-color="#3400cb"/><stop offset=".641" stop-color="#2900d6"/><stop offset=".667" stop-color="#2200dd"/><stop offset=".692" stop-color="#1d00e2"/><stop offset=".718" stop-color="#1800e7"/><stop offset=".744" stop-color="#1500ea"/><stop offset=".769" stop-color="#1300ec"/><stop offset=".795" stop-color="#1200ed"/><stop offset=".846" stop-color="#1200ed"/><stop offset=".872" stop-color="#1300ec"/><stop offset=".897" stop-color="#1400eb"/><stop offset=".923" stop-color="#1300ec"/><stop offset=".949" stop-color="#0700f8"/><stop offset=".974" stop-color="#2222ff"/><stop offset="1" stop-color="#6f6fff"/></linearGradient><linearGradient id="h58"><stop offset="0" stop-color="#6b6bff"/><stop offset=".026" stop-color="#1c1cff"/><stop offset=".051" stop-color="#0e00f1"/><stop offset=".077" stop-color="#1b00e4"/><stop offset=".103" stop-color="#1e00e1"/><stop offset=".154" stop-color="#1e00e1"/><stop offset=".179" stop-color="#1f00e0"/><stop offset=".205" stop-color="#1f00e0"/><stop offset=".231" stop-color="#2000df"/><stop offset=".256" stop-color="#2100de"/><stop offset=".282" stop-color="#2300dc"/><stop offset=".308" stop-color="#2500da"/><stop offset=".333" stop-color="#2800d7"/><stop offset=".359" stop-color="#2c00d3"/><stop offset=".385" stop-color="#3100ce"/><stop offset=".41" stop-color="#3900c6"/><stop offset=".436" stop-color="#4700b8"/><stop offset=".462" stop-color="#5d00a2"/><stop offset=".487" stop-color="#74008b"/><stop offset=".513" stop-color="#80007f"/><stop offset=".538" stop-color="#790086"/><stop offset=".564" stop-color="#62009d"/><stop offset=".59" stop-color="#4900b6"/><stop offset=".615" stop-color="#3700c8"/><stop offset=".641" stop-color="#2b00d4"/><stop offset=".667" stop-color="#2400db"/><stop offset=".692" stop-color="#1e00e1"/><stop offset=".718" stop-color="#1a00e5"/><stop offset=".744" stop-color="#1700e8"/><stop offset=".769" stop-color="#1500ea"/><stop offset=".795" stop-color="#1400eb"/><stop offset=".821" stop-color="#1300ec"/><stop offset=".846" stop-color="#1400eb"/><stop offset=".872" stop-color="#1500ea"/><stop offset=".897" stop-color="#1600e9"/><stop offset=".923" stop-color="#1500ea"/><stop offset=".949" stop-color="#0900f6"/><stop offset=".974" stop-color="#2020ff"/><stop offset="1" stop-color="#6d6dff"/></linearGradient><linearGradient id="h59"><stop offset="0" stop-color="#6969ff"/><stop offset=".026" stop-color="#1b1bff"/><stop offset=".051" stop-color="#1000ef"/><stop offset=".077" stop-color="#1e00e1"/><stop offset=".103" stop-color="#2000df"/><stop offset=".128" stop-color="#2100de"/><stop offset=".179" stop-color="#2100de"/><stop offset=".205" stop-color="#2200dd"/><stop offset=".231" stop-color="#2200dd"/><stop offset=".256" stop-color="#2400db"/><stop offset=".282" stop-color="#2500da"/><stop offset=".308" stop-color="#2800d7"/><stop offset=".333" stop-color="#2a00d5"/><stop offset=".359" stop-color="#2e00d1"/><stop offset=".385" stop-color="#3300cc"/><stop offset=".41" stop-color="#3b00c4"/><stop offset=".436" stop-color="#4900b6"/><stop offset=".462" stop-color="#5e00a1"/><stop offset=".487" stop-color="#75008a"/><stop offset=".513" stop-color="#81007e"/><stop offset=".538" stop-color="#7a0085"/><stop offset=".564" stop-color="#63009c"/><stop offset=".59" stop-color="#4a00b5"/><stop offset=".615" stop-color="#3800c7"/><stop offset=".641" stop-color="#2c00d3"/><stop offset=".667" stop-color="#2500da"/><stop offset=".692" stop-color="#1f00e0"/><stop offset=".718" stop-color="#1b00e4"/><stop offset=".744" stop-color="#1800e7"/><stop offset=".769" stop-color="#1600e9"/><stop offset=".795" stop-color="#1400eb"/><stop offset=".821" stop-color="#1400eb"/><stop offset=".846" stop-color="#1500ea"/><stop offset=".872" stop-color="#1600e9"/><stop offset=".897" stop-color="#1800e7"/><stop offset=".923" stop-color="#1700e8"/><stop offset=".949" stop-color="#0b00f4"/><stop offset=".974" stop-color="#1f1fff"/><stop offset="1" stop-color="#6c6cff"/></linearGradient><linearGradient id="h60"><stop offset="0" stop-color="#6969ff"/><stop offset=".026" stop-color="#1a1aff"/><stop offset=".051" stop-color="#1100ee"/><stop offset=".077" stop-color="#1f00e0"/><stop offset=".103" stop-color="#2100de"/><stop offset=".128" stop-color="#2200dd"/><stop offset=".179" stop-color="#2200dd"/><stop offset=".205" stop-color="#2300dc"/><stop offset=".231" stop-color="#2300dc"/><stop offset=".256" stop-color="#2400db"/><stop offset=".282" stop-color="#2600d9"/><stop offset=".308" stop-color="#2800d7"/><stop offset=".333" stop-color="#2b00d4"/><stop offset=".359" stop-color="#2f00d0"/><stop offset=".385" stop-color="#3300cc"/><stop offset=".41" stop-color="#3b00c4"/><stop offset=".436" stop-color="#4900b6"/><stop offset=".462" stop-color="#5e00a1"/><stop offset=".487" stop-color="#75008a"/><stop offset=".513" stop-color="#80007f"/><stop offset=".538" stop-color="#790086"/><stop offset=".564" stop-color="#63009c"/><stop offset=".59" stop-color="#4a00b5"/><stop offset=".615" stop-color="#3800c7"/><stop offset=".641" stop-color="#2c00d3"/><stop offset=".667" stop-color="#2500da"/><stop offset=".692" stop-color="#1f00e0"/><stop offset=".718" stop-color="#1a00e5"/><stop offset=".744" stop-color="#1700e8"/><stop offset=".769" stop-color="#1500ea"/><stop offset=".795" stop-color="#1400eb"/><stop offset=".821" stop-color="#1400eb"/><stop offset=".846" stop-color="#1500ea"/><stop offset=".872" stop-color="#1600e9"/><stop offset=".897" stop-color="#1800e7"/><stop offset=".923" stop-color="#1700e8"/><stop offset=".949" stop-color="#0b00f4"/><stop offset=".974" stop-color="#1e1eff"/><stop offset="1" stop-color="#6c6cff"/></linearGradient><linearGradient id="h61"><stop offset="0" stop-color="#6969ff"/><stop offset=".026" stop-color="#1a1aff"/><stop offset=".051" stop-color="#1100ee"/><stop offset=".077" stop-color="#1e00e1"/><stop offset=".103" stop-color="#2100de"/><stop offset=".179" stop-color="#2100de"/><stop offset=".205" stop-color="#2200dd"/><stop offset=".231" stop-color="#2200dd"/><stop offset=".256" stop-color="#2300dc"/><stop offset=".282" stop-color="#2500da"/><stop offset=".308" stop-color="#2700d8"/><stop offset=".333" stop-color="#2a00d5"/><stop offset=".359" stop-color="#2d00d2"/><stop offset=".385" stop-color="#3200cd"/><stop offset=".41" stop-color="#3a00c5"/><stop offset=".436" stop-color="#4800b7"/><stop offset=".462" stop-color="#5d00a2"/><stop offset=".487" stop-color="#73008c"/><stop offset=".513" stop-color="#7f0080"/><stop offset=".538" stop-color="#770088"/><stop offset=".564" stop-color="#61009e"/><stop offset=".59" stop-color="#4800b7"/><stop offset=".615" stop-color="#3600c9"/><stop offset=".641" stop-color="#2a00d5"/><stop offset=".667" stop-color="#2200dd"/><stop offset=".692" stop-color="#1d00e2"/><stop offset=".718" stop-color="#1800e7"/><stop offset=".744" stop-color="#1500ea"/><stop offset=".769" stop-color="#1200ed"/><stop offset=".795" stop-color="#1100ee"/><stop offset=".821" stop-color="#1200ed"/><stop offset=".846" stop-color="#1300ec"/><stop offset=".872" stop-color="#1400eb"/><stop offset=".897" stop-color="#1600e9"/><stop offset=".923" stop-color="#1500ea"/><stop offset=".949" stop-color="#0a00f5"/><stop offset=".974" stop-color="#2020ff"/><stop offset="1" stop-color="#6d6dff"/></linearGradient><linearGradient id="h62"><stop offset="0" stop-color="#6a6aff"/><stop offset=".026" stop-color="#1b1bff"/><stop offset=".051" stop-color="#1000ef"/><stop offset=".077" stop-color="#1d00e2"/><stop offset=".103" stop-color="#2000df"/><stop offset=".154" stop-color="#2000df"/><stop offset=".179" stop-color="#2100de"/><stop offset=".231" stop-color="#2100de"/><stop offset=".256" stop-color="#2200dd"/><stop offset=".282" stop-color="#2400db"/><stop offset=".308" stop-color="#2600d9"/><stop offset=".333" stop-color="#2900d6"/><stop offset=".359" stop-color="#2c00d3"/><stop offset=".385" stop-color="#3100ce"/><stop offset=".41" stop-color="#3900c6"/><stop offset=".436" stop-color="#4700b8"/><stop offset=".462" stop-color="#5c00a3"/><stop offset=".487" stop-color="#72008d"/><stop offset=".513" stop-color="#7d0082"/><stop offset=".538" stop-color="#760089"/><stop offset=".564" stop-color="#5f00a0"/><stop offset=".59" stop-color="#4700b8"/><stop offset=".615" stop-color="#3400cb"/><stop offset=".641" stop-color="#2800d7"/><stop offset=".667" stop-color="#2000df"/><stop offset=".692" stop-color="#1b00e4"/><stop offset=".718" stop-color="#1600e9"/><stop offset=".744" stop-color="#1200ed"/><stop offset=".769" stop-color="#1000ef"/><stop offset=".795" stop-color="#0f00f0"/><stop offset=".821" stop-color="#0f00f0"/><stop offset=".846" stop-color="#1000ef"/><stop offset=".872" stop-color="#1200ed"/><stop offset=".897" stop-color="#1400eb"/><stop offset=".923" stop-color="#1400eb"/><stop offset=".949" stop-color="#0800f7"/><stop offset=".974" stop-color="#2121ff"/><stop offset="1" stop-color="#6e6eff"/></linearGradient><linearGradient id="h63"><stop offset="0" stop-color="#6a6aff"/><stop offset=".026" stop-color="#1b1bff"/><stop offset=".051" stop-color="#1000ef"/><stop offset=".077" stop-color="#1e00e1"/><stop offset=".103" stop-color="#2000df"/><stop offset=".128" stop-color="#2100de"/><stop offset=".231" stop-color="#2100de"/><stop offset=".256" stop-color="#2200dd"/><stop offset=".282" stop-color="#2400db"/><stop offset=".308" stop-color="#2600d9"/><stop offset=".333" stop-color="#2800d7"/><stop offset=".359" stop-color="#2c00d3"/><stop offset=".385" stop-color="#3100ce"/><stop offset=".41" stop-color="#3900c6"/><stop offset=".436" stop-color="#4700b8"/><stop offset=".462" stop-color="#5c00a3"/><stop offset=".487" stop-color="#72008d"/><stop offset=".513" stop-color="#7e0081"/><stop offset=".538" stop-color="#760089"/><stop offset=".564" stop-color="#5f00a0"/><stop offset=".59" stop-color="#4600b9"/><stop offset=".615" stop-color="#3300cc"/><stop offset=".641" stop-color="#2700d8"/><stop offset=".667" stop-color="#1f00e0"/><stop offset=".692" stop-color="#1900e6"/><stop offset=".718" stop-color="#1400eb"/><stop offset=".744" stop-color="#1100ee"/><stop offset=".769" stop-color="#0f00f0"/><stop offset=".795" stop-color="#0e00f1"/><stop offset=".821" stop-color="#0e00f1"/><stop offset=".846" stop-color="#0f00f0"/><stop offset=".872" stop-color="#1100ee"/><stop offset=".897" stop-color="#1300ec"/><stop offset=".923" stop-color="#1300ec"/><stop offset=".949" stop-color="#0800f7"/><stop offset=".974" stop-color="#2121ff"/><stop offset="1" stop-color="#6e6eff"/></linearGradient><linearGradient id="h64"><stop offset="0" stop-color="#6969ff"/><stop offset=".026" stop-color="#1a1aff"/><stop offset=".051" stop-color="#1100ee"/><stop offset=".077" stop-color="#1f00e0"/><stop offset=".103" stop-color="#2200dd"/><stop offset=".231" stop-color="#2200dd"/><stop offset=".256" stop-color="#2300dc"/><stop offset=".282" stop-color="#2400db"/><stop offset=".308" stop-color="#2700d8"/><stop offset=".333" stop-color="#2900d6"/><stop offset=".359" stop-color="#2d00d2"/><stop offset=".385" stop-color="#3200cd"/><stop offset=".41" stop-color="#3a00c5"/><stop offset=".436" stop-color="#4800b7"/><stop offset=".462" stop-color="#5e00a1"/><stop offset=".487" stop-color="#75008a"/><stop offset=".513" stop-color="#81007e"/><stop offset=".538" stop-color="#790086"/><stop offset=".564" stop-color="#61009e"/><stop offset=".59" stop-color="#4800b7"/><stop offset=".615" stop-color="#3400cb"/><stop offset=".641" stop-color="#2800d7"/><stop offset=".667" stop-color="#2000df"/><stop offset=".692" stop-color="#1a00e5"/><stop offset=".718" stop-color="#1500ea"/><stop offset=".744" stop-color="#1100ee"/><stop offset=".769" stop-color="#0f00f0"/><stop offset=".795" stop-color="#0e00f1"/><stop offset=".821" stop-color="#0e00f1"/><stop offset=".846" stop-color="#0f00f0"/><stop offset=".872" stop-color="#1100ee"/><stop offset=".897" stop-color="#1300ec"/><stop offset=".923" stop-color="#1300ec"/><stop offset=".949" stop-color="#0800f7"/><stop offset=".974" stop-color="#2121ff"/><stop offset="1" stop-color="#6e6eff"/></linearGradient><linearGradient id="h65"><stop offset="0" stop-color="#6767ff"/><stop offset=".026" stop-color="#1818ff"/><stop offset=".051" stop-color="#1400eb"/><stop offset=".077" stop-color="#2200dd"/><stop offset=".103" stop-color="#2500da"/><stop offset=".231" stop-color="#2500da"/><stop offset=".256" stop-color="#2600d9"/><stop offset=".282" stop-color="#2700d8"/><stop offset=".308" stop-color="#2900d6"/><stop offset=".333" stop-color="#2c00d3"/><stop offset=".359" stop-color="#2f00d0"/><stop offset=".385" stop-color="#3400cb"/><stop offset=".41" stop-color="#3c00c3"/><stop offset=".436" stop-color="#4b00b4"/><stop offset=".462" stop-color="#62009d"/><stop offset=".487" stop-color="#7a0085"/><stop offset=".513" stop-color="#860079"/><stop offset=".538" stop-color="#7e0081"/><stop offset=".564" stop-color="#65009a"/><stop offset=".59" stop-color="#4b00b4"/><stop offset=".615" stop-color="#3700c8"/><stop offset=".641" stop-color="#2a00d5"/><stop offset=".667" stop-color="#2200dd"/><stop offset=".692" stop-color="#1b00e4"/><stop offset=".718" stop-color="#1600e9"/><stop offset=".744" stop-color="#1300ec"/><stop offset=".769" stop-color="#1000ef"/><stop offset=".795" stop-color="#0f00f0"/><stop offset=".821" stop-color="#0f00f0"/><stop offset=".846" stop-color="#1100ee"/><stop offset=".872" stop-color="#1300ec"/><stop offset=".897" stop-color="#1500ea"/><stop offset=".923" stop-color="#1500ea"/><stop offset=".949" stop-color="#0a00f5"/><stop offset=".974" stop-color="#1f1fff"/><stop offset="1" stop-color="#6d6dff"/></linearGradient><linearGradient id="h66"><stop offset="0" stop-color="#6565ff"/><stop offset=".026" stop-color="#1414ff"/><stop offset=".051" stop-color="#1800e7"/><stop offset=".077" stop-color="#2700d8"/><stop offset=".103" stop-color="#2a00d5"/><stop offset=".154" stop-color="#2a00d5"/><stop offset=".179" stop-color="#2900d6"/><stop offset=".256" stop-color="#2900d6"/><stop offset=".282" stop-color="#2b00d4"/><stop offset=".308" stop-color="#2d00d2"/><stop offset=".333" stop-color="#3000cf"/><stop offset=".359" stop-color="#3300cc"/><stop offset=".385" stop-color="#3800c7"/><stop offset=".41" stop-color="#4100be"/><stop offset=".436" stop-color="#5000af"/><stop offset=".462" stop-color="#670098"/><stop offset=".487" stop-color="#81007e"/><stop offset=".513" stop-color="#8f0070"/><stop offset=".538" stop-color="#860079"/><stop offset=".564" stop-color="#6b0094"/><stop offset=".59" stop-color="#4f00b0"/><stop offset=".615" stop-color="#3b00c4"/><stop offset=".641" stop-color="#2e00d1"/><stop offset=".667" stop-color="#2500da"/><stop offset=".692" stop-color="#1f00e0"/><stop offset=".718" stop-color="#1a00e5"/><stop offset=".744" stop-color="#1600e9"/><stop offset=".769" stop-color="#1300ec"/><stop offset=".795" stop-color="#1200ed"/><stop offset=".821" stop-color="#1200ed"/><stop offset=".846" stop-color="#1400eb"/><stop offset=".872" stop-color="#1600e9"/><stop offset=".897" stop-color="#1800e7"/><stop offset=".923" stop-color="#1800e7"/><stop offset=".949" stop-color="#0d00f2"/><stop offset=".974" stop-color="#1d1dff"/><stop offset="1" stop-color="#6b6bff"/></linearGradient><linearGradient id="h67"><stop offset="0" stop-color="#6363ff"/><stop offset=".026" stop-color="#1111ff"/><stop offset=".051" stop-color="#1d00e2"/><stop offset=".077" stop-color="#2c00d3"/><stop offset=".103" stop-color="#2f00d0"/><stop offset=".154" stop-color="#2f00d0"/><stop offset=".179" stop-color="#2e00d1"/><stop offset=".205" stop-color="#2e00d1"/><stop offset=".231" stop-color="#2d00d2"/><stop offset=".256" stop-color="#2e00d1"/><stop offset=".282" stop-color="#2f00d0"/><stop offset=".308" stop-color="#3100ce"/><stop offset=".333" stop-color="#3400cb"/><stop offset=".359" stop-color="#3800c7"/><stop offset=".385" stop-color="#3d00c2"/><stop offset=".41" stop-color="#4500ba"/><stop offset=".436" stop-color="#5500aa"/><stop offset=".462" stop-color="#6f0090"/><stop offset=".487" stop-color="#8a0075"/><stop offset=".513" stop-color="#990066"/><stop offset=".538" stop-color="#8f0070"/><stop offset=".564" stop-color="#73008c"/><stop offset=".59" stop-color="#5500aa"/><stop offset=".615" stop-color="#3f00c0"/><stop offset=".641" stop-color="#3200cd"/><stop offset=".667" stop-color="#2900d6"/><stop offset=".692" stop-color="#2300dc"/><stop offset=".718" stop-color="#1d00e2"/><stop offset=".744" stop-color="#1900e6"/><stop offset=".769" stop-color="#1700e8"/><stop offset=".795" stop-color="#1600e9"/><stop offset=".821" stop-color="#1600e9"/><stop offset=".846" stop-color="#1700e8"/><stop offset=".872" stop-color="#1900e6"/><stop offset=".897" stop-color="#1c00e3"/><stop offset=".923" stop-color="#1c00e3"/><stop offset=".949" stop-color="#1000ef"/><stop offset=".974" stop-color="#1a1aff"/><stop offset="1" stop-color="#6969ff"/></linearGradient><linearGradient id="h68"><stop offset="0" stop-color="#6060ff"/><stop offset=".026" stop-color="#0d0dff"/><stop offset=".051" stop-color="#2100de"/><stop offset=".077" stop-color="#3000cf"/><stop offset=".103" stop-color="#3400cb"/><stop offset=".154" stop-color="#3400cb"/><stop offset=".179" stop-color="#3300cc"/><stop offset=".205" stop-color="#3200cd"/><stop offset=".231" stop-color="#3100ce"/><stop offset=".256" stop-color="#3200cd"/><stop offset=".282" stop-color="#3300cc"/><stop offset=".308" stop-color="#3500ca"/><stop offset=".333" stop-color="#3800c7"/><stop offset=".359" stop-color="#3c00c3"/><stop offset=".385" stop-color="#4100be"/><stop offset=".41" stop-color="#4a00b5"/><stop offset=".436" stop-color="#5a00a5"/><stop offset=".462" stop-color="#75008a"/><stop offset=".487" stop-color="#94006b"/><stop offset=".513" stop-color="#a3005c"/><stop offset=".538" stop-color="#980067"/><stop offset=".564" stop-color="#7a0085"/><stop offset=".59" stop-color="#5a00a5"/><stop offset=".615" stop-color="#4400bb"/><stop offset=".641" stop-color="#3600c9"/><stop offset=".667" stop-color="#2d00d2"/><stop offset=".692" stop-color="#2600d9"/><stop offset=".718" stop-color="#2100de"/><stop offset=".744" stop-color="#1d00e2"/><stop offset=".769" stop-color="#1a00e5"/><stop offset=".795" stop-color="#1900e6"/><stop offset=".821" stop-color="#1900e6"/><stop offset=".846" stop-color="#1b00e4"/><stop offset=".872" stop-color="#1d00e2"/><stop offset=".897" stop-color="#1f00e0"/><stop offset=".923" stop-color="#1f00e0"/><stop offset=".949" stop-color="#1400eb"/><stop offset=".974" stop-color="#1717ff"/><stop offset="1" stop-color="#6868ff"/></linearGradient><linearGradient id="h69"><stop offset="0" stop-color="#5e5eff"/><stop offset=".026" stop-color="#0a0aff"/><stop offset=".051" stop-color="#2500da"/><stop offset=".077" stop-color="#3400cb"/><stop offset=".103" stop-color="#3800c7"/><stop offset=".128" stop-color="#3800c7"/><stop offset=".154" stop-color="#3700c8"/><stop offset=".179" stop-color="#3600c9"/><stop offset=".205" stop-color="#3500ca"/><stop offset=".231" stop-color="#3400cb"/><stop offset=".256" stop-color="#3500ca"/><stop offset=".282" stop-color="#3600c9"/><stop offset=".308" stop-color="#3800c7"/><stop offset=".333" stop-color="#3a00c5"/><stop offset=".359" stop-color="#3e00c1"/><stop offset=".385" stop-color="#4300bc"/><stop offset=".41" stop-color="#4c00b3"/><stop offset=".436" stop-color="#5e00a1"/><stop offset=".462" stop-color="#7a0085"/><stop offset=".487" stop-color="#990066"/><stop offset=".513" stop-color="#aa0055"/><stop offset=".538" stop-color="#9e0061"/><stop offset=".564" stop-color="#7e0081"/><stop offset=".59" stop-color="#5d00a2"/><stop offset=".615" stop-color="#4600b9"/><stop offset=".641" stop-color="#3900c6"/><stop offset=".667" stop-color="#3000cf"/><stop offset=".692" stop-color="#2900d6"/><stop offset=".718" stop-color="#2300dc"/><stop offset=".744" stop-color="#1f00e0"/><stop offset=".769" stop-color="#1c00e3"/><stop offset=".795" stop-color="#1b00e4"/><stop offset=".821" stop-color="#1c00e3"/><stop offset=".846" stop-color="#1d00e2"/><stop offset=".872" stop-color="#1f00e0"/><stop offset=".897" stop-color="#2100de"/><stop offset=".923" stop-color="#2100de"/><stop offset=".949" stop-color="#1600e9"/><stop offset=".974" stop-color="#1616ff"/><stop offset="1" stop-color="#6767ff"/></linearGradient><linearGradient id="h70"><stop offset="0" stop-color="#5e5eff"/><stop offset=".026" stop-color="#0909ff"/><stop offset=".051" stop-color="#2600d9"/><stop offset=".077" stop-color="#3600c9"/><stop offset=".103" stop-color="#3a00c5"/><stop offset=".128" stop-color="#3a00c5"/><stop offset=".154" stop-color="#3900c6"/><stop offset=".179" stop-color="#3800c7"/><stop offset=".205" stop-color="#3700c8"/><stop offset=".231" stop-color="#3600c9"/><stop offset=".256" stop-color="#3600c9"/><stop offset=".282" stop-color="#3700c8"/><stop offset=".308" stop-color="#3800c7"/><stop offset=".333" stop-color="#3b00c4"/><stop offset=".359" stop-color="#3f00c0"/><stop offset=".385" stop-color="#4400bb"/><stop offset=".41" stop-color="#4d00b2"/><stop offset=".436" stop-color="#5f00a0"/><stop offset=".462" stop-color="#7b0084"/><stop offset=".487" stop-color="#9c0063"/><stop offset=".513" stop-color="#ad0052"/><stop offset=".538" stop-color="#a1005e"/><stop offset=".564" stop-color="#80007f"/><stop offset=".59" stop-color="#5e00a1"/><stop offset=".615" stop-color="#4700b8"/><stop offset=".641" stop-color="#3900c6"/><stop offset=".667" stop-color="#3000cf"/><stop offset=".692" stop-color="#2900d6"/><stop offset=".718" stop-color="#2400db"/><stop offset=".744" stop-color="#2000df"/><stop offset=".769" stop-color="#1d00e2"/><stop offset=".795" stop-color="#1c00e3"/><stop offset=".821" stop-color="#1c00e3"/><stop offset=".846" stop-color="#1d00e2"/><stop offset=".872" stop-color="#1f00e0"/><stop offset=".897" stop-color="#2100de"/><stop offset=".923" stop-color="#2100de"/><stop offset=".949" stop-color="#1600e9"/><stop offset=".974" stop-color="#1515ff"/><stop offset="1" stop-color="#6767ff"/></linearGradient><linearGradient id="h71"><stop offset="0" stop-color="#5e5eff"/><stop offset=".026" stop-color="#0909ff"/><stop offset=".051" stop-color="#2700d8"/><stop offset=".077" stop-color="#3700c8"/><stop offset=".103" stop-color="#3a00c5"/><stop offset=".128" stop-color="#3b00c4"/><stop offset=".154" stop-color="#3a00c5"/><stop offset=".179" stop-color="#3800c7"/><stop offset=".205" stop-color="#3700c8"/><stop offset=".231" stop-color="#3500ca"/><stop offset=".256" stop-color="#3500ca"/><stop offset=".282" stop-color="#3600c9"/><stop offset=".308" stop-color="#3800c7"/><stop offset=".333" stop-color="#3a00c5"/><stop offset=".359" stop-color="#3e00c1"/><stop offset=".385" stop-color="#4300bc"/><stop offset=".41" stop-color="#4c00b3"/><stop offset=".436" stop-color="#5d00a2"/><stop offset=".462" stop-color="#7a0085"/><stop offset=".487" stop-color="#9a0065"/><stop offset=".513" stop-color="#ab0054"/><stop offset=".538" stop-color="#9f0060"/><stop offset=".564" stop-color="#7e0081"/><stop offset=".59" stop-color="#5d00a2"/><stop offset=".615" stop-color="#4600b9"/><stop offset=".641" stop-color="#3800c7"/><stop offset=".667" stop-color="#2f00d0"/><stop offset=".692" stop-color="#2800d7"/><stop offset=".718" stop-color="#2200dd"/><stop offset=".744" stop-color="#1e00e1"/><stop offset=".769" stop-color="#1b00e4"/><stop offset=".795" stop-color="#1a00e5"/><stop offset=".821" stop-color="#1a00e5"/><stop offset=".846" stop-color="#1b00e4"/><stop offset=".872" stop-color="#1d00e2"/><stop offset=".897" stop-color="#2000df"/><stop offset=".923" stop-color="#2000df"/><stop offset=".949" stop-color="#1400eb"/><stop offset=".974" stop-color="#1717ff"/><stop offset="1" stop-color="#6767ff"/></linearGradient><linearGradient id="h72"><stop offset="0" stop-color="#5e5eff"/><stop offset=".026" stop-color="#0a0aff"/><stop offset=".051" stop-color="#2500da"/><stop offset=".077" stop-color="#3500ca"/><stop offset=".103" stop-color="#3900c6"/><stop offset=".128" stop-color="#3a00c5"/><stop offset=".154" stop-color="#3900c6"/><stop offset=".179" stop-color="#3700c8"/><stop offset=".205" stop-color="#3500ca"/><stop offset=".231" stop-color="#3400cb"/><stop offset=".256" stop-color="#3300cc"/><stop offset=".282" stop-color="#3400cb"/><stop offset=".308" stop-color="#3500ca"/><stop offset=".333" stop-color="#3800c7"/><stop offset=".359" stop-color="#3c00c3"/><stop offset=".385" stop-color="#4100be"/><stop offset=".41" stop-color="#4a00b5"/><stop offset=".436" stop-color="#5a00a5"/><stop offset=".462" stop-color="#760089"/><stop offset=".487" stop-color="#95006a"/><stop offset=".513" stop-color="#a5005a"/><stop offset=".538" stop-color="#990066"/><stop offset=".564" stop-color="#7a0085"/><stop offset=".59" stop-color="#5a00a5"/><stop offset=".615" stop-color="#4300bc"/><stop offset=".641" stop-color="#3500ca"/><stop offset=".667" stop-color="#2c00d3"/><stop offset=".692" stop-color="#2500da"/><stop offset=".718" stop-color="#1f00e0"/><stop offset=".744" stop-color="#1b00e4"/><stop offset=".769" stop-color="#1800e7"/><stop offset=".795" stop-color="#1700e8"/><stop offset=".821" stop-color="#1700e8"/><stop offset=".846" stop-color="#1800e7"/><stop offset=".872" stop-color="#1a00e5"/><stop offset=".897" stop-color="#1d00e2"/><stop offset=".923" stop-color="#1d00e2"/><stop offset=".949" stop-color="#1100ee"/><stop offset=".974" stop-color="#1919ff"/><stop offset="1" stop-color="#6969ff"/></linearGradient><linearGradient id="h73"><stop offset="0" stop-color="#5f5fff"/><stop offset=".026" stop-color="#0c0cff"/><stop offset=".051" stop-color="#2400db"/><stop offset=".077" stop-color="#3400cb"/><stop offset=".103" stop-color="#3800c7"/><stop offset=".128" stop-color="#3800c7"/><stop offset=".154" stop-color="#3700c8"/><stop offset=".179" stop-color="#3500ca"/><stop offset=".205" stop-color="#3300cc"/><stop offset=".231" stop-color="#3100ce"/><stop offset=".282" stop-color="#3100ce"/><stop offset=".308" stop-color="#3300cc"/><stop offset=".333" stop-color="#3500ca"/><stop offset=".359" stop-color="#3900c6"/><stop offset=".385" stop-color="#3e00c1"/><stop offset=".41" stop-color="#4600b9"/><stop offset=".436" stop-color="#5600a9"/><stop offset=".462" stop-color="#70008f"/><stop offset=".487" stop-color="#8d0072"/><stop offset=".513" stop-color="#9c0063"/><stop offset=".538" stop-color="#92006d"/><stop offset=".564" stop-color="#74008b"/><stop offset=".59" stop-color="#5500aa"/><stop offset=".615" stop-color="#3f00c0"/><stop offset=".641" stop-color="#3100ce"/><stop offset=".667" stop-color="#2800d7"/><stop offset=".692" stop-color="#2100de"/><stop offset=".718" stop-color="#1c00e3"/><stop offset=".744" stop-color="#1700e8"/><stop offset=".769" stop-color="#1400eb"/><stop offset=".795" stop-color="#1300ec"/><stop offset=".821" stop-color="#1300ec"/><stop offset=".846" stop-color="#1400eb"/><stop offset=".872" stop-color="#1600e9"/><stop offset=".897" stop-color="#1900e6"/><stop offset=".923" stop-color="#1900e6"/><stop offset=".949" stop-color="#0e00f1"/><stop offset=".974" stop-color="#1c1cff"/><stop offset="1" stop-color="#6b6bff"/></linearGradient><linearGradient id="h74"><stop offset="0" stop-color="#6060ff"/><stop offset=".026" stop-color="#0d0dff"/><stop offset=".051" stop-color="#2200dd"/><stop offset=".077" stop-color="#3200cd"/><stop offset=".103" stop-color="#3600c9"/><stop offset=".128" stop-color="#3600c9"/><stop offset=".154" stop-color="#3500ca"/><stop offset=".179" stop-color="#3300cc"/><stop offset=".205" stop-color="#3100ce"/><stop offset=".231" stop-color="#2f00d0"/><stop offset=".256" stop-color="#2e00d1"/><stop offset=".282" stop-color="#2f00d0"/><stop offset=".308" stop-color="#3000cf"/><stop offset=".333" stop-color="#3300cc"/><stop offset=".359" stop-color="#3600c9"/><stop offset=".385" stop-color="#3b00c4"/><stop offset=".41" stop-color="#4300bc"/><stop offset=".436" stop-color="#5300ac"/><stop offset=".462" stop-color="#6b0094"/><stop offset=".487" stop-color="#860079"/><stop offset=".513" stop-color="#94006b"/><stop offset=".538" stop-color="#8a0075"/><stop offset=".564" stop-color="#6e0091"/><stop offset=".59" stop-color="#5100ae"/><stop offset=".615" stop-color="#3b00c4"/><stop offset=".641" stop-color="#2e00d1"/><stop offset=".667" stop-color="#2500da"/><stop offset=".692" stop-color="#1e00e1"/><stop offset=".718" stop-color="#1800e7"/><stop offset=".744" stop-color="#1300ec"/><stop offset=".769" stop-color="#1000ef"/><stop offset=".795" stop-color="#0f00f0"/><stop offset=".821" stop-color="#0f00f0"/><stop offset=".846" stop-color="#1000ef"/><stop offset=".872" stop-color="#1200ed"/><stop offset=".897" stop-color="#1500ea"/><stop offset=".923" stop-color="#1500ea"/><stop offset=".949" stop-color="#0a00f5"/><stop offset=".974" stop-color="#1f1fff"/><stop offset="1" stop-color="#6e6eff"/></linearGradient><linearGradient id="h75"><stop offset="0" stop-color="#6161ff"/><stop offset=".026" stop-color="#0e0eff"/><stop offset=".051" stop-color="#2000df"/><stop offset=".077" stop-color="#3000cf"/><stop offset=".103" stop-color="#3400cb"/><stop offset=".128" stop-color="#3500ca"/><stop offset=".154" stop-color="#3300cc"/><stop offset=".179" stop-color="#3100ce"/><stop offset=".205" stop-color="#2f00d0"/><stop offset=".231" stop-color="#2d00d2"/><stop offset=".256" stop-color="#2c00d3"/><stop offset=".282" stop-color="#2d00d2"/><stop offset=".308" stop-color="#2e00d1"/><stop offset=".333" stop-color="#3100ce"/><stop offset=".359" stop-color="#3400cb"/><stop offset=".385" stop-color="#3900c6"/><stop offset=".41" stop-color="#4100be"/><stop offset=".436" stop-color="#5000af"/><stop offset=".462" stop-color="#670098"/><stop offset=".487" stop-color="#81007e"/><stop offset=".513" stop-color="#8e0071"/><stop offset=".538" stop-color="#84007b"/><stop offset=".564" stop-color="#6a0095"/><stop offset=".59" stop-color="#4e00b1"/><stop offset=".615" stop-color="#3900c6"/><stop offset=".641" stop-color="#2b00d4"/><stop offset=".667" stop-color="#2200dd"/><stop offset=".692" stop-color="#1b00e4"/><stop offset=".718" stop-color="#1500ea"/><stop offset=".744" stop-color="#1000ef"/><stop offset=".769" stop-color="#0d00f2"/><stop offset=".795" stop-color="#0b00f4"/><stop offset=".821" stop-color="#0b00f4"/><stop offset=".846" stop-color="#0c00f3"/><stop offset=".872" stop-color="#0e00f1"/><stop offset=".897" stop-color="#1100ee"/><stop offset=".923" stop-color="#1200ed"/><stop offset=".949" stop-color="#0700f8"/><stop offset=".974" stop-color="#2222ff"/><stop offset="1" stop-color="#6f6fff"/></linearGradient><linearGradient id="h76"><stop offset="0" stop-color="#6161ff"/><stop offset=".026" stop-color="#0f0fff"/><stop offset=".051" stop-color="#2000df"/><stop offset=".077" stop-color="#3000cf"/><stop offset=".103" stop-color="#3400cb"/><stop offset=".128" stop-color="#3500ca"/><stop offset=".154" stop-color="#3300cc"/><stop offset=".179" stop-color="#3100ce"/><stop offset=".205" stop-color="#2f00d0"/><stop offset=".231" stop-color="#2d00d2"/><stop offset=".256" stop-color="#2c00d3"/><stop offset=".282" stop-color="#2d00d2"/><stop offset=".308" stop-color="#2e00d1"/><stop offset=".333" stop-color="#3000cf"/><stop offset=".359" stop-color="#3400cb"/><stop offset=".385" stop-color="#3900c6"/><stop offset=".41" stop-color="#4100be"/><stop offset=".436" stop-color="#4f00b0"/><stop offset=".462" stop-color="#660099"/><stop offset=".487" stop-color="#7e0081"/><stop offset=".513" stop-color="#8a0075"/><stop offset=".538" stop-color="#81007e"/><stop offset=".564" stop-color="#670098"/><stop offset=".59" stop-color="#4c00b3"/><stop offset=".615" stop-color="#3700c8"/><stop offset=".641" stop-color="#2a00d5"/><stop offset=".667" stop-color="#2000df"/><stop offset=".692" stop-color="#1900e6"/><stop offset=".718" stop-color="#1300ec"/><stop offset=".744" stop-color="#0e00f1"/><stop offset=".769" stop-color="#0b00f4"/><stop offset=".795" stop-color="#0900f6"/><stop offset=".821" stop-color="#0900f6"/><stop offset=".846" stop-color="#0a00f5"/><stop offset=".872" stop-color="#0c00f3"/><stop offset=".897" stop-color="#0f00f0"/><stop offset=".923" stop-color="#1000ef"/><stop offset=".949" stop-color="#0600f9"/><stop offset=".974" stop-color="#2323ff"/><stop offset="1" stop-color="#7070ff"/></linearGradient><linearGradient id="h77"><stop offset="0" stop-color="#6161ff"/><stop offset=".026" stop-color="#0e0eff"/><stop offset=".051" stop-color="#2100de"/><stop offset=".077" stop-color="#3100ce"/><stop offset=".103" stop-color="#3500ca"/><stop offset=".128" stop-color="#3600c9"/><stop offset=".154" stop-color="#3400cb"/><stop offset=".179" stop-color="#3200cd"/><stop offset=".205" stop-color="#3000cf"/><stop offset=".231" stop-color="#2e00d1"/><stop offset=".282" stop-color="#2e00d1"/><stop offset=".308" stop-color="#2f00d0"/><stop offset=".333" stop-color="#3200cd"/><stop offset=".359" stop-color="#3500ca"/><stop offset=".385" stop-color="#3a00c5"/><stop offset=".41" stop-color="#4200bd"/><stop offset=".436" stop-color="#5000af"/><stop offset=".462" stop-color="#660099"/><stop offset=".487" stop-color="#7d0082"/><stop offset=".513" stop-color="#880077"/><stop offset=".538" stop-color="#80007f"/><stop offset=".564" stop-color="#670098"/><stop offset=".59" stop-color="#4c00b3"/><stop offset=".615" stop-color="#3800c7"/><stop offset=".641" stop-color="#2a00d5"/><stop offset=".667" stop-color="#2000df"/><stop offset=".692" stop-color="#1900e6"/><stop offset=".718" stop-color="#1300ec"/><stop offset=".744" stop-color="#0e00f1"/><stop offset=".769" stop-color="#0a00f5"/><stop offset=".795" stop-color="#0900f6"/><stop offset=".821" stop-color="#0800f7"/><stop offset=".846" stop-color="#0a00f5"/><stop offset=".872" stop-color="#0c00f3"/><stop offset=".897" stop-color="#0f00f0"/><stop offset=".923" stop-color="#1000ef"/><stop offset=".949" stop-color="#0600f9"/><stop offset=".974" stop-color="#2323ff"/><stop offset="1" stop-color="#7171ff"/></linearGradient><linearGradient id="h78"><stop offset="0" stop-color="#6060ff"/><stop offset=".026" stop-color="#0c0cff"/><stop offset=".051" stop-color="#2300dc"/><stop offset=".077" stop-color="#3300cc"/><stop offset=".103" stop-color="#3700c8"/><stop offset=".128" stop-color="#3700c8"/><stop offset=".154" stop-color="#3600c9"/><stop offset=".179" stop-color="#3400cb"/><stop offset=".205" stop-color="#3200cd"/><stop offset=".231" stop-color="#3000cf"/><stop offset=".282" stop-color="#3000cf"/><stop offset=".308" stop-color="#3100ce"/><stop offset=".333" stop-color="#3400cb"/><stop offset=".359" stop-color="#3700c8"/><stop offset=".385" stop-color="#3c00c3"/><stop offset=".41" stop-color="#4400bb"/><stop offset=".436" stop-color="#5200ad"/><stop offset=".462" stop-color="#670098"/><stop offset=".487" stop-color="#7e0081"/><stop offset=".513" stop-color="#890076"/><stop offset=".538" stop-color="#80007f"/><stop offset=".564" stop-color="#680097"/><stop offset=".59" stop-color="#4d00b2"/><stop offset=".615" stop-color="#3900c6"/><stop offset=".641" stop-color="#2b00d4"/><stop offset=".667" stop-color="#2200dd"/><stop offset=".692" stop-color="#1a00e5"/><stop offset=".718" stop-color="#1400eb"/><stop offset=".744" stop-color="#0e00f1"/><stop offset=".769" stop-color="#0b00f4"/><stop offset=".795" stop-color="#0900f6"/><stop offset=".821" stop-color="#0900f6"/><stop offset=".846" stop-color="#0a00f5"/><stop offset=".872" stop-color="#0c00f3"/><stop offset=".897" stop-color="#0f00f0"/><stop offset=".923" stop-color="#1000ef"/><stop offset=".949" stop-color="#0600f9"/><stop offset=".974" stop-color="#2323ff"/><stop offset="1" stop-color="#7070ff"/></linearGradient><linearGradient id="h79"><stop offset="0" stop-color="#5f5fff"/><stop offset=".026" stop-color="#0b0bff"/><stop offset=".051" stop-color="#2400db"/><stop offset=".077" stop-color="#3400cb"/><stop offset=".103" stop-color="#3800c7"/><stop offset=".128" stop-color="#3800c7"/><stop offset=".154" stop-color="#3700c8"/><stop offset=".179" stop-color="#3600c9"/><stop offset=".205" stop-color="#3400cb"/><stop offset=".231" stop-color="#3200cd"/><stop offset=".282" stop-color="#3200cd"/><stop offset=".308" stop-color="#3400cb"/><stop offset=".333" stop-color="#3600c9"/><stop offset=".359" stop-color="#3900c6"/><stop offset=".385" stop-color="#3e00c1"/><stop offset=".41" stop-color="#4600b9"/><stop offset=".436" stop-color="#5400ab"/><stop offset=".462" stop-color="#690096"/><stop offset=".487" stop-color="#7f0080"/><stop offset=".513" stop-color="#8a0075"/><stop offset=".538" stop-color="#81007e"/><stop offset=".564" stop-color="#690096"/><stop offset=".59" stop-color="#4f00b0"/><stop offset=".615" stop-color="#3a00c5"/><stop offset=".641" stop-color="#2d00d2"/><stop offset=".667" stop-color="#2300dc"/><stop offset=".692" stop-color="#1b00e4"/><stop offset=".718" stop-color="#1500ea"/><stop offset=".744" stop-color="#1000ef"/><stop offset=".769" stop-color="#0c00f3"/><stop offset=".795" stop-color="#0a00f5"/><stop offset=".821" stop-color="#0a00f5"/><stop offset=".846" stop-color="#0b00f4"/><stop offset=".872" stop-color="#0d00f2"/><stop offset=".897" stop-color="#1000ef"/><stop offset=".923" stop-color="#1200ed"/><stop offset=".949" stop-color="#0700f8"/><stop offset=".974" stop-color="#2222ff"/><stop offset="1" stop-color="#7070ff"/></linearGradient><linearGradient id="h80"><stop offset="0" stop-color="#5e5eff"/><stop offset=".026" stop-color="#0a0aff"/><stop offset=".051" stop-color="#2500da"/><stop offset=".077" stop-color="#3500ca"/><stop offset=".103" stop-color="#3900c6"/><stop offset=".128" stop-color="#3900c6"/><stop offset=".154" stop-color="#3800c7"/><stop offset=".179" stop-color="#3700c8"/><stop offset=".205" stop-color="#3500ca"/><stop offset=".231" stop-color="#3400cb"/><stop offset=".256" stop-color="#3300cc"/><stop offset=".282" stop-color="#3400cb"/><stop offset=".308" stop-color="#3500ca"/><stop offset=".333" stop-color="#3800c7"/><stop offset=".359" stop-color="#3b00c4"/><stop offset=".385" stop-color="#4000bf"/><stop offset=".41" stop-color="#4700b8"/><stop offset=".436" stop-color="#5500aa"/><stop offset=".462" stop-color="#6a0095"/><stop offset=".487" stop-color="#80007f"/><stop offset=".513" stop-color="#8a0075"/><stop offset=".538" stop-color="#82007d"/><stop offset=".564" stop-color="#6a0095"/><stop offset=".59" stop-color="#5000af"/><stop offset=".615" stop-color="#3b00c4"/><stop offset=".641" stop-color="#2e00d1"/><stop offset=".667" stop-color="#2400db"/><stop offset=".692" stop-color="#1c00e3"/><stop offset=".718" stop-color="#1600e9"/><stop offset=".744" stop-color="#1100ee"/><stop offset=".769" stop-color="#0d00f2"/><stop offset=".795" stop-color="#0b00f4"/><stop offset=".821" stop-color="#0b00f4"/><stop offset=".846" stop-color="#0c00f3"/><stop offset=".872" stop-color="#0e00f1"/><stop offset=".897" stop-color="#1100ee"/><stop offset=".923" stop-color="#1200ed"/><stop offset=".949" stop-color="#0800f7"/><stop offset=".974" stop-color="#2121ff"/><stop offset="1" stop-color="#7070ff"/></linearGradient><linearGradient id="h81"><stop offset="0" stop-color="#5f5fff"/><stop offset=".026" stop-color="#0b0bff"/><stop offset=".051" stop-color="#2400db"/><stop offset=".077" stop-color="#3400cb"/><stop offset=".103" stop-color="#3700c8"/><stop offset=".128" stop-color="#3800c7"/><stop offset=".154" stop-color="#3700c8"/><stop offset=".179" stop-color="#3600c9"/><stop offset=".205" stop-color="#3400cb"/><stop offset=".231" stop-color="#3300cc"/><stop offset=".256" stop-color="#3300cc"/><stop offset=".282" stop-color="#3400cb"/><stop offset=".308" stop-color="#3500ca"/><stop offset=".333" stop-color="#3800c7"/><stop offset=".359" stop-color="#3b00c4"/><stop offset=".385" stop-color="#3f00c0"/><stop offset=".41" stop-color="#4700b8"/><stop offset=".436" stop-color="#5400ab"/><stop offset=".462" stop-color="#690096"/><stop offset=".487" stop-color="#7e0081"/><stop offset=".513" stop-color="#890076"/><stop offset=".538" stop-color="#81007e"/><stop offset=".564" stop-color="#690096"/><stop offset=".59" stop-color="#4f00b0"/><stop offset=".615" stop-color="#3b00c4"/><stop offset=".641" stop-color="#2e00d1"/><stop offset=".667" stop-color="#2400db"/><stop offset=".692" stop-color="#1c00e3"/><stop offset=".718" stop-color="#1600e9"/><stop offset=".744" stop-color="#1000ef"/><stop offset=".769" stop-color="#0d00f2"/><stop offset=".795" stop-color="#0b00f4"/><stop offset=".821" stop-color="#0a00f5"/><stop offset=".846" stop-color="#0b00f4"/><stop offset=".872" stop-color="#0e00f1"/><stop offset=".897" stop-color="#1100ee"/><stop offset=".923" stop-color="#1200ed"/><stop offset=".949" stop-color="#0800f7"/><stop offset=".974" stop-color="#2121ff"/><stop offset="1" stop-color="#7070ff"/></linearGradient><linearGradient id="h82"><stop offset="0" stop-color="#6060ff"/><stop offset=".026" stop-color="#0d0dff"/><stop offset=".051" stop-color="#2100de"/><stop offset=".077" stop-color="#3000cf"/><stop offset=".103" stop-color="#3400cb"/><stop offset=".154" stop-color="#3400cb"/><stop offset=".179" stop-color="#3200cd"/><stop offset=".205" stop-color="#3100ce"/><stop offset=".231" stop-color="#3000cf"/><stop offset=".256" stop-color="#3000cf"/><stop offset=".282" stop-color="#3100ce"/><stop offset=".308" stop-color="#3300cc"/><stop offset=".333" stop-color="#3500ca"/><stop offset=".359" stop-color="#3800c7"/><stop offset=".385" stop-color="#3d00c2"/><stop offset=".41" stop-color="#4400bb"/><stop offset=".436" stop-color="#5100ae"/><stop offset=".462" stop-color="#65009a"/><stop offset=".487" stop-color="#7a0085"/><stop offset=".513" stop-color="#84007b"/><stop offset=".538" stop-color="#7c0083"/><stop offset=".564" stop-color="#65009a"/><stop offset=".59" stop-color="#4c00b3"/><stop offset=".615" stop-color="#3800c7"/><stop offset=".641" stop-color="#2b00d4"/><stop offset=".667" stop-color="#2100de"/><stop offset=".692" stop-color="#1a00e5"/><stop offset=".718" stop-color="#1300ec"/><stop offset=".744" stop-color="#0e00f1"/><stop offset=".769" stop-color="#0a00f5"/><stop offset=".795" stop-color="#0800f7"/><stop offset=".821" stop-color="#0800f7"/><stop offset=".846" stop-color="#0900f6"/><stop offset=".872" stop-color="#0b00f4"/><stop offset=".897" stop-color="#0e00f1"/><stop offset=".923" stop-color="#1000ef"/><stop offset=".949" stop-color="#0600f9"/><stop offset=".974" stop-color="#2323ff"/><stop offset="1" stop-color="#7171ff"/></linearGradient><linearGradient id="h83"><stop offset="0" stop-color="#6464ff"/><stop offset=".026" stop-color="#1313ff"/><stop offset=".051" stop-color="#1b00e4"/><stop offset=".077" stop-color="#2900d6"/><stop offset=".103" stop-color="#2d00d2"/><stop offset=".154" stop-color="#2d00d2"/><stop offset=".179" stop-color="#2c00d3"/><stop offset=".205" stop-color="#2b00d4"/><stop offset=".231" stop-color="#2a00d5"/><stop offset=".256" stop-color="#2a00d5"/><stop offset=".282" stop-color="#2b00d4"/><stop offset=".308" stop-color="#2d00d2"/><stop offset=".333" stop-color="#2f00d0"/><stop offset=".359" stop-color="#3200cd"/><stop offset=".385" stop-color="#3600c9"/><stop offset=".41" stop-color="#3d00c2"/><stop offset=".436" stop-color="#4a00b5"/><stop offset=".462" stop-color="#5d00a2"/><stop offset=".487" stop-color="#72008d"/><stop offset=".513" stop-color="#7c0083"/><stop offset=".538" stop-color="#73008c"/><stop offset=".564" stop-color="#5d00a2"/><stop offset=".59" stop-color="#4500ba"/><stop offset=".615" stop-color="#3200cd"/><stop offset=".641" stop-color="#2500da"/><stop offset=".667" stop-color="#1b00e4"/><stop offset=".692" stop-color="#1400eb"/><stop offset=".718" stop-color="#0e00f1"/><stop offset=".744" stop-color="#0800f7"/><stop offset=".769" stop-color="#0500fa"/><stop offset=".795" stop-color="#0300fc"/><stop offset=".821" stop-color="#0200fd"/><stop offset=".846" stop-color="#0300fc"/><stop offset=".872" stop-color="#0600f9"/><stop offset=".897" stop-color="#0900f6"/><stop offset=".923" stop-color="#0a00f5"/><stop offset=".949" stop-color="#0000ff"/><stop offset=".974" stop-color="#2828ff"/><stop offset="1" stop-color="#7474ff"/></linearGradient><linearGradient id="h84"><stop offset="0" stop-color="#6969ff"/><stop offset=".026" stop-color="#1b1bff"/><stop offset=".051" stop-color="#1100ee"/><stop offset=".077" stop-color="#1f00e0"/><stop offset=".103" stop-color="#2200dd"/><stop offset=".154" stop-color="#2200dd"/><stop offset=".179" stop-color="#2100de"/><stop offset=".205" stop-color="#2000df"/><stop offset=".256" stop-color="#2000df"/><stop offset=".282" stop-color="#2100de"/><stop offset=".308" stop-color="#2300dc"/><stop offset=".333" stop-color="#2500da"/><stop offset=".359" stop-color="#2800d7"/><stop offset=".385" stop-color="#2c00d3"/><stop offset=".41" stop-color="#3300cc"/><stop offset=".436" stop-color="#3f00c0"/><stop offset=".462" stop-color="#5100ae"/><stop offset=".487" stop-color="#64009b"/><stop offset=".513" stop-color="#6e0091"/><stop offset=".538" stop-color="#660099"/><stop offset=".564" stop-color="#5100ae"/><stop offset=".59" stop-color="#3900c6"/><stop offset=".615" stop-color="#2700d8"/><stop offset=".641" stop-color="#1b00e4"/><stop offset=".667" stop-color="#1200ed"/><stop offset=".692" stop-color="#0a00f5"/><stop offset=".718" stop-color="#0400fb"/><stop offset=".744" stop-color="#0101ff"/><stop offset=".769" stop-color="#0404ff"/><stop offset=".795" stop-color="#0606ff"/><stop offset=".821" stop-color="#0707ff"/><stop offset=".846" stop-color="#0606ff"/><stop offset=".872" stop-color="#0303ff"/><stop offset=".897" stop-color="#0101ff"/><stop offset=".923" stop-color="#0100fe"/><stop offset=".949" stop-color="#0808ff"/><stop offset=".974" stop-color="#2f2fff"/><stop offset="1" stop-color="#7979ff"/></linearGradient><linearGradient id="h85"><stop offset="0" stop-color="#7171ff"/><stop offset=".026" stop-color="#2626ff"/><stop offset=".051" stop-color="#0400fb"/><stop offset=".077" stop-color="#1100ee"/><stop offset=".103" stop-color="#1400eb"/><stop offset=".154" stop-color="#1400eb"/><stop offset=".179" stop-color="#1300ec"/><stop offset=".205" stop-color="#1300ec"/><stop offset=".231" stop-color="#1200ed"/><stop offset=".256" stop-color="#1300ec"/><stop offset=".282" stop-color="#1400eb"/><stop offset=".308" stop-color="#1500ea"/><stop offset=".333" stop-color="#1700e8"/><stop offset=".359" stop-color="#1a00e5"/><stop offset=".385" stop-color="#1e00e1"/><stop offset=".41" stop-color="#2400db"/><stop offset=".436" stop-color="#3000cf"/><stop offset=".462" stop-color="#4100be"/><stop offset=".487" stop-color="#5300ac"/><stop offset=".513" stop-color="#5b00a4"/><stop offset=".538" stop-color="#5400ab"/><stop offset=".564" stop-color="#4000bf"/><stop offset=".59" stop-color="#2a00d5"/><stop offset=".615" stop-color="#1900e6"/><stop offset=".641" stop-color="#0d00f2"/><stop offset=".667" stop-color="#0400fb"/><stop offset=".692" stop-color="#0303ff"/><stop offset=".718" stop-color="#0909ff"/><stop offset=".744" stop-color="#0e0eff"/><stop offset=".769" stop-color="#1111ff"/><stop offset=".795" stop-color="#1313ff"/><stop offset=".821" stop-color="#1313ff"/><stop offset=".846" stop-color="#1212ff"/><stop offset=".872" stop-color="#1010ff"/><stop offset=".897" stop-color="#0d0dff"/><stop offset=".923" stop-color="#0c0cff"/><stop offset=".949" stop-color="#1515ff"/><stop offset=".974" stop-color="#3939ff"/><stop offset="1" stop-color="#8080ff"/></linearGradient><linearGradient id="h86"><stop offset="0" stop-color="#7878ff"/><stop offset=".026" stop-color="#3131ff"/><stop offset=".051" stop-color="#0a0aff"/><stop offset=".077" stop-color="#0200fd"/><stop offset=".103" stop-color="#0500fa"/><stop offset=".154" stop-color="#0500fa"/><stop offset=".179" stop-color="#0400fb"/><stop offset=".256" stop-color="#0400fb"/><stop offset=".282" stop-color="#0500fa"/><stop offset=".308" stop-color="#0700f8"/><stop offset=".333" stop-color="#0900f6"/><stop offset=".359" stop-color="#0b00f4"/><stop offset=".385" stop-color="#0f00f0"/><stop offset=".41" stop-color="#1400eb"/><stop offset=".436" stop-color="#1f00e0"/><stop offset=".462" stop-color="#2e00d1"/><stop offset=".487" stop-color="#3e00c1"/><stop offset=".513" stop-color="#4600b9"/><stop offset=".538" stop-color="#3f00c0"/><stop offset=".564" stop-color="#2d00d2"/><stop offset=".59" stop-color="#1900e6"/><stop offset=".615" stop-color="#0900f6"/><stop offset=".641" stop-color="#0202ff"/><stop offset=".667" stop-color="#0b0bff"/><stop offset=".692" stop-color="#1111ff"/><stop offset=".718" stop-color="#1717ff"/><stop offset=".744" stop-color="#1b1bff"/><stop offset=".769" stop-color="#1f1fff"/><stop offset=".795" stop-color="#2020ff"/><stop offset=".821" stop-color="#2121ff"/><stop offset=".846" stop-color="#2020ff"/><stop offset=".872" stop-color="#1e1eff"/><stop offset=".897" stop-color="#1b1bff"/><stop offset=".923" stop-color="#1919ff"/><stop offset=".949" stop-color="#2121ff"/><stop offset=".974" stop-color="#4444ff"/><stop offset="1" stop-color="#8787ff"/></linearGradient><linearGradient id="h87"><stop offset="0" stop-color="#7f7fff"/><stop offset=".026" stop-color="#3c3cff"/><stop offset=".051" stop-color="#1717ff"/><stop offset=".077" stop-color="#0b0bff"/><stop offset=".103" stop-color="#0909ff"/><stop offset=".256" stop-color="#0909ff"/><stop offset=".282" stop-color="#0808ff"/><stop offset=".308" stop-color="#0707ff"/><stop offset=".333" stop-color="#0505ff"/><stop offset=".359" stop-color="#0303ff"/><stop offset=".385" stop-color="#0000ff"/><stop offset=".41" stop-color="#0500fa"/><stop offset=".436" stop-color="#0e00f1"/><stop offset=".462" stop-color="#1b00e4"/><stop offset=".487" stop-color="#2900d6"/><stop offset=".513" stop-color="#2f00d0"/><stop offset=".538" stop-color="#2900d6"/><stop offset=".564" stop-color="#1900e6"/><stop offset=".59" stop-color="#0700f8"/><stop offset=".615" stop-color="#0707ff"/><stop offset=".641" stop-color="#1111ff"/><stop offset=".667" stop-color="#1919ff"/><stop offset=".692" stop-color="#1f1fff"/><stop offset=".718" stop-color="#2424ff"/><stop offset=".744" stop-color="#2929ff"/><stop offset=".769" stop-color="#2c2cff"/><stop offset=".795" stop-color="#2d2dff"/><stop offset=".821" stop-color="#2e2eff"/><stop offset=".846" stop-color="#2c2cff"/><stop offset=".872" stop-color="#2a2aff"/><stop offset=".897" stop-color="#2727ff"/><stop offset=".923" stop-color="#2626ff"/><stop offset=".949" stop-color="#2d2dff"/><stop offset=".974" stop-color="#4e4eff"/><stop offset="1" stop-color="#8d8dff"/></linearGradient><linearGradient id="h88"><stop offset="0" stop-color="#8686ff"/><stop offset=".026" stop-color="#4747ff"/><stop offset=".051" stop-color="#2424ff"/><stop offset=".077" stop-color="#1919ff"/><stop offset=".103" stop-color="#1717ff"/><stop offset=".256" stop-color="#1717ff"/><stop offset=".282" stop-color="#1616ff"/><stop offset=".308" stop-color="#1515ff"/><stop offset=".333" stop-color="#1313ff"/><stop offset=".359" stop-color="#1212ff"/><stop offset=".385" stop-color="#0f0fff"/><stop offset=".41" stop-color="#0b0bff"/><stop offset=".436" stop-color="#0404ff"/><stop offset=".462" stop-color="#0800f7"/><stop offset=".487" stop-color="#1400eb"/><stop offset=".513" stop-color="#1900e6"/><stop offset=".538" stop-color="#1400eb"/><stop offset=".564" stop-color="#0500fa"/><stop offset=".59" stop-color="#0a0aff"/><stop offset=".615" stop-color="#1717ff"/><stop offset=".641" stop-color="#2020ff"/><stop offset=".667" stop-color="#2727ff"/><stop offset=".692" stop-color="#2d2dff"/><stop offset=".718" stop-color="#3232ff"/><stop offset=".744" stop-color="#3636ff"/><stop offset=".769" stop-color="#3939ff"/><stop offset=".795" stop-color="#3a3aff"/><stop offset=".821" stop-color="#3b3bff"/><stop offset=".846" stop-color="#3a3aff"/><stop offset=".872" stop-color="#3737ff"/><stop offset=".897" stop-color="#3535ff"/><stop offset=".923" stop-color="#3333ff"/><stop offset=".949" stop-color="#3a3aff"/><stop offset=".974" stop-color="#5959ff"/><stop offset="1" stop-color="#9494ff"/></linearGradient><linearGradient id="h89"><stop offset="0" stop-color="#8d8dff"/><stop offset=".026" stop-color="#5252ff"/><stop offset=".051" stop-color="#3131ff"/><stop offset=".077" stop-color="#2727ff"/><stop offset=".103" stop-color="#2525ff"/><stop offset=".231" stop-color="#2525ff"/><stop offset=".256" stop-color="#2424ff"/><stop offset=".282" stop-color="#2424ff"/><stop offset=".308" stop-color="#2323ff"/><stop offset=".333" stop-color="#2121ff"/><stop offset=".359" stop-color="#2020ff"/><stop offset=".385" stop-color="#1e1eff"/><stop offset=".41" stop-color="#1a1aff"/><stop offset=".436" stop-color="#1414ff"/><stop offset=".462" stop-color="#0a0aff"/><stop offset=".487" stop-color="#0101ff"/><stop offset=".513" stop-color="#0400fb"/><stop offset=".538" stop-color="#0101ff"/><stop offset=".564" stop-color="#0d0dff"/><stop offset=".59" stop-color="#1b1bff"/><stop offset=".615" stop-color="#2626ff"/><stop offset=".641" stop-color="#2f2fff"/><stop offset=".667" stop-color="#3535ff"/><stop offset=".692" stop-color="#3a3aff"/><stop offset=".718" stop-color="#3f3fff"/><stop offset=".744" stop-color="#4343ff"/><stop offset=".769" stop-color="#4646ff"/><stop offset=".795" stop-color="#4747ff"/><stop offset=".821" stop-color="#4747ff"/><stop offset=".846" stop-color="#4646ff"/><stop offset=".872" stop-color="#4444ff"/><stop offset=".897" stop-color="#4141ff"/><stop offset=".923" stop-color="#4040ff"/><stop offset=".949" stop-color="#4646ff"/><stop offset=".974" stop-color="#6363ff"/><stop offset="1" stop-color="#9b9bff"/></linearGradient><linearGradient id="h90"><stop offset="0" stop-color="#9494ff"/><stop offset=".026" stop-color="#5c5cff"/><stop offset=".051" stop-color="#3d3dff"/><stop offset=".077" stop-color="#3333ff"/><stop offset=".103" stop-color="#3232ff"/><stop offset=".128" stop-color="#3131ff"/><stop offset=".256" stop-color="#3131ff"/><stop offset=".282" stop-color="#3030ff"/><stop offset=".308" stop-color="#3030ff"/><stop offset=".333" stop-color="#2f2fff"/><stop offset=".359" stop-color="#2d2dff"/><stop offset=".385" stop-color="#2c2cff"/><stop offset=".41" stop-color="#2929ff"/><stop offset=".436" stop-color="#2323ff"/><stop offset=".462" stop-color="#1b1bff"/><stop offset=".487" stop-color="#1313ff"/><stop offset=".513" stop-color="#1010ff"/><stop offset=".538" stop-color="#1414ff"/><stop offset=".564" stop-color="#1f1fff"/><stop offset=".59" stop-color="#2b2bff"/><stop offset=".615" stop-color="#3535ff"/><stop offset=".641" stop-color="#3c3cff"/><stop offset=".667" stop-color="#4242ff"/><stop offset=".692" stop-color="#4747ff"/><stop offset=".718" stop-color="#4b4bff"/><stop offset=".744" stop-color="#4f4fff"/><stop offset=".769" stop-color="#5252ff"/><stop offset=".795" stop-color="#5353ff"/><stop offset=".821" stop-color="#5353ff"/><stop offset=".846" stop-color="#5252ff"/><stop offset=".872" stop-color="#5050ff"/><stop offset=".897" stop-color="#4d4dff"/><stop offset=".923" stop-color="#4b4bff"/><stop offset=".949" stop-color="#5151ff"/><stop offset=".974" stop-color="#6c6cff"/><stop offset="1" stop-color="#a1a1ff"/></linearGradient><linearGradient id="h91"><stop offset="0" stop-color="#9a9aff"/><stop offset=".026" stop-color="#6565ff"/><stop offset=".051" stop-color="#4949ff"/><stop offset=".077" stop-color="#3f3fff"/><stop offset=".103" stop-color="#3e3eff"/><stop offset=".205" stop-color="#3e3eff"/><stop offset=".231" stop-color="#3d3dff"/><stop offset=".282" stop-color="#3d3dff"/><stop offset=".308" stop-color="#3c3cff"/><stop offset=".333" stop-color="#3b3bff"/><stop offset=".359" stop-color="#3a3aff"/><stop offset=".385" stop-color="#3939ff"/><stop offset=".41" stop-color="#3636ff"/><stop offset=".436" stop-color="#3232ff"/><stop offset=".462" stop-color="#2b2bff"/><stop offset=".487" stop-color="#2525ff"/><stop offset=".513" stop-color="#2222ff"/><stop offset=".538" stop-color="#2626ff"/><stop offset=".564" stop-color="#2f2fff"/><stop offset=".59" stop-color="#3939ff"/><stop offset=".615" stop-color="#4242ff"/><stop offset=".641" stop-color="#4848ff"/><stop offset=".667" stop-color="#4e4eff"/><stop offset=".692" stop-color="#5252ff"/><stop offset=".718" stop-color="#5757ff"/><stop offset=".744" stop-color="#5a5aff"/><stop offset=".769" stop-color="#5c5cff"/><stop offset=".795" stop-color="#5d5dff"/><stop offset=".821" stop-color="#5d5dff"/><stop offset=".846" stop-color="#5c5cff"/><stop offset=".872" stop-color="#5a5aff"/><stop offset=".897" stop-color="#5858ff"/><stop offset=".923" stop-color="#5656ff"/><stop offset=".949" stop-color="#5b5bff"/><stop offset=".974" stop-color="#7575ff"/><stop offset="1" stop-color="#a7a7ff"/></linearGradient><linearGradient id="h92"><stop offset="0" stop-color="#a0a0ff"/><stop offset=".026" stop-color="#6f6fff"/><stop offset=".051" stop-color="#5353ff"/><stop offset=".077" stop-color="#4b4bff"/><stop offset=".103" stop-color="#4949ff"/><stop offset=".256" stop-color="#4949ff"/><stop offset=".282" stop-color="#4848ff"/><stop offset=".308" stop-color="#4848ff"/><stop offset=".333" stop-color="#4747ff"/><stop offset=".359" stop-color="#4646ff"/><stop offset=".385" stop-color="#4545ff"/><stop offset=".41" stop-color="#4343ff"/><stop offset=".436" stop-color="#4040ff"/><stop offset=".462" stop-color="#3a3aff"/><stop offset=".487" stop-color="#3535ff"/><stop offset=".513" stop-color="#3333ff"/><stop offset=".538" stop-color="#3636ff"/><stop offset=".564" stop-color="#3e3eff"/><stop offset=".59" stop-color="#4747ff"/><stop offset=".615" stop-color="#4e4eff"/><stop offset=".641" stop-color="#5454ff"/><stop offset=".667" stop-color="#5959ff"/><stop offset=".692" stop-color="#5d5dff"/><stop offset=".718" stop-color="#6161ff"/><stop offset=".744" stop-color="#6464ff"/><stop offset=".769" stop-color="#6666ff"/><stop offset=".795" stop-color="#6767ff"/><stop offset=".821" stop-color="#6767ff"/><stop offset=".846" stop-color="#6666ff"/><stop offset=".872" stop-color="#6464ff"/><stop offset=".897" stop-color="#6161ff"/><stop offset=".923" stop-color="#6060ff"/><stop offset=".949" stop-color="#6565ff"/><stop offset=".974" stop-color="#7d7dff"/><stop offset="1" stop-color="#acacff"/></linearGradient><linearGradient id="h93"><stop offset="0" stop-color="#a6a6ff"/><stop offset=".026" stop-color="#7878ff"/><stop offset=".051" stop-color="#5e5eff"/><stop offset=".077" stop-color="#5656ff"/><stop offset=".103" stop-color="#5555ff"/><stop offset=".231" stop-color="#5555ff"/><stop offset=".256" stop-color="#5454ff"/><stop offset=".282" stop-color="#5454ff"/><stop offset=".308" stop-color="#5353ff"/><stop offset=".333" stop-color="#5353ff"/><stop offset=".359" stop-color="#5252ff"/><stop offset=".385" stop-color="#5151ff"/><stop offset=".41" stop-color="#5050ff"/><stop offset=".436" stop-color="#4d4dff"/><stop offset=".462" stop-color="#4949ff"/><stop offset=".487" stop-color="#4444ff"/><stop offset=".513" stop-color="#4343ff"/><stop offset=".538" stop-color="#4545ff"/><stop offset=".564" stop-color="#4c4cff"/><stop offset=".59" stop-color="#5353ff"/><stop offset=".615" stop-color="#5a5aff"/><stop offset=".641" stop-color="#5f5fff"/><stop offset=".667" stop-color="#6363ff"/><stop offset=".692" stop-color="#6666ff"/><stop offset=".718" stop-color="#6a6aff"/><stop offset=".744" stop-color="#6c6cff"/><stop offset=".769" stop-color="#6e6eff"/><stop offset=".795" stop-color="#6f6fff"/><stop offset=".821" stop-color="#6f6fff"/><stop offset=".846" stop-color="#6e6eff"/><stop offset=".872" stop-color="#6c6cff"/><stop offset=".897" stop-color="#6a6aff"/><stop offset=".923" stop-color="#6969ff"/><stop offset=".949" stop-color="#6e6eff"/><stop offset=".974" stop-color="#8585ff"/><stop offset="1" stop-color="#b1b1ff"/></linearGradient><linearGradient id="h94"><stop offset="0" stop-color="#acacff"/><stop offset=".026" stop-color="#8181ff"/><stop offset=".051" stop-color="#6969ff"/><stop offset=".077" stop-color="#6262ff"/><stop offset=".103" stop-color="#6161ff"/><stop offset=".128" stop-color="#6060ff"/><stop offset=".282" stop-color="#6060ff"/><stop offset=".308" stop-color="#5f5fff"/><stop offset=".333" stop-color="#5f5fff"/><stop offset=".359" stop-color="#5e5eff"/><stop offset=".385" stop-color="#5e5eff"/><stop offset=".41" stop-color="#5c5cff"/><stop offset=".436" stop-color="#5a5aff"/><stop offset=".462" stop-color="#5757ff"/><stop offset=".487" stop-color="#5353ff"/><stop offset=".513" stop-color="#5252ff"/><stop offset=".538" stop-color="#5454ff"/><stop offset=".564" stop-color="#5a5aff"/><stop offset=".59" stop-color="#6060ff"/><stop offset=".615" stop-color="#6565ff"/><stop offset=".641" stop-color="#6969ff"/><stop offset=".667" stop-color="#6d6dff"/><stop offset=".692" stop-color="#7070ff"/><stop offset=".718" stop-color="#7373ff"/><stop offset=".744" stop-color="#7575ff"/><stop offset=".769" stop-color="#7777ff"/><stop offset=".821" stop-color="#7777ff"/><stop offset=".846" stop-color="#7676ff"/><stop offset=".872" stop-color="#7575ff"/><stop offset=".897" stop-color="#7373ff"/><stop offset=".923" stop-color="#7272ff"/><stop offset=".949" stop-color="#7777ff"/><stop offset=".974" stop-color="#8c8cff"/><stop offset="1" stop-color="#b5b5ff"/></linearGradient><linearGradient id="h95"><stop offset="0" stop-color="#b3b3ff"/><stop offset=".026" stop-color="#8c8cff"/><stop offset=".051" stop-color="#7676ff"/><stop offset=".077" stop-color="#6f6fff"/><stop offset=".103" stop-color="#6e6eff"/><stop offset=".256" stop-color="#6e6eff"/><stop offset=".282" stop-color="#6d6dff"/><stop offset=".333" stop-color="#6d6dff"/><stop offset=".359" stop-color="#6c6cff"/><stop offset=".385" stop-color="#6b6bff"/><stop offset=".41" stop-color="#6a6aff"/><stop offset=".436" stop-color="#6868ff"/><stop offset=".462" stop-color="#6565ff"/><stop offset=".487" stop-color="#6262ff"/><stop offset=".513" stop-color="#6161ff"/><stop offset=".538" stop-color="#6363ff"/><stop offset=".564" stop-color="#6868ff"/><stop offset=".59" stop-color="#6d6dff"/><stop offset=".615" stop-color="#7272ff"/><stop offset=".641" stop-color="#7575ff"/><stop offset=".667" stop-color="#7878ff"/><stop offset=".692" stop-color="#7b7bff"/><stop offset=".718" stop-color="#7d7dff"/><stop offset=".744" stop-color="#7f7fff"/><stop offset=".769" stop-color="#8080ff"/><stop offset=".795" stop-color="#8181ff"/><stop offset=".821" stop-color="#8181ff"/><stop offset=".846" stop-color="#8080ff"/><stop offset=".872" stop-color="#7f7fff"/><stop offset=".897" stop-color="#7e7eff"/><stop offset=".923" stop-color="#7d7dff"/><stop offset=".949" stop-color="#8181ff"/><stop offset=".974" stop-color="#9595ff"/><stop offset="1" stop-color="#bbbbff"/></linearGradient><linearGradient id="h96"><stop offset="0" stop-color="#babaff"/><stop offset=".026" stop-color="#9696ff"/><stop offset=".051" stop-color="#8383ff"/><stop offset=".077" stop-color="#7d7dff"/><stop offset=".103" stop-color="#7c7cff"/><stop offset=".128" stop-color="#7b7bff"/><stop offset=".308" stop-color="#7b7bff"/><stop offset=".333" stop-color="#7a7aff"/><stop offset=".359" stop-color="#7a7aff"/><stop offset=".385" stop-color="#7979ff"/><stop offset=".41" stop-color="#7878ff"/><stop offset=".436" stop-color="#7676ff"/><stop offset=".462" stop-color="#7474ff"/><stop offset=".487" stop-color="#7171ff"/><stop offset=".513" stop-color="#7070ff"/><stop offset=".538" stop-color="#7272ff"/><stop offset=".564" stop-color="#7676ff"/><stop offset=".59" stop-color="#7a7aff"/><stop offset=".615" stop-color="#7e7eff"/><stop offset=".641" stop-color="#8181ff"/><stop offset=".667" stop-color="#8383ff"/><stop offset=".692" stop-color="#8686ff"/><stop offset=".718" stop-color="#8888ff"/><stop offset=".744" stop-color="#8989ff"/><stop offset=".769" stop-color="#8a8aff"/><stop offset=".795" stop-color="#8b8bff"/><stop offset=".821" stop-color="#8b8bff"/><stop offset=".846" stop-color="#8a8aff"/><stop offset=".872" stop-color="#8989ff"/><stop offset=".897" stop-color="#8888ff"/><stop offset=".923" stop-color="#8787ff"/><stop offset=".949" stop-color="#8c8cff"/><stop offset=".974" stop-color="#9e9eff"/><stop offset="1" stop-color="#c0c0ff"/></linearGradient><linearGradient id="h97"><stop offset="0" stop-color="#c1c1ff"/><stop offset=".026" stop-color="#a1a1ff"/><stop offset=".051" stop-color="#8f8fff"/><stop offset=".077" stop-color="#8a8aff"/><stop offset=".103" stop-color="#8989ff"/><stop offset=".179" stop-color="#8989ff"/><stop offset=".205" stop-color="#8888ff"/><stop offset=".308" stop-color="#8888ff"/><stop offset=".333" stop-color="#8787ff"/><stop offset=".385" stop-color="#8787ff"/><stop offset=".41" stop-color="#8686ff"/><stop offset=".436" stop-color="#8484ff"/><stop offset=".462" stop-color="#8282ff"/><stop offset=".487" stop-color="#8080ff"/><stop offset=".513" stop-color="#7f7fff"/><stop offset=".538" stop-color="#8080ff"/><stop offset=".564" stop-color="#8383ff"/><stop offset=".59" stop-color="#8787ff"/><stop offset=".615" stop-color="#8a8aff"/><stop offset=".641" stop-color="#8d8dff"/><stop offset=".667" stop-color="#8f8fff"/><stop offset=".692" stop-color="#9090ff"/><stop offset=".718" stop-color="#9292ff"/><stop offset=".744" stop-color="#9393ff"/><stop offset=".769" stop-color="#9494ff"/><stop offset=".846" stop-color="#9494ff"/><stop offset=".872" stop-color="#9393ff"/><stop offset=".897" stop-color="#9292ff"/><stop offset=".923" stop-color="#9292ff"/><stop offset=".949" stop-color="#9696ff"/><stop offset=".974" stop-color="#a7a7ff"/><stop offset="1" stop-color="#c6c6ff"/></linearGradient><linearGradient id="h98"><stop offset="0" stop-color="#c8c8ff"/><stop offset=".026" stop-color="#ababff"/><stop offset=".051" stop-color="#9b9bff"/><stop offset=".077" stop-color="#9696ff"/><stop offset=".103" stop-color="#9595ff"/><stop offset=".308" stop-color="#9595ff"/><stop offset=".333" stop-color="#9494ff"/><stop offset=".385" stop-color="#9494ff"/><stop offset=".41" stop-color="#9393ff"/><stop offset=".436" stop-color="#9292ff"/><stop offset=".462" stop-color="#9090ff"/><stop offset=".487" stop-color="#8e8eff"/><stop offset=".513" stop-color="#8d8dff"/><stop offset=".538" stop-color="#8e8eff"/><stop offset=".564" stop-color="#9191ff"/><stop offset=".59" stop-color="#9494ff"/><stop offset=".615" stop-color="#9696ff"/><stop offset=".641" stop-color="#9898ff"/><stop offset=".667" stop-color="#9a9aff"/><stop offset=".692" stop-color="#9b9bff"/><stop offset=".718" stop-color="#9c9cff"/><stop offset=".744" stop-color="#9d9dff"/><stop offset=".769" stop-color="#9e9eff"/><stop offset=".846" stop-color="#9e9eff"/><stop offset=".872" stop-color="#9d9dff"/><stop offset=".897" stop-color="#9c9cff"/><stop offset=".923" stop-color="#9c9cff"/><stop offset=".949" stop-color="#a0a0ff"/><stop offset=".974" stop-color="#afafff"/><stop offset="1" stop-color="#cbcbff"/></linearGradient><linearGradient id="h99"><stop offset="0" stop-color="#ceceff"/><stop offset=".026" stop-color="#b5b5ff"/><stop offset=".051" stop-color="#a7a7ff"/><stop offset=".077" stop-color="#a2a2ff"/><stop offset=".103" stop-color="#a2a2ff"/><stop offset=".128" stop-color="#a1a1ff"/><stop offset=".333" stop-color="#a1a1ff"/><stop offset=".359" stop-color="#a0a0ff"/><stop offset=".385" stop-color="#a0a0ff"/><stop offset=".41" stop-color="#9f9fff"/><stop offset=".436" stop-color="#9e9eff"/><stop offset=".462" stop-color="#9d9dff"/><stop offset=".487" stop-color="#9b9bff"/><stop offset=".513" stop-color="#9a9aff"/><stop offset=".538" stop-color="#9b9bff"/><stop offset=".564" stop-color="#9d9dff"/><stop offset=".59" stop-color="#a0a0ff"/><stop offset=".615" stop-color="#a2a2ff"/><stop offset=".641" stop-color="#a3a3ff"/><stop offset=".667" stop-color="#a4a4ff"/><stop offset=".692" stop-color="#a5a5ff"/><stop offset=".718" stop-color="#a6a6ff"/><stop offset=".744" stop-color="#a7a7ff"/><stop offset=".769" stop-color="#a7a7ff"/><stop offset=".795" stop-color="#a8a8ff"/><stop offset=".821" stop-color="#a8a8ff"/><stop offset=".846" stop-color="#a7a7ff"/><stop offset=".872" stop-color="#a7a7ff"/><stop offset=".897" stop-color="#a6a6ff"/><stop offset=".923" stop-color="#a7a7ff"/><stop offset=".949" stop-color="#aaaaff"/><stop offset=".974" stop-color="#b8b8ff"/><stop offset="1" stop-color="#d1d1ff"/></linearGradient><linearGradient id="h100"><stop offset="0" stop-color="#d4d4ff"/><stop offset=".026" stop-color="#bebeff"/><stop offset=".051" stop-color="#b1b1ff"/><stop offset=".077" stop-color="#aeaeff"/><stop offset=".103" stop-color="#adadff"/><stop offset=".282" stop-color="#adadff"/><stop offset=".308" stop-color="#acacff"/><stop offset=".385" stop-color="#acacff"/><stop offset=".41" stop-color="#ababff"/><stop offset=".436" stop-color="#aaaaff"/><stop offset=".462" stop-color="#a9a9ff"/><stop offset=".487" stop-color="#a7a7ff"/><stop offset=".538" stop-color="#a7a7ff"/><stop offset=".564" stop-color="#a9a9ff"/><stop offset=".59" stop-color="#ababff"/><stop offset=".615" stop-color="#adadff"/><stop offset=".641" stop-color="#aeaeff"/><stop offset=".667" stop-color="#afafff"/><stop offset=".692" stop-color="#afafff"/><stop offset=".718" stop-color="#b0b0ff"/><stop offset=".744" stop-color="#b0b0ff"/><stop offset=".769" stop-color="#b1b1ff"/><stop offset=".872" stop-color="#b1b1ff"/><stop offset=".897" stop-color="#b0b0ff"/><stop offset=".923" stop-color="#b1b1ff"/><stop offset=".949" stop-color="#b4b4ff"/><stop offset=".974" stop-color="#c0c0ff"/><stop offset="1" stop-color="#d6d6ff"/></linearGradient><linearGradient id="h101"><stop offset="0" stop-color="#dadaff"/><stop offset=".026" stop-color="#c6c6ff"/><stop offset=".051" stop-color="#bcbcff"/><stop offset=".077" stop-color="#b8b8ff"/><stop offset=".205" stop-color="#b8b8ff"/><stop offset=".231" stop-color="#b7b7ff"/><stop offset=".385" stop-color="#b7b7ff"/><stop offset=".41" stop-color="#b6b6ff"/><stop offset=".436" stop-color="#b5b5ff"/><stop offset=".462" stop-color="#b4b4ff"/><stop offset=".487" stop-color="#b3b3ff"/><stop offset=".513" stop-color="#b2b2ff"/><stop offset=".538" stop-color="#b3b3ff"/><stop offset=".564" stop-color="#b4b4ff"/><stop offset=".59" stop-color="#b6b6ff"/><stop offset=".615" stop-color="#b7b7ff"/><stop offset=".641" stop-color="#b8b8ff"/><stop offset=".667" stop-color="#b8b8ff"/><stop offset=".692" stop-color="#b9b9ff"/><stop offset=".718" stop-color="#b9b9ff"/><stop offset=".744" stop-color="#babaff"/><stop offset=".923" stop-color="#babaff"/><stop offset=".949" stop-color="#bdbdff"/><stop offset=".974" stop-color="#c8c8ff"/><stop offset="1" stop-color="#dbdbff"/></linearGradient><linearGradient id="h102"><stop offset="0" stop-color="#dfdfff"/><stop offset=".026" stop-color="#ceceff"/><stop offset=".051" stop-color="#c5c5ff"/><stop offset=".077" stop-color="#c2c2ff"/><stop offset=".103" stop-color="#c1c1ff"/><stop offset=".385" stop-color="#c1c1ff"/><stop offset=".41" stop-color="#c0c0ff"/><stop offset=".436" stop-color="#c0c0ff"/><stop offset=".462" stop-color="#bfbfff"/><stop offset=".487" stop-color="#bdbdff"/><stop offset=".538" stop-color="#bdbdff"/><stop offset=".564" stop-color="#bebeff"/><stop offset=".59" stop-color="#c0c0ff"/><stop offset=".615" stop-color="#c1c1ff"/><stop offset=".641" stop-color="#c1c1ff"/><stop offset=".667" stop-color="#c2c2ff"/><stop offset=".718" stop-color="#c2c2ff"/><stop offset=".744" stop-color="#c3c3ff"/><stop offset=".923" stop-color="#c3c3ff"/><stop offset=".949" stop-color="#c6c6ff"/><stop offset=".974" stop-color="#cfcfff"/><stop offset="1" stop-color="#e0e0ff"/></linearGradient><linearGradient id="h103"><stop offset="0" stop-color="#e4e4ff"/><stop offset=".026" stop-color="#d5d5ff"/><stop offset=".051" stop-color="#cdcdff"/><stop offset=".077" stop-color="#cbcbff"/><stop offset=".103" stop-color="#cacaff"/><stop offset=".385" stop-color="#cacaff"/><stop offset=".41" stop-color="#c9c9ff"/><stop offset=".436" stop-color="#c9c9ff"/><stop offset=".462" stop-color="#c8c8ff"/><stop offset=".487" stop-color="#c7c7ff"/><stop offset=".538" stop-color="#c7c7ff"/><stop offset=".564" stop-color="#c8c8ff"/><stop offset=".59" stop-color="#c9c9ff"/><stop offset=".615" stop-color="#cacaff"/><stop offset=".667" stop-color="#cacaff"/><stop offset=".692" stop-color="#cbcbff"/><stop offset=".897" stop-color="#cbcbff"/><stop offset=".923" stop-color="#ccccff"/><stop offset=".949" stop-color="#ceceff"/><stop offset=".974" stop-color="#d6d6ff"/><stop offset="1" stop-color="#e4e4ff"/></linearGradient><linearGradient id="h104"><stop offset="0" stop-color="#e8e8ff"/><stop offset=".026" stop-color="#dcdcff"/><stop offset=".051" stop-color="#d5d5ff"/><stop offset=".077" stop-color="#d3d3ff"/><stop offset=".231" stop-color="#d3d3ff"/><stop offset=".256" stop-color="#d2d2ff"/><stop offset=".41" stop-color="#d2d2ff"/><stop offset=".436" stop-color="#d1d1ff"/><stop offset=".462" stop-color="#d1d1ff"/><stop offset=".487" stop-color="#d0d0ff"/><stop offset=".538" stop-color="#d0d0ff"/><stop offset=".564" stop-color="#d1d1ff"/><stop offset=".59" stop-color="#d1d1ff"/><stop offset=".615" stop-color="#d2d2ff"/><stop offset=".667" stop-color="#d2d2ff"/><stop offset=".692" stop-color="#d3d3ff"/><stop offset=".923" stop-color="#d3d3ff"/><stop offset=".949" stop-color="#d5d5ff"/><stop offset=".974" stop-color="#dcdcff"/><stop offset="1" stop-color="#e8e8ff"/></linearGradient><linearGradient id="h105"><stop offset="0" stop-color="#ececff"/><stop offset=".026" stop-color="#e1e1ff"/><stop offset=".051" stop-color="#dcdcff"/><stop offset=".077" stop-color="#dadaff"/><stop offset=".359" stop-color="#dadaff"/><stop offset=".385" stop-color="#d9d9ff"/><stop offset=".436" stop-color="#d9d9ff"/><stop offset=".462" stop-color="#d8d8ff"/><stop offset=".564" stop-color="#d8d8ff"/><stop offset=".59" stop-color="#d9d9ff"/><stop offset=".615" stop-color="#d9d9ff"/><stop offset=".641" stop-color="#dadaff"/><stop offset=".923" stop-color="#dadaff"/><stop offset=".949" stop-color="#dcdcff"/><stop offset=".974" stop-color="#e2e2ff"/><stop offset="1" stop-color="#ececff"/></linearGradient><linearGradient id="h106"><stop offset="0" stop-color="#efefff"/><stop offset=".026" stop-color="#e7e7ff"/><stop offset=".051" stop-color="#e2e2ff"/><stop offset=".077" stop-color="#e1e1ff"/><stop offset=".103" stop-color="#e0e0ff"/><stop offset=".436" stop-color="#e0e0ff"/><stop offset=".462" stop-color="#dfdfff"/><stop offset=".487" stop-color="#dfdfff"/><stop offset=".513" stop-color="#dedeff"/><stop offset=".538" stop-color="#dfdfff"/><stop offset=".59" stop-color="#dfdfff"/><stop offset=".615" stop-color="#e0e0ff"/><stop offset=".897" stop-color="#e0e0ff"/><stop offset=".923" stop-color="#e1e1ff"/><stop offset=".949" stop-color="#e2e2ff"/><stop offset=".974" stop-color="#e7e7ff"/><stop offset="1" stop-color="#efefff"/></linearGradient><linearGradient id="h107"><stop offset="0" stop-color="#f2f2ff"/><stop offset=".026" stop-color="#ebebff"/><stop offset=".051" stop-color="#e7e7ff"/><stop offset=".077" stop-color="#e6e6ff"/><stop offset=".385" stop-color="#e6e6ff"/><stop offset=".41" stop-color="#e5e5ff"/><stop offset=".487" stop-color="#e5e5ff"/><stop offset=".513" stop-color="#e4e4ff"/><stop offset=".538" stop-color="#e5e5ff"/><stop offset=".615" stop-color="#e5e5ff"/><stop offset=".641" stop-color="#e6e6ff"/><stop offset=".923" stop-color="#e6e6ff"/><stop offset=".949" stop-color="#e7e7ff"/><stop offset=".974" stop-color="#ebebff"/><stop offset="1" stop-color="#f2f2ff"/></linearGradient><linearGradient id="h108"><stop offset="0" stop-color="#f4f4ff"/><stop offset=".026" stop-color="#efefff"/><stop offset=".051" stop-color="#ececff"/><stop offset=".077" stop-color="#ebebff"/><stop offset=".308" stop-color="#ebebff"/><stop offset=".333" stop-color="#eaeaff"/><stop offset=".667" stop-color="#eaeaff"/><stop offset=".692" stop-color="#ebebff"/><stop offset=".923" stop-color="#ebebff"/><stop offset=".949" stop-color="#ececff"/><stop offset=".974" stop-color="#efefff"/><stop offset="1" stop-color="#f4f4ff"/></linearGradient><linearGradient id="h109"><stop offset="0" stop-color="#f6f6ff"/><stop offset=".026" stop-color="#f2f2ff"/><stop offset=".051" stop-color="#efefff"/><stop offset=".256" stop-color="#efefff"/><stop offset=".282" stop-color="#eeeeff"/><stop offset=".744" stop-color="#eeeeff"/><stop offset=".769" stop-color="#efefff"/><stop offset=".949" stop-color="#efefff"/><stop offset=".974" stop-color="#f2f2ff"/><stop offset="1" stop-color="#f6f6ff"/></linearGradient><linearGradient id="h110"><stop offset="0" stop-color="#f8f8ff"/><stop offset=".026" stop-color="#f4f4ff"/><stop offset=".051" stop-color="#f2f2ff"/><stop offset=".436" stop-color="#f2f2ff"/><stop offset=".462" stop-color="#f1f1ff"/><stop offset=".59" stop-color="#f1f1ff"/><stop offset=".615" stop-color="#f2f2ff"/><stop offset=".923" stop-color="#f2f2ff"/><stop offset=".949" stop-color="#f3f3ff"/><stop offset=".974" stop-color="#f4f4ff"/><stop offset="1" stop-color="#f8f8ff"/></linearGradient><linearGradient id="h111"><stop offset="0" stop-color="#f9f9ff"/><stop offset=".026" stop-color="#f7f7ff"/><stop offset=".051" stop-color="#f5f5ff"/><stop offset=".077" stop-color="#f4f4ff"/><stop offset=".897" stop-color="#f4f4ff"/><stop offset=".923" stop-color="#f5f5ff"/><stop offset=".949" stop-color="#f5f5ff"/><stop offset=".974" stop-color="#f7f7ff"/><stop offset="1" stop-color="#f9f9ff"/></linearGradient><linearGradient id="h112"><stop offset="0" stop-color="#fbfbff"/><stop offset=".026" stop-color="#f8f8ff"/><stop offset=".051" stop-color="#f7f7ff"/><stop offset=".359" stop-color="#f7f7ff"/><stop offset=".385" stop-color="#f6f6ff"/><stop offset=".641" stop-color="#f6f6ff"/><stop offset=".667" stop-color="#f7f7ff"/><stop offset=".949" stop-color="#f7f7ff"/><stop offset=".974" stop-color="#f8f8ff"/><stop offset="1" stop-color="#fbfbff"/></linearGradient><linearGradient id="h113"><stop offset="0" stop-color="#fbfbff"/><stop offset=".026" stop-color="#fafaff"/><stop offset=".051" stop-color="#f9f9ff"/><stop offset=".077" stop-color="#f8f8ff"/><stop offset=".923" stop-color="#f8f8ff"/><stop offset=".949" stop-color="#f9f9ff"/><stop offset=".974" stop-color="#fafaff"/><stop offset="1" stop-color="#fcfcff"/></linearGradient><linearGradient id="h114"><stop offset="0" stop-color="#fcfcff"/><stop offset=".026" stop-color="#fbfbff"/><stop offset=".051" stop-color="#fafaff"/><stop offset=".949" stop-color="#fafaff"/><stop offset=".974" stop-color="#fbfbff"/><stop offset="1" stop-color="#fcfcff"/></linearGradient><linearGradient id="h115"><stop offset="0" stop-color="#fdfdff"/><stop offset=".026" stop-color="#fcfcff"/><stop offset=".051" stop-color="#fbfbff"/><stop offset=".949" stop-color="#fbfbff"/><stop offset=".974" stop-color="#fcfcff"/><stop offset="1" stop-color="#fdfdff"/></linearGradient><linearGradient id="h116"><stop offset="0" stop-color="#fdfdff"/><stop offset=".026" stop-color="#fcfcff"/><stop offset=".974" stop-color="#fcfcff"/><stop offset="1" stop-color="#fdfdff"/></linearGradient><linearGradient id="h117"><stop offset="0" stop-color="#fefeff"/><stop offset=".026" stop-color="#fdfdff"/><stop offset=".051" stop-color="#fdfdff"/><stop offset=".077" stop-color="#fcfcff"/><stop offset=".923" stop-color="#fcfcff"/><stop offset=".949" stop-color="#fdfdff"/><stop offset=".974" stop-color="#fdfdff"/><stop offset="1" stop-color="#fefeff"/></linearGradient><linearGradient id="h118"><stop offset="0" stop-color="#fefeff"/><stop offset=".026" stop-color="#fdfdff"/><stop offset=".974" stop-color="#fdfdff"/><stop offset="1" stop-color="#fefeff"/></linearGradient><linearGradient id="h119"><stop offset="0" stop-color="#fefeff"/><stop offset=".026" stop-color="#fefeff"/><stop offset=".051" stop-color="#fdfdff"/><stop offset=".949" stop-color="#fdfdff"/><stop offset=".974" stop-color="#fefeff"/><stop offset="1" stop-color="#fefeff"/></linearGradient><linearGradient id="h123"><stop offset="0" stop-color="#ffffff"/><stop offset=".026" stop-color="#fefeff"/><stop offset=".974" stop-color="#fefeff"/><stop offset="1" stop-color="#ffffff"/></linearGradient><linearGradient id="h124"><stop offset="0" stop-color="#ffffff"/><stop offset=".026" stop-color="#fefeff"/><stop offset=".974" stop-color="#fefeff"/><stop offset="1" stop-color="#ffffff"/></linearGradient><linearGradient id="h125"><stop offset="0" stop-color="#ffffff"/><stop offset=".026" stop-color="#fefeff"/><stop offset=".974" stop-color="#fefeff"/><stop offset="1" stop-color="#ffffff"/></linearGradient><linearGradient id="h126"><stop offset="0" stop-color="#ffffff"/><stop offset=".026" stop-color="#ffffff"/><stop offset=".051" stop-color="#fefeff"/><stop offset=".949" stop-color="#fefeff"/><stop offset=".974" stop-color="#ffffff"/><stop offset="1" stop-color="#ffffff"/></linearGradient><linearGradient id="h127"><stop offset="0" stop-color="#ffffff"/><stop offset=".026" stop-color="#ffffff"/><stop offset=".051" stop-color="#fefeff"/><stop offset=".949" stop-color="#fefeff"/><stop offset=".974" stop-color="#ffffff"/><stop offset="1" stop-color="#ffffff"/></linearGradient><linearGradient id="h128"><stop offset="0" stop-color="#ffffff"/><stop offset=".077" stop-color="#ffffff"/><stop offset=".103" stop-color="#fefeff"/><stop offset=".897" stop-color="#fefeff"/><stop offset=".923" stop-color="#ffffff"/><stop offset="1" stop-color="#ffffff"/></linearGradient>
<clipPath id="hc"><rect x="699.76" y="47.81" width="532.43" height="532.43"/></clipPath>
<filter id="hb" x="0" y="-.02" width="1" height="1.04" color-interpolation-filters="sRGB"><feGaussianBlur stdDeviation="0 2.2"/></filter></defs>
<g clip-path="url(#hc)"><g filter="url(#hb)"><rect x="699.76" y="39.81" width="532.43" height="4.3" fill="url(#h0)"/><rect x="699.76" y="43.81" width="532.43" height="4.3" fill="url(#h1)"/><rect x="699.76" y="47.81" width="532.43" height="4.3" fill="url(#h2)"/><rect x="699.76" y="51.81" width="532.43" height="4.3" fill="url(#h3)"/><rect x="699.76" y="55.81" width="532.43" height="4.3" fill="url(#h4)"/><rect x="699.76" y="59.81" width="532.43" height="4.3" fill="url(#h5)"/><rect x="699.76" y="63.81" width="532.43" height="4.3" fill="url(#h6)"/><rect x="699.76" y="67.81" width="532.43" height="4.3" fill="url(#h7)"/><rect x="699.76" y="71.81" width="532.43" height="4.3" fill="url(#h8)"/><rect x="699.76" y="75.81" width="532.43" height="4.3" fill="url(#h9)"/><rect x="699.76" y="79.81" width="532.43" height="4.3" fill="url(#h10)"/><rect x="699.76" y="83.81" width="532.43" height="4.3" fill="url(#h11)"/><rect x="699.76" y="87.81" width="532.43" height="4.3" fill="url(#h12)"/><rect x="699.76" y="91.81" width="532.43" height="4.3" fill="url(#h13)"/><rect x="699.76" y="95.81" width="532.43" height="4.3" fill="url(#h14)"/><rect x="699.76" y="99.81" width="532.43" height="4.3" fill="url(#h15)"/><rect x="699.76" y="103.81" width="532.43" height="4.3" fill="url(#h16)"/><rect x="699.76" y="107.81" width="532.43" height="4.3" fill="url(#h17)"/><rect x="699.76" y="111.81" width="532.43" height="4.3" fill="url(#h18)"/><rect x="699.76" y="115.81" width="532.43" height="4.3" fill="url(#h19)"/><rect x="699.76" y="119.81" width="532.43" height="4.3" fill="url(#h20)"/><rect x="699.76" y="123.81" width="532.43" height="4.3" fill="url(#h21)"/><rect x="699.76" y="127.81" width="532.43" height="4.3" fill="url(#h22)"/><rect x="699.76" y="131.81" width="532.43" height="4.3" fill="url(#h23)"/><rect x="699.76" y="135.81" width="532.43" height="4.3" fill="url(#h24)"/><rect x="699.76" y="139.81" width="532.43" height="4.3" fill="url(#h25)"/><rect x="699.76" y="143.81" width="532.43" height="4.3" fill="url(#h26)"/><rect x="699.76" y="147.81" width="532.43" height="4.3" fill="url(#h27)"/><rect x="699.76" y="151.81" width="532.43" height="4.3" fill="url(#h28)"/><rect x="699.76" y="155.81" width="532.43" height="4.3" fill="url(#h29)"/><rect x="699.76" y="159.81" width="532.43" height="4.3" fill="url(#h30)"/><rect x="699.76" y="163.81" width="532.43" height="4.3" fill="url(#h31)"/><rect x="699.76" y="167.81" width="532.43" height="4.3" fill="url(#h32)"/><rect x="699.76" y="171.81" width="532.43" height="4.3" fill="url(#h33)"/><rect x="699.76" y="175.81" width="532.43" height="4.3" fill="url(#h34)"/><rect x="699.76" y="179.81" width="532.43" height="4.3" fill="url(#h35)"/><rect x="699.76" y="183.81" width="532.43" height="4.3" fill="url(#h36)"/><rect x="699.76" y="187.81" width="532.43" height="4.3" fill="url(#h37)"/><rect x="699.76" y="191.81" width="532.43" height="4.3" fill="url(#h38)"/><rect x="699.76" y="195.81" width="532.43" height="4.3" fill="url(#h39)"/><rect x="699.76" y="199.81" width="532.43" height="4.3" fill="url(#h40)"/><rect x="699.76" y="203.81" width="532.43" height="4.3" fill="url(#h41)"/><rect x="699.76" y="207.81" width="532.43" height="4.3" fill="url(#h42)"/><rect x="699.76" y="211.81" width="532.43" height="4.3" fill="url(#h43)"/><rect x="699.76" y="215.81" width="532.43" height="4.3" fill="url(#h44)"/><rect x="699.76" y="219.81" width="532.43" height="4.3" fill="url(#h45)"/><rect x="699.76" y="223.81" width="532.43" height="4.3" fill="url(#h46)"/><rect x="699.76" y="227.81" width="532.43" height="4.3" fill="url(#h47)"/><rect x="699.76" y="231.81" width="532.43" height="4.3" fill="url(#h48)"/><rect x="699.76" y="235.81" width="532.43" height="4.3" fill="url(#h49)"/><rect x="699.76" y="239.81" width="532.43" height="4.3" fill="url(#h50)"/><rect x="699.76" y="243.81" width="532.43" height="4.3" fill="url(#h51)"/><rect x="699.76" y="247.81" width="532.43" height="4.3" fill="url(#h52)"/><rect x="699.76" y="251.81" width="532.43" height="4.3" fill="url(#h53)"/><rect x="699.76" y="255.81" width="532.43" height="4.3" fill="url(#h54)"/><rect x="699.76" y="259.81" width="532.43" height="4.3" fill="url(#h55)"/><rect x="699.76" y="263.81" width="532.43" height="4.3" fill="url(#h56)"/><rect x="699.76" y="267.81" width="532.43" height="4.3" fill="url(#h57)"/><rect x="699.76" y="271.81" width="532.43" height="4.3" fill="url(#h58)"/><rect x="699.76" y="275.81" width="532.43" height="4.3" fill="url(#h59)"/><rect x="699.76" y="279.81" width="532.43" height="4.3" fill="url(#h60)"/><rect x="699.76" y="283.81" width="532.43" height="4.3" fill="url(#h61)"/><rect x="699.76" y="287.81" width="532.43" height="4.3" fill="url(#h62)"/><rect x="699.76" y="291.81" width="532.43" height="4.3" fill="url(#h63)"/><rect x="699.76" y="295.81" width="532.43" height="4.3" fill="url(#h64)"/><rect x="699.76" y="299.81" width="532.43" height="4.3" fill="url(#h65)"/><rect x="699.76" y="303.81" width="532.43" height="4.3" fill="url(#h66)"/><rect x="699.76" y="307.81" width="532.43" height="4.3" fill="url(#h67)"/><rect x="699.76" y="311.81" width="532.43" height="4.3" fill="url(#h68)"/><rect x="699.76" y="315.81" width="532.43" height="4.3" fill="url(#h69)"/><rect x="699.76" y="319.81" width="532.43" height="4.3" fill="url(#h70)"/><rect x="699.76" y="323.81" width="532.43" height="4.3" fill="url(#h71)"/><rect x="699.76" y="327.81" width="532.43" height="4.3" fill="url(#h72)"/><rect x="699.76" y="331.81" width="532.43" height="4.3" fill="url(#h73)"/><rect x="699.76" y="335.81" width="532.43" height="4.3" fill="url(#h74)"/><rect x="699.76" y="339.81" width="532.43" height="4.3" fill="url(#h75)"/><rect x="699.76" y="343.81" width="532.43" height="4.3" fill="url(#h76)"/><rect x="699.76" y="347.81" width="532.43" height="4.3" fill="url(#h77)"/><rect x="699.76" y="351.81" width="532.43" height="4.3" fill="url(#h78)"/><rect x="699.76" y="355.81" width="532.43" height="4.3" fill="url(#h79)"/><rect x="699.76" y="359.81" width="532.43" height="4.3" fill="url(#h80)"/><rect x="699.76" y="363.81" width="532.43" height="4.3" fill="url(#h81)"/><rect x="699.76" y="367.81" width="532.43" height="4.3" fill="url(#h82)"/><rect x="699.76" y="371.81" width="532.43" height="4.3" fill="url(#h83)"/><rect x="699.76" y="375.81" width="532.43" height="4.3" fill="url(#h84)"/><rect x="699.76" y="379.81" width="532.43" height="4.3" fill="url(#h85)"/><rect x="699.76" y="383.81" width="532.43" height="4.3" fill="url(#h86)"/><rect x="699.76" y="387.81" width="532.43" height="4.3" fill="url(#h87)"/><rect x="699.76" y="391.81" width="532.43" height="4.3" fill="url(#h88)"/><rect x="699.76" y="395.81" width="532.43" height="4.3" fill="url(#h89)"/><rect x="699.76" y="399.81" width="532.43" height="4.3" fill="url(#h90)"/><rect x="699.76" y="403.81" width="532.43" height="4.3" fill="url(#h91)"/><rect x="699.76" y="407.81" width="532.43" height="4.3" fill="url(#h92)"/><rect x="699.76" y="411.81" width="532.43" height="4.3" fill="url(#h93)"/><rect x="699.76" y="415.81" width="532.43" height="4.3" fill="url(#h94)"/><rect x="699.76" y="419.81" width="532.43" height="4.3" fill="url(#h95)"/><rect x="699.76" y="423.81" width="532.43" height="4.3" fill="url(#h96)"/><rect x="699.76" y="427.81" width="532.43" height="4.3" fill="url(#h97)"/><rect x="699.76" y="431.81" width="532.43" height="4.3" fill="url(#h98)"/><rect x="699.76" y="435.81" width="532.43" height="4.3" fill="url(#h99)"/><rect x="699.76" y="439.81" width="532.43" height="4.3" fill="url(#h100)"/><rect x="699.76" y="443.81" width="532.43" height="4.3" fill="url(#h101)"/><rect x="699.76" y="447.81" width="532.43" height="4.3" fill="url(#h102)"/><rect x="699.76" y="451.81" width="532.43" height="4.3" fill="url(#h103)"/><rect x="699.76" y="455.81" width="532.43" height="4.3" fill="url(#h104)"/><rect x="699.76" y="459.81" width="532.43" height="4.3" fill="url(#h105)"/><rect x="699.76" y="463.81" width="532.43" height="4.3" fill="url(#h106)"/><rect x="699.76" y="467.81" width="532.43" height="4.3" fill="url(#h107)"/><rect x="699.76" y="471.81" width="532.43" height="4.3" fill="url(#h108)"/><rect x="699.76" y="475.81" width="532.43" height="4.3" fill="url(#h109)"/><rect x="699.76" y="479.81" width="532.43" height="4.3" fill="url(#h110)"/><rect x="699.76" y="483.81" width="532.43" height="4.3" fill="url(#h111)"/><rect x="699.76" y="487.81" width="532.43" height="4.3" fill="url(#h112)"/><rect x="699.76" y="491.81" width="532.43" height="4.3" fill="url(#h113)"/><rect x="699.76" y="495.81" width="532.43" height="4.3" fill="url(#h114)"/><rect x="699.76" y="499.81" width="532.43" height="4.3" fill="url(#h115)"/><rect x="699.76" y="503.81" width="532.43" height="4.3" fill="url(#h116)"/><rect x="699.76" y="507.81" width="532.43" height="4.3" fill="url(#h117)"/><rect x="699.76" y="511.81" width="532.43" height="4.3" fill="url(#h118)"/><rect x="699.76" y="515.81" width="532.43" height="4.3" fill="url(#h119)"/><rect x="699.76" y="519.81" width="532.43" height="4.3" fill="#fefeff"/><rect x="699.76" y="523.81" width="532.43" height="4.3" fill="#fefeff"/><rect x="699.76" y="527.81" width="532.43" height="4.3" fill="#fefeff"/><rect x="699.76" y="531.81" width="532.43" height="4.3" fill="url(#h123)"/><rect x="699.76" y="535.81" width="532.43" height="4.3" fill="url(#h124)"/><rect x="699.76" y="539.81" width="532.43" height="4.3" fill="url(#h125)"/><rect x="699.76" y="543.81" width="532.43" height="4.3" fill="url(#h126)"/><rect x="699.76" y="547.81" width="532.43" height="4.3" fill="url(#h127)"/><rect x="699.76" y="551.81" width="532.43" height="4.3" fill="url(#h128)"/><rect x="699.76" y="555.81" width="532.43" height="4.3" fill="#ffffff"/><rect x="699.76" y="559.81" width="532.43" height="4.3" fill="#ffffff"/><rect x="699.76" y="563.81" width="532.43" height="4.3" fill="#ffffff"/><rect x="699.76" y="567.81" width="532.43" height="4.3" fill="#ffffff"/><rect x="699.76" y="571.81" width="532.43" height="4.3" fill="#ffffff"/><rect x="699.76" y="575.81" width="532.43" height="4.3" fill="#ffffff"/><rect x="699.76" y="579.81" width="532.43" height="4.3" fill="#ffffff"/><rect x="699.76" y="583.81" width="532.43" height="4.3" fill="#ffffff"/><rect x="699.76" y="587.81" width="532.43" height="4.3" fill="#ffffff"/></g></g>
<path d="M851.6 47.81V580.24M1048.5 47.81V580.24" stroke="#fff" stroke-width="1" fill="none"/>
<path d="M965.4 580.24L965.4 47.81" stroke="#006400" stroke-width="2" stroke-dasharray="5.7 6.3" stroke-dashoffset="-.15" stroke-linecap="round" fill="none" clip-path="url(#c2)"/>
<path d="M699.76 306.6L1232.19 306.6" stroke="#cd2626" stroke-width="1.5" stroke-dasharray="5.7 6.3" stroke-dashoffset="-.15" stroke-linecap="round" fill="none" clip-path="url(#c2)"/>
<rect x="699.76" y="47.81" width="532.43" height="532.43" fill="none" stroke="#000" stroke-width=".66" stroke-linejoin="round"/>
<path d="M750.84 580.24H1179.96M750.84 580.24v6M858.12 580.24v6M965.4 580.24v6M1072.68 580.24v6M1179.96 580.24v6M699.76 47.81V565.39M699.76 565.39h-6M699.76 491.45h-6M699.76 417.51h-6M699.76 343.57h-6M699.76 269.63h-6M699.76 195.69h-6M699.76 121.75h-6M699.76 47.81h-6" fill="none" stroke="#000" stroke-width=".66"/>
<g font-family="'Liberation Sans',sans-serif" font-size="10.6" text-anchor="middle" fill="#000">
<text x="750.54" y="601.94">-400</text>
<text x="857.82" y="601.94">-200</text>
<text x="965.1" y="601.94">0</text>
<text x="1072.38" y="601.94">200</text>
<text x="1179.66" y="601.94">400</text>
<text transform="translate(684.86 565.39) rotate(-90)">86</text>
<text transform="translate(684.86 491.45) rotate(-90)">88</text>
<text transform="translate(684.86 417.51) rotate(-90)">90</text>
<text transform="translate(684.86 343.57) rotate(-90)">92</text>
<text transform="translate(684.86 269.63) rotate(-90)">94</text>
<text transform="translate(684.86 195.69) rotate(-90)">96</text>
<text transform="translate(684.86 121.75) rotate(-90)">98</text>
<text transform="translate(684.86 47.81) rotate(-90)">100</text>
</g>
<text x="965.98" y="31.8" font-family="'Liberation Sans',sans-serif" font-size="21.47" font-weight="bold" text-anchor="middle">Density heat map for the top hits</text>
<text x="965.98" y="625.94" font-family="'Liberation Sans',sans-serif" font-size="15.9" text-anchor="middle">Distance to peak summit</text>
<text transform="translate(661.86 314.02) rotate(-90)" font-family="'Liberation Sans',sans-serif" font-size="15.9" text-anchor="middle">Motif score</text>
<clipPath id="c3"><rect x="59.76" y="687.81" width="532.43" height="532.43"/></clipPath>
<path d="M79.5 1200.5C89.53 1200.4 126.13 1200.18 139.7 1199.9C153.27 1199.62 155.15 1199.55 160.9 1198.8C166.65 1198.05 170.22 1196.95 174.2 1195.4C178.18 1193.85 181.7 1191.82 184.8 1189.5C187.9 1187.18 190.13 1185.03 192.8 1181.5C195.47 1177.97 198.15 1173.6 200.8 1168.3C203.45 1163 206.05 1156.78 208.7 1149.7C211.35 1142.62 214.03 1134.67 216.7 1125.8C219.37 1116.93 222.05 1107.13 224.7 1096.5C227.35 1085.87 229.95 1073.75 232.6 1062C235.25 1050.25 238.2 1036.67 240.6 1026C243 1015.33 244.81 1008.17 247 998C249.19 987.83 251.58 976.67 253.75 965C255.92 953.33 258.29 938.83 260 928C261.71 917.17 262.67 910 264 900C265.33 890 266.75 878 268 868C269.25 858 270.33 847.33 271.5 840C272.67 832.67 273.79 827.67 275 824C276.21 820.33 277.5 819.25 278.75 818C280 816.75 281.04 816.33 282.5 816.5C283.96 816.67 285.83 817.67 287.5 819C289.17 820.33 290.92 822.79 292.5 824.5C294.08 826.21 295.75 828.25 297 829.25C298.25 830.25 298.88 830.71 300 830.5C301.12 830.29 302.29 829.75 303.75 828C305.21 826.25 307.08 822.92 308.75 820C310.42 817.08 312.21 813.08 313.75 810.5C315.29 807.92 316.79 805.71 318 804.5C319.21 803.29 319.92 803.04 321 803.25C322.08 803.46 323.21 803.79 324.5 805.75C325.79 807.71 327.42 811.79 328.75 815C330.08 818.21 331.25 822.08 332.5 825C333.75 827.92 335.08 830.71 336.25 832.5C337.42 834.29 338.62 835.12 339.5 835.75C340.38 836.38 340.58 836.71 341.5 836.25C342.42 835.79 343.67 834.75 345 833C346.33 831.25 348.17 827.62 349.5 825.75C350.83 823.88 351.83 822.62 353 821.75C354.17 820.88 355.25 820.38 356.5 820.5C357.75 820.62 359.08 821.25 360.5 822.5C361.92 823.75 363.42 825.83 365 828C366.58 830.17 368.42 833.54 370 835.5C371.58 837.46 373.04 838.88 374.5 839.75C375.96 840.62 377.42 840.54 378.75 840.75C380.08 840.96 381.25 840.71 382.5 841C383.75 841.29 385 842 386.25 842.5C387.5 843 388.88 844 390 844C391.12 844 391.75 844 393 842.5C394.25 841 395.6 839.43 397.5 835C399.4 830.57 401.69 823.92 404.4 815.9C407.11 807.88 411.1 794.4 413.75 786.9C416.4 779.4 418.57 775.28 420.3 770.9C422.03 766.52 422.85 765.12 424.1 760.6C425.35 756.08 426.55 749.68 427.8 743.75C429.05 737.82 430.5 729.84 431.6 725C432.7 720.16 433.47 717.35 434.4 714.7C435.33 712.05 436.2 710.32 437.2 709.1C438.2 707.88 439.31 707.5 440.4 707.4C441.49 707.3 442.57 707.44 443.75 708.5C444.93 709.56 446.25 711.47 447.5 713.75C448.75 716.03 450 718.76 451.25 722.2C452.5 725.64 453.75 729.56 455 734.4C456.25 739.24 457.5 744.69 458.75 751.25C460 757.81 461.25 765.62 462.5 773.75C463.75 781.88 465 790.94 466.25 800C467.5 809.06 468.75 819.03 470 828.1C471.25 837.17 472.5 845.96 473.75 854.4C475 862.84 476.25 870.63 477.5 878.75C478.75 886.87 479.75 892.93 481.25 903.1C482.75 913.27 484.52 925.72 486.5 939.8C488.48 953.88 490.88 971.22 493.1 987.6C495.32 1003.98 497.8 1023.03 499.8 1038.1C501.8 1053.17 503.47 1066.48 505.1 1078C506.73 1089.52 508.05 1098.8 509.6 1107.2C511.15 1115.6 512.72 1121.77 514.4 1128.4C516.08 1135.03 517.72 1141.23 519.7 1147C521.68 1152.77 524.08 1158.35 526.3 1163C528.52 1167.65 530.57 1171.02 533 1174.9C535.43 1178.78 538.25 1183.07 540.9 1186.3C543.55 1189.53 546.23 1192.22 548.9 1194.3C551.57 1196.38 554.25 1197.83 556.9 1198.8C559.55 1199.77 562.15 1199.82 564.8 1200.1C567.45 1200.38 571.47 1200.43 572.8 1200.5Z" fill="#f5deb3" stroke="#000" stroke-width="1.1" stroke-linejoin="round"/>
<path d="M332.2 1220.24L332.2 687.81" stroke="#cd2626" stroke-width="1.5" stroke-dasharray="5.7 6.3" stroke-dashoffset="-.15" stroke-linecap="round" fill="none" clip-path="url(#c3)"/>
<rect x="59.76" y="687.81" width="532.43" height="532.43" fill="none" stroke="#000" stroke-width=".66" stroke-linejoin="round"/>
<path d="M84.73 1220.24H548.23M84.73 1220.24v6M239.23 1220.24v6M393.73 1220.24v6M548.23 1220.24v6M59.76 710.62V1200.52M59.76 1200.52h-6M59.76 1037.22h-6M59.76 873.92h-6M59.76 710.62h-6" fill="none" stroke="#000" stroke-width=".66"/>
<g font-family="'Liberation Sans',sans-serif" font-size="10.6" text-anchor="middle" fill="#000">
<text x="84.43" y="1241.94">85</text>
<text x="238.93" y="1241.94">90</text>
<text x="393.43" y="1241.94">95</text>
<text x="547.93" y="1241.94">100</text>
<text transform="translate(44.86 1200.52) rotate(-90)">0.00</text>
<text transform="translate(44.86 1037.22) rotate(-90)">0.05</text>
<text transform="translate(44.86 873.92) rotate(-90)">0.10</text>
<text transform="translate(44.86 710.62) rotate(-90)">0.15</text>
</g>
<text x="325.98" y="671.8" font-family="'Liberation Sans',sans-serif" font-size="21.47" font-weight="bold" text-anchor="middle">Motif score threshold: 93.000</text>
<text x="325.98" y="1265.94" font-family="'Liberation Sans',sans-serif" font-size="15.9" text-anchor="middle">Motif score</text>
<text transform="translate(21.86 954.02) rotate(-90)" font-family="'Liberation Sans',sans-serif" font-size="15.9" text-anchor="middle">Density</text>
<clipPath id="c4"><rect x="699.76" y="687.81" width="532.43" height="532.43"/></clipPath>
<path d="M719.5 1200.5C720.42 1200.17 723.17 1199.57 725 1198.5C726.83 1197.43 728.86 1196.3 730.5 1194.1C732.14 1191.9 733.5 1188.77 734.85 1185.3C736.2 1181.83 737.39 1178.4 738.6 1173.3C739.81 1168.2 741.02 1161.82 742.1 1154.7C743.18 1147.58 744.12 1139.35 745.1 1130.6C746.08 1121.85 746.98 1113.13 748 1102.2C749.02 1091.27 750.17 1077.77 751.25 1065C752.33 1052.23 753.41 1038 754.5 1025.6C755.59 1013.2 756.8 1001.2 757.8 990.6C758.8 980 759.63 970.43 760.5 962C761.37 953.57 762.04 947.83 763 940C763.96 932.17 765.08 922.5 766.25 915C767.42 907.5 768.75 900.42 770 895C771.25 889.58 772.29 886.46 773.75 882.5C775.21 878.54 776.88 874.38 778.75 871.25C780.62 868.12 782.71 865.79 785 863.75C787.29 861.71 790 860.08 792.5 859C795 857.92 797.92 857.54 800 857.25C802.08 856.96 802.92 857.08 805 857.25C807.08 857.42 809.79 857.92 812.5 858.25C815.21 858.58 818.54 859.29 821.25 859.25C823.96 859.21 826.04 858.92 828.75 858C831.46 857.08 834.38 855.71 837.5 853.75C840.62 851.79 844.17 849.38 847.5 846.25C850.83 843.12 854.58 838.46 857.5 835C860.42 831.54 862.5 828.29 865 825.5C867.5 822.71 869.58 820.54 872.5 818.25C875.42 815.96 879.17 813.83 882.5 811.75C885.83 809.67 889.17 807.58 892.5 805.75C895.83 803.92 899.58 802.33 902.5 800.75C905.42 799.17 907.5 798.25 910 796.25C912.5 794.25 915 792.08 917.5 788.75C920 785.42 922.5 780.83 925 776.25C927.5 771.67 930 766.25 932.5 761.25C935 756.25 937.5 751.04 940 746.25C942.5 741.46 945 736.88 947.5 732.5C950 728.12 952.71 723.42 955 720C957.29 716.58 959.38 713.97 961.25 712C963.12 710.03 964.75 708.97 966.25 708.2C967.75 707.43 968.79 707.38 970.25 707.4C971.71 707.42 973.38 707.62 975 708.3C976.62 708.98 978.12 709.55 980 711.5C981.88 713.45 984.17 716.42 986.25 720C988.33 723.58 990.62 728.62 992.5 733C994.38 737.38 995.42 741.54 997.5 746.25C999.58 750.96 1002.5 756.46 1005 761.25C1007.5 766.04 1010 770.83 1012.5 775C1015 779.17 1017.08 782.29 1020 786.25C1022.92 790.21 1026.67 794.38 1030 798.75C1033.33 803.12 1036.67 807.92 1040 812.5C1043.33 817.08 1047.08 822.62 1050 826.25C1052.92 829.88 1054.58 831.67 1057.5 834.25C1060.42 836.83 1064.17 839 1067.5 841.75C1070.83 844.5 1074.38 847.92 1077.5 850.75C1080.62 853.58 1083.33 856.54 1086.25 858.75C1089.17 860.96 1092.08 862.88 1095 864C1097.92 865.12 1100.83 865.54 1103.75 865.5C1106.67 865.46 1109.38 864.88 1112.5 863.75C1115.62 862.62 1119.58 859.88 1122.5 858.75C1125.42 857.62 1127.5 856.96 1130 857C1132.5 857.04 1135 857.75 1137.5 859C1140 860.25 1142.71 862.46 1145 864.5C1147.29 866.54 1149.38 868.46 1151.25 871.25C1153.12 874.04 1154.58 876.88 1156.25 881.25C1157.92 885.62 1159.79 891.46 1161.25 897.5C1162.71 903.54 1163.88 910.42 1165 917.5C1166.12 924.58 1167.08 932.08 1168 940C1168.92 947.92 1169.58 955.1 1170.5 965C1171.42 974.9 1172.48 987.83 1173.5 999.4C1174.52 1010.97 1175.54 1022.73 1176.6 1034.4C1177.66 1046.07 1178.77 1058.47 1179.85 1069.4C1180.93 1080.33 1182.01 1090.15 1183.1 1100C1184.19 1109.85 1185.3 1120.12 1186.4 1128.5C1187.5 1136.88 1188.6 1143.75 1189.7 1150.3C1190.8 1156.85 1191.9 1162.68 1193 1167.8C1194.1 1172.92 1195.22 1177.35 1196.3 1181C1197.38 1184.65 1198.42 1187.33 1199.5 1189.7C1200.58 1192.07 1201.52 1193.67 1202.8 1195.2C1204.08 1196.73 1205.55 1198.02 1207.2 1198.9C1208.85 1199.78 1211.78 1200.23 1212.7 1200.5Z" fill="#f5deb3" stroke="#000" stroke-width="1.1" stroke-linejoin="round"/>
<path d="M965.55 1220.24L965.55 687.81" stroke="#006400" stroke-width="2" stroke-dasharray="5.7 6.3" stroke-dashoffset="-.15" stroke-linecap="round" fill="none" clip-path="url(#c4)"/>
<rect x="699.76" y="687.81" width="532.43" height="532.43" fill="none" stroke="#000" stroke-width=".66" stroke-linejoin="round"/>
<path d="M710.07 1220.24H1221.03M710.07 1220.24v6M795.23 1220.24v6M880.39 1220.24v6M965.55 1220.24v6M1050.71 1220.24v6M1135.87 1220.24v6M1221.03 1220.24v6M699.76 748.48V1200.52M699.76 1200.52h-6M699.76 1125.18h-6M699.76 1049.84h-6M699.76 974.5h-6M699.76 899.16h-6M699.76 823.82h-6M699.76 748.48h-6" fill="none" stroke="#000" stroke-width=".66"/>
<g font-family="'Liberation Sans',sans-serif" font-size="10.6" text-anchor="middle" fill="#000">
<text x="709.77" y="1241.94">-600</text>
<text x="794.93" y="1241.94">-400</text>
<text x="880.09" y="1241.94">-200</text>
<text x="965.25" y="1241.94">0</text>
<text x="1050.41" y="1241.94">200</text>
<text x="1135.57" y="1241.94">400</text>
<text x="1220.73" y="1241.94">600</text>
<text transform="translate(684.86 1200.52) rotate(-90)">0.0000</text>
<text transform="translate(684.86 1125.18) rotate(-90)">0.0002</text>
<text transform="translate(684.86 1049.84) rotate(-90)">0.0004</text>
<text transform="translate(684.86 974.5) rotate(-90)">0.0006</text>
<text transform="translate(684.86 899.16) rotate(-90)">0.0008</text>
<text transform="translate(684.86 823.82) rotate(-90)">0.0010</text>
<text transform="translate(684.86 748.48) rotate(-90)">0.0012</text>
</g>
<text x="965.98" y="671.8" font-family="'Liberation Sans',sans-serif" font-size="21.47" font-weight="bold" text-anchor="middle">Enrichment zone: 0.50</text>
<text x="965.98" y="1265.94" font-family="'Liberation Sans',sans-serif" font-size="15.9" text-anchor="middle">Distance to peak summit</text>
<text transform="translate(661.86 954.02) rotate(-90)" font-family="'Liberation Sans',sans-serif" font-size="15.9" text-anchor="middle">Density</text>
<path d="M1017.9 703.75H1041" stroke="#006400" stroke-width="1.1" stroke-dasharray="1.125 3.375" stroke-linecap="round" fill="none"/>
<path d="M1017.9 719.3H1041" stroke="#cd2626" stroke-width="1.1" stroke-dasharray="1.125 3.375" stroke-linecap="round" fill="none"/>
<ellipse cx="1028.8" cy="734.5" rx="3" ry="2.4" fill="#0000ff"/>
<g font-family="'Liberation Sans',sans-serif" font-size="12.94"><text x="1052.1" y="707.8">enrichment zone = 0.5</text><text x="1052.1" y="723.7">motif score threshold = 93.000</text><text x="1052.1" y="738.7">centrality p-val = NS</text></g>
</svg></body></html>
